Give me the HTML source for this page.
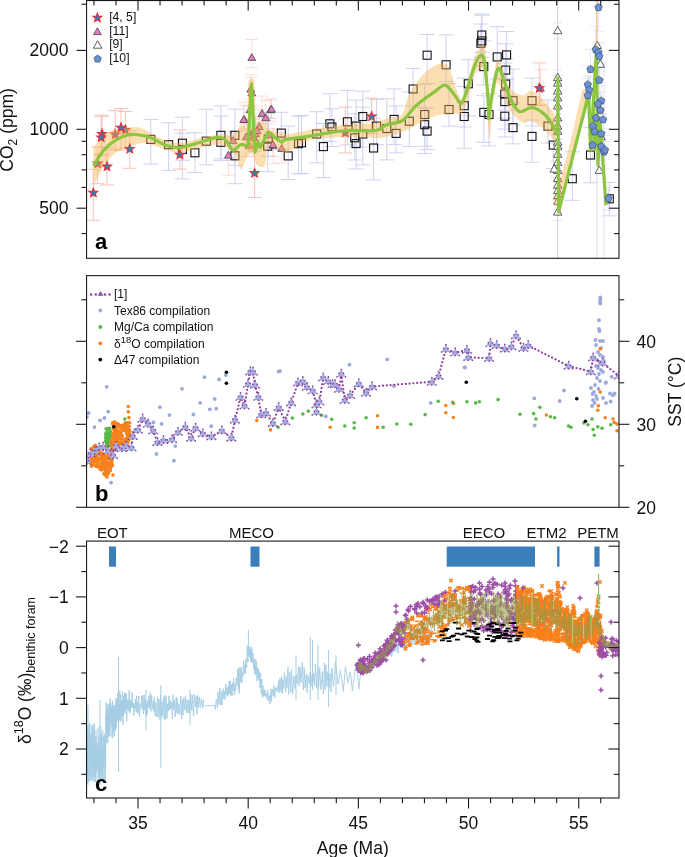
<!DOCTYPE html>
<html><head><meta charset="utf-8"><style>
html,body{margin:0;padding:0;background:#fff;}
svg{display:block;will-change:transform;}
text{font-family:"Liberation Sans",sans-serif;}
</style></head><body>
<svg width="685" height="857" viewBox="0 0 685 857">
<rect width="685" height="857" fill="#fff"/>
<clipPath id="clipA"><rect x="86.55" y="0.55" width="532.45" height="257.75"/></clipPath>
<clipPath id="clipB"><rect x="86.55" y="275.65" width="532.45" height="231.65000000000003"/></clipPath>
<clipPath id="clipC"><rect x="86.55" y="541.1" width="532.45" height="256.9"/></clipPath>
<g clip-path="url(#clipA)">
<path d="M150.8,119.6V164.1M143.3,119.6H158.3M143.3,164.1H158.3" stroke="#c9cdef" stroke-width="1.0" fill="none" opacity="0.9"/>
<path d="M168.6,122.8V170.4M161.1,122.8H176.1M161.1,170.4H176.1" stroke="#c9cdef" stroke-width="1.0" fill="none" opacity="0.9"/>
<path d="M182.4,117.2V160.2M174.9,117.2H189.9M174.9,160.2H189.9" stroke="#c9cdef" stroke-width="1.0" fill="none" opacity="0.9"/>
<path d="M182.4,133.3V178.9M174.9,133.3H189.9M174.9,178.9H189.9" stroke="#c9cdef" stroke-width="1.0" fill="none" opacity="0.9"/>
<path d="M194.9,132.7V172.5M187.4,132.7H202.4M187.4,172.5H202.4" stroke="#c9cdef" stroke-width="1.0" fill="none" opacity="0.9"/>
<path d="M206.3,109.3V164.7M198.8,109.3H213.8M198.8,164.7H213.8" stroke="#c9cdef" stroke-width="1.0" fill="none" opacity="0.9"/>
<path d="M220.9,105.9V158.9M213.4,105.9H228.4M213.4,158.9H228.4" stroke="#c9cdef" stroke-width="1.0" fill="none" opacity="0.9"/>
<path d="M220.9,116.1V160.7M213.4,116.1H228.4M213.4,160.7H228.4" stroke="#c9cdef" stroke-width="1.0" fill="none" opacity="0.9"/>
<path d="M234.9,109.1V165.2M227.4,109.1H242.4M227.4,165.2H242.4" stroke="#c9cdef" stroke-width="1.0" fill="none" opacity="0.9"/>
<path d="M234.9,131.4V183.7M227.4,131.4H242.4M227.4,183.7H242.4" stroke="#c9cdef" stroke-width="1.0" fill="none" opacity="0.9"/>
<path d="M268.2,112.4V156.1M260.7,112.4H275.7M260.7,156.1H275.7" stroke="#c9cdef" stroke-width="1.0" fill="none" opacity="0.9"/>
<path d="M267.7,118.1V171.7M260.2,118.1H275.2M260.2,171.7H275.2" stroke="#c9cdef" stroke-width="1.0" fill="none" opacity="0.9"/>
<path d="M281.3,112.3V149.6M273.8,112.3H288.8M273.8,149.6H288.8" stroke="#c9cdef" stroke-width="1.0" fill="none" opacity="0.9"/>
<path d="M288.2,126.1V179.5M280.7,126.1H295.7M280.7,179.5H295.7" stroke="#c9cdef" stroke-width="1.0" fill="none" opacity="0.9"/>
<path d="M298.5,116.2V173.8M291.0,116.2H306.0M291.0,173.8H306.0" stroke="#c9cdef" stroke-width="1.0" fill="none" opacity="0.9"/>
<path d="M301.5,115.4V173.5M294.0,115.4H309.0M294.0,173.5H309.0" stroke="#c9cdef" stroke-width="1.0" fill="none" opacity="0.9"/>
<path d="M316.7,111.7V162.8M309.2,111.7H324.2M309.2,162.8H324.2" stroke="#c9cdef" stroke-width="1.0" fill="none" opacity="0.9"/>
<path d="M323.4,123.5V177.6M315.9,123.5H330.9M315.9,177.6H330.9" stroke="#c9cdef" stroke-width="1.0" fill="none" opacity="0.9"/>
<path d="M329.9,93.7V141.4M322.4,93.7H337.4M322.4,141.4H337.4" stroke="#c9cdef" stroke-width="1.0" fill="none" opacity="0.9"/>
<path d="M331.9,108.8V146.5M324.4,108.8H339.4M324.4,146.5H339.4" stroke="#c9cdef" stroke-width="1.0" fill="none" opacity="0.9"/>
<path d="M347.4,90.4V144.8M339.9,90.4H354.9M339.9,144.8H354.9" stroke="#c9cdef" stroke-width="1.0" fill="none" opacity="0.9"/>
<path d="M356.1,100.1V146.9M348.6,100.1H363.6M348.6,146.9H363.6" stroke="#c9cdef" stroke-width="1.0" fill="none" opacity="0.9"/>
<path d="M354.7,113.7V160.0M347.2,113.7H362.2M347.2,160.0H362.2" stroke="#c9cdef" stroke-width="1.0" fill="none" opacity="0.9"/>
<path d="M356.1,122.0V169.0M348.6,122.0H363.6M348.6,169.0H363.6" stroke="#c9cdef" stroke-width="1.0" fill="none" opacity="0.9"/>
<path d="M362.8,91.2V147.0M355.3,91.2H370.3M355.3,147.0H370.3" stroke="#c9cdef" stroke-width="1.0" fill="none" opacity="0.9"/>
<path d="M362.8,107.1V164.9M355.3,107.1H370.3M355.3,164.9H370.3" stroke="#c9cdef" stroke-width="1.0" fill="none" opacity="0.9"/>
<path d="M373.6,118.3V179.9M366.1,118.3H381.1M366.1,179.9H381.1" stroke="#c9cdef" stroke-width="1.0" fill="none" opacity="0.9"/>
<path d="M376.6,99.4V144.7M369.1,99.4H384.1M369.1,144.7H384.1" stroke="#c9cdef" stroke-width="1.0" fill="none" opacity="0.9"/>
<path d="M386.8,98.7V159.9M379.3,98.7H394.3M379.3,159.9H394.3" stroke="#c9cdef" stroke-width="1.0" fill="none" opacity="0.9"/>
<path d="M394.1,88.9V144.5M386.6,88.9H401.6M386.6,144.5H401.6" stroke="#c9cdef" stroke-width="1.0" fill="none" opacity="0.9"/>
<path d="M396.1,106.0V152.8M388.6,106.0H403.6M388.6,152.8H403.6" stroke="#c9cdef" stroke-width="1.0" fill="none" opacity="0.9"/>
<path d="M409.3,91.9V146.4M401.8,91.9H416.8M401.8,146.4H416.8" stroke="#c9cdef" stroke-width="1.0" fill="none" opacity="0.9"/>
<path d="M413.1,68.4V106.0M405.6,68.4H420.6M405.6,106.0H420.6" stroke="#c9cdef" stroke-width="1.0" fill="none" opacity="0.9"/>
<path d="M424.7,84.8V146.3M417.2,84.8H432.2M417.2,146.3H432.2" stroke="#c9cdef" stroke-width="1.0" fill="none" opacity="0.9"/>
<path d="M424.7,107.3V153.5M417.2,107.3H432.2M417.2,153.5H432.2" stroke="#c9cdef" stroke-width="1.0" fill="none" opacity="0.9"/>
<path d="M427.1,108.5V149.5M419.6,108.5H434.6M419.6,149.5H434.6" stroke="#c9cdef" stroke-width="1.0" fill="none" opacity="0.9"/>
<path d="M427.1,34.5V83.5M419.6,34.5H434.6M419.6,83.5H434.6" stroke="#c9cdef" stroke-width="1.0" fill="none" opacity="0.9"/>
<path d="M446.1,34.8V81.5M438.6,34.8H453.6M438.6,81.5H453.6" stroke="#c9cdef" stroke-width="1.0" fill="none" opacity="0.9"/>
<path d="M449.0,83.7V126.2M441.5,83.7H456.5M441.5,126.2H456.5" stroke="#c9cdef" stroke-width="1.0" fill="none" opacity="0.9"/>
<path d="M464.2,78.2V127.0M456.7,78.2H471.7M456.7,127.0H471.7" stroke="#c9cdef" stroke-width="1.0" fill="none" opacity="0.9"/>
<path d="M464.2,86.4V148.2M456.7,86.4H471.7M456.7,148.2H471.7" stroke="#c9cdef" stroke-width="1.0" fill="none" opacity="0.9"/>
<path d="M468.3,59.7V115.8M460.8,59.7H475.8M460.8,115.8H475.8" stroke="#c9cdef" stroke-width="1.0" fill="none" opacity="0.9"/>
<path d="M481.8,14.0V52.2M474.3,14.0H489.3M474.3,52.2H489.3" stroke="#c9cdef" stroke-width="1.0" fill="none" opacity="0.9"/>
<path d="M481.8,15.3V57.4M474.3,15.3H489.3M474.3,57.4H489.3" stroke="#c9cdef" stroke-width="1.0" fill="none" opacity="0.9"/>
<path d="M480.9,24.0V65.7M473.4,24.0H488.4M473.4,65.7H488.4" stroke="#c9cdef" stroke-width="1.0" fill="none" opacity="0.9"/>
<path d="M483.8,40.8V85.1M476.3,40.8H491.3M476.3,85.1H491.3" stroke="#c9cdef" stroke-width="1.0" fill="none" opacity="0.9"/>
<path d="M483.8,95.7V142.3M476.3,95.7H491.3M476.3,142.3H491.3" stroke="#c9cdef" stroke-width="1.0" fill="none" opacity="0.9"/>
<path d="M489.0,93.5V145.8M481.5,93.5H496.5M481.5,145.8H496.5" stroke="#c9cdef" stroke-width="1.0" fill="none" opacity="0.9"/>
<path d="M497.2,26.6V78.9M489.7,26.6H504.7M489.7,78.9H504.7" stroke="#c9cdef" stroke-width="1.0" fill="none" opacity="0.9"/>
<path d="M506.6,31.5V79.2M499.1,31.5H514.1M499.1,79.2H514.1" stroke="#c9cdef" stroke-width="1.0" fill="none" opacity="0.9"/>
<path d="M505.7,43.8V95.6M498.2,43.8H513.2M498.2,95.6H513.2" stroke="#c9cdef" stroke-width="1.0" fill="none" opacity="0.9"/>
<path d="M505.7,59.2V110.0M498.2,59.2H513.2M498.2,110.0H513.2" stroke="#c9cdef" stroke-width="1.0" fill="none" opacity="0.9"/>
<path d="M504.8,63.0V118.1M497.3,63.0H512.3M497.3,118.1H512.3" stroke="#c9cdef" stroke-width="1.0" fill="none" opacity="0.9"/>
<path d="M504.8,78.7V129.1M497.3,78.7H512.3M497.3,129.1H512.3" stroke="#c9cdef" stroke-width="1.0" fill="none" opacity="0.9"/>
<path d="M504.8,96.4V137.0M497.3,96.4H512.3M497.3,137.0H512.3" stroke="#c9cdef" stroke-width="1.0" fill="none" opacity="0.9"/>
<path d="M513.0,69.1V125.0M505.5,69.1H520.5M505.5,125.0H520.5" stroke="#c9cdef" stroke-width="1.0" fill="none" opacity="0.9"/>
<path d="M513.0,102.8V143.8M505.5,102.8H520.5M505.5,143.8H520.5" stroke="#c9cdef" stroke-width="1.0" fill="none" opacity="0.9"/>
<path d="M532.0,78.1V126.0M524.5,78.1H539.5M524.5,126.0H539.5" stroke="#c9cdef" stroke-width="1.0" fill="none" opacity="0.9"/>
<path d="M532.0,120.1V162.3M524.5,120.1H539.5M524.5,162.3H539.5" stroke="#c9cdef" stroke-width="1.0" fill="none" opacity="0.9"/>
<path d="M548.0,100.0V143.1M540.5,100.0H555.5M540.5,143.1H555.5" stroke="#c9cdef" stroke-width="1.0" fill="none" opacity="0.9"/>
<path d="M553.3,119.1V168.6M545.8,119.1H560.8M545.8,168.6H560.8" stroke="#c9cdef" stroke-width="1.0" fill="none" opacity="0.9"/>
<path d="M572.3,151.8V200.3M564.8,151.8H579.8M564.8,200.3H579.8" stroke="#c9cdef" stroke-width="1.0" fill="none" opacity="0.9"/>
<path d="M590.5,127.7V182.8M583.0,127.7H598.0M583.0,182.8H598.0" stroke="#c9cdef" stroke-width="1.0" fill="none" opacity="0.9"/>
<path d="M609.3,182.4V215.8M601.8,182.4H616.8M601.8,215.8H616.8" stroke="#c9cdef" stroke-width="1.0" fill="none" opacity="0.9"/>
<path d="M93.3,169.3V220.3M86.3,169.3H100.3M86.3,220.3H100.3" stroke="#f5ada3" stroke-width="1.0" fill="none" opacity="0.75"/>
<path d="M102.0,116.4V154.3M95.0,116.4H109.0M95.0,154.3H109.0" stroke="#f5ada3" stroke-width="1.0" fill="none" opacity="0.75"/>
<path d="M101.2,115.1V155.9M94.2,115.1H108.2M94.2,155.9H108.2" stroke="#f5ada3" stroke-width="1.0" fill="none" opacity="0.75"/>
<path d="M107.0,147.5V185.0M100.0,147.5H114.0M100.0,185.0H114.0" stroke="#f5ada3" stroke-width="1.0" fill="none" opacity="0.75"/>
<path d="M121.0,108.5V150.0M114.0,108.5H128.0M114.0,150.0H128.0" stroke="#f5ada3" stroke-width="1.0" fill="none" opacity="0.75"/>
<path d="M129.8,130.8V168.3M122.8,130.8H136.8M122.8,168.3H136.8" stroke="#f5ada3" stroke-width="1.0" fill="none" opacity="0.75"/>
<path d="M179.9,129.9V169.1M172.9,129.9H186.9M172.9,169.1H186.9" stroke="#f5ada3" stroke-width="1.0" fill="none" opacity="0.75"/>
<path d="M254.6,151.1V197.4M247.6,151.1H261.6M247.6,197.4H261.6" stroke="#f5ada3" stroke-width="1.0" fill="none" opacity="0.75"/>
<path d="M371.6,98.2V133.6M364.6,98.2H378.6M364.6,133.6H378.6" stroke="#f5ada3" stroke-width="1.0" fill="none" opacity="0.75"/>
<path d="M539.3,62.9V105.5M532.3,62.9H546.3M532.3,105.5H546.3" stroke="#f5ada3" stroke-width="1.0" fill="none" opacity="0.75"/>
<path d="M97.7,147.0V183.7M90.7,147.0H104.7M90.7,183.7H104.7" stroke="#f5ada3" stroke-width="1.0" fill="none" opacity="0.75"/>
<path d="M115.2,110.7V149.9M108.2,110.7H122.2M108.2,149.9H122.2" stroke="#f5ada3" stroke-width="1.0" fill="none" opacity="0.75"/>
<path d="M125.4,111.5V148.7M118.4,111.5H132.4M118.4,148.7H132.4" stroke="#f5ada3" stroke-width="1.0" fill="none" opacity="0.75"/>
<path d="M345.3,107.1V152.9M338.3,107.1H352.3M338.3,152.9H352.3" stroke="#f5ada3" stroke-width="1.0" fill="none" opacity="0.75"/>
<path d="M251.8,39.5V67.8M245.8,39.5H257.8M245.8,67.8H257.8" stroke="#f5ada3" stroke-width="0.9" fill="none" opacity="0.45"/>
<path d="M250.8,77.5V105.3M244.8,77.5H256.8M244.8,105.3H256.8" stroke="#f5ada3" stroke-width="0.9" fill="none" opacity="0.45"/>
<path d="M251.8,74.7V106.7M245.8,74.7H257.8M245.8,106.7H257.8" stroke="#f5ada3" stroke-width="0.9" fill="none" opacity="0.45"/>
<path d="M249.9,99.4V119.6M243.9,99.4H255.9M243.9,119.6H255.9" stroke="#f5ada3" stroke-width="0.9" fill="none" opacity="0.45"/>
<path d="M244.3,105.6V130.3M238.3,105.6H250.3M238.3,130.3H250.3" stroke="#f5ada3" stroke-width="0.9" fill="none" opacity="0.45"/>
<path d="M262.1,96.1V131.9M256.1,96.1H268.1M256.1,131.9H268.1" stroke="#f5ada3" stroke-width="0.9" fill="none" opacity="0.45"/>
<path d="M270.5,99.9V121.4M264.5,99.9H276.5M264.5,121.4H276.5" stroke="#f5ada3" stroke-width="0.9" fill="none" opacity="0.45"/>
<path d="M265.8,100.4V133.8M259.8,100.4H271.8M259.8,133.8H271.8" stroke="#f5ada3" stroke-width="0.9" fill="none" opacity="0.45"/>
<path d="M259.3,109.2V139.0M253.3,109.2H265.3M253.3,139.0H265.3" stroke="#f5ada3" stroke-width="0.9" fill="none" opacity="0.45"/>
<path d="M253.0,122.4V143.5M247.0,122.4H259.0M247.0,143.5H259.0" stroke="#f5ada3" stroke-width="0.9" fill="none" opacity="0.45"/>
<path d="M255.5,116.5V145.3M249.5,116.5H261.5M249.5,145.3H261.5" stroke="#f5ada3" stroke-width="0.9" fill="none" opacity="0.45"/>
<path d="M252.0,124.3V149.5M246.0,124.3H258.0M246.0,149.5H258.0" stroke="#f5ada3" stroke-width="0.9" fill="none" opacity="0.45"/>
<path d="M257.0,118.0V143.9M251.0,118.0H263.0M251.0,143.9H263.0" stroke="#f5ada3" stroke-width="0.9" fill="none" opacity="0.45"/>
<path d="M254.0,119.0V147.9M248.0,119.0H260.0M248.0,147.9H260.0" stroke="#f5ada3" stroke-width="0.9" fill="none" opacity="0.45"/>
<path d="M233.1,132.9V160.3M227.1,132.9H239.1M227.1,160.3H239.1" stroke="#f5ada3" stroke-width="0.9" fill="none" opacity="0.45"/>
<path d="M228.4,136.9V175.3M222.4,136.9H234.4M222.4,175.3H234.4" stroke="#f5ada3" stroke-width="0.9" fill="none" opacity="0.45"/>
<path d="M246.2,124.0V156.6M240.2,124.0H252.2M240.2,156.6H252.2" stroke="#f5ada3" stroke-width="0.9" fill="none" opacity="0.45"/>
<path d="M249.0,126.5V156.3M243.0,126.5H255.0M243.0,156.3H255.0" stroke="#f5ada3" stroke-width="0.9" fill="none" opacity="0.45"/>
<path d="M273.3,128.7V163.6M267.3,128.7H279.3M267.3,163.6H279.3" stroke="#f5ada3" stroke-width="0.9" fill="none" opacity="0.45"/>
<path d="M281.7,132.8V163.0M275.7,132.8H287.7M275.7,163.0H287.7" stroke="#f5ada3" stroke-width="0.9" fill="none" opacity="0.45"/>
<path d="M268.6,123.8V147.4M262.6,123.8H274.6M262.6,147.4H274.6" stroke="#f5ada3" stroke-width="0.9" fill="none" opacity="0.45"/>
<path d="M271.5,98.8V118.3M265.5,98.8H277.5M265.5,118.3H277.5" stroke="#f5ada3" stroke-width="0.9" fill="none" opacity="0.45"/>
<path d="M272.9,130.0V156.5M266.9,130.0H278.9M266.9,156.5H278.9" stroke="#f5ada3" stroke-width="0.9" fill="none" opacity="0.45"/>
<path d="M243.7,102.2V128.4M237.7,102.2H249.7M237.7,128.4H249.7" stroke="#f5ada3" stroke-width="0.9" fill="none" opacity="0.45"/>
<path d="M540.5,69.7V104.8M534.5,69.7H546.5M534.5,104.8H546.5" stroke="#f5ada3" stroke-width="0.9" fill="none" opacity="0.45"/>
<path d="M598.5,-16.4V30.9M592.5,-16.4H604.5M592.5,30.9H604.5" stroke="#c9cdef" stroke-width="0.9" fill="none" opacity="0.5"/>
<path d="M595.8,26.2V68.4M589.8,26.2H601.8M589.8,68.4H601.8" stroke="#c9cdef" stroke-width="0.9" fill="none" opacity="0.5"/>
<path d="M598.5,42.2V73.6M592.5,42.2H604.5M592.5,73.6H604.5" stroke="#c9cdef" stroke-width="0.9" fill="none" opacity="0.5"/>
<path d="M599.3,43.8V70.9M593.3,43.8H605.3M593.3,70.9H605.3" stroke="#c9cdef" stroke-width="0.9" fill="none" opacity="0.5"/>
<path d="M590.5,49.4V87.2M584.5,49.4H596.5M584.5,87.2H596.5" stroke="#c9cdef" stroke-width="0.9" fill="none" opacity="0.5"/>
<path d="M599.3,63.9V104.2M593.3,63.9H605.3M593.3,104.2H605.3" stroke="#c9cdef" stroke-width="0.9" fill="none" opacity="0.5"/>
<path d="M587.8,65.4V99.7M581.8,65.4H593.8M581.8,99.7H593.8" stroke="#c9cdef" stroke-width="0.9" fill="none" opacity="0.5"/>
<path d="M589.1,76.2V112.9M583.1,76.2H595.1M583.1,112.9H595.1" stroke="#c9cdef" stroke-width="0.9" fill="none" opacity="0.5"/>
<path d="M587.8,78.2V117.1M581.8,78.2H593.8M581.8,117.1H593.8" stroke="#c9cdef" stroke-width="0.9" fill="none" opacity="0.5"/>
<path d="M601.2,85.5V113.8M595.2,85.5H607.2M595.2,113.8H607.2" stroke="#c9cdef" stroke-width="0.9" fill="none" opacity="0.5"/>
<path d="M600.4,92.2V132.5M594.4,92.2H606.4M594.4,132.5H606.4" stroke="#c9cdef" stroke-width="0.9" fill="none" opacity="0.5"/>
<path d="M603.1,107.0V141.5M597.1,107.0H609.1M597.1,141.5H609.1" stroke="#c9cdef" stroke-width="0.9" fill="none" opacity="0.5"/>
<path d="M593.1,102.5V148.4M587.1,102.5H599.1M587.1,148.4H599.1" stroke="#c9cdef" stroke-width="0.9" fill="none" opacity="0.5"/>
<path d="M594.5,109.2V141.7M588.5,109.2H600.5M588.5,141.7H600.5" stroke="#c9cdef" stroke-width="0.9" fill="none" opacity="0.5"/>
<path d="M601.2,114.4V156.7M595.2,114.4H607.2M595.2,156.7H607.2" stroke="#c9cdef" stroke-width="0.9" fill="none" opacity="0.5"/>
<path d="M592.6,134.4V159.2M586.6,134.4H598.6M586.6,159.2H598.6" stroke="#c9cdef" stroke-width="0.9" fill="none" opacity="0.5"/>
<path d="M601.2,132.4V164.3M595.2,132.4H607.2M595.2,164.3H607.2" stroke="#c9cdef" stroke-width="0.9" fill="none" opacity="0.5"/>
<path d="M603.9,135.5V168.9M597.9,135.5H609.9M597.9,168.9H609.9" stroke="#c9cdef" stroke-width="0.9" fill="none" opacity="0.5"/>
<path d="M605.0,128.4V160.0M599.0,128.4H611.0M599.0,160.0H611.0" stroke="#c9cdef" stroke-width="0.9" fill="none" opacity="0.5"/>
<path d="M608.5,187.5V210.2M602.5,187.5H614.5M602.5,210.2H614.5" stroke="#c9cdef" stroke-width="0.9" fill="none" opacity="0.5"/>
<path d="M596.0,106.1V129.0M590.0,106.1H602.0M590.0,129.0H602.0" stroke="#c9cdef" stroke-width="0.9" fill="none" opacity="0.5"/>
<path d="M598.0,79.4V126.8M592.0,79.4H604.0M592.0,126.8H604.0" stroke="#c9cdef" stroke-width="0.9" fill="none" opacity="0.5"/>
<line x1="557.70" y1="0.00" x2="557.70" y2="258.00" stroke="#cfcfcf" stroke-width="1.0" />
<path d="M553.7,22.9H561.7M553.7,38.9H561.7" stroke="#d9d9d9" stroke-width="0.8"/>
<path d="M553.7,69.9H561.7M553.7,85.9H561.7" stroke="#d9d9d9" stroke-width="0.8"/>
<path d="M553.7,75.3H561.7M553.7,91.3H561.7" stroke="#d9d9d9" stroke-width="0.8"/>
<path d="M553.7,83.3H561.7M553.7,99.3H561.7" stroke="#d9d9d9" stroke-width="0.8"/>
<path d="M553.7,90.1H561.7M553.7,106.1H561.7" stroke="#d9d9d9" stroke-width="0.8"/>
<path d="M553.7,98.1H561.7M553.7,114.1H561.7" stroke="#d9d9d9" stroke-width="0.8"/>
<path d="M553.7,110.2H561.7M553.7,126.2H561.7" stroke="#d9d9d9" stroke-width="0.8"/>
<path d="M553.7,118.3H561.7M553.7,134.3H561.7" stroke="#d9d9d9" stroke-width="0.8"/>
<path d="M553.7,123.6H561.7M553.7,139.6H561.7" stroke="#d9d9d9" stroke-width="0.8"/>
<path d="M553.7,134.4H561.7M553.7,150.4H561.7" stroke="#d9d9d9" stroke-width="0.8"/>
<path d="M553.7,138.4H561.7M553.7,154.4H561.7" stroke="#d9d9d9" stroke-width="0.8"/>
<path d="M553.7,146.5H561.7M553.7,162.5H561.7" stroke="#d9d9d9" stroke-width="0.8"/>
<path d="M553.7,154.5H561.7M553.7,170.5H561.7" stroke="#d9d9d9" stroke-width="0.8"/>
<path d="M553.7,162.6H561.7M553.7,178.6H561.7" stroke="#d9d9d9" stroke-width="0.8"/>
<path d="M553.7,170.7H561.7M553.7,186.7H561.7" stroke="#d9d9d9" stroke-width="0.8"/>
<path d="M553.7,177.4H561.7M553.7,193.4H561.7" stroke="#d9d9d9" stroke-width="0.8"/>
<path d="M553.7,182.8H561.7M553.7,198.8H561.7" stroke="#d9d9d9" stroke-width="0.8"/>
<path d="M553.7,188.1H561.7M553.7,204.1H561.7" stroke="#d9d9d9" stroke-width="0.8"/>
<path d="M553.7,193.5H561.7M553.7,209.5H561.7" stroke="#d9d9d9" stroke-width="0.8"/>
<path d="M553.7,204.3H561.7M553.7,220.3H561.7" stroke="#d9d9d9" stroke-width="0.8"/>
<path d="M550.2,161.3H558.2M550.2,177.3H558.2" stroke="#d9d9d9" stroke-width="0.8"/>
<line x1="597.00" y1="0.00" x2="597.00" y2="258.00" stroke="#dedbe8" stroke-width="1.0" />
<line x1="604.00" y1="60.00" x2="604.00" y2="258.00" stroke="#e2e0ee" stroke-width="1.0" />
<rect x="146.8" y="135.4" width="8.0" height="8.0" fill="none" stroke="#111" stroke-width="1.1"/>
<rect x="164.6" y="140.7" width="8.0" height="8.0" fill="none" stroke="#111" stroke-width="1.1"/>
<rect x="178.4" y="139.2" width="8.0" height="8.0" fill="none" stroke="#111" stroke-width="1.1"/>
<rect x="178.4" y="145.5" width="8.0" height="8.0" fill="none" stroke="#111" stroke-width="1.1"/>
<rect x="190.9" y="148.8" width="8.0" height="8.0" fill="none" stroke="#111" stroke-width="1.1"/>
<rect x="202.3" y="137.2" width="8.0" height="8.0" fill="none" stroke="#111" stroke-width="1.1"/>
<rect x="216.9" y="131.3" width="8.0" height="8.0" fill="none" stroke="#111" stroke-width="1.1"/>
<rect x="216.9" y="138.3" width="8.0" height="8.0" fill="none" stroke="#111" stroke-width="1.1"/>
<rect x="230.9" y="131.3" width="8.0" height="8.0" fill="none" stroke="#111" stroke-width="1.1"/>
<rect x="230.9" y="151.8" width="8.0" height="8.0" fill="none" stroke="#111" stroke-width="1.1"/>
<rect x="264.2" y="135.1" width="8.0" height="8.0" fill="none" stroke="#111" stroke-width="1.1"/>
<rect x="263.7" y="142.2" width="8.0" height="8.0" fill="none" stroke="#111" stroke-width="1.1"/>
<rect x="277.3" y="129.1" width="8.0" height="8.0" fill="none" stroke="#111" stroke-width="1.1"/>
<rect x="284.2" y="151.9" width="8.0" height="8.0" fill="none" stroke="#111" stroke-width="1.1"/>
<rect x="294.5" y="139.7" width="8.0" height="8.0" fill="none" stroke="#111" stroke-width="1.1"/>
<rect x="297.5" y="138.8" width="8.0" height="8.0" fill="none" stroke="#111" stroke-width="1.1"/>
<rect x="312.7" y="130.0" width="8.0" height="8.0" fill="none" stroke="#111" stroke-width="1.1"/>
<rect x="319.4" y="142.6" width="8.0" height="8.0" fill="none" stroke="#111" stroke-width="1.1"/>
<rect x="325.9" y="119.8" width="8.0" height="8.0" fill="none" stroke="#111" stroke-width="1.1"/>
<rect x="327.9" y="123.0" width="8.0" height="8.0" fill="none" stroke="#111" stroke-width="1.1"/>
<rect x="343.4" y="117.8" width="8.0" height="8.0" fill="none" stroke="#111" stroke-width="1.1"/>
<rect x="352.1" y="122.1" width="8.0" height="8.0" fill="none" stroke="#111" stroke-width="1.1"/>
<rect x="350.7" y="133.8" width="8.0" height="8.0" fill="none" stroke="#111" stroke-width="1.1"/>
<rect x="352.1" y="139.6" width="8.0" height="8.0" fill="none" stroke="#111" stroke-width="1.1"/>
<rect x="358.8" y="112.5" width="8.0" height="8.0" fill="none" stroke="#111" stroke-width="1.1"/>
<rect x="358.8" y="130.0" width="8.0" height="8.0" fill="none" stroke="#111" stroke-width="1.1"/>
<rect x="369.6" y="144.0" width="8.0" height="8.0" fill="none" stroke="#111" stroke-width="1.1"/>
<rect x="372.6" y="122.1" width="8.0" height="8.0" fill="none" stroke="#111" stroke-width="1.1"/>
<rect x="382.8" y="124.5" width="8.0" height="8.0" fill="none" stroke="#111" stroke-width="1.1"/>
<rect x="390.1" y="115.4" width="8.0" height="8.0" fill="none" stroke="#111" stroke-width="1.1"/>
<rect x="392.1" y="129.4" width="8.0" height="8.0" fill="none" stroke="#111" stroke-width="1.1"/>
<rect x="405.3" y="117.2" width="8.0" height="8.0" fill="none" stroke="#111" stroke-width="1.1"/>
<rect x="409.1" y="85.0" width="8.0" height="8.0" fill="none" stroke="#111" stroke-width="1.1"/>
<rect x="420.7" y="110.5" width="8.0" height="8.0" fill="none" stroke="#111" stroke-width="1.1"/>
<rect x="420.7" y="120.7" width="8.0" height="8.0" fill="none" stroke="#111" stroke-width="1.1"/>
<rect x="423.1" y="127.1" width="8.0" height="8.0" fill="none" stroke="#111" stroke-width="1.1"/>
<rect x="423.1" y="51.2" width="8.0" height="8.0" fill="none" stroke="#111" stroke-width="1.1"/>
<rect x="442.1" y="60.8" width="8.0" height="8.0" fill="none" stroke="#111" stroke-width="1.1"/>
<rect x="445.0" y="105.5" width="8.0" height="8.0" fill="none" stroke="#111" stroke-width="1.1"/>
<rect x="460.2" y="101.7" width="8.0" height="8.0" fill="none" stroke="#111" stroke-width="1.1"/>
<rect x="460.2" y="112.5" width="8.0" height="8.0" fill="none" stroke="#111" stroke-width="1.1"/>
<rect x="464.3" y="79.8" width="8.0" height="8.0" fill="none" stroke="#111" stroke-width="1.1"/>
<rect x="477.8" y="31.0" width="8.0" height="8.0" fill="none" stroke="#111" stroke-width="1.1"/>
<rect x="477.8" y="36.9" width="8.0" height="8.0" fill="none" stroke="#111" stroke-width="1.1"/>
<rect x="476.9" y="39.2" width="8.0" height="8.0" fill="none" stroke="#111" stroke-width="1.1"/>
<rect x="479.8" y="62.6" width="8.0" height="8.0" fill="none" stroke="#111" stroke-width="1.1"/>
<rect x="479.8" y="108.4" width="8.0" height="8.0" fill="none" stroke="#111" stroke-width="1.1"/>
<rect x="485.0" y="110.5" width="8.0" height="8.0" fill="none" stroke="#111" stroke-width="1.1"/>
<rect x="493.2" y="52.9" width="8.0" height="8.0" fill="none" stroke="#111" stroke-width="1.1"/>
<rect x="502.6" y="50.9" width="8.0" height="8.0" fill="none" stroke="#111" stroke-width="1.1"/>
<rect x="501.7" y="66.1" width="8.0" height="8.0" fill="none" stroke="#111" stroke-width="1.1"/>
<rect x="501.7" y="80.1" width="8.0" height="8.0" fill="none" stroke="#111" stroke-width="1.1"/>
<rect x="500.8" y="90.0" width="8.0" height="8.0" fill="none" stroke="#111" stroke-width="1.1"/>
<rect x="500.8" y="97.6" width="8.0" height="8.0" fill="none" stroke="#111" stroke-width="1.1"/>
<rect x="500.8" y="112.2" width="8.0" height="8.0" fill="none" stroke="#111" stroke-width="1.1"/>
<rect x="509.0" y="96.7" width="8.0" height="8.0" fill="none" stroke="#111" stroke-width="1.1"/>
<rect x="509.0" y="123.6" width="8.0" height="8.0" fill="none" stroke="#111" stroke-width="1.1"/>
<rect x="528.0" y="96.7" width="8.0" height="8.0" fill="none" stroke="#111" stroke-width="1.1"/>
<rect x="528.0" y="132.4" width="8.0" height="8.0" fill="none" stroke="#111" stroke-width="1.1"/>
<rect x="544.0" y="122.1" width="8.0" height="8.0" fill="none" stroke="#111" stroke-width="1.1"/>
<rect x="549.3" y="141.1" width="8.0" height="8.0" fill="none" stroke="#111" stroke-width="1.1"/>
<rect x="568.3" y="174.7" width="8.0" height="8.0" fill="none" stroke="#111" stroke-width="1.1"/>
<rect x="586.5" y="151.0" width="8.0" height="8.0" fill="none" stroke="#111" stroke-width="1.1"/>
<rect x="605.3" y="194.8" width="8.0" height="8.0" fill="none" stroke="#111" stroke-width="1.1"/>
<polygon points="97.7,158.9 98.9,161.9 102.2,162.1 99.7,164.2 100.5,167.4 97.7,165.7 94.9,167.4 95.7,164.2 93.2,162.1 96.5,161.9" fill="#2f7dc0" stroke="#e53238" stroke-width="1.15" stroke-linejoin="miter"/>
<polygon points="115.2,129.8 116.4,132.8 119.7,133.0 117.2,135.1 118.0,138.3 115.2,136.6 112.4,138.3 113.2,135.1 110.7,133.0 114.0,132.8" fill="#2f7dc0" stroke="#e53238" stroke-width="1.15" stroke-linejoin="miter"/>
<polygon points="125.4,125.3 126.6,128.3 129.9,128.5 127.4,130.6 128.2,133.8 125.4,132.1 122.6,133.8 123.4,130.6 120.9,128.5 124.2,128.3" fill="#2f7dc0" stroke="#e53238" stroke-width="1.15" stroke-linejoin="miter"/>
<polygon points="345.3,128.1 346.5,131.1 349.8,131.3 347.3,133.4 348.1,136.6 345.3,134.9 342.5,136.6 343.3,133.4 340.8,131.3 344.1,131.1" fill="#2f7dc0" stroke="#e53238" stroke-width="1.15" stroke-linejoin="miter"/>
<polygon points="251.8,53.6 247.9,60.4 255.7,60.4" fill="#e37bc0" stroke="#444" stroke-width="0.8" />
<polygon points="250.8,85.3 246.9,92.1 254.7,92.1" fill="#e37bc0" stroke="#444" stroke-width="0.8" />
<polygon points="251.8,89.1 247.9,95.9 255.7,95.9" fill="#e37bc0" stroke="#444" stroke-width="0.8" />
<polygon points="249.9,105.9 246.0,112.7 253.8,112.7" fill="#e37bc0" stroke="#444" stroke-width="0.8" />
<polygon points="244.3,115.8 240.4,122.6 248.2,122.6" fill="#e37bc0" stroke="#444" stroke-width="0.8" />
<polygon points="262.1,109.6 258.2,116.4 266.0,116.4" fill="#e37bc0" stroke="#444" stroke-width="0.8" />
<polygon points="270.5,105.9 266.6,112.7 274.4,112.7" fill="#e37bc0" stroke="#444" stroke-width="0.8" />
<polygon points="265.8,113.9 261.9,120.7 269.7,120.7" fill="#e37bc0" stroke="#444" stroke-width="0.8" />
<polygon points="259.3,122.7 255.4,129.5 263.2,129.5" fill="#e37bc0" stroke="#444" stroke-width="0.8" />
<polygon points="253.0,127.8 249.1,134.6 256.9,134.6" fill="#e37bc0" stroke="#444" stroke-width="0.8" />
<polygon points="255.5,129.8 251.6,136.6 259.4,136.6" fill="#e37bc0" stroke="#444" stroke-width="0.8" />
<polygon points="252.0,132.3 248.1,139.1 255.9,139.1" fill="#e37bc0" stroke="#444" stroke-width="0.8" />
<polygon points="257.0,126.8 253.1,133.6 260.9,133.6" fill="#e37bc0" stroke="#444" stroke-width="0.8" />
<polygon points="254.0,133.8 250.1,140.6 257.9,140.6" fill="#e37bc0" stroke="#444" stroke-width="0.8" />
<polygon points="233.1,136.8 229.2,143.6 237.0,143.6" fill="#e37bc0" stroke="#444" stroke-width="0.8" />
<polygon points="228.4,151.3 224.5,158.1 232.3,158.1" fill="#e37bc0" stroke="#444" stroke-width="0.8" />
<polygon points="246.2,133.0 242.3,139.8 250.1,139.8" fill="#e37bc0" stroke="#444" stroke-width="0.8" />
<polygon points="249.0,141.4 245.1,148.2 252.9,148.2" fill="#e37bc0" stroke="#444" stroke-width="0.8" />
<polygon points="273.3,141.4 269.4,148.2 277.2,148.2" fill="#e37bc0" stroke="#444" stroke-width="0.8" />
<polygon points="281.7,144.6 277.8,151.4 285.6,151.4" fill="#e37bc0" stroke="#444" stroke-width="0.8" />
<polygon points="268.6,131.1 264.7,137.9 272.5,137.9" fill="#e37bc0" stroke="#444" stroke-width="0.8" />
<polygon points="271.5,105.3 267.6,112.1 275.4,112.1" fill="#e37bc0" stroke="#444" stroke-width="0.8" />
<polygon points="272.9,140.9 269.0,147.7 276.8,147.7" fill="#e37bc0" stroke="#444" stroke-width="0.8" />
<polygon points="243.7,115.7 239.8,122.5 247.6,122.5" fill="#e37bc0" stroke="#444" stroke-width="0.8" />
<polygon points="540.5,84.3 536.6,91.1 544.4,91.1" fill="#e37bc0" stroke="#444" stroke-width="0.8" />
<polygon points="557.7,26.3 553.5,33.7 561.9,33.7" fill="#ffffff" stroke="#333" stroke-width="0.8" />
<polygon points="557.7,73.3 553.5,80.7 561.9,80.7" fill="#ffffff" stroke="#333" stroke-width="0.8" />
<polygon points="557.7,78.7 553.5,86.1 561.9,86.1" fill="#ffffff" stroke="#333" stroke-width="0.8" />
<polygon points="557.7,86.7 553.5,94.1 561.9,94.1" fill="#ffffff" stroke="#333" stroke-width="0.8" />
<polygon points="557.7,93.5 553.5,100.9 561.9,100.9" fill="#ffffff" stroke="#333" stroke-width="0.8" />
<polygon points="557.7,101.5 553.5,108.9 561.9,108.9" fill="#ffffff" stroke="#333" stroke-width="0.8" />
<polygon points="557.7,113.6 553.5,121.0 561.9,121.0" fill="#ffffff" stroke="#333" stroke-width="0.8" />
<polygon points="557.7,121.7 553.5,129.1 561.9,129.1" fill="#ffffff" stroke="#333" stroke-width="0.8" />
<polygon points="557.7,127.0 553.5,134.4 561.9,134.4" fill="#ffffff" stroke="#333" stroke-width="0.8" />
<polygon points="557.7,137.8 553.5,145.2 561.9,145.2" fill="#ffffff" stroke="#333" stroke-width="0.8" />
<polygon points="557.7,141.8 553.5,149.2 561.9,149.2" fill="#ffffff" stroke="#333" stroke-width="0.8" />
<polygon points="557.7,149.9 553.5,157.3 561.9,157.3" fill="#ffffff" stroke="#333" stroke-width="0.8" />
<polygon points="557.7,157.9 553.5,165.3 561.9,165.3" fill="#ffffff" stroke="#333" stroke-width="0.8" />
<polygon points="557.7,166.0 553.5,173.4 561.9,173.4" fill="#ffffff" stroke="#333" stroke-width="0.8" />
<polygon points="557.7,174.1 553.5,181.5 561.9,181.5" fill="#ffffff" stroke="#333" stroke-width="0.8" />
<polygon points="557.7,180.8 553.5,188.2 561.9,188.2" fill="#ffffff" stroke="#333" stroke-width="0.8" />
<polygon points="557.7,186.2 553.5,193.6 561.9,193.6" fill="#ffffff" stroke="#333" stroke-width="0.8" />
<polygon points="557.7,191.5 553.5,198.9 561.9,198.9" fill="#ffffff" stroke="#333" stroke-width="0.8" />
<polygon points="557.7,196.9 553.5,204.3 561.9,204.3" fill="#ffffff" stroke="#333" stroke-width="0.8" />
<polygon points="557.7,207.7 553.5,215.1 561.9,215.1" fill="#ffffff" stroke="#333" stroke-width="0.8" />
<polygon points="554.2,164.7 550.0,172.1 558.4,172.1" fill="#ffffff" stroke="#333" stroke-width="0.8" />
<polygon points="597.2,41.1 593.0,48.5 601.4,48.5" fill="#ffffff" stroke="#333" stroke-width="0.8" />
<polygon points="600.4,59.9 596.2,67.3 604.6,67.3" fill="#ffffff" stroke="#333" stroke-width="0.8" />
<polygon points="599.3,166.0 595.1,173.4 603.5,173.4" fill="#ffffff" stroke="#333" stroke-width="0.8" />
<polygon points="601.0,132.4 596.8,139.8 605.2,139.8" fill="#ffffff" stroke="#333" stroke-width="0.8" />
<path d="M93.3,147.0 C94.2,146.0 96.8,143.2 98.9,141.0 C101.0,138.8 103.0,136.0 105.8,134.0 C108.6,132.0 112.5,130.1 115.8,129.0 C119.1,127.9 122.3,127.8 125.7,127.5 C129.1,127.2 132.9,126.7 136.0,127.0 C139.1,127.3 140.1,127.5 144.4,129.5 C148.7,131.5 156.1,136.5 161.9,138.8 C167.7,141.1 172.6,143.4 179.4,143.2 C186.2,143.0 196.0,138.8 202.8,137.4 C209.6,136.0 215.8,134.9 220.3,134.5 C224.8,134.1 227.4,135.2 230.0,135.0 C232.6,134.8 234.2,134.7 236.0,133.0 C237.8,131.3 239.1,125.8 240.6,125.0 C242.1,124.2 243.8,126.8 245.0,128.0 C246.2,129.2 247.1,130.7 248.0,132.0 C248.9,133.3 249.7,135.0 250.5,136.0 C251.3,137.0 251.8,140.3 253.0,138.0 C254.2,135.7 255.4,124.8 257.4,122.2 C259.4,119.6 263.0,121.0 264.9,122.2 C266.8,123.5 265.8,127.9 268.6,129.7 C271.4,131.5 278.6,132.3 281.7,133.0 C284.8,133.7 284.4,134.2 287.5,134.0 C290.6,133.8 295.6,132.8 300.0,132.0 C304.4,131.2 306.2,130.2 313.8,129.0 C321.4,127.8 335.7,125.5 345.9,124.5 C356.1,123.5 369.4,123.7 375.1,123.0 C380.8,122.3 377.4,121.4 380.0,120.5 C382.6,119.6 387.4,118.5 391.0,117.5 C394.6,116.5 398.9,118.6 401.9,114.7 C404.9,110.8 405.5,100.8 409.2,94.0 C412.9,87.2 418.9,79.0 423.8,74.0 C428.7,69.0 434.3,65.5 438.4,64.3 C442.5,63.0 445.7,62.5 448.6,66.5 C451.5,70.5 453.7,82.7 455.9,88.0 C458.1,93.3 459.8,99.9 461.8,98.6 C463.8,97.3 465.7,86.7 467.8,80.0 C469.9,73.3 472.2,64.2 474.3,58.5 C476.4,52.8 479.0,47.8 480.7,45.7 C482.4,43.6 483.6,42.0 484.7,45.7 C485.8,49.5 486.3,59.1 487.1,68.2 C487.9,77.3 488.8,96.7 489.5,100.3 C490.2,103.9 490.4,94.0 491.1,90.0 C491.8,86.0 492.4,81.2 493.5,76.2 C494.6,71.2 496.0,61.2 497.6,60.1 C499.2,59.0 501.2,65.2 503.2,69.8 C505.2,74.3 506.4,83.1 509.6,87.4 C512.8,91.7 518.9,95.0 522.4,95.5 C525.9,96.0 527.5,90.4 530.5,90.7 C533.5,91.0 536.6,93.9 540.1,97.1 C543.6,100.3 548.8,106.5 551.4,110.0 C554.0,113.5 555.2,116.7 556.0,118.0 L556.0,146.0 C555.2,144.5 554.0,140.3 551.4,137.0 C548.8,133.7 543.6,128.7 540.1,126.0 C536.6,123.3 533.5,121.5 530.5,121.0 C527.5,120.5 525.9,124.6 522.4,122.8 C518.9,121.0 512.8,114.5 509.6,110.0 C506.4,105.5 505.2,100.1 503.2,95.5 C501.2,90.9 499.2,81.8 497.6,82.6 C496.0,83.3 494.6,93.3 493.5,100.0 C492.4,106.7 491.8,116.3 491.1,122.8 C490.4,129.3 490.2,141.8 489.5,138.8 C488.8,135.8 487.9,115.4 487.1,105.0 C486.3,94.6 485.8,82.3 484.7,76.2 C483.6,70.1 482.4,68.2 480.7,68.2 C479.0,68.2 476.4,70.9 474.3,76.2 C472.2,81.5 469.9,94.1 467.8,100.3 C465.7,106.5 463.8,111.3 461.8,113.5 C459.8,115.7 458.1,113.0 455.9,113.2 C453.7,113.4 451.5,114.2 448.6,114.5 C445.7,114.8 442.5,114.0 438.4,115.0 C434.3,116.0 428.7,118.2 423.8,120.5 C418.9,122.8 412.9,127.0 409.2,129.0 C405.5,130.9 404.9,131.1 401.9,132.2 C398.9,133.3 394.6,134.5 391.0,135.5 C387.4,136.5 382.6,137.6 380.0,138.0 C377.4,138.4 380.8,138.2 375.1,138.0 C369.4,137.8 356.1,136.8 345.9,137.0 C335.7,137.2 321.4,138.0 313.8,139.3 C306.2,140.6 304.4,142.8 300.0,145.0 C295.6,147.2 290.6,151.4 287.5,152.4 C284.4,153.4 284.8,152.3 281.7,151.0 C278.6,149.7 271.4,142.3 268.6,144.7 C265.8,147.1 266.8,161.8 264.9,165.2 C263.0,168.6 259.4,166.7 257.4,165.2 C255.4,163.7 254.2,158.0 253.0,156.0 C251.8,154.0 251.3,153.2 250.5,153.0 C249.7,152.8 248.9,153.5 248.0,155.0 C247.1,156.5 246.2,159.7 245.0,162.0 C243.8,164.3 242.1,170.0 240.6,169.0 C239.1,168.0 237.8,159.2 236.0,156.0 C234.2,152.8 232.6,151.9 230.0,150.0 C227.4,148.1 224.8,145.2 220.3,144.7 C215.8,144.2 209.6,145.7 202.8,147.0 C196.0,148.3 186.2,152.6 179.4,152.8 C172.6,153.0 167.7,149.8 161.9,148.2 C156.1,146.6 148.7,143.6 144.4,143.0 C140.1,142.4 139.1,144.0 136.0,144.8 C132.9,145.6 129.1,146.5 125.7,147.8 C122.3,149.1 119.1,150.2 115.8,152.7 C112.5,155.2 108.6,159.3 105.8,163.0 C103.0,166.7 101.0,171.2 98.9,175.0 C96.8,178.8 94.2,184.2 93.3,186.0 Z" fill="rgb(246,176,72)" fill-opacity="0.42"/>
<polyline points="249.5,150.0 251.4,82.0 253.5,152.0" fill="none" stroke="rgb(246,176,72)" stroke-width="6" stroke-opacity="0.42" stroke-linejoin="round"/>
<polyline points="556.5,206.0 572.0,150.0 585.8,90.0" fill="none" stroke="rgb(246,176,72)" stroke-width="7" stroke-opacity="0.42" stroke-linejoin="round"/>
<polyline points="596.8,0.0 596.8,50.0" fill="none" stroke="rgb(246,176,72)" stroke-width="1.6" stroke-opacity="0.5"/>
<path d="M93.4,166.0 C95.1,163.4 99.9,154.8 103.5,150.5 C107.1,146.2 111.3,142.8 115.2,140.3 C119.1,137.8 123.5,136.3 126.9,135.3 C130.3,134.3 131.7,134.2 135.6,134.5 C139.5,134.8 145.3,135.7 150.2,137.4 C155.1,139.1 159.9,143.0 164.8,144.7 C169.7,146.4 174.0,147.8 179.4,147.6 C184.8,147.3 190.7,144.9 197.0,143.2 C203.3,141.5 212.6,137.8 217.4,137.4 C222.2,137.0 223.4,138.3 226.0,140.5 C228.6,142.7 230.7,149.6 233.1,150.3 C235.5,151.0 238.1,145.3 240.6,144.7 C243.1,144.1 246.8,146.2 248.0,146.5" fill="none" stroke="#8cc540" stroke-width="3.2" stroke-linejoin="round"/>
<polyline points="248.0,146.5 251.4,83.9 255.1,152.1 258.3,141.9 260.2,147.5 268.6,131.6" fill="none" stroke="#8cc540" stroke-width="3.2" stroke-linejoin="round"/>
<path d="M268.6,131.6 C269.7,132.6 272.8,135.7 275.0,137.5 C277.2,139.3 280.1,141.8 281.7,142.2 C283.3,142.6 281.6,140.7 284.6,139.9 C287.7,139.1 294.6,138.3 300.0,137.5 C305.4,136.7 309.1,136.1 316.7,134.9 C324.3,133.7 336.2,131.2 345.9,130.5 C355.6,129.8 368.3,131.5 375.1,130.5 C381.9,129.5 382.2,126.4 386.8,124.7 C391.4,123.0 397.9,123.5 402.8,120.3 C407.7,117.1 410.9,110.3 416.0,105.7 C421.1,101.1 428.6,96.0 433.5,92.6 C438.4,89.2 441.6,84.8 445.2,85.3 C448.8,85.8 452.3,92.5 455.0,95.5 C457.7,98.5 459.3,104.8 461.4,103.5 C463.5,102.2 465.6,93.6 467.8,87.4 C470.0,81.2 472.2,71.9 474.3,66.6 C476.4,61.2 479.0,55.8 480.7,55.3 C482.4,54.8 483.5,56.4 484.7,63.4 C485.9,70.4 487.2,87.7 487.9,97.1 C488.6,106.5 488.6,115.8 488.7,119.6" fill="none" stroke="#8cc540" stroke-width="3.2" stroke-linejoin="round"/>
<path d="M488.7,119.6 C489.1,116.4 489.6,108.7 491.1,100.3 C492.6,91.9 495.6,72.8 497.6,69.0 C499.6,65.2 501.2,73.1 503.2,77.8 C505.2,82.5 506.9,91.5 509.6,97.1 C512.3,102.7 515.5,109.8 519.2,111.5 C523.0,113.2 527.8,107.0 532.1,107.5 C536.4,108.0 541.4,111.6 544.9,114.7 C548.4,117.8 550.9,122.5 553.0,126.0 C555.1,129.5 557.0,134.0 557.8,135.6" fill="none" stroke="#8cc540" stroke-width="3.2" stroke-linejoin="round"/>
<polyline points="557.8,135.6 557.9,77.8 558.6,212.0 588.7,94.0 590.5,150.0 596.4,50.0 598.0,165.0 600.0,120.0 606.0,205.1" fill="none" stroke="#8cc540" stroke-width="3.2" stroke-linejoin="round"/>
<polyline points="593.5,100.0 594.5,150.0 596.0,120.0" fill="none" stroke="#8cc540" stroke-width="2.6" stroke-linejoin="round"/>
<polygon points="598.5,3.6 602.2,6.3 600.8,10.7 596.2,10.7 594.8,6.3" fill="#6b91d2" stroke="#3d4f73" stroke-width="0.7"/>
<polygon points="595.8,45.8 599.5,48.5 598.1,52.9 593.5,52.9 592.1,48.5" fill="#6b91d2" stroke="#3d4f73" stroke-width="0.7"/>
<polygon points="598.5,48.5 602.2,51.2 600.8,55.6 596.2,55.6 594.8,51.2" fill="#6b91d2" stroke="#3d4f73" stroke-width="0.7"/>
<polygon points="599.3,52.5 603.0,55.2 601.6,59.6 597.0,59.6 595.6,55.2" fill="#6b91d2" stroke="#3d4f73" stroke-width="0.7"/>
<polygon points="590.5,65.4 594.2,68.1 592.8,72.5 588.2,72.5 586.8,68.1" fill="#6b91d2" stroke="#3d4f73" stroke-width="0.7"/>
<polygon points="599.3,76.2 603.0,78.9 601.6,83.3 597.0,83.3 595.6,78.9" fill="#6b91d2" stroke="#3d4f73" stroke-width="0.7"/>
<polygon points="587.8,80.7 591.5,83.4 590.1,87.8 585.5,87.8 584.1,83.4" fill="#6b91d2" stroke="#3d4f73" stroke-width="0.7"/>
<polygon points="589.1,86.1 592.8,88.8 591.4,93.2 586.8,93.2 585.4,88.8" fill="#6b91d2" stroke="#3d4f73" stroke-width="0.7"/>
<polygon points="587.8,91.5 591.5,94.2 590.1,98.6 585.5,98.6 584.1,94.2" fill="#6b91d2" stroke="#3d4f73" stroke-width="0.7"/>
<polygon points="601.2,96.9 604.9,99.6 603.5,104.0 598.9,104.0 597.5,99.6" fill="#6b91d2" stroke="#3d4f73" stroke-width="0.7"/>
<polygon points="600.4,106.3 604.1,109.0 602.7,113.4 598.1,113.4 596.7,109.0" fill="#6b91d2" stroke="#3d4f73" stroke-width="0.7"/>
<polygon points="603.1,115.7 606.8,118.4 605.4,122.8 600.8,122.8 599.4,118.4" fill="#6b91d2" stroke="#3d4f73" stroke-width="0.7"/>
<polygon points="593.1,122.4 596.8,125.1 595.4,129.5 590.8,129.5 589.4,125.1" fill="#6b91d2" stroke="#3d4f73" stroke-width="0.7"/>
<polygon points="594.5,127.7 598.2,130.4 596.8,134.8 592.2,134.8 590.8,130.4" fill="#6b91d2" stroke="#3d4f73" stroke-width="0.7"/>
<polygon points="601.2,129.9 604.9,132.6 603.5,137.0 598.9,137.0 597.5,132.6" fill="#6b91d2" stroke="#3d4f73" stroke-width="0.7"/>
<polygon points="592.6,141.2 596.3,143.9 594.9,148.3 590.3,148.3 588.9,143.9" fill="#6b91d2" stroke="#3d4f73" stroke-width="0.7"/>
<polygon points="601.2,142.5 604.9,145.2 603.5,149.6 598.9,149.6 597.5,145.2" fill="#6b91d2" stroke="#3d4f73" stroke-width="0.7"/>
<polygon points="603.9,147.9 607.6,150.6 606.2,155.0 601.6,155.0 600.2,150.6" fill="#6b91d2" stroke="#3d4f73" stroke-width="0.7"/>
<polygon points="605.0,146.1 608.7,148.8 607.3,153.2 602.7,153.2 601.3,148.8" fill="#6b91d2" stroke="#3d4f73" stroke-width="0.7"/>
<polygon points="608.5,194.4 612.2,197.1 610.8,201.5 606.2,201.5 604.8,197.1" fill="#6b91d2" stroke="#3d4f73" stroke-width="0.7"/>
<polygon points="596.0,114.1 599.7,116.8 598.3,121.2 593.7,121.2 592.3,116.8" fill="#6b91d2" stroke="#3d4f73" stroke-width="0.7"/>
<polygon points="598.0,100.1 601.7,102.8 600.3,107.2 595.7,107.2 594.3,102.8" fill="#6b91d2" stroke="#3d4f73" stroke-width="0.7"/>
<polygon points="93.3,188.1 94.5,191.1 97.8,191.3 95.3,193.4 96.1,196.6 93.3,194.9 90.5,196.6 91.3,193.4 88.8,191.3 92.1,191.1" fill="#2f7dc0" stroke="#e53238" stroke-width="1.15" stroke-linejoin="miter"/>
<polygon points="102.0,129.2 103.2,132.2 106.5,132.4 104.0,134.5 104.8,137.7 102.0,136.0 99.2,137.7 100.0,134.5 97.5,132.4 100.8,132.2" fill="#2f7dc0" stroke="#e53238" stroke-width="1.15" stroke-linejoin="miter"/>
<polygon points="101.2,132.7 102.4,135.7 105.7,135.9 103.2,138.0 104.0,141.2 101.2,139.5 98.4,141.2 99.2,138.0 96.7,135.9 100.0,135.7" fill="#2f7dc0" stroke="#e53238" stroke-width="1.15" stroke-linejoin="miter"/>
<polygon points="107.0,161.9 108.2,164.9 111.5,165.1 109.0,167.2 109.8,170.4 107.0,168.7 104.2,170.4 105.0,167.2 102.5,165.1 105.8,164.9" fill="#2f7dc0" stroke="#e53238" stroke-width="1.15" stroke-linejoin="miter"/>
<polygon points="121.0,123.0 122.2,126.0 125.5,126.2 123.0,128.3 123.8,131.5 121.0,129.8 118.2,131.5 119.0,128.3 116.5,126.2 119.8,126.0" fill="#2f7dc0" stroke="#e53238" stroke-width="1.15" stroke-linejoin="miter"/>
<polygon points="129.8,144.3 131.0,147.3 134.3,147.5 131.8,149.6 132.6,152.8 129.8,151.1 127.0,152.8 127.8,149.6 125.3,147.5 128.6,147.3" fill="#2f7dc0" stroke="#e53238" stroke-width="1.15" stroke-linejoin="miter"/>
<polygon points="179.9,150.0 181.1,153.0 184.4,153.2 181.9,155.3 182.7,158.5 179.9,156.8 177.1,158.5 177.9,155.3 175.4,153.2 178.7,153.0" fill="#2f7dc0" stroke="#e53238" stroke-width="1.15" stroke-linejoin="miter"/>
<polygon points="254.6,168.4 255.8,171.4 259.1,171.6 256.6,173.7 257.4,176.9 254.6,175.2 251.8,176.9 252.6,173.7 250.1,171.6 253.4,171.4" fill="#2f7dc0" stroke="#e53238" stroke-width="1.15" stroke-linejoin="miter"/>
<polygon points="371.6,111.8 372.8,114.8 376.1,115.0 373.6,117.1 374.4,120.3 371.6,118.6 368.8,120.3 369.6,117.1 367.1,115.0 370.4,114.8" fill="#2f7dc0" stroke="#e53238" stroke-width="1.15" stroke-linejoin="miter"/>
<polygon points="539.3,83.5 540.5,86.5 543.8,86.7 541.3,88.8 542.1,92.0 539.3,90.3 536.5,92.0 537.3,88.8 534.8,86.7 538.1,86.5" fill="#2f7dc0" stroke="#e53238" stroke-width="1.15" stroke-linejoin="miter"/>
</g>
<rect x="86.55" y="0.55" width="532.45" height="257.75" fill="none" stroke="#1a1a1a" stroke-width="1.1"/>
<line x1="93.93" y1="0.55" x2="93.93" y2="5.55" stroke="#1a1a1a" stroke-width="1.1" />
<line x1="115.97" y1="0.55" x2="115.97" y2="5.55" stroke="#1a1a1a" stroke-width="1.1" />
<line x1="138.00" y1="0.55" x2="138.00" y2="10.55" stroke="#1a1a1a" stroke-width="1.1" />
<line x1="160.03" y1="0.55" x2="160.03" y2="5.55" stroke="#1a1a1a" stroke-width="1.1" />
<line x1="182.07" y1="0.55" x2="182.07" y2="5.55" stroke="#1a1a1a" stroke-width="1.1" />
<line x1="204.11" y1="0.55" x2="204.11" y2="5.55" stroke="#1a1a1a" stroke-width="1.1" />
<line x1="226.14" y1="0.55" x2="226.14" y2="5.55" stroke="#1a1a1a" stroke-width="1.1" />
<line x1="248.18" y1="0.55" x2="248.18" y2="10.55" stroke="#1a1a1a" stroke-width="1.1" />
<line x1="270.21" y1="0.55" x2="270.21" y2="5.55" stroke="#1a1a1a" stroke-width="1.1" />
<line x1="292.25" y1="0.55" x2="292.25" y2="5.55" stroke="#1a1a1a" stroke-width="1.1" />
<line x1="314.28" y1="0.55" x2="314.28" y2="5.55" stroke="#1a1a1a" stroke-width="1.1" />
<line x1="336.31" y1="0.55" x2="336.31" y2="5.55" stroke="#1a1a1a" stroke-width="1.1" />
<line x1="358.35" y1="0.55" x2="358.35" y2="10.55" stroke="#1a1a1a" stroke-width="1.1" />
<line x1="380.38" y1="0.55" x2="380.38" y2="5.55" stroke="#1a1a1a" stroke-width="1.1" />
<line x1="402.42" y1="0.55" x2="402.42" y2="5.55" stroke="#1a1a1a" stroke-width="1.1" />
<line x1="424.45" y1="0.55" x2="424.45" y2="5.55" stroke="#1a1a1a" stroke-width="1.1" />
<line x1="446.49" y1="0.55" x2="446.49" y2="5.55" stroke="#1a1a1a" stroke-width="1.1" />
<line x1="468.52" y1="0.55" x2="468.52" y2="10.55" stroke="#1a1a1a" stroke-width="1.1" />
<line x1="490.56" y1="0.55" x2="490.56" y2="5.55" stroke="#1a1a1a" stroke-width="1.1" />
<line x1="512.60" y1="0.55" x2="512.60" y2="5.55" stroke="#1a1a1a" stroke-width="1.1" />
<line x1="534.63" y1="0.55" x2="534.63" y2="5.55" stroke="#1a1a1a" stroke-width="1.1" />
<line x1="556.66" y1="0.55" x2="556.66" y2="5.55" stroke="#1a1a1a" stroke-width="1.1" />
<line x1="578.70" y1="0.55" x2="578.70" y2="10.55" stroke="#1a1a1a" stroke-width="1.1" />
<line x1="600.74" y1="0.55" x2="600.74" y2="5.55" stroke="#1a1a1a" stroke-width="1.1" />
<line x1="81.55" y1="233.60" x2="86.55" y2="233.60" stroke="#1a1a1a" stroke-width="1.1" />
<line x1="614.00" y1="233.60" x2="619.00" y2="233.60" stroke="#1a1a1a" stroke-width="1.1" />
<line x1="76.55" y1="208.20" x2="86.55" y2="208.20" stroke="#1a1a1a" stroke-width="1.1" />
<line x1="609.00" y1="208.20" x2="619.00" y2="208.20" stroke="#1a1a1a" stroke-width="1.1" />
<line x1="81.55" y1="187.45" x2="86.55" y2="187.45" stroke="#1a1a1a" stroke-width="1.1" />
<line x1="614.00" y1="187.45" x2="619.00" y2="187.45" stroke="#1a1a1a" stroke-width="1.1" />
<line x1="81.55" y1="169.90" x2="86.55" y2="169.90" stroke="#1a1a1a" stroke-width="1.1" />
<line x1="614.00" y1="169.90" x2="619.00" y2="169.90" stroke="#1a1a1a" stroke-width="1.1" />
<line x1="81.55" y1="154.70" x2="86.55" y2="154.70" stroke="#1a1a1a" stroke-width="1.1" />
<line x1="614.00" y1="154.70" x2="619.00" y2="154.70" stroke="#1a1a1a" stroke-width="1.1" />
<line x1="81.55" y1="141.29" x2="86.55" y2="141.29" stroke="#1a1a1a" stroke-width="1.1" />
<line x1="614.00" y1="141.29" x2="619.00" y2="141.29" stroke="#1a1a1a" stroke-width="1.1" />
<line x1="76.55" y1="129.30" x2="86.55" y2="129.30" stroke="#1a1a1a" stroke-width="1.1" />
<line x1="609.00" y1="129.30" x2="619.00" y2="129.30" stroke="#1a1a1a" stroke-width="1.1" />
<line x1="76.55" y1="50.40" x2="86.55" y2="50.40" stroke="#1a1a1a" stroke-width="1.1" />
<line x1="609.00" y1="50.40" x2="619.00" y2="50.40" stroke="#1a1a1a" stroke-width="1.1" />
<line x1="81.55" y1="4.25" x2="86.55" y2="4.25" stroke="#1a1a1a" stroke-width="1.1" />
<line x1="614.00" y1="4.25" x2="619.00" y2="4.25" stroke="#1a1a1a" stroke-width="1.1" />
<text x="68.50" y="213.60" font-size="17.5" text-anchor="end" font-weight="normal" fill="#111" >500</text>
<text x="68.50" y="134.70" font-size="17.5" text-anchor="end" font-weight="normal" fill="#111" >1000</text>
<text x="68.50" y="55.80" font-size="17.5" text-anchor="end" font-weight="normal" fill="#111" >2000</text>
<text x="0.00" y="0.00" font-size="17.5" text-anchor="middle" font-weight="normal" fill="#111" transform="translate(13.3,129.9) rotate(-90)">CO<tspan font-size="12" dy="4">2</tspan><tspan dy="-4"> (ppm)</tspan></text>
<text x="95.00" y="249.00" font-size="22" text-anchor="start" font-weight="bold" fill="#000" >a</text>
<polygon points="97.4,13.1 98.6,16.1 101.9,16.3 99.4,18.4 100.2,21.6 97.4,19.9 94.6,21.6 95.4,18.4 92.9,16.3 96.2,16.1" fill="#2f7dc0" stroke="#e53238" stroke-width="1.15" stroke-linejoin="miter"/>
<polygon points="97.4,27.8 93.5,34.6 101.3,34.6" fill="#e37bc0" stroke="#444" stroke-width="0.8" />
<polygon points="97.6,40.8 93.3,48.2 101.9,48.2" fill="#fff" stroke="#333" stroke-width="0.8" />
<polygon points="97.6,55.0 101.3,57.7 99.9,62.1 95.3,62.1 93.9,57.7" fill="#6b91d2" stroke="#3d4f73" stroke-width="0.7"/>
<text x="109.20" y="21.40" font-size="12.2" text-anchor="start" font-weight="normal" fill="#111" >[4, 5]</text>
<text x="109.20" y="34.80" font-size="12.2" text-anchor="start" font-weight="normal" fill="#111" >[11]</text>
<text x="109.20" y="48.20" font-size="12.2" text-anchor="start" font-weight="normal" fill="#111" >[9]</text>
<text x="109.20" y="61.60" font-size="12.2" text-anchor="start" font-weight="normal" fill="#111" >[10]</text>
<g clip-path="url(#clipB)">
<circle cx="88.6" cy="413.0" r="1.9" fill="#9ba8db"/>
<circle cx="86.9" cy="416.9" r="1.9" fill="#9ba8db"/>
<circle cx="94.5" cy="427.1" r="1.9" fill="#9ba8db"/>
<circle cx="100.0" cy="420.4" r="1.9" fill="#9ba8db"/>
<circle cx="104.4" cy="418.0" r="1.9" fill="#9ba8db"/>
<circle cx="108.2" cy="411.6" r="1.9" fill="#9ba8db"/>
<circle cx="106.7" cy="386.8" r="1.9" fill="#9ba8db"/>
<circle cx="135.3" cy="430.0" r="1.9" fill="#9ba8db"/>
<circle cx="147.6" cy="421.2" r="1.9" fill="#9ba8db"/>
<circle cx="153.4" cy="422.4" r="1.9" fill="#9ba8db"/>
<circle cx="159.9" cy="407.2" r="1.9" fill="#9ba8db"/>
<circle cx="161.6" cy="423.9" r="1.9" fill="#9ba8db"/>
<circle cx="169.5" cy="415.1" r="1.9" fill="#9ba8db"/>
<circle cx="156.4" cy="454.0" r="1.9" fill="#9ba8db"/>
<circle cx="175.3" cy="446.1" r="1.9" fill="#9ba8db"/>
<circle cx="173.9" cy="460.7" r="1.9" fill="#9ba8db"/>
<circle cx="182.0" cy="388.8" r="1.9" fill="#9ba8db"/>
<circle cx="193.4" cy="414.5" r="1.9" fill="#9ba8db"/>
<circle cx="200.1" cy="402.8" r="1.9" fill="#9ba8db"/>
<circle cx="204.5" cy="377.2" r="1.9" fill="#9ba8db"/>
<circle cx="209.8" cy="409.3" r="1.9" fill="#9ba8db"/>
<circle cx="211.2" cy="426.2" r="1.9" fill="#9ba8db"/>
<circle cx="214.7" cy="399.0" r="1.9" fill="#9ba8db"/>
<circle cx="216.2" cy="408.7" r="1.9" fill="#9ba8db"/>
<circle cx="219.1" cy="379.5" r="1.9" fill="#9ba8db"/>
<circle cx="225.8" cy="375.1" r="1.9" fill="#9ba8db"/>
<circle cx="111.1" cy="482.6" r="1.9" fill="#9ba8db"/>
<circle cx="278.7" cy="371.5" r="1.9" fill="#9ba8db"/>
<circle cx="134.8" cy="430.7" r="1.9" fill="#9ba8db"/>
<circle cx="280.0" cy="371.1" r="1.9" fill="#9ba8db"/>
<circle cx="349.5" cy="364.7" r="1.9" fill="#9ba8db"/>
<circle cx="387.2" cy="359.4" r="1.9" fill="#9ba8db"/>
<circle cx="325.8" cy="416.4" r="1.9" fill="#9ba8db"/>
<circle cx="393.9" cy="386.0" r="1.9" fill="#9ba8db"/>
<circle cx="430.7" cy="402.9" r="1.9" fill="#9ba8db"/>
<circle cx="464.5" cy="367.3" r="1.9" fill="#9ba8db"/>
<circle cx="465.1" cy="367.6" r="1.9" fill="#9ba8db"/>
<circle cx="564.0" cy="390.5" r="1.9" fill="#9ba8db"/>
<circle cx="534.3" cy="398.4" r="1.9" fill="#9ba8db"/>
<circle cx="559.7" cy="401.0" r="1.9" fill="#9ba8db"/>
<circle cx="534.7" cy="425.5" r="1.9" fill="#9ba8db"/>
<circle cx="606.0" cy="382.3" r="1.9" fill="#9ba8db"/>
<circle cx="613.0" cy="395.2" r="1.9" fill="#9ba8db"/>
<circle cx="610.7" cy="401.5" r="1.9" fill="#9ba8db"/>
<circle cx="605.5" cy="382.9" r="1.9" fill="#9ba8db"/>
<circle cx="610.0" cy="393.5" r="1.9" fill="#9ba8db"/>
<circle cx="614.6" cy="393.5" r="1.9" fill="#9ba8db"/>
<circle cx="611.6" cy="376.8" r="1.9" fill="#9ba8db"/>
<circle cx="130.0" cy="447.0" r="1.9" fill="#9ba8db"/>
<circle cx="116.0" cy="450.0" r="1.9" fill="#9ba8db"/>
<circle cx="600.2" cy="297.5" r="1.9" fill="#9ba8db"/>
<circle cx="600.5" cy="299.5" r="1.9" fill="#9ba8db"/>
<circle cx="600.0" cy="301.5" r="1.9" fill="#9ba8db"/>
<circle cx="600.3" cy="303.4" r="1.9" fill="#9ba8db"/>
<circle cx="599.0" cy="320.2" r="1.9" fill="#9ba8db"/>
<circle cx="599.0" cy="329.0" r="1.9" fill="#9ba8db"/>
<circle cx="599.5" cy="331.0" r="1.9" fill="#9ba8db"/>
<circle cx="595.5" cy="340.0" r="1.9" fill="#9ba8db"/>
<circle cx="600.0" cy="341.0" r="1.9" fill="#9ba8db"/>
<circle cx="603.0" cy="341.0" r="1.9" fill="#9ba8db"/>
<circle cx="596.0" cy="345.0" r="1.9" fill="#9ba8db"/>
<circle cx="601.0" cy="348.0" r="1.9" fill="#9ba8db"/>
<circle cx="598.0" cy="352.0" r="1.9" fill="#9ba8db"/>
<circle cx="600.0" cy="355.0" r="1.9" fill="#9ba8db"/>
<circle cx="603.0" cy="357.0" r="1.9" fill="#9ba8db"/>
<circle cx="597.0" cy="360.0" r="1.9" fill="#9ba8db"/>
<circle cx="599.5" cy="362.0" r="1.9" fill="#9ba8db"/>
<circle cx="602.0" cy="364.0" r="1.9" fill="#9ba8db"/>
<circle cx="604.0" cy="361.0" r="1.9" fill="#9ba8db"/>
<circle cx="596.0" cy="366.0" r="1.9" fill="#9ba8db"/>
<circle cx="598.0" cy="368.0" r="1.9" fill="#9ba8db"/>
<circle cx="601.0" cy="370.0" r="1.9" fill="#9ba8db"/>
<circle cx="603.0" cy="372.0" r="1.9" fill="#9ba8db"/>
<circle cx="599.0" cy="374.0" r="1.9" fill="#9ba8db"/>
<circle cx="597.0" cy="378.0" r="1.9" fill="#9ba8db"/>
<circle cx="600.0" cy="381.0" r="1.9" fill="#9ba8db"/>
<circle cx="595.0" cy="385.0" r="1.9" fill="#9ba8db"/>
<circle cx="598.5" cy="389.0" r="1.9" fill="#9ba8db"/>
<circle cx="594.0" cy="392.0" r="1.9" fill="#9ba8db"/>
<circle cx="596.0" cy="396.0" r="1.9" fill="#9ba8db"/>
<circle cx="592.5" cy="394.0" r="1.9" fill="#9ba8db"/>
<circle cx="593.0" cy="400.0" r="1.9" fill="#9ba8db"/>
<circle cx="594.5" cy="403.0" r="1.9" fill="#9ba8db"/>
<circle cx="592.0" cy="406.0" r="1.9" fill="#9ba8db"/>
<circle cx="597.0" cy="399.0" r="1.9" fill="#9ba8db"/>
<circle cx="591.0" cy="388.0" r="1.9" fill="#9ba8db"/>
<circle cx="603.0" cy="398.0" r="1.9" fill="#9ba8db"/>
<circle cx="606.0" cy="403.0" r="1.9" fill="#9ba8db"/>
<circle cx="108.2" cy="440.1" r="1.8" fill="#56b947"/>
<circle cx="111.0" cy="438.0" r="1.8" fill="#56b947"/>
<circle cx="108.5" cy="440.7" r="1.8" fill="#56b947"/>
<circle cx="106.6" cy="439.0" r="1.8" fill="#56b947"/>
<circle cx="109.3" cy="445.3" r="1.8" fill="#56b947"/>
<circle cx="106.1" cy="434.3" r="1.8" fill="#56b947"/>
<circle cx="109.7" cy="428.4" r="1.8" fill="#56b947"/>
<circle cx="109.4" cy="441.4" r="1.8" fill="#56b947"/>
<circle cx="108.7" cy="428.8" r="1.8" fill="#56b947"/>
<circle cx="106.6" cy="432.9" r="1.8" fill="#56b947"/>
<circle cx="105.7" cy="437.9" r="1.8" fill="#56b947"/>
<circle cx="108.1" cy="446.5" r="1.8" fill="#56b947"/>
<circle cx="108.6" cy="441.9" r="1.8" fill="#56b947"/>
<circle cx="108.5" cy="442.4" r="1.8" fill="#56b947"/>
<circle cx="108.2" cy="433.8" r="1.8" fill="#56b947"/>
<circle cx="110.5" cy="443.4" r="1.8" fill="#56b947"/>
<circle cx="107.4" cy="432.7" r="1.8" fill="#56b947"/>
<circle cx="107.2" cy="429.1" r="1.8" fill="#56b947"/>
<circle cx="110.1" cy="436.5" r="1.8" fill="#56b947"/>
<circle cx="110.6" cy="436.2" r="1.8" fill="#56b947"/>
<circle cx="111.0" cy="438.1" r="1.8" fill="#56b947"/>
<circle cx="105.9" cy="441.7" r="1.8" fill="#56b947"/>
<circle cx="110.2" cy="433.6" r="1.8" fill="#56b947"/>
<circle cx="106.0" cy="435.0" r="1.8" fill="#56b947"/>
<circle cx="106.2" cy="433.0" r="1.8" fill="#56b947"/>
<circle cx="106.1" cy="428.8" r="1.8" fill="#56b947"/>
<circle cx="110.3" cy="431.5" r="1.8" fill="#56b947"/>
<circle cx="108.9" cy="437.6" r="1.8" fill="#56b947"/>
<circle cx="106.6" cy="444.0" r="1.8" fill="#56b947"/>
<circle cx="106.3" cy="442.0" r="1.8" fill="#56b947"/>
<circle cx="106.2" cy="437.0" r="1.8" fill="#56b947"/>
<circle cx="106.8" cy="433.6" r="1.8" fill="#56b947"/>
<circle cx="107.3" cy="447.4" r="1.8" fill="#56b947"/>
<circle cx="106.8" cy="436.4" r="1.8" fill="#56b947"/>
<circle cx="110.6" cy="441.9" r="1.8" fill="#56b947"/>
<circle cx="106.8" cy="433.3" r="1.8" fill="#56b947"/>
<circle cx="110.1" cy="434.9" r="1.8" fill="#56b947"/>
<circle cx="107.3" cy="429.2" r="1.8" fill="#56b947"/>
<circle cx="106.0" cy="440.6" r="1.8" fill="#56b947"/>
<circle cx="107.0" cy="441.0" r="1.8" fill="#56b947"/>
<circle cx="98.0" cy="459.3" r="1.8" fill="#f5821f"/>
<circle cx="111.4" cy="460.2" r="1.8" fill="#f5821f"/>
<circle cx="93.7" cy="449.9" r="1.8" fill="#f5821f"/>
<circle cx="110.2" cy="470.8" r="1.8" fill="#f5821f"/>
<circle cx="95.2" cy="451.0" r="1.8" fill="#f5821f"/>
<circle cx="106.4" cy="474.6" r="1.8" fill="#f5821f"/>
<circle cx="109.6" cy="464.0" r="1.8" fill="#f5821f"/>
<circle cx="103.1" cy="454.2" r="1.8" fill="#f5821f"/>
<circle cx="91.1" cy="452.2" r="1.8" fill="#f5821f"/>
<circle cx="103.5" cy="453.8" r="1.8" fill="#f5821f"/>
<circle cx="93.5" cy="456.6" r="1.8" fill="#f5821f"/>
<circle cx="111.9" cy="465.7" r="1.8" fill="#f5821f"/>
<circle cx="105.3" cy="463.4" r="1.8" fill="#f5821f"/>
<circle cx="105.5" cy="475.3" r="1.8" fill="#f5821f"/>
<circle cx="100.5" cy="468.0" r="1.8" fill="#f5821f"/>
<circle cx="91.2" cy="462.2" r="1.8" fill="#f5821f"/>
<circle cx="106.3" cy="473.4" r="1.8" fill="#f5821f"/>
<circle cx="106.3" cy="467.2" r="1.8" fill="#f5821f"/>
<circle cx="107.6" cy="473.8" r="1.8" fill="#f5821f"/>
<circle cx="97.5" cy="466.6" r="1.8" fill="#f5821f"/>
<circle cx="109.2" cy="463.0" r="1.8" fill="#f5821f"/>
<circle cx="103.7" cy="457.0" r="1.8" fill="#f5821f"/>
<circle cx="102.8" cy="464.2" r="1.8" fill="#f5821f"/>
<circle cx="91.3" cy="465.1" r="1.8" fill="#f5821f"/>
<circle cx="106.1" cy="457.2" r="1.8" fill="#f5821f"/>
<circle cx="106.3" cy="463.3" r="1.8" fill="#f5821f"/>
<circle cx="100.5" cy="452.3" r="1.8" fill="#f5821f"/>
<circle cx="105.4" cy="460.7" r="1.8" fill="#f5821f"/>
<circle cx="95.3" cy="445.4" r="1.8" fill="#f5821f"/>
<circle cx="96.4" cy="466.4" r="1.8" fill="#f5821f"/>
<circle cx="94.1" cy="450.3" r="1.8" fill="#f5821f"/>
<circle cx="110.2" cy="465.8" r="1.8" fill="#f5821f"/>
<circle cx="97.0" cy="466.0" r="1.8" fill="#f5821f"/>
<circle cx="94.0" cy="458.6" r="1.8" fill="#f5821f"/>
<circle cx="107.9" cy="473.8" r="1.8" fill="#f5821f"/>
<circle cx="109.6" cy="457.1" r="1.8" fill="#f5821f"/>
<circle cx="102.8" cy="455.0" r="1.8" fill="#f5821f"/>
<circle cx="92.6" cy="460.6" r="1.8" fill="#f5821f"/>
<circle cx="108.6" cy="471.7" r="1.8" fill="#f5821f"/>
<circle cx="105.7" cy="474.9" r="1.8" fill="#f5821f"/>
<circle cx="95.8" cy="450.3" r="1.8" fill="#f5821f"/>
<circle cx="99.8" cy="453.7" r="1.8" fill="#f5821f"/>
<circle cx="94.4" cy="458.0" r="1.8" fill="#f5821f"/>
<circle cx="103.8" cy="460.6" r="1.8" fill="#f5821f"/>
<circle cx="111.9" cy="459.3" r="1.8" fill="#f5821f"/>
<circle cx="105.7" cy="463.0" r="1.8" fill="#f5821f"/>
<circle cx="103.8" cy="459.1" r="1.8" fill="#f5821f"/>
<circle cx="103.9" cy="465.6" r="1.8" fill="#f5821f"/>
<circle cx="95.7" cy="455.9" r="1.8" fill="#f5821f"/>
<circle cx="105.4" cy="461.4" r="1.8" fill="#f5821f"/>
<circle cx="103.5" cy="468.8" r="1.8" fill="#f5821f"/>
<circle cx="110.8" cy="467.8" r="1.8" fill="#f5821f"/>
<circle cx="92.5" cy="459.3" r="1.8" fill="#f5821f"/>
<circle cx="103.8" cy="473.7" r="1.8" fill="#f5821f"/>
<circle cx="98.1" cy="462.9" r="1.8" fill="#f5821f"/>
<circle cx="109.5" cy="470.1" r="1.8" fill="#f5821f"/>
<circle cx="111.0" cy="459.6" r="1.8" fill="#f5821f"/>
<circle cx="106.0" cy="470.8" r="1.8" fill="#f5821f"/>
<circle cx="104.1" cy="467.6" r="1.8" fill="#f5821f"/>
<circle cx="101.7" cy="469.9" r="1.8" fill="#f5821f"/>
<circle cx="109.0" cy="456.0" r="1.8" fill="#f5821f"/>
<circle cx="91.4" cy="458.9" r="1.8" fill="#f5821f"/>
<circle cx="102.0" cy="469.2" r="1.8" fill="#f5821f"/>
<circle cx="92.7" cy="449.7" r="1.8" fill="#f5821f"/>
<circle cx="101.3" cy="467.8" r="1.8" fill="#f5821f"/>
<circle cx="108.7" cy="466.7" r="1.8" fill="#f5821f"/>
<circle cx="111.1" cy="460.5" r="1.8" fill="#f5821f"/>
<circle cx="94.5" cy="461.6" r="1.8" fill="#f5821f"/>
<circle cx="104.1" cy="461.5" r="1.8" fill="#f5821f"/>
<circle cx="108.7" cy="462.6" r="1.8" fill="#f5821f"/>
<circle cx="96.6" cy="457.0" r="1.8" fill="#f5821f"/>
<circle cx="111.6" cy="461.5" r="1.8" fill="#f5821f"/>
<circle cx="101.7" cy="460.8" r="1.8" fill="#f5821f"/>
<circle cx="111.6" cy="461.3" r="1.8" fill="#f5821f"/>
<circle cx="102.3" cy="460.5" r="1.8" fill="#f5821f"/>
<circle cx="101.8" cy="458.0" r="1.8" fill="#f5821f"/>
<circle cx="95.6" cy="459.9" r="1.8" fill="#f5821f"/>
<circle cx="92.4" cy="458.7" r="1.8" fill="#f5821f"/>
<circle cx="108.1" cy="473.4" r="1.8" fill="#f5821f"/>
<circle cx="100.4" cy="455.0" r="1.8" fill="#f5821f"/>
<circle cx="93.9" cy="464.5" r="1.8" fill="#f5821f"/>
<circle cx="93.9" cy="452.2" r="1.8" fill="#f5821f"/>
<circle cx="105.2" cy="455.1" r="1.8" fill="#f5821f"/>
<circle cx="97.6" cy="464.5" r="1.8" fill="#f5821f"/>
<circle cx="92.3" cy="461.1" r="1.8" fill="#f5821f"/>
<circle cx="95.2" cy="451.2" r="1.8" fill="#f5821f"/>
<circle cx="101.6" cy="458.8" r="1.8" fill="#f5821f"/>
<circle cx="98.1" cy="458.0" r="1.8" fill="#f5821f"/>
<circle cx="94.2" cy="464.9" r="1.8" fill="#f5821f"/>
<circle cx="104.1" cy="461.7" r="1.8" fill="#f5821f"/>
<circle cx="108.9" cy="464.3" r="1.8" fill="#f5821f"/>
<circle cx="106.4" cy="470.5" r="1.8" fill="#f5821f"/>
<circle cx="95.4" cy="448.1" r="1.8" fill="#f5821f"/>
<circle cx="108.5" cy="458.3" r="1.8" fill="#f5821f"/>
<circle cx="98.7" cy="466.6" r="1.8" fill="#f5821f"/>
<circle cx="105.1" cy="473.7" r="1.8" fill="#f5821f"/>
<circle cx="101.0" cy="468.9" r="1.8" fill="#f5821f"/>
<circle cx="101.0" cy="466.6" r="1.8" fill="#f5821f"/>
<circle cx="93.8" cy="447.2" r="1.8" fill="#f5821f"/>
<circle cx="102.1" cy="461.2" r="1.8" fill="#f5821f"/>
<circle cx="93.7" cy="451.4" r="1.8" fill="#f5821f"/>
<circle cx="100.0" cy="469.1" r="1.8" fill="#f5821f"/>
<circle cx="97.0" cy="459.7" r="1.8" fill="#f5821f"/>
<circle cx="101.2" cy="458.5" r="1.8" fill="#f5821f"/>
<circle cx="105.5" cy="471.6" r="1.8" fill="#f5821f"/>
<circle cx="93.6" cy="459.3" r="1.8" fill="#f5821f"/>
<circle cx="106.4" cy="457.8" r="1.8" fill="#f5821f"/>
<circle cx="93.9" cy="450.2" r="1.8" fill="#f5821f"/>
<circle cx="109.9" cy="470.3" r="1.8" fill="#f5821f"/>
<circle cx="105.6" cy="472.1" r="1.8" fill="#f5821f"/>
<circle cx="103.9" cy="457.7" r="1.8" fill="#f5821f"/>
<circle cx="103.2" cy="460.9" r="1.8" fill="#f5821f"/>
<circle cx="106.5" cy="469.5" r="1.8" fill="#f5821f"/>
<circle cx="108.1" cy="457.8" r="1.8" fill="#f5821f"/>
<circle cx="105.3" cy="469.2" r="1.8" fill="#f5821f"/>
<circle cx="106.9" cy="457.8" r="1.8" fill="#f5821f"/>
<circle cx="97.3" cy="459.8" r="1.8" fill="#f5821f"/>
<circle cx="104.1" cy="464.7" r="1.8" fill="#f5821f"/>
<circle cx="104.7" cy="455.6" r="1.8" fill="#f5821f"/>
<circle cx="104.5" cy="462.9" r="1.8" fill="#f5821f"/>
<circle cx="101.7" cy="457.3" r="1.8" fill="#f5821f"/>
<circle cx="112.3" cy="465.2" r="1.8" fill="#f5821f"/>
<circle cx="105.5" cy="469.0" r="1.8" fill="#f5821f"/>
<circle cx="103.5" cy="468.3" r="1.8" fill="#f5821f"/>
<circle cx="95.4" cy="457.6" r="1.8" fill="#f5821f"/>
<circle cx="102.0" cy="461.0" r="1.8" fill="#f5821f"/>
<circle cx="111.6" cy="462.9" r="1.8" fill="#f5821f"/>
<circle cx="112.2" cy="465.1" r="1.8" fill="#f5821f"/>
<circle cx="103.1" cy="468.9" r="1.8" fill="#f5821f"/>
<circle cx="93.1" cy="459.9" r="1.8" fill="#f5821f"/>
<circle cx="93.4" cy="460.6" r="1.8" fill="#f5821f"/>
<circle cx="111.1" cy="458.3" r="1.8" fill="#f5821f"/>
<circle cx="101.5" cy="463.8" r="1.8" fill="#f5821f"/>
<circle cx="97.8" cy="454.0" r="1.8" fill="#f5821f"/>
<circle cx="104.4" cy="462.7" r="1.8" fill="#f5821f"/>
<circle cx="95.1" cy="446.3" r="1.8" fill="#f5821f"/>
<circle cx="99.3" cy="460.0" r="1.8" fill="#f5821f"/>
<circle cx="106.0" cy="459.8" r="1.8" fill="#f5821f"/>
<circle cx="103.7" cy="459.4" r="1.8" fill="#f5821f"/>
<circle cx="94.1" cy="446.6" r="1.8" fill="#f5821f"/>
<circle cx="99.6" cy="466.0" r="1.8" fill="#f5821f"/>
<circle cx="99.9" cy="453.3" r="1.8" fill="#f5821f"/>
<circle cx="102.8" cy="458.2" r="1.8" fill="#f5821f"/>
<circle cx="107.2" cy="461.7" r="1.8" fill="#f5821f"/>
<circle cx="107.4" cy="464.7" r="1.8" fill="#f5821f"/>
<circle cx="97.7" cy="453.6" r="1.8" fill="#f5821f"/>
<circle cx="105.1" cy="462.8" r="1.8" fill="#f5821f"/>
<circle cx="103.0" cy="464.9" r="1.8" fill="#f5821f"/>
<circle cx="95.7" cy="458.4" r="1.8" fill="#f5821f"/>
<circle cx="91.5" cy="466.3" r="1.8" fill="#f5821f"/>
<circle cx="102.1" cy="464.9" r="1.8" fill="#f5821f"/>
<circle cx="98.0" cy="460.1" r="1.8" fill="#f5821f"/>
<circle cx="94.3" cy="455.8" r="1.8" fill="#f5821f"/>
<circle cx="106.5" cy="471.4" r="1.8" fill="#f5821f"/>
<circle cx="91.2" cy="448.8" r="1.8" fill="#f5821f"/>
<circle cx="107.9" cy="464.6" r="1.8" fill="#f5821f"/>
<circle cx="99.2" cy="453.1" r="1.8" fill="#f5821f"/>
<circle cx="108.0" cy="456.6" r="1.8" fill="#f5821f"/>
<circle cx="96.9" cy="462.3" r="1.8" fill="#f5821f"/>
<circle cx="106.5" cy="474.0" r="1.8" fill="#f5821f"/>
<circle cx="119.0" cy="432.2" r="1.8" fill="#f5821f"/>
<circle cx="111.7" cy="449.5" r="1.8" fill="#f5821f"/>
<circle cx="122.0" cy="436.2" r="1.8" fill="#f5821f"/>
<circle cx="124.6" cy="429.8" r="1.8" fill="#f5821f"/>
<circle cx="114.3" cy="442.2" r="1.8" fill="#f5821f"/>
<circle cx="125.5" cy="443.3" r="1.8" fill="#f5821f"/>
<circle cx="115.8" cy="424.5" r="1.8" fill="#f5821f"/>
<circle cx="117.4" cy="444.4" r="1.8" fill="#f5821f"/>
<circle cx="117.6" cy="423.6" r="1.8" fill="#f5821f"/>
<circle cx="125.1" cy="439.1" r="1.8" fill="#f5821f"/>
<circle cx="129.6" cy="434.6" r="1.8" fill="#f5821f"/>
<circle cx="127.2" cy="430.0" r="1.8" fill="#f5821f"/>
<circle cx="116.6" cy="433.3" r="1.8" fill="#f5821f"/>
<circle cx="115.0" cy="432.0" r="1.8" fill="#f5821f"/>
<circle cx="117.6" cy="432.0" r="1.8" fill="#f5821f"/>
<circle cx="118.3" cy="432.9" r="1.8" fill="#f5821f"/>
<circle cx="113.9" cy="438.9" r="1.8" fill="#f5821f"/>
<circle cx="127.1" cy="438.1" r="1.8" fill="#f5821f"/>
<circle cx="127.9" cy="438.8" r="1.8" fill="#f5821f"/>
<circle cx="113.5" cy="445.6" r="1.8" fill="#f5821f"/>
<circle cx="128.9" cy="429.2" r="1.8" fill="#f5821f"/>
<circle cx="121.5" cy="439.0" r="1.8" fill="#f5821f"/>
<circle cx="111.5" cy="441.3" r="1.8" fill="#f5821f"/>
<circle cx="112.8" cy="445.1" r="1.8" fill="#f5821f"/>
<circle cx="123.8" cy="428.0" r="1.8" fill="#f5821f"/>
<circle cx="114.4" cy="445.8" r="1.8" fill="#f5821f"/>
<circle cx="118.2" cy="431.2" r="1.8" fill="#f5821f"/>
<circle cx="120.4" cy="438.0" r="1.8" fill="#f5821f"/>
<circle cx="125.4" cy="443.8" r="1.8" fill="#f5821f"/>
<circle cx="129.6" cy="433.6" r="1.8" fill="#f5821f"/>
<circle cx="127.7" cy="442.4" r="1.8" fill="#f5821f"/>
<circle cx="127.2" cy="434.0" r="1.8" fill="#f5821f"/>
<circle cx="118.8" cy="424.6" r="1.8" fill="#f5821f"/>
<circle cx="117.8" cy="425.3" r="1.8" fill="#f5821f"/>
<circle cx="114.1" cy="434.1" r="1.8" fill="#f5821f"/>
<circle cx="112.1" cy="441.8" r="1.8" fill="#f5821f"/>
<circle cx="126.6" cy="425.7" r="1.8" fill="#f5821f"/>
<circle cx="113.6" cy="427.0" r="1.8" fill="#f5821f"/>
<circle cx="114.8" cy="444.1" r="1.8" fill="#f5821f"/>
<circle cx="122.6" cy="427.3" r="1.8" fill="#f5821f"/>
<circle cx="113.7" cy="429.2" r="1.8" fill="#f5821f"/>
<circle cx="113.4" cy="445.5" r="1.8" fill="#f5821f"/>
<circle cx="116.4" cy="438.3" r="1.8" fill="#f5821f"/>
<circle cx="127.5" cy="436.0" r="1.8" fill="#f5821f"/>
<circle cx="129.6" cy="431.3" r="1.8" fill="#f5821f"/>
<circle cx="120.2" cy="427.2" r="1.8" fill="#f5821f"/>
<circle cx="110.7" cy="452.0" r="1.8" fill="#f5821f"/>
<circle cx="127.2" cy="432.8" r="1.8" fill="#f5821f"/>
<circle cx="121.2" cy="437.2" r="1.8" fill="#f5821f"/>
<circle cx="124.0" cy="427.7" r="1.8" fill="#f5821f"/>
<circle cx="125.2" cy="440.3" r="1.8" fill="#f5821f"/>
<circle cx="113.0" cy="425.0" r="1.8" fill="#f5821f"/>
<circle cx="116.6" cy="428.5" r="1.8" fill="#f5821f"/>
<circle cx="128.6" cy="437.3" r="1.8" fill="#f5821f"/>
<circle cx="115.4" cy="437.9" r="1.8" fill="#f5821f"/>
<circle cx="112.9" cy="445.9" r="1.8" fill="#f5821f"/>
<circle cx="125.3" cy="422.9" r="1.8" fill="#f5821f"/>
<circle cx="120.1" cy="435.6" r="1.8" fill="#f5821f"/>
<circle cx="128.4" cy="430.0" r="1.8" fill="#f5821f"/>
<circle cx="126.9" cy="433.9" r="1.8" fill="#f5821f"/>
<circle cx="129.7" cy="422.7" r="1.8" fill="#f5821f"/>
<circle cx="127.7" cy="426.7" r="1.8" fill="#f5821f"/>
<circle cx="121.5" cy="437.6" r="1.8" fill="#f5821f"/>
<circle cx="113.1" cy="448.1" r="1.8" fill="#f5821f"/>
<circle cx="116.4" cy="430.2" r="1.8" fill="#f5821f"/>
<circle cx="119.8" cy="444.1" r="1.8" fill="#f5821f"/>
<circle cx="117.5" cy="443.1" r="1.8" fill="#f5821f"/>
<circle cx="127.8" cy="442.0" r="1.8" fill="#f5821f"/>
<circle cx="125.1" cy="427.7" r="1.8" fill="#f5821f"/>
<circle cx="122.0" cy="435.3" r="1.8" fill="#f5821f"/>
<circle cx="127.1" cy="426.7" r="1.8" fill="#f5821f"/>
<circle cx="123.1" cy="429.5" r="1.8" fill="#f5821f"/>
<circle cx="117.8" cy="438.1" r="1.8" fill="#f5821f"/>
<circle cx="116.1" cy="431.1" r="1.8" fill="#f5821f"/>
<circle cx="118.2" cy="442.4" r="1.8" fill="#f5821f"/>
<circle cx="115.2" cy="426.4" r="1.8" fill="#f5821f"/>
<circle cx="125.6" cy="430.9" r="1.8" fill="#f5821f"/>
<circle cx="125.5" cy="430.9" r="1.8" fill="#f5821f"/>
<circle cx="127.7" cy="422.8" r="1.8" fill="#f5821f"/>
<circle cx="112.7" cy="422.8" r="1.8" fill="#f5821f"/>
<circle cx="124.4" cy="443.8" r="1.8" fill="#f5821f"/>
<circle cx="113.5" cy="433.4" r="1.8" fill="#f5821f"/>
<circle cx="127.9" cy="439.9" r="1.8" fill="#f5821f"/>
<circle cx="113.0" cy="423.8" r="1.8" fill="#f5821f"/>
<circle cx="129.8" cy="434.2" r="1.8" fill="#f5821f"/>
<circle cx="120.8" cy="441.7" r="1.8" fill="#f5821f"/>
<circle cx="118.1" cy="430.9" r="1.8" fill="#f5821f"/>
<circle cx="118.4" cy="443.5" r="1.8" fill="#f5821f"/>
<circle cx="124.1" cy="440.4" r="1.8" fill="#f5821f"/>
<circle cx="117.1" cy="441.9" r="1.8" fill="#f5821f"/>
<circle cx="127.7" cy="440.5" r="1.8" fill="#f5821f"/>
<circle cx="113.1" cy="445.8" r="1.8" fill="#f5821f"/>
<circle cx="129.4" cy="438.4" r="1.8" fill="#f5821f"/>
<circle cx="117.3" cy="436.7" r="1.8" fill="#f5821f"/>
<circle cx="112.7" cy="444.0" r="1.8" fill="#f5821f"/>
<circle cx="123.3" cy="426.4" r="1.8" fill="#f5821f"/>
<circle cx="122.2" cy="443.4" r="1.8" fill="#f5821f"/>
<circle cx="117.5" cy="435.4" r="1.8" fill="#f5821f"/>
<circle cx="112.3" cy="452.9" r="1.8" fill="#f5821f"/>
<circle cx="112.6" cy="450.5" r="1.8" fill="#f5821f"/>
<circle cx="121.5" cy="438.8" r="1.8" fill="#f5821f"/>
<circle cx="121.9" cy="428.6" r="1.8" fill="#f5821f"/>
<circle cx="127.5" cy="440.2" r="1.8" fill="#f5821f"/>
<circle cx="112.3" cy="447.8" r="1.8" fill="#f5821f"/>
<circle cx="114.9" cy="439.2" r="1.8" fill="#f5821f"/>
<circle cx="127.8" cy="425.9" r="1.8" fill="#f5821f"/>
<circle cx="124.0" cy="430.1" r="1.8" fill="#f5821f"/>
<circle cx="118.0" cy="439.8" r="1.8" fill="#f5821f"/>
<circle cx="114.0" cy="435.6" r="1.8" fill="#f5821f"/>
<circle cx="122.1" cy="425.5" r="1.8" fill="#f5821f"/>
<circle cx="121.0" cy="428.6" r="1.8" fill="#f5821f"/>
<circle cx="122.0" cy="431.0" r="1.8" fill="#f5821f"/>
<circle cx="124.3" cy="424.6" r="1.8" fill="#f5821f"/>
<circle cx="119.9" cy="433.7" r="1.8" fill="#f5821f"/>
<circle cx="123.3" cy="443.2" r="1.8" fill="#f5821f"/>
<circle cx="118.6" cy="434.4" r="1.8" fill="#f5821f"/>
<circle cx="121.1" cy="437.6" r="1.8" fill="#f5821f"/>
<circle cx="125.6" cy="440.0" r="1.8" fill="#f5821f"/>
<circle cx="126.1" cy="430.0" r="1.8" fill="#f5821f"/>
<circle cx="120.6" cy="433.2" r="1.8" fill="#f5821f"/>
<circle cx="110.7" cy="443.4" r="1.8" fill="#f5821f"/>
<circle cx="121.1" cy="427.8" r="1.8" fill="#f5821f"/>
<circle cx="116.3" cy="433.1" r="1.8" fill="#f5821f"/>
<circle cx="114.8" cy="421.9" r="1.8" fill="#f5821f"/>
<circle cx="114.5" cy="445.1" r="1.8" fill="#f5821f"/>
<circle cx="111.8" cy="446.7" r="1.8" fill="#f5821f"/>
<circle cx="112.3" cy="438.0" r="1.8" fill="#f5821f"/>
<circle cx="114.9" cy="429.8" r="1.8" fill="#f5821f"/>
<circle cx="118.3" cy="431.8" r="1.8" fill="#f5821f"/>
<circle cx="110.3" cy="450.3" r="1.8" fill="#f5821f"/>
<circle cx="116.3" cy="436.6" r="1.8" fill="#f5821f"/>
<circle cx="120.0" cy="426.7" r="1.8" fill="#f5821f"/>
<circle cx="129.2" cy="426.3" r="1.8" fill="#f5821f"/>
<circle cx="128.0" cy="431.7" r="1.8" fill="#f5821f"/>
<circle cx="119.9" cy="425.5" r="1.8" fill="#f5821f"/>
<circle cx="114.0" cy="441.2" r="1.8" fill="#f5821f"/>
<circle cx="113.8" cy="449.7" r="1.8" fill="#f5821f"/>
<circle cx="125.5" cy="430.3" r="1.8" fill="#f5821f"/>
<circle cx="125.2" cy="424.2" r="1.8" fill="#f5821f"/>
<circle cx="114.5" cy="430.1" r="1.8" fill="#f5821f"/>
<circle cx="125.2" cy="426.3" r="1.8" fill="#f5821f"/>
<circle cx="113.6" cy="427.7" r="1.8" fill="#f5821f"/>
<circle cx="117.8" cy="442.2" r="1.8" fill="#f5821f"/>
<circle cx="129.0" cy="439.8" r="1.8" fill="#f5821f"/>
<circle cx="114.6" cy="429.9" r="1.8" fill="#f5821f"/>
<circle cx="115.7" cy="441.5" r="1.8" fill="#f5821f"/>
<circle cx="111.6" cy="453.2" r="1.8" fill="#f5821f"/>
<circle cx="119.2" cy="437.7" r="1.8" fill="#f5821f"/>
<circle cx="122.7" cy="429.3" r="1.8" fill="#f5821f"/>
<circle cx="115.1" cy="447.1" r="1.8" fill="#f5821f"/>
<circle cx="128.3" cy="406.5" r="1.8" fill="#f5821f"/>
<circle cx="128.3" cy="411.8" r="1.8" fill="#f5821f"/>
<circle cx="128.9" cy="417.6" r="1.8" fill="#f5821f"/>
<circle cx="256.8" cy="420.5" r="1.8" fill="#f5821f"/>
<circle cx="270.5" cy="429.9" r="1.8" fill="#f5821f"/>
<circle cx="330.2" cy="427.2" r="1.8" fill="#f5821f"/>
<circle cx="377.5" cy="415.8" r="1.8" fill="#f5821f"/>
<circle cx="377.5" cy="427.4" r="1.8" fill="#f5821f"/>
<circle cx="445.8" cy="405.5" r="1.8" fill="#f5821f"/>
<circle cx="453.4" cy="403.5" r="1.8" fill="#f5821f"/>
<circle cx="445.8" cy="412.8" r="1.8" fill="#f5821f"/>
<circle cx="453.4" cy="417.5" r="1.8" fill="#f5821f"/>
<circle cx="546.4" cy="415.0" r="1.8" fill="#f5821f"/>
<circle cx="600.2" cy="348.9" r="1.8" fill="#f5821f"/>
<circle cx="600.2" cy="392.1" r="1.8" fill="#f5821f"/>
<circle cx="598.3" cy="405.7" r="1.8" fill="#f5821f"/>
<circle cx="597.8" cy="410.3" r="1.8" fill="#f5821f"/>
<circle cx="605.3" cy="417.8" r="1.8" fill="#f5821f"/>
<circle cx="613.0" cy="419.0" r="1.8" fill="#f5821f"/>
<circle cx="614.2" cy="422.5" r="1.8" fill="#f5821f"/>
<circle cx="617.0" cy="424.1" r="1.8" fill="#f5821f"/>
<circle cx="617.0" cy="430.7" r="1.8" fill="#f5821f"/>
<circle cx="113.0" cy="475.0" r="1.8" fill="#f5821f"/>
<circle cx="107.0" cy="477.0" r="1.8" fill="#f5821f"/>
<circle cx="124.8" cy="419.0" r="1.8" fill="#56b947"/>
<circle cx="278.1" cy="427.2" r="1.8" fill="#56b947"/>
<circle cx="292.3" cy="418.1" r="1.8" fill="#56b947"/>
<circle cx="302.8" cy="414.0" r="1.8" fill="#56b947"/>
<circle cx="308.3" cy="411.1" r="1.8" fill="#56b947"/>
<circle cx="321.5" cy="415.2" r="1.8" fill="#56b947"/>
<circle cx="331.7" cy="419.3" r="1.8" fill="#56b947"/>
<circle cx="344.8" cy="426.0" r="1.8" fill="#56b947"/>
<circle cx="354.2" cy="422.8" r="1.8" fill="#56b947"/>
<circle cx="354.2" cy="428.0" r="1.8" fill="#56b947"/>
<circle cx="366.1" cy="417.8" r="1.8" fill="#56b947"/>
<circle cx="383.1" cy="427.2" r="1.8" fill="#56b947"/>
<circle cx="396.8" cy="424.0" r="1.8" fill="#56b947"/>
<circle cx="410.8" cy="424.2" r="1.8" fill="#56b947"/>
<circle cx="425.1" cy="414.6" r="1.8" fill="#56b947"/>
<circle cx="438.2" cy="401.2" r="1.8" fill="#56b947"/>
<circle cx="452.8" cy="402.3" r="1.8" fill="#56b947"/>
<circle cx="466.9" cy="401.8" r="1.8" fill="#56b947"/>
<circle cx="475.6" cy="402.9" r="1.8" fill="#56b947"/>
<circle cx="479.4" cy="401.8" r="1.8" fill="#56b947"/>
<circle cx="498.1" cy="399.6" r="1.8" fill="#56b947"/>
<circle cx="520.0" cy="414.3" r="1.8" fill="#56b947"/>
<circle cx="533.6" cy="413.6" r="1.8" fill="#56b947"/>
<circle cx="535.9" cy="419.0" r="1.8" fill="#56b947"/>
<circle cx="539.9" cy="407.3" r="1.8" fill="#56b947"/>
<circle cx="550.4" cy="416.7" r="1.8" fill="#56b947"/>
<circle cx="554.6" cy="417.8" r="1.8" fill="#56b947"/>
<circle cx="568.6" cy="426.0" r="1.8" fill="#56b947"/>
<circle cx="571.0" cy="427.2" r="1.8" fill="#56b947"/>
<circle cx="583.8" cy="423.0" r="1.8" fill="#56b947"/>
<circle cx="588.0" cy="424.8" r="1.8" fill="#56b947"/>
<circle cx="592.0" cy="419.0" r="1.8" fill="#56b947"/>
<circle cx="593.1" cy="429.5" r="1.8" fill="#56b947"/>
<circle cx="594.3" cy="435.3" r="1.8" fill="#56b947"/>
<circle cx="597.8" cy="426.7" r="1.8" fill="#56b947"/>
<circle cx="602.0" cy="428.3" r="1.8" fill="#56b947"/>
<circle cx="610.7" cy="424.8" r="1.8" fill="#56b947"/>
<circle cx="113.8" cy="426.8" r="1.8" fill="#000"/>
<circle cx="226.4" cy="372.2" r="1.8" fill="#000"/>
<circle cx="226.4" cy="383.3" r="1.8" fill="#000"/>
<circle cx="466.3" cy="382.2" r="1.8" fill="#000"/>
<circle cx="576.8" cy="398.7" r="1.8" fill="#000"/>
<circle cx="585.4" cy="421.3" r="1.8" fill="#000"/>
<polyline points="86.9,461.2 90.4,453.8 94.8,451.2 99.1,447.7 103.1,446.8 108.0,451.0 113.1,455.5 116.0,446.0 121.9,448.5 126.0,446.0 131.5,447.7 132.7,436.4 138.0,430.0 142.6,418.9 148.0,424.0 153.2,430.7 157.5,442.4 163.4,440.4 172.1,439.5 178.0,432.2 185.3,427.0 191.1,438.0 195.5,428.0 202.8,433.6 211.5,436.6 221.8,430.7 231.4,437.9 235.0,420.0 240.5,397.2 244.5,405.8 248.0,384.0 250.4,371.6 253.0,372.0 255.0,385.0 258.3,397.2 261.2,414.7 266.0,413.0 272.9,423.4 278.7,407.4 285.3,421.6 291.1,402.6 298.1,382.8 302.8,381.3 306.9,387.2 312.7,390.7 316.5,404.7 316.5,412.0 319.4,401.8 323.2,377.8 328.2,381.3 332.6,384.2 335.0,384.5 339.0,389.2 341.3,374.0 344.8,400.3 350.1,395.3 358.8,383.6 366.1,393.0 372.0,386.6 426.0,382.2 431.8,382.2 438.5,376.1 445.8,349.2 455.2,352.7 466.9,350.1 468.3,357.4 489.2,358.3 490.4,343.5 496.7,345.4 504.8,348.9 511.4,346.6 516.1,335.6 523.5,348.2 528.2,345.4 568.6,366.0 590.8,371.6 593.1,357.8 602.5,362.9 618.8,375.8" fill="none" stroke="#8e3f9e" stroke-width="2.2" stroke-dasharray="0.01 3.8" stroke-linecap="round" stroke-linejoin="round"/>
<polygon points="86.9,456.8 82.6,464.0 91.2,464.0" fill="#a4afe0" stroke="#8e3f9e" stroke-width="1.7" stroke-dasharray="0.01 4.2" stroke-linecap="round"/>
<polygon points="90.4,449.4 86.1,456.6 94.7,456.6" fill="#a4afe0" stroke="#8e3f9e" stroke-width="1.7" stroke-dasharray="0.01 4.2" stroke-linecap="round"/>
<polygon points="94.8,446.8 90.5,454.0 99.1,454.0" fill="#a4afe0" stroke="#8e3f9e" stroke-width="1.7" stroke-dasharray="0.01 4.2" stroke-linecap="round"/>
<polygon points="99.1,443.3 94.8,450.5 103.4,450.5" fill="#a4afe0" stroke="#8e3f9e" stroke-width="1.7" stroke-dasharray="0.01 4.2" stroke-linecap="round"/>
<polygon points="103.1,442.4 98.8,449.6 107.4,449.6" fill="#a4afe0" stroke="#8e3f9e" stroke-width="1.7" stroke-dasharray="0.01 4.2" stroke-linecap="round"/>
<polygon points="108.0,446.6 103.7,453.8 112.3,453.8" fill="#a4afe0" stroke="#8e3f9e" stroke-width="1.7" stroke-dasharray="0.01 4.2" stroke-linecap="round"/>
<polygon points="113.1,451.1 108.8,458.3 117.4,458.3" fill="#a4afe0" stroke="#8e3f9e" stroke-width="1.7" stroke-dasharray="0.01 4.2" stroke-linecap="round"/>
<polygon points="116.0,441.6 111.7,448.8 120.3,448.8" fill="#a4afe0" stroke="#8e3f9e" stroke-width="1.7" stroke-dasharray="0.01 4.2" stroke-linecap="round"/>
<polygon points="121.9,444.1 117.6,451.3 126.2,451.3" fill="#a4afe0" stroke="#8e3f9e" stroke-width="1.7" stroke-dasharray="0.01 4.2" stroke-linecap="round"/>
<polygon points="126.0,441.6 121.7,448.8 130.3,448.8" fill="#a4afe0" stroke="#8e3f9e" stroke-width="1.7" stroke-dasharray="0.01 4.2" stroke-linecap="round"/>
<polygon points="131.5,443.3 127.2,450.5 135.8,450.5" fill="#a4afe0" stroke="#8e3f9e" stroke-width="1.7" stroke-dasharray="0.01 4.2" stroke-linecap="round"/>
<polygon points="132.7,432.0 128.4,439.2 137.0,439.2" fill="#a4afe0" stroke="#8e3f9e" stroke-width="1.7" stroke-dasharray="0.01 4.2" stroke-linecap="round"/>
<polygon points="138.0,425.6 133.7,432.8 142.3,432.8" fill="#a4afe0" stroke="#8e3f9e" stroke-width="1.7" stroke-dasharray="0.01 4.2" stroke-linecap="round"/>
<polygon points="142.6,414.5 138.3,421.7 146.9,421.7" fill="#a4afe0" stroke="#8e3f9e" stroke-width="1.7" stroke-dasharray="0.01 4.2" stroke-linecap="round"/>
<polygon points="148.0,419.6 143.7,426.8 152.3,426.8" fill="#a4afe0" stroke="#8e3f9e" stroke-width="1.7" stroke-dasharray="0.01 4.2" stroke-linecap="round"/>
<polygon points="153.2,426.3 148.9,433.5 157.5,433.5" fill="#a4afe0" stroke="#8e3f9e" stroke-width="1.7" stroke-dasharray="0.01 4.2" stroke-linecap="round"/>
<polygon points="157.5,438.0 153.2,445.2 161.8,445.2" fill="#a4afe0" stroke="#8e3f9e" stroke-width="1.7" stroke-dasharray="0.01 4.2" stroke-linecap="round"/>
<polygon points="163.4,436.0 159.1,443.2 167.7,443.2" fill="#a4afe0" stroke="#8e3f9e" stroke-width="1.7" stroke-dasharray="0.01 4.2" stroke-linecap="round"/>
<polygon points="172.1,435.1 167.8,442.3 176.4,442.3" fill="#a4afe0" stroke="#8e3f9e" stroke-width="1.7" stroke-dasharray="0.01 4.2" stroke-linecap="round"/>
<polygon points="178.0,427.8 173.7,435.0 182.3,435.0" fill="#a4afe0" stroke="#8e3f9e" stroke-width="1.7" stroke-dasharray="0.01 4.2" stroke-linecap="round"/>
<polygon points="185.3,422.6 181.0,429.8 189.6,429.8" fill="#a4afe0" stroke="#8e3f9e" stroke-width="1.7" stroke-dasharray="0.01 4.2" stroke-linecap="round"/>
<polygon points="191.1,433.6 186.8,440.8 195.4,440.8" fill="#a4afe0" stroke="#8e3f9e" stroke-width="1.7" stroke-dasharray="0.01 4.2" stroke-linecap="round"/>
<polygon points="195.5,423.6 191.2,430.8 199.8,430.8" fill="#a4afe0" stroke="#8e3f9e" stroke-width="1.7" stroke-dasharray="0.01 4.2" stroke-linecap="round"/>
<polygon points="202.8,429.2 198.5,436.4 207.1,436.4" fill="#a4afe0" stroke="#8e3f9e" stroke-width="1.7" stroke-dasharray="0.01 4.2" stroke-linecap="round"/>
<polygon points="211.5,432.2 207.2,439.4 215.8,439.4" fill="#a4afe0" stroke="#8e3f9e" stroke-width="1.7" stroke-dasharray="0.01 4.2" stroke-linecap="round"/>
<polygon points="221.8,426.3 217.5,433.5 226.1,433.5" fill="#a4afe0" stroke="#8e3f9e" stroke-width="1.7" stroke-dasharray="0.01 4.2" stroke-linecap="round"/>
<polygon points="231.4,433.5 227.1,440.7 235.7,440.7" fill="#a4afe0" stroke="#8e3f9e" stroke-width="1.7" stroke-dasharray="0.01 4.2" stroke-linecap="round"/>
<polygon points="235.0,415.6 230.7,422.8 239.3,422.8" fill="#a4afe0" stroke="#8e3f9e" stroke-width="1.7" stroke-dasharray="0.01 4.2" stroke-linecap="round"/>
<polygon points="240.5,392.8 236.2,400.0 244.8,400.0" fill="#a4afe0" stroke="#8e3f9e" stroke-width="1.7" stroke-dasharray="0.01 4.2" stroke-linecap="round"/>
<polygon points="244.5,401.4 240.2,408.6 248.8,408.6" fill="#a4afe0" stroke="#8e3f9e" stroke-width="1.7" stroke-dasharray="0.01 4.2" stroke-linecap="round"/>
<polygon points="248.0,379.6 243.7,386.8 252.3,386.8" fill="#a4afe0" stroke="#8e3f9e" stroke-width="1.7" stroke-dasharray="0.01 4.2" stroke-linecap="round"/>
<polygon points="250.4,367.2 246.1,374.4 254.7,374.4" fill="#a4afe0" stroke="#8e3f9e" stroke-width="1.7" stroke-dasharray="0.01 4.2" stroke-linecap="round"/>
<polygon points="253.0,367.6 248.7,374.8 257.3,374.8" fill="#a4afe0" stroke="#8e3f9e" stroke-width="1.7" stroke-dasharray="0.01 4.2" stroke-linecap="round"/>
<polygon points="255.0,380.6 250.7,387.8 259.3,387.8" fill="#a4afe0" stroke="#8e3f9e" stroke-width="1.7" stroke-dasharray="0.01 4.2" stroke-linecap="round"/>
<polygon points="258.3,392.8 254.0,400.0 262.6,400.0" fill="#a4afe0" stroke="#8e3f9e" stroke-width="1.7" stroke-dasharray="0.01 4.2" stroke-linecap="round"/>
<polygon points="261.2,410.3 256.9,417.5 265.5,417.5" fill="#a4afe0" stroke="#8e3f9e" stroke-width="1.7" stroke-dasharray="0.01 4.2" stroke-linecap="round"/>
<polygon points="266.0,408.6 261.7,415.8 270.3,415.8" fill="#a4afe0" stroke="#8e3f9e" stroke-width="1.7" stroke-dasharray="0.01 4.2" stroke-linecap="round"/>
<polygon points="272.9,419.0 268.6,426.2 277.2,426.2" fill="#a4afe0" stroke="#8e3f9e" stroke-width="1.7" stroke-dasharray="0.01 4.2" stroke-linecap="round"/>
<polygon points="278.7,403.0 274.4,410.2 283.0,410.2" fill="#a4afe0" stroke="#8e3f9e" stroke-width="1.7" stroke-dasharray="0.01 4.2" stroke-linecap="round"/>
<polygon points="285.3,417.2 281.0,424.4 289.6,424.4" fill="#a4afe0" stroke="#8e3f9e" stroke-width="1.7" stroke-dasharray="0.01 4.2" stroke-linecap="round"/>
<polygon points="291.1,398.2 286.8,405.4 295.4,405.4" fill="#a4afe0" stroke="#8e3f9e" stroke-width="1.7" stroke-dasharray="0.01 4.2" stroke-linecap="round"/>
<polygon points="298.1,378.4 293.8,385.6 302.4,385.6" fill="#a4afe0" stroke="#8e3f9e" stroke-width="1.7" stroke-dasharray="0.01 4.2" stroke-linecap="round"/>
<polygon points="302.8,376.9 298.5,384.1 307.1,384.1" fill="#a4afe0" stroke="#8e3f9e" stroke-width="1.7" stroke-dasharray="0.01 4.2" stroke-linecap="round"/>
<polygon points="306.9,382.8 302.6,390.0 311.2,390.0" fill="#a4afe0" stroke="#8e3f9e" stroke-width="1.7" stroke-dasharray="0.01 4.2" stroke-linecap="round"/>
<polygon points="312.7,386.3 308.4,393.5 317.0,393.5" fill="#a4afe0" stroke="#8e3f9e" stroke-width="1.7" stroke-dasharray="0.01 4.2" stroke-linecap="round"/>
<polygon points="316.5,400.3 312.2,407.5 320.8,407.5" fill="#a4afe0" stroke="#8e3f9e" stroke-width="1.7" stroke-dasharray="0.01 4.2" stroke-linecap="round"/>
<polygon points="316.5,407.6 312.2,414.8 320.8,414.8" fill="#a4afe0" stroke="#8e3f9e" stroke-width="1.7" stroke-dasharray="0.01 4.2" stroke-linecap="round"/>
<polygon points="319.4,397.4 315.1,404.6 323.7,404.6" fill="#a4afe0" stroke="#8e3f9e" stroke-width="1.7" stroke-dasharray="0.01 4.2" stroke-linecap="round"/>
<polygon points="323.2,373.4 318.9,380.6 327.5,380.6" fill="#a4afe0" stroke="#8e3f9e" stroke-width="1.7" stroke-dasharray="0.01 4.2" stroke-linecap="round"/>
<polygon points="328.2,376.9 323.9,384.1 332.5,384.1" fill="#a4afe0" stroke="#8e3f9e" stroke-width="1.7" stroke-dasharray="0.01 4.2" stroke-linecap="round"/>
<polygon points="332.6,379.8 328.3,387.0 336.9,387.0" fill="#a4afe0" stroke="#8e3f9e" stroke-width="1.7" stroke-dasharray="0.01 4.2" stroke-linecap="round"/>
<polygon points="335.0,380.1 330.7,387.3 339.3,387.3" fill="#a4afe0" stroke="#8e3f9e" stroke-width="1.7" stroke-dasharray="0.01 4.2" stroke-linecap="round"/>
<polygon points="339.0,384.8 334.7,392.0 343.3,392.0" fill="#a4afe0" stroke="#8e3f9e" stroke-width="1.7" stroke-dasharray="0.01 4.2" stroke-linecap="round"/>
<polygon points="341.3,369.6 337.0,376.8 345.6,376.8" fill="#a4afe0" stroke="#8e3f9e" stroke-width="1.7" stroke-dasharray="0.01 4.2" stroke-linecap="round"/>
<polygon points="344.8,395.9 340.5,403.1 349.1,403.1" fill="#a4afe0" stroke="#8e3f9e" stroke-width="1.7" stroke-dasharray="0.01 4.2" stroke-linecap="round"/>
<polygon points="350.1,390.9 345.8,398.1 354.4,398.1" fill="#a4afe0" stroke="#8e3f9e" stroke-width="1.7" stroke-dasharray="0.01 4.2" stroke-linecap="round"/>
<polygon points="358.8,379.2 354.5,386.4 363.1,386.4" fill="#a4afe0" stroke="#8e3f9e" stroke-width="1.7" stroke-dasharray="0.01 4.2" stroke-linecap="round"/>
<polygon points="366.1,388.6 361.8,395.8 370.4,395.8" fill="#a4afe0" stroke="#8e3f9e" stroke-width="1.7" stroke-dasharray="0.01 4.2" stroke-linecap="round"/>
<polygon points="372.0,382.2 367.7,389.4 376.3,389.4" fill="#a4afe0" stroke="#8e3f9e" stroke-width="1.7" stroke-dasharray="0.01 4.2" stroke-linecap="round"/>
<polygon points="431.8,377.8 427.5,385.0 436.1,385.0" fill="#a4afe0" stroke="#8e3f9e" stroke-width="1.7" stroke-dasharray="0.01 4.2" stroke-linecap="round"/>
<polygon points="438.5,371.7 434.2,378.9 442.8,378.9" fill="#a4afe0" stroke="#8e3f9e" stroke-width="1.7" stroke-dasharray="0.01 4.2" stroke-linecap="round"/>
<polygon points="445.8,344.8 441.5,352.0 450.1,352.0" fill="#a4afe0" stroke="#8e3f9e" stroke-width="1.7" stroke-dasharray="0.01 4.2" stroke-linecap="round"/>
<polygon points="455.2,348.3 450.9,355.5 459.5,355.5" fill="#a4afe0" stroke="#8e3f9e" stroke-width="1.7" stroke-dasharray="0.01 4.2" stroke-linecap="round"/>
<polygon points="466.9,345.7 462.6,352.9 471.2,352.9" fill="#a4afe0" stroke="#8e3f9e" stroke-width="1.7" stroke-dasharray="0.01 4.2" stroke-linecap="round"/>
<polygon points="468.3,353.0 464.0,360.2 472.6,360.2" fill="#a4afe0" stroke="#8e3f9e" stroke-width="1.7" stroke-dasharray="0.01 4.2" stroke-linecap="round"/>
<polygon points="489.2,353.9 484.9,361.1 493.5,361.1" fill="#a4afe0" stroke="#8e3f9e" stroke-width="1.7" stroke-dasharray="0.01 4.2" stroke-linecap="round"/>
<polygon points="490.4,339.1 486.1,346.3 494.7,346.3" fill="#a4afe0" stroke="#8e3f9e" stroke-width="1.7" stroke-dasharray="0.01 4.2" stroke-linecap="round"/>
<polygon points="496.7,341.0 492.4,348.2 501.0,348.2" fill="#a4afe0" stroke="#8e3f9e" stroke-width="1.7" stroke-dasharray="0.01 4.2" stroke-linecap="round"/>
<polygon points="504.8,344.5 500.5,351.7 509.1,351.7" fill="#a4afe0" stroke="#8e3f9e" stroke-width="1.7" stroke-dasharray="0.01 4.2" stroke-linecap="round"/>
<polygon points="511.4,342.2 507.1,349.4 515.7,349.4" fill="#a4afe0" stroke="#8e3f9e" stroke-width="1.7" stroke-dasharray="0.01 4.2" stroke-linecap="round"/>
<polygon points="516.1,331.2 511.8,338.4 520.4,338.4" fill="#a4afe0" stroke="#8e3f9e" stroke-width="1.7" stroke-dasharray="0.01 4.2" stroke-linecap="round"/>
<polygon points="523.5,343.8 519.2,351.0 527.8,351.0" fill="#a4afe0" stroke="#8e3f9e" stroke-width="1.7" stroke-dasharray="0.01 4.2" stroke-linecap="round"/>
<polygon points="528.2,341.0 523.9,348.2 532.5,348.2" fill="#a4afe0" stroke="#8e3f9e" stroke-width="1.7" stroke-dasharray="0.01 4.2" stroke-linecap="round"/>
<polygon points="568.6,361.6 564.3,368.8 572.9,368.8" fill="#a4afe0" stroke="#8e3f9e" stroke-width="1.7" stroke-dasharray="0.01 4.2" stroke-linecap="round"/>
<polygon points="590.8,367.2 586.5,374.4 595.1,374.4" fill="#a4afe0" stroke="#8e3f9e" stroke-width="1.7" stroke-dasharray="0.01 4.2" stroke-linecap="round"/>
<polygon points="593.1,353.4 588.8,360.6 597.4,360.6" fill="#a4afe0" stroke="#8e3f9e" stroke-width="1.7" stroke-dasharray="0.01 4.2" stroke-linecap="round"/>
<polygon points="602.5,358.5 598.2,365.7 606.8,365.7" fill="#a4afe0" stroke="#8e3f9e" stroke-width="1.7" stroke-dasharray="0.01 4.2" stroke-linecap="round"/>
<polygon points="618.8,371.4 614.5,378.6 623.1,378.6" fill="#a4afe0" stroke="#8e3f9e" stroke-width="1.7" stroke-dasharray="0.01 4.2" stroke-linecap="round"/>
</g>
<rect x="86.55" y="275.65" width="532.45" height="231.65" fill="none" stroke="#1a1a1a" stroke-width="1.1"/>
<line x1="76.05" y1="507.30" x2="86.55" y2="507.30" stroke="#1a1a1a" stroke-width="1.1" />
<line x1="619.00" y1="507.30" x2="629.50" y2="507.30" stroke="#1a1a1a" stroke-width="1.1" />
<line x1="81.35" y1="465.80" x2="86.55" y2="465.80" stroke="#1a1a1a" stroke-width="1.1" />
<line x1="619.00" y1="465.80" x2="624.20" y2="465.80" stroke="#1a1a1a" stroke-width="1.1" />
<line x1="76.05" y1="424.30" x2="86.55" y2="424.30" stroke="#1a1a1a" stroke-width="1.1" />
<line x1="619.00" y1="424.30" x2="629.50" y2="424.30" stroke="#1a1a1a" stroke-width="1.1" />
<line x1="81.35" y1="382.80" x2="86.55" y2="382.80" stroke="#1a1a1a" stroke-width="1.1" />
<line x1="619.00" y1="382.80" x2="624.20" y2="382.80" stroke="#1a1a1a" stroke-width="1.1" />
<line x1="76.05" y1="341.30" x2="86.55" y2="341.30" stroke="#1a1a1a" stroke-width="1.1" />
<line x1="619.00" y1="341.30" x2="629.50" y2="341.30" stroke="#1a1a1a" stroke-width="1.1" />
<line x1="81.35" y1="299.80" x2="86.55" y2="299.80" stroke="#1a1a1a" stroke-width="1.1" />
<line x1="619.00" y1="299.80" x2="624.20" y2="299.80" stroke="#1a1a1a" stroke-width="1.1" />
<text x="636.50" y="513.60" font-size="17.5" text-anchor="start" font-weight="normal" fill="#111" >20</text>
<text x="636.50" y="430.60" font-size="17.5" text-anchor="start" font-weight="normal" fill="#111" >30</text>
<text x="636.50" y="347.60" font-size="17.5" text-anchor="start" font-weight="normal" fill="#111" >40</text>
<text x="0.00" y="0.00" font-size="17.5" text-anchor="middle" font-weight="normal" fill="#111" transform="translate(681.1,391.7) rotate(-90)">SST (°C)</text>
<text x="95.00" y="500.50" font-size="22" text-anchor="start" font-weight="bold" fill="#000" >b</text>
<polyline points="91.2,294.6 109.7,294.6" fill="none" stroke="#8e3f9e" stroke-width="2.5" stroke-dasharray="0.01 4.59" stroke-linecap="round"/>
<polygon points="100.6,291.0 97.6,295.8 103.6,295.8" fill="#9a52ad"/>
<circle cx="100.3" cy="310.5" r="1.9" fill="#9ba8db"/>
<circle cx="100.3" cy="327.0" r="1.9" fill="#56b947"/>
<circle cx="100.3" cy="343.3" r="1.9" fill="#f5821f"/>
<circle cx="100.3" cy="359.6" r="1.9" fill="#000"/>
<text x="114.00" y="298.40" font-size="12.0" text-anchor="start" font-weight="normal" fill="#111" >[1]</text>
<text x="114.00" y="314.90" font-size="12.0" text-anchor="start" font-weight="normal" fill="#111" >Tex86 compilation</text>
<text x="114.00" y="331.40" font-size="12.0" text-anchor="start" font-weight="normal" fill="#111" >Mg/Ca compilation</text>
<text x="114.00" y="347.80" font-size="12.0" text-anchor="start" font-weight="normal" fill="#111" >δ<tspan font-size="9.5" dy="-5">18</tspan><tspan dy="5">O compilation</tspan></text>
<text x="114.00" y="364.10" font-size="12.0" text-anchor="start" font-weight="normal" fill="#111" >Δ47 compilation</text>
<g clip-path="url(#clipC)">
<rect x="109.0" y="546.5" width="7.0" height="20.2" fill="#3a7fba"/>
<rect x="250.5" y="546.5" width="9.0" height="20.2" fill="#3a7fba"/>
<rect x="446.7" y="546.5" width="88.3" height="20.2" fill="#3a7fba"/>
<rect x="557.1" y="546.5" width="2.4" height="20.2" fill="#3a7fba"/>
<rect x="594.4" y="546.5" width="5.2" height="20.2" fill="#3a7fba"/>
<polyline points="86.6,740.7 86.9,772.1 87.2,739.6 87.6,776.8 87.9,732.0 88.2,755.2 88.4,730.0 88.6,776.5 88.9,739.6 89.0,781.9 89.4,722.7 89.7,756.4 90.0,733.0 90.2,780.7 90.5,742.2 90.8,759.0 91.2,734.6 91.6,764.8 91.8,741.8 92.0,778.5 92.3,726.4 92.5,781.2 92.9,727.4 93.3,771.2 93.6,744.0 93.9,777.6 94.1,723.6 94.5,766.9 94.8,735.9 95.1,781.9 95.3,747.2 95.5,775.0 96.0,736.3 96.3,771.2 96.6,743.9 97.0,771.7 97.3,745.7 97.5,767.0 97.9,742.6 98.2,766.5 98.4,749.8 98.8,777.7 99.1,736.5 99.4,780.6 99.8,743.9 100.2,782.1 100.6,733.6 100.9,769.2 101.1,733.7 101.3,762.4 101.7,736.0 102.0,779.4 102.2,747.4 102.4,770.2 102.7,751.6 102.9,780.8 103.3,736.6 103.6,766.5 104.0,741.5 104.4,761.5 104.6,734.6 105.0,780.4 105.3,743.7 105.6,769.9 105.9,714.6 106.1,742.7 106.2,702.8 106.6,725.8 106.9,703.3 107.2,737.3 107.4,708.1 107.7,743.4 107.9,714.3 108.1,724.2 108.3,713.0 108.6,736.8 108.8,704.2 109.0,732.9 109.2,711.7 109.4,730.0 109.7,703.4 109.9,736.3 110.2,698.5 110.5,721.3 110.7,712.6 111.0,724.2 111.4,708.4 111.7,726.4 111.8,705.4 112.1,737.6 112.3,702.8 112.6,737.9 112.7,700.7 113.0,733.2 113.4,705.9 113.7,728.4 114.0,710.2 114.4,736.3 114.7,705.0 115.1,719.2 115.3,709.0 115.7,730.4 116.0,698.3 116.1,727.5 116.4,699.8 116.7,722.2 117.0,707.6 117.3,718.7 117.7,693.6 118.0,721.2 118.3,700.5 118.6,723.3 119.1,704.7 119.4,719.7 119.8,690.9 120.3,720.8 120.7,694.3 121.1,721.4 121.6,700.8 122.1,715.9 122.5,691.7 123.0,724.6 123.2,699.4 123.6,715.2 123.8,695.7 124.1,713.6 124.6,692.8 125.0,710.3 125.6,693.3 125.9,713.1 126.4,693.5 126.7,721.3 127.1,699.4 127.7,709.6 128.2,699.9 128.7,711.1 129.1,690.4 129.5,713.2 130.1,699.4 130.4,712.4 130.8,700.7 131.5,708.0 132.1,692.1 132.7,707.8 133.3,703.1 133.9,715.6 134.3,703.6 134.9,708.7 135.3,699.0 136.1,711.7 136.5,695.9 137.3,713.2 137.6,702.2 138.2,713.4 138.7,695.8 139.5,717.2 140.3,703.7 140.9,708.4 141.8,695.9 142.5,709.4 142.9,695.0 143.6,714.0 144.3,695.0 144.9,710.2 145.4,700.2 146.2,716.8 146.6,702.6 147.3,714.5 147.8,700.3 148.2,707.5 148.9,695.7 149.7,708.7 150.2,692.8 150.9,711.6 151.7,695.3 152.4,708.3 153.3,701.3 153.7,711.6 154.5,697.0 155.0,715.8 155.7,702.4 156.6,717.2 157.5,697.0 158.0,717.2 159.0,699.0 159.9,719.7 160.5,694.6 161.5,717.7 161.9,701.1 162.7,715.6 163.5,697.8 164.1,719.1 164.8,695.1 165.4,719.8 166.1,696.2 167.0,718.4 167.6,703.8 168.3,710.6 169.0,695.7 169.7,710.0 170.2,700.0 171.0,708.8 171.8,702.2 172.3,718.7 173.1,694.6 173.8,709.8 174.4,699.8 175.3,716.9 176.2,697.2 176.8,713.0 177.5,698.9 178.1,714.2 178.9,703.9 179.8,714.6 180.8,696.1 181.7,719.1 182.4,699.8 182.9,715.4 183.8,697.7 184.9,710.1 185.5,695.9 186.5,713.0 187.0,699.7 188.1,712.8 188.9,699.3 189.8,713.4 190.8,694.1 191.8,710.6 192.5,694.9 193.6,715.9 194.3,694.1 195.5,706.9 196.2,696.1 196.9,714.1 197.7,695.5 198.4,707.7 199.2,697.1 200.3,707.3 201.4,698.5 202.5,708.3 203.2,700.1 203.6,705.7 215.0,705.7 215.3,709.5 216.2,699.4 217.5,707.5 218.0,692.2 219.0,704.5 219.8,687.7 220.6,705.0 221.5,691.3 222.1,705.0 223.0,688.6 223.7,698.5 224.5,691.4 225.2,699.6 225.7,683.9 226.4,694.7 227.0,687.5 227.7,696.5 228.2,686.1 228.6,694.4 229.1,680.9 229.8,694.0 230.2,681.0 230.7,695.6 231.4,684.0 232.1,696.3 232.5,682.8 233.1,690.4 233.6,678.1 234.3,694.7 235.0,683.8 235.5,691.1 236.3,677.8 237.1,685.6 237.7,669.5 238.4,690.2 238.8,667.4 239.2,693.5 240.0,668.2 240.6,682.1 241.1,667.3 241.8,683.1 242.5,671.8 243.0,676.4 243.5,660.3 244.3,673.7 244.8,665.0 245.4,673.9 245.9,658.7 246.7,667.8 247.3,646.3 247.9,662.0 248.3,645.3 248.8,656.1 249.3,646.9 249.9,657.3 250.3,650.0 250.7,661.5 251.1,646.8 251.5,662.2 252.0,648.9 252.5,663.0 252.9,653.0 253.6,668.9 254.1,658.8 254.7,673.8 255.1,658.9 255.7,675.1 256.4,660.8 256.8,680.9 257.2,667.4 257.9,677.0 258.3,668.5 258.7,680.3 259.4,671.5 260.0,688.1 260.6,673.2 261.3,693.9 261.8,679.1 262.3,697.4 263.0,685.6 263.6,696.3 264.0,689.7 264.5,695.7 264.9,689.8 265.6,696.8 266.4,693.5 267.1,699.4 267.7,690.2 268.4,700.9 269.3,695.5 270.0,704.0 271.0,688.9 271.6,701.4 272.3,689.2 273.3,696.0 274.0,685.4 274.7,697.8 275.7,687.8 276.7,691.3 277.4,686.6 278.1,691.4 278.6,680.2 279.2,693.1 280.0,677.9 281.1,691.7 281.6,676.5 282.2,693.4 282.9,679.7 283.5,688.6 284.5,672.6 285.5,691.6 286.2,676.6 286.9,688.3 288.0,667.3 288.6,694.4 289.8,672.1 290.8,692.3 291.5,669.6 292.7,693.7 294.0,676.1 295.1,688.5 296.3,674.6 297.3,683.4 298.6,666.4 299.2,686.0 299.9,667.3 301.0,682.5 302.3,662.5 303.3,689.8 304.2,667.7 305.1,687.9 306.3,673.8 307.1,692.6 307.9,675.5 309.3,683.9 310.2,671.9 311.0,686.5 312.0,674.6 313.0,682.0 313.7,673.2 314.5,686.0 315.3,663.8 316.5,687.7 317.7,665.8 318.5,689.6 319.7,667.8 320.9,689.5 322.3,671.6 323.4,693.7 324.4,662.7 325.1,689.7 325.9,664.9 326.9,686.8 327.7,671.5 328.9,687.7 330.1,673.3 330.9,692.0 331.8,667.8 333.5,687.0 335.4,661.5 338.1,684.3 340.4,670.0 343.3,691.4 345.4,666.8 348.0,682.5 350.3,671.9 352.4,690.7 356.1,662.1 359.0,688.9 361.4,664.1 364.2,672.7 365.6,662.8 366.7,673.4 367.5,658.3 369.0,669.1 369.9,659.9 371.3,666.8 372.6,659.2 373.7,668.3 374.9,658.1 376.3,667.1 377.3,650.7 378.3,660.6 379.2,649.8 380.2,658.5 381.0,653.7 382.0,662.1 383.0,650.8 384.3,658.4 385.5,650.8 386.5,655.7 387.2,648.6 387.9,656.3 389.0,645.8 390.2,655.5 390.9,643.1 391.8,656.5 393.2,643.2 394.0,652.1 395.0,643.5 395.7,651.3 396.8,638.5 398.0,653.4 399.3,640.0 400.4,645.6 401.6,636.7 402.4,647.9 403.2,635.5 404.2,649.3 405.5,634.9 406.4,645.1 407.8,633.3 408.5,644.3 409.8,633.7 410.6,644.1 412.0,637.6 412.8,644.9 414.1,631.1 415.1,645.0 416.5,634.6 417.2,640.8 418.5,635.3 419.5,644.7 420.3,631.4 421.3,644.4 422.3,631.8 423.6,642.2 424.3,629.0 425.3,643.2 426.6,630.5 427.6,637.5 428.4,631.9 429.1,640.4 429.8,628.8 430.8,639.9 431.9,625.9" fill="none" stroke="#a5cde3" stroke-width="0.9" stroke-linejoin="bevel"/>
<line x1="118.50" y1="657.00" x2="118.50" y2="772.00" stroke="#a5cde3" stroke-width="1.0" />
<line x1="160.80" y1="685.00" x2="160.80" y2="767.60" stroke="#a5cde3" stroke-width="1.0" />
<line x1="248.40" y1="630.00" x2="248.40" y2="650.00" stroke="#a5cde3" stroke-width="1.0" />
<line x1="310.30" y1="637.00" x2="310.30" y2="700.00" stroke="#a5cde3" stroke-width="1.0" />
<line x1="328.60" y1="650.00" x2="328.60" y2="707.00" stroke="#a5cde3" stroke-width="1.0" />
<line x1="312.50" y1="640.00" x2="312.50" y2="690.00" stroke="#a5cde3" stroke-width="1.0" />
<line x1="100.00" y1="700.00" x2="100.00" y2="785.00" stroke="#a5cde3" stroke-width="1.0" />
<line x1="88.00" y1="705.00" x2="88.00" y2="785.00" stroke="#a5cde3" stroke-width="1.0" />
<line x1="146.00" y1="690.00" x2="146.00" y2="730.00" stroke="#a5cde3" stroke-width="1.0" />
<line x1="190.00" y1="690.00" x2="190.00" y2="725.00" stroke="#a5cde3" stroke-width="1.0" />
<line x1="296.00" y1="655.00" x2="296.00" y2="700.00" stroke="#a5cde3" stroke-width="1.0" />
<line x1="318.00" y1="645.00" x2="318.00" y2="700.00" stroke="#a5cde3" stroke-width="1.0" />
<line x1="336.00" y1="655.00" x2="336.00" y2="695.00" stroke="#a5cde3" stroke-width="1.0" />
<path d="M86.6,726 L92,724 L96,730 L100,725 L104,732 L105.6,740 L105.6,782 L101,780 L96,783 L91,780 L86.6,784 Z" fill="#a5cde3" opacity="0.55"/>
<path d="M359.0,667.8H364.0M361.5,665.3V670.3" stroke="#9a4ea5" stroke-width="1.5"/>
<path d="M367.4,670.5H372.4M369.9,668.0V673.0" stroke="#9a4ea5" stroke-width="1.5"/>
<path d="M398.7,637.6H403.7M401.2,635.1V640.1" stroke="#9a4ea5" stroke-width="1.5"/>
<path d="M394.5,629.4H399.5M397.0,626.9V631.9" stroke="#9a4ea5" stroke-width="1.5"/>
<path d="M377.8,653.8H382.8M380.3,651.3V656.3" stroke="#9a4ea5" stroke-width="1.5"/>
<path d="M371.1,658.6H376.1M373.6,656.1V661.1" stroke="#9a4ea5" stroke-width="1.5"/>
<path d="M377.4,658.5H382.4M379.9,656.0V661.0" stroke="#9a4ea5" stroke-width="1.5"/>
<path d="M355.7,668.2H360.7M358.2,665.7V670.7" stroke="#9a4ea5" stroke-width="1.5"/>
<path d="M360.6,672.9H365.6M363.1,670.4V675.4" stroke="#9a4ea5" stroke-width="1.5"/>
<path d="M381.0,653.2H386.0M383.5,650.7V655.7" stroke="#9a4ea5" stroke-width="1.5"/>
<path d="M369.6,664.7H374.6M372.1,662.2V667.2" stroke="#9a4ea5" stroke-width="1.5"/>
<path d="M388.6,649.6H393.6M391.1,647.1V652.1" stroke="#9a4ea5" stroke-width="1.5"/>
<path d="M382.4,646.5H387.4M384.9,644.0V649.0" stroke="#9a4ea5" stroke-width="1.5"/>
<path d="M384.7,640.2H389.7M387.2,637.7V642.7" stroke="#9a4ea5" stroke-width="1.5"/>
<path d="M390.2,637.0H395.2M392.7,634.5V639.5" stroke="#9a4ea5" stroke-width="1.5"/>
<path d="M389.0,635.7H394.0M391.5,633.2V638.2" stroke="#9a4ea5" stroke-width="1.5"/>
<path d="M383.2,643.9H388.2M385.7,641.4V646.4" stroke="#9a4ea5" stroke-width="1.5"/>
<path d="M356.3,664.1H361.3M358.8,661.6V666.6" stroke="#9a4ea5" stroke-width="1.5"/>
<path d="M395.2,632.1H400.2M397.7,629.6V634.6" stroke="#9a4ea5" stroke-width="1.5"/>
<path d="M379.6,658.1H384.6M382.1,655.6V660.6" stroke="#9a4ea5" stroke-width="1.5"/>
<path d="M401.5,625.0H406.5M404.0,622.5V627.5" stroke="#9a4ea5" stroke-width="1.5"/>
<path d="M387.8,648.2H392.8M390.3,645.7V650.7" stroke="#9a4ea5" stroke-width="1.5"/>
<path d="M392.6,634.3H397.6M395.1,631.8V636.8" stroke="#9a4ea5" stroke-width="1.5"/>
<path d="M377.3,660.7H382.3M379.8,658.2V663.2" stroke="#9a4ea5" stroke-width="1.5"/>
<path d="M366.5,663.5H371.5M369.0,661.0V666.0" stroke="#9a4ea5" stroke-width="1.5"/>
<path d="M384.9,652.7H389.9M387.4,650.2V655.2" stroke="#9a4ea5" stroke-width="1.5"/>
<path d="M366.2,666.5H371.2M368.7,664.0V669.0" stroke="#9a4ea5" stroke-width="1.5"/>
<path d="M364.9,659.6H369.9M367.4,657.1V662.1" stroke="#9a4ea5" stroke-width="1.5"/>
<path d="M377.4,658.4H382.4M379.9,655.9V660.9" stroke="#9a4ea5" stroke-width="1.5"/>
<path d="M385.2,653.9H390.2M387.7,651.4V656.4" stroke="#9a4ea5" stroke-width="1.5"/>
<path d="M362.4,665.9H367.4M364.9,663.4V668.4" stroke="#9a4ea5" stroke-width="1.5"/>
<path d="M377.5,652.1H382.5M380.0,649.6V654.6" stroke="#9a4ea5" stroke-width="1.5"/>
<path d="M398.5,624.1H403.5M401.0,621.6V626.6" stroke="#9a4ea5" stroke-width="1.5"/>
<path d="M367.0,656.5H372.0M369.5,654.0V659.0" stroke="#9a4ea5" stroke-width="1.5"/>
<path d="M385.4,649.0H390.4M387.9,646.5V651.5" stroke="#9a4ea5" stroke-width="1.5"/>
<path d="M365.2,670.9H370.2M367.7,668.4V673.4" stroke="#9a4ea5" stroke-width="1.5"/>
<path d="M385.0,642.3H390.0M387.5,639.8V644.8" stroke="#9a4ea5" stroke-width="1.5"/>
<path d="M399.7,641.6H404.7M402.2,639.1V644.1" stroke="#9a4ea5" stroke-width="1.5"/>
<path d="M369.6,667.2H374.6M372.1,664.7V669.7" stroke="#9a4ea5" stroke-width="1.5"/>
<path d="M360.8,663.8H365.8M363.3,661.3V666.3" stroke="#9a4ea5" stroke-width="1.5"/>
<path d="M374.6,665.2H379.6M377.1,662.7V667.7" stroke="#9a4ea5" stroke-width="1.5"/>
<path d="M368.8,660.4H373.8M371.3,657.9V662.9" stroke="#9a4ea5" stroke-width="1.5"/>
<path d="M364.4,669.6H369.4M366.9,667.1V672.1" stroke="#9a4ea5" stroke-width="1.5"/>
<path d="M363.3,670.3H368.3M365.8,667.8V672.8" stroke="#9a4ea5" stroke-width="1.5"/>
<path d="M370.9,661.5H375.9M373.4,659.0V664.0" stroke="#9a4ea5" stroke-width="1.5"/>
<path d="M396.6,628.5H401.6M399.1,626.0V631.0" stroke="#9a4ea5" stroke-width="1.5"/>
<path d="M379.9,655.3H384.9M382.4,652.8V657.8" stroke="#9a4ea5" stroke-width="1.5"/>
<path d="M382.2,648.8H387.2M384.7,646.3V651.3" stroke="#9a4ea5" stroke-width="1.5"/>
<path d="M385.5,643.4H390.5M388.0,640.9V645.9" stroke="#9a4ea5" stroke-width="1.5"/>
<path d="M361.9,658.4H366.9M364.4,655.9V660.9" stroke="#9a4ea5" stroke-width="1.5"/>
<path d="M383.6,649.9H388.6M386.1,647.4V652.4" stroke="#9a4ea5" stroke-width="1.5"/>
<path d="M392.9,630.0H397.9M395.4,627.5V632.5" stroke="#9a4ea5" stroke-width="1.5"/>
<path d="M386.8,644.1H391.8M389.3,641.6V646.6" stroke="#9a4ea5" stroke-width="1.5"/>
<path d="M379.7,658.7H384.7M382.2,656.2V661.2" stroke="#9a4ea5" stroke-width="1.5"/>
<path d="M379.4,652.7H384.4M381.9,650.2V655.2" stroke="#9a4ea5" stroke-width="1.5"/>
<path d="M385.5,640.8H390.5M388.0,638.3V643.3" stroke="#9a4ea5" stroke-width="1.5"/>
<path d="M396.4,634.5H401.4M398.9,632.0V637.0" stroke="#9a4ea5" stroke-width="1.5"/>
<path d="M356.5,667.1H361.5M359.0,664.6V669.6" stroke="#9a4ea5" stroke-width="1.5"/>
<path d="M399.9,644.8H404.9M402.4,642.3V647.3" stroke="#9a4ea5" stroke-width="1.5"/>
<path d="M375.0,654.1H380.0M377.5,651.6V656.6" stroke="#9a4ea5" stroke-width="1.5"/>
<path d="M399.4,627.0H404.4M401.9,624.5V629.5" stroke="#9a4ea5" stroke-width="1.5"/>
<path d="M355.4,664.2H360.4M357.9,661.7V666.7" stroke="#9a4ea5" stroke-width="1.5"/>
<path d="M377.1,659.1H382.1M379.6,656.6V661.6" stroke="#9a4ea5" stroke-width="1.5"/>
<path d="M357.7,664.6H362.7M360.2,662.1V667.1" stroke="#9a4ea5" stroke-width="1.5"/>
<path d="M389.4,638.8H394.4M391.9,636.3V641.3" stroke="#9a4ea5" stroke-width="1.5"/>
<path d="M362.9,668.4H367.9M365.4,665.9V670.9" stroke="#9a4ea5" stroke-width="1.5"/>
<path d="M375.5,660.5H380.5M378.0,658.0V663.0" stroke="#9a4ea5" stroke-width="1.5"/>
<path d="M377.7,660.7H382.7M380.2,658.2V663.2" stroke="#9a4ea5" stroke-width="1.5"/>
<path d="M379.1,661.7H384.1M381.6,659.2V664.2" stroke="#9a4ea5" stroke-width="1.5"/>
<path d="M393.5,640.9H398.5M396.0,638.4V643.4" stroke="#9a4ea5" stroke-width="1.5"/>
<path d="M378.0,657.1H383.0M380.5,654.6V659.6" stroke="#9a4ea5" stroke-width="1.5"/>
<path d="M372.6,652.9H377.6M375.1,650.4V655.4" stroke="#9a4ea5" stroke-width="1.5"/>
<path d="M397.0,641.1H402.0M399.5,638.6V643.6" stroke="#9a4ea5" stroke-width="1.5"/>
<path d="M391.3,646.0H396.3M393.8,643.5V648.5" stroke="#9a4ea5" stroke-width="1.5"/>
<path d="M380.9,659.8H385.9M383.4,657.3V662.3" stroke="#9a4ea5" stroke-width="1.5"/>
<path d="M377.2,663.9H382.2M379.7,661.4V666.4" stroke="#9a4ea5" stroke-width="1.5"/>
<path d="M358.4,665.0H363.4M360.9,662.5V667.5" stroke="#9a4ea5" stroke-width="1.5"/>
<path d="M381.9,655.8H386.9M384.4,653.3V658.3" stroke="#9a4ea5" stroke-width="1.5"/>
<path d="M379.5,658.2H384.5M382.0,655.7V660.7" stroke="#9a4ea5" stroke-width="1.5"/>
<path d="M372.4,662.3H377.4M374.9,659.8V664.8" stroke="#9a4ea5" stroke-width="1.5"/>
<path d="M392.7,639.3H397.7M395.2,636.8V641.8" stroke="#9a4ea5" stroke-width="1.5"/>
<path d="M355.5,669.9H360.5M358.0,667.4V672.4" stroke="#9a4ea5" stroke-width="1.5"/>
<path d="M354.5,665.2H359.5M357.0,662.7V667.7" stroke="#9a4ea5" stroke-width="1.5"/>
<path d="M360.0,670.1H365.0M362.5,667.6V672.6" stroke="#9a4ea5" stroke-width="1.5"/>
<path d="M362.6,668.7H367.6M365.1,666.2V671.2" stroke="#9a4ea5" stroke-width="1.5"/>
<path d="M358.0,662.7H363.0M360.5,660.2V665.2" stroke="#9a4ea5" stroke-width="1.5"/>
<path d="M387.9,650.5H392.9M390.4,648.0V653.0" stroke="#9a4ea5" stroke-width="1.5"/>
<path d="M357.9,668.5H362.9M360.4,666.0V671.0" stroke="#9a4ea5" stroke-width="1.5"/>
<path d="M373.6,660.7H378.6M376.1,658.2V663.2" stroke="#9a4ea5" stroke-width="1.5"/>
<path d="M358.2,659.9H363.2M360.7,657.4V662.4" stroke="#9a4ea5" stroke-width="1.5"/>
<path d="M358.3,672.4H363.3M360.8,669.9V674.9" stroke="#9a4ea5" stroke-width="1.5"/>
<path d="M378.0,657.1H383.0M380.5,654.6V659.6" stroke="#9a4ea5" stroke-width="1.5"/>
<path d="M360.9,668.7H365.9M363.4,666.2V671.2" stroke="#9a4ea5" stroke-width="1.5"/>
<path d="M397.8,626.0H402.8M400.3,623.5V628.5" stroke="#9a4ea5" stroke-width="1.5"/>
<path d="M392.0,645.2H397.0M394.5,642.7V647.7" stroke="#9a4ea5" stroke-width="1.5"/>
<path d="M402.1,633.0H407.1M404.6,630.5V635.5" stroke="#9a4ea5" stroke-width="1.5"/>
<path d="M385.5,644.0H390.5M388.0,641.5V646.5" stroke="#9a4ea5" stroke-width="1.5"/>
<path d="M392.0,634.5H397.0M394.5,632.0V637.0" stroke="#9a4ea5" stroke-width="1.5"/>
<path d="M384.4,649.7H389.4M386.9,647.2V652.2" stroke="#9a4ea5" stroke-width="1.5"/>
<path d="M402.0,639.2H407.0M404.5,636.7V641.7" stroke="#9a4ea5" stroke-width="1.5"/>
<path d="M359.1,661.9H364.1M361.6,659.4V664.4" stroke="#9a4ea5" stroke-width="1.5"/>
<path d="M371.6,658.5H376.6M374.1,656.0V661.0" stroke="#9a4ea5" stroke-width="1.5"/>
<path d="M388.9,638.1H393.9M391.4,635.6V640.6" stroke="#9a4ea5" stroke-width="1.5"/>
<path d="M381.3,650.6H386.3M383.8,648.1V653.1" stroke="#9a4ea5" stroke-width="1.5"/>
<path d="M369.2,664.1H374.2M371.7,661.6V666.6" stroke="#9a4ea5" stroke-width="1.5"/>
<path d="M375.3,665.1H380.3M377.8,662.6V667.6" stroke="#9a4ea5" stroke-width="1.5"/>
<path d="M360.7,671.8H365.7M363.2,669.3V674.3" stroke="#9a4ea5" stroke-width="1.5"/>
<path d="M385.1,646.2H390.1M387.6,643.7V648.7" stroke="#9a4ea5" stroke-width="1.5"/>
<path d="M358.2,668.9H363.2M360.7,666.4V671.4" stroke="#9a4ea5" stroke-width="1.5"/>
<path d="M393.1,633.7H398.1M395.6,631.2V636.2" stroke="#9a4ea5" stroke-width="1.5"/>
<path d="M388.7,643.0H393.7M391.2,640.5V645.5" stroke="#9a4ea5" stroke-width="1.5"/>
<path d="M358.8,671.8H363.8M361.3,669.3V674.3" stroke="#9a4ea5" stroke-width="1.5"/>
<path d="M369.5,661.4H374.5M372.0,658.9V663.9" stroke="#9a4ea5" stroke-width="1.5"/>
<path d="M391.1,646.6H396.1M393.6,644.1V649.1" stroke="#9a4ea5" stroke-width="1.5"/>
<path d="M395.5,631.5H400.5M398.0,629.0V634.0" stroke="#9a4ea5" stroke-width="1.5"/>
<path d="M395.2,626.9H400.2M397.7,624.4V629.4" stroke="#9a4ea5" stroke-width="1.5"/>
<path d="M381.0,650.7H386.0M383.5,648.2V653.2" stroke="#9a4ea5" stroke-width="1.5"/>
<path d="M396.1,639.4H401.1M398.6,636.9V641.9" stroke="#9a4ea5" stroke-width="1.5"/>
<path d="M386.1,650.6H391.1M388.6,648.1V653.1" stroke="#9a4ea5" stroke-width="1.5"/>
<path d="M371.2,659.6H376.2M373.7,657.1V662.1" stroke="#9a4ea5" stroke-width="1.5"/>
<path d="M359.4,664.3H364.4M361.9,661.8V666.8" stroke="#9a4ea5" stroke-width="1.5"/>
<path d="M364.1,668.4H369.1M366.6,665.9V670.9" stroke="#9a4ea5" stroke-width="1.5"/>
<path d="M360.7,672.1H365.7M363.2,669.6V674.6" stroke="#9a4ea5" stroke-width="1.5"/>
<path d="M383.3,648.2H388.3M385.8,645.7V650.7" stroke="#9a4ea5" stroke-width="1.5"/>
<path d="M360.2,665.4H365.2M362.7,662.9V667.9" stroke="#9a4ea5" stroke-width="1.5"/>
<path d="M381.6,645.4H386.6M384.1,642.9V647.9" stroke="#9a4ea5" stroke-width="1.5"/>
<path d="M401.4,627.8H406.4M403.9,625.3V630.3" stroke="#9a4ea5" stroke-width="1.5"/>
<path d="M375.4,654.1H380.4M377.9,651.6V656.6" stroke="#9a4ea5" stroke-width="1.5"/>
<path d="M372.4,656.1H377.4M374.9,653.6V658.6" stroke="#9a4ea5" stroke-width="1.5"/>
<path d="M395.5,624.8H400.5M398.0,622.3V627.3" stroke="#9a4ea5" stroke-width="1.5"/>
<path d="M372.0,661.4H377.0M374.5,658.9V663.9" stroke="#9a4ea5" stroke-width="1.5"/>
<path d="M377.5,653.2H382.5M380.0,650.7V655.7" stroke="#9a4ea5" stroke-width="1.5"/>
<path d="M377.7,648.7H382.7M380.2,646.2V651.2" stroke="#9a4ea5" stroke-width="1.5"/>
<path d="M369.2,660.9H374.2M371.7,658.4V663.4" stroke="#9a4ea5" stroke-width="1.5"/>
<path d="M391.3,637.8H396.3M393.8,635.3V640.3" stroke="#9a4ea5" stroke-width="1.5"/>
<path d="M374.4,660.6H379.4M376.9,658.1V663.1" stroke="#9a4ea5" stroke-width="1.5"/>
<path d="M367.8,663.6H372.8M370.3,661.1V666.1" stroke="#9a4ea5" stroke-width="1.5"/>
<path d="M363.8,666.8H368.8M366.3,664.3V669.3" stroke="#9a4ea5" stroke-width="1.5"/>
<path d="M380.4,655.0H385.4M382.9,652.5V657.5" stroke="#9a4ea5" stroke-width="1.5"/>
<path d="M396.5,640.9H401.5M399.0,638.4V643.4" stroke="#9a4ea5" stroke-width="1.5"/>
<path d="M401.9,623.9H406.9M404.4,621.4V626.4" stroke="#9a4ea5" stroke-width="1.5"/>
<path d="M400.3,630.7H405.3M402.8,628.2V633.2" stroke="#9a4ea5" stroke-width="1.5"/>
<path d="M372.1,659.1H377.1M374.6,656.6V661.6" stroke="#9a4ea5" stroke-width="1.5"/>
<path d="M398.7,644.3H403.7M401.2,641.8V646.8" stroke="#9a4ea5" stroke-width="1.5"/>
<path d="M393.1,632.6H398.1M395.6,630.1V635.1" stroke="#9a4ea5" stroke-width="1.5"/>
<path d="M360.2,661.9H365.2M362.7,659.4V664.4" stroke="#9a4ea5" stroke-width="1.5"/>
<path d="M386.8,648.1H391.8M389.3,645.6V650.6" stroke="#9a4ea5" stroke-width="1.5"/>
<path d="M357.7,659.9H362.7M360.2,657.4V662.4" stroke="#9a4ea5" stroke-width="1.5"/>
<path d="M402.3,626.6H407.3M404.8,624.1V629.1" stroke="#9a4ea5" stroke-width="1.5"/>
<path d="M356.5,666.9H361.5M359.0,664.4V669.4" stroke="#9a4ea5" stroke-width="1.5"/>
<path d="M359.2,671.1H364.2M361.7,668.6V673.6" stroke="#9a4ea5" stroke-width="1.5"/>
<path d="M379.9,654.9H384.9M382.4,652.4V657.4" stroke="#9a4ea5" stroke-width="1.5"/>
<path d="M399.0,623.2H404.0M401.5,620.7V625.7" stroke="#9a4ea5" stroke-width="1.5"/>
<path d="M364.8,669.0H369.8M367.3,666.5V671.5" stroke="#9a4ea5" stroke-width="1.5"/>
<path d="M383.6,647.6H388.6M386.1,645.1V650.1" stroke="#9a4ea5" stroke-width="1.5"/>
<path d="M371.6,662.0H376.6M374.1,659.5V664.5" stroke="#9a4ea5" stroke-width="1.5"/>
<path d="M399.8,644.0H404.8M402.3,641.5V646.5" stroke="#9a4ea5" stroke-width="1.5"/>
<path d="M398.5,645.0H403.5M401.0,642.5V647.5" stroke="#9a4ea5" stroke-width="1.5"/>
<path d="M360.8,659.1H365.8M363.3,656.6V661.6" stroke="#9a4ea5" stroke-width="1.5"/>
<path d="M394.3,629.7H399.3M396.8,627.2V632.2" stroke="#9a4ea5" stroke-width="1.5"/>
<path d="M379.6,653.0H384.6M382.1,650.5V655.5" stroke="#9a4ea5" stroke-width="1.5"/>
<path d="M401.2,630.1H406.2M403.7,627.6V632.6" stroke="#9a4ea5" stroke-width="1.5"/>
<path d="M361.0,661.6H366.0M363.5,659.1V664.1" stroke="#9a4ea5" stroke-width="1.5"/>
<path d="M440.4,628.1L443.8,631.5M440.4,631.5L443.8,628.1" stroke="#f8801c" stroke-width="1.3"/>
<path d="M442.7,609.3H446.3" stroke="#f8801c" stroke-width="1.6"/>
<path d="M426.5,636.3L429.9,639.7M426.5,639.7L429.9,636.3" stroke="#f8801c" stroke-width="1.3"/>
<path d="M404.4,636.7H408.0" stroke="#f8801c" stroke-width="1.6"/>
<path d="M420.1,637.7L423.5,641.1M420.1,641.1L423.5,637.7" stroke="#f8801c" stroke-width="1.3"/>
<path d="M418.0,622.6L421.4,626.0M418.0,626.0L421.4,622.6" stroke="#f8801c" stroke-width="1.3"/>
<path d="M423.7,642.7H427.3" stroke="#f8801c" stroke-width="1.6"/>
<path d="M434.8,605.1L438.2,608.5M434.8,608.5L438.2,605.1" stroke="#f8801c" stroke-width="1.3"/>
<path d="M427.1,618.2L430.5,621.6M427.1,621.6L430.5,618.2" stroke="#f8801c" stroke-width="1.3"/>
<path d="M438.8,601.7H442.4" stroke="#f8801c" stroke-width="1.6"/>
<path d="M443.5,603.6L446.9,607.0M443.5,607.0L446.9,603.6" stroke="#f8801c" stroke-width="1.3"/>
<path d="M416.8,631.0H420.4" stroke="#f8801c" stroke-width="1.6"/>
<path d="M409.1,625.0H412.7" stroke="#f8801c" stroke-width="1.6"/>
<path d="M414.6,636.1H418.2" stroke="#f8801c" stroke-width="1.6"/>
<path d="M403.2,621.8H406.8" stroke="#f8801c" stroke-width="1.6"/>
<path d="M441.0,622.7L444.4,626.1M441.0,626.1L444.4,622.7" stroke="#f8801c" stroke-width="1.3"/>
<path d="M407.4,632.8L410.8,636.2M407.4,636.2L410.8,632.8" stroke="#f8801c" stroke-width="1.3"/>
<path d="M416.5,614.2H420.1" stroke="#f8801c" stroke-width="1.6"/>
<path d="M422.5,617.3L425.9,620.7M422.5,620.7L425.9,617.3" stroke="#f8801c" stroke-width="1.3"/>
<path d="M406.0,618.5L409.4,621.9M406.0,621.9L409.4,618.5" stroke="#f8801c" stroke-width="1.3"/>
<path d="M443.5,594.0H447.1" stroke="#f8801c" stroke-width="1.6"/>
<path d="M422.0,628.4L425.4,631.8M422.0,631.8L425.4,628.4" stroke="#f8801c" stroke-width="1.3"/>
<path d="M443.5,626.2L446.9,629.6M443.5,629.6L446.9,626.2" stroke="#f8801c" stroke-width="1.3"/>
<path d="M421.0,640.5L424.4,643.9M421.0,643.9L424.4,640.5" stroke="#f8801c" stroke-width="1.3"/>
<path d="M439.0,622.2H442.6" stroke="#f8801c" stroke-width="1.6"/>
<path d="M425.2,626.9L428.6,630.3M425.2,630.3L428.6,626.9" stroke="#f8801c" stroke-width="1.3"/>
<path d="M413.5,624.6L416.9,628.0M413.5,628.0L416.9,624.6" stroke="#f8801c" stroke-width="1.3"/>
<path d="M406.8,638.7L410.2,642.1M406.8,642.1L410.2,638.7" stroke="#f8801c" stroke-width="1.3"/>
<path d="M433.6,616.1H437.2" stroke="#f8801c" stroke-width="1.6"/>
<path d="M413.3,629.9L416.7,633.3M413.3,633.3L416.7,629.9" stroke="#f8801c" stroke-width="1.3"/>
<path d="M435.6,604.1H439.2" stroke="#f8801c" stroke-width="1.6"/>
<path d="M421.9,629.8L425.3,633.2M421.9,633.2L425.3,629.8" stroke="#f8801c" stroke-width="1.3"/>
<path d="M425.6,641.3L429.0,644.7M425.6,644.7L429.0,641.3" stroke="#f8801c" stroke-width="1.3"/>
<path d="M443.1,633.3L446.5,636.7M443.1,636.7L446.5,633.3" stroke="#f8801c" stroke-width="1.3"/>
<path d="M406.5,634.0H410.1" stroke="#f8801c" stroke-width="1.6"/>
<path d="M403.2,642.8H406.8" stroke="#f8801c" stroke-width="1.6"/>
<path d="M408.0,634.9L411.4,638.3M408.0,638.3L411.4,634.9" stroke="#f8801c" stroke-width="1.3"/>
<path d="M407.4,632.7L410.8,636.1M407.4,636.1L410.8,632.7" stroke="#f8801c" stroke-width="1.3"/>
<path d="M430.3,621.8L433.7,625.2M430.3,625.2L433.7,621.8" stroke="#f8801c" stroke-width="1.3"/>
<path d="M440.9,594.8H444.5" stroke="#f8801c" stroke-width="1.6"/>
<path d="M414.8,643.6H418.4" stroke="#f8801c" stroke-width="1.6"/>
<path d="M422.0,616.8H425.6" stroke="#f8801c" stroke-width="1.6"/>
<path d="M438.4,636.9H442.0" stroke="#f8801c" stroke-width="1.6"/>
<path d="M441.1,632.8H444.7" stroke="#f8801c" stroke-width="1.6"/>
<path d="M417.2,631.3L420.6,634.7M417.2,634.7L420.6,631.3" stroke="#f8801c" stroke-width="1.3"/>
<path d="M436.6,620.8H440.2" stroke="#f8801c" stroke-width="1.6"/>
<path d="M439.9,625.8L443.3,629.2M439.9,629.2L443.3,625.8" stroke="#f8801c" stroke-width="1.3"/>
<path d="M417.0,613.9L420.4,617.3M417.0,617.3L420.4,613.9" stroke="#f8801c" stroke-width="1.3"/>
<path d="M409.7,626.5H413.3" stroke="#f8801c" stroke-width="1.6"/>
<path d="M408.1,646.2H411.7" stroke="#f8801c" stroke-width="1.6"/>
<path d="M434.9,607.3L438.3,610.7M434.9,610.7L438.3,607.3" stroke="#f8801c" stroke-width="1.3"/>
<path d="M422.0,631.2H425.6" stroke="#f8801c" stroke-width="1.6"/>
<path d="M404.0,623.0H407.6" stroke="#f8801c" stroke-width="1.6"/>
<path d="M404.2,644.9L407.6,648.3M404.2,648.3L407.6,644.9" stroke="#f8801c" stroke-width="1.3"/>
<path d="M443.2,613.3H446.8" stroke="#f8801c" stroke-width="1.6"/>
<path d="M437.1,630.1L440.5,633.5M437.1,633.5L440.5,630.1" stroke="#f8801c" stroke-width="1.3"/>
<path d="M422.2,635.5L425.6,638.9M422.2,638.9L425.6,635.5" stroke="#f8801c" stroke-width="1.3"/>
<path d="M415.7,642.4H419.3" stroke="#f8801c" stroke-width="1.6"/>
<path d="M437.2,610.1L440.6,613.5M437.2,613.5L440.6,610.1" stroke="#f8801c" stroke-width="1.3"/>
<path d="M407.6,642.1L411.0,645.5M407.6,645.5L411.0,642.1" stroke="#f8801c" stroke-width="1.3"/>
<path d="M410.8,615.6L414.2,619.0M410.8,619.0L414.2,615.6" stroke="#f8801c" stroke-width="1.3"/>
<path d="M444.1,593.5L447.5,596.9M444.1,596.9L447.5,593.5" stroke="#f8801c" stroke-width="1.3"/>
<path d="M414.3,635.6L417.7,639.0M414.3,639.0L417.7,635.6" stroke="#f8801c" stroke-width="1.3"/>
<path d="M410.3,638.4H413.9" stroke="#f8801c" stroke-width="1.6"/>
<path d="M410.1,617.2L413.5,620.6M410.1,620.6L413.5,617.2" stroke="#f8801c" stroke-width="1.3"/>
<path d="M441.6,595.0L445.0,598.4M441.6,598.4L445.0,595.0" stroke="#f8801c" stroke-width="1.3"/>
<path d="M429.8,631.2L433.2,634.6M429.8,634.6L433.2,631.2" stroke="#f8801c" stroke-width="1.3"/>
<path d="M405.1,634.5L408.5,637.9M405.1,637.9L408.5,634.5" stroke="#f8801c" stroke-width="1.3"/>
<path d="M406.2,620.9H409.8" stroke="#f8801c" stroke-width="1.6"/>
<path d="M407.4,632.9H411.0" stroke="#f8801c" stroke-width="1.6"/>
<path d="M411.4,628.4H415.0" stroke="#f8801c" stroke-width="1.6"/>
<path d="M426.3,613.2H429.9" stroke="#f8801c" stroke-width="1.6"/>
<path d="M444.0,628.1H447.6" stroke="#f8801c" stroke-width="1.6"/>
<path d="M404.2,622.1H407.8" stroke="#f8801c" stroke-width="1.6"/>
<path d="M403.8,647.1L407.2,650.5M403.8,650.5L407.2,647.1" stroke="#f8801c" stroke-width="1.3"/>
<path d="M425.8,637.2L429.2,640.6M425.8,640.6L429.2,637.2" stroke="#f8801c" stroke-width="1.3"/>
<path d="M434.7,604.1L438.1,607.5M434.7,607.5L438.1,604.1" stroke="#f8801c" stroke-width="1.3"/>
<path d="M433.1,617.8L436.5,621.2M433.1,621.2L436.5,617.8" stroke="#f8801c" stroke-width="1.3"/>
<path d="M438.4,611.5H442.0" stroke="#f8801c" stroke-width="1.6"/>
<path d="M416.2,639.1L419.6,642.5M416.2,642.5L419.6,639.1" stroke="#f8801c" stroke-width="1.3"/>
<path d="M430.9,639.8H434.5" stroke="#f8801c" stroke-width="1.6"/>
<path d="M420.2,644.7H423.8" stroke="#f8801c" stroke-width="1.6"/>
<path d="M437.0,605.2L440.4,608.6M437.0,608.6L440.4,605.2" stroke="#f8801c" stroke-width="1.3"/>
<path d="M428.4,607.8L431.8,611.2M428.4,611.2L431.8,607.8" stroke="#f8801c" stroke-width="1.3"/>
<path d="M426.1,639.6L429.5,643.0M426.1,643.0L429.5,639.6" stroke="#f8801c" stroke-width="1.3"/>
<path d="M436.9,637.5H440.5" stroke="#f8801c" stroke-width="1.6"/>
<path d="M406.5,623.0H410.1" stroke="#f8801c" stroke-width="1.6"/>
<path d="M442.9,598.9L446.3,602.3M442.9,602.3L446.3,598.9" stroke="#f8801c" stroke-width="1.3"/>
<path d="M432.5,603.4L435.9,606.8M432.5,606.8L435.9,603.4" stroke="#f8801c" stroke-width="1.3"/>
<path d="M409.9,633.4L413.3,636.8M409.9,636.8L413.3,633.4" stroke="#f8801c" stroke-width="1.3"/>
<path d="M437.7,603.4H441.3" stroke="#f8801c" stroke-width="1.6"/>
<path d="M435.5,614.2H439.1" stroke="#f8801c" stroke-width="1.6"/>
<path d="M430.9,607.2H434.5" stroke="#f8801c" stroke-width="1.6"/>
<path d="M421.3,627.9H424.9" stroke="#f8801c" stroke-width="1.6"/>
<path d="M404.2,626.6L407.6,630.0M404.2,630.0L407.6,626.6" stroke="#f8801c" stroke-width="1.3"/>
<path d="M433.4,609.3H437.0" stroke="#f8801c" stroke-width="1.6"/>
<path d="M432.7,639.1L436.1,642.5M432.7,642.5L436.1,639.1" stroke="#f8801c" stroke-width="1.3"/>
<path d="M420.3,636.3L423.7,639.7M420.3,639.7L423.7,636.3" stroke="#f8801c" stroke-width="1.3"/>
<path d="M410.4,637.9H414.0" stroke="#f8801c" stroke-width="1.6"/>
<path d="M421.6,621.3L425.0,624.7M421.6,624.7L425.0,621.3" stroke="#f8801c" stroke-width="1.3"/>
<path d="M419.9,638.2L423.3,641.6M419.9,641.6L423.3,638.2" stroke="#f8801c" stroke-width="1.3"/>
<path d="M442.4,607.3L445.8,610.7M442.4,610.7L445.8,607.3" stroke="#f8801c" stroke-width="1.3"/>
<path d="M435.1,636.3H438.7" stroke="#f8801c" stroke-width="1.6"/>
<path d="M420.6,624.4L424.0,627.8M420.6,627.8L424.0,624.4" stroke="#f8801c" stroke-width="1.3"/>
<path d="M425.4,635.3L428.8,638.7M425.4,638.7L428.8,635.3" stroke="#f8801c" stroke-width="1.3"/>
<path d="M416.2,613.7L419.6,617.1M416.2,617.1L419.6,613.7" stroke="#f8801c" stroke-width="1.3"/>
<path d="M422.9,644.1H426.5" stroke="#f8801c" stroke-width="1.6"/>
<path d="M440.9,601.5L444.3,604.9M440.9,604.9L444.3,601.5" stroke="#f8801c" stroke-width="1.3"/>
<path d="M432.0,604.5H435.6" stroke="#f8801c" stroke-width="1.6"/>
<path d="M428.9,603.4L432.3,606.8M428.9,606.8L432.3,603.4" stroke="#f8801c" stroke-width="1.3"/>
<path d="M435.3,605.6H438.9" stroke="#f8801c" stroke-width="1.6"/>
<path d="M420.5,623.9H424.1" stroke="#f8801c" stroke-width="1.6"/>
<path d="M419.5,641.4H423.1" stroke="#f8801c" stroke-width="1.6"/>
<path d="M426.0,608.3L429.4,611.7M426.0,611.7L429.4,608.3" stroke="#f8801c" stroke-width="1.3"/>
<path d="M442.4,604.9H446.0" stroke="#f8801c" stroke-width="1.6"/>
<path d="M411.4,639.3H415.0" stroke="#f8801c" stroke-width="1.6"/>
<path d="M439.8,619.0L443.2,622.4M439.8,622.4L443.2,619.0" stroke="#f8801c" stroke-width="1.3"/>
<path d="M435.8,622.2H439.4" stroke="#f8801c" stroke-width="1.6"/>
<path d="M424.6,617.5L428.0,620.9M424.6,620.9L428.0,617.5" stroke="#f8801c" stroke-width="1.3"/>
<path d="M426.2,632.1H429.8" stroke="#f8801c" stroke-width="1.6"/>
<path d="M438.6,617.2L442.0,620.6M438.6,620.6L442.0,617.2" stroke="#f8801c" stroke-width="1.3"/>
<path d="M438.5,624.7L441.9,628.1M438.5,628.1L441.9,624.7" stroke="#f8801c" stroke-width="1.3"/>
<path d="M422.1,639.4H425.7" stroke="#f8801c" stroke-width="1.6"/>
<path d="M408.2,644.6H411.8" stroke="#f8801c" stroke-width="1.6"/>
<path d="M411.3,638.2H414.9" stroke="#f8801c" stroke-width="1.6"/>
<path d="M426.8,641.2H430.4" stroke="#f8801c" stroke-width="1.6"/>
<path d="M403.7,639.9H407.3" stroke="#f8801c" stroke-width="1.6"/>
<path d="M440.8,627.0H444.4" stroke="#f8801c" stroke-width="1.6"/>
<path d="M436.2,616.1L439.6,619.5M436.2,619.5L439.6,616.1" stroke="#f8801c" stroke-width="1.3"/>
<path d="M410.1,618.4H413.7" stroke="#f8801c" stroke-width="1.6"/>
<path d="M436.3,635.5H439.9" stroke="#f8801c" stroke-width="1.6"/>
<path d="M421.9,627.6L425.3,631.0M421.9,631.0L425.3,627.6" stroke="#f8801c" stroke-width="1.3"/>
<path d="M409.9,627.8L413.3,631.2M409.9,631.2L413.3,627.8" stroke="#f8801c" stroke-width="1.3"/>
<path d="M416.4,628.8L419.8,632.2M416.4,632.2L419.8,628.8" stroke="#f8801c" stroke-width="1.3"/>
<path d="M410.6,617.6L414.0,621.0M410.6,621.0L414.0,617.6" stroke="#f8801c" stroke-width="1.3"/>
<path d="M437.5,615.9H441.1" stroke="#f8801c" stroke-width="1.6"/>
<path d="M432.6,633.2H436.2" stroke="#f8801c" stroke-width="1.6"/>
<path d="M423.8,607.8L427.2,611.2M423.8,611.2L427.2,607.8" stroke="#f8801c" stroke-width="1.3"/>
<path d="M414.6,625.2H418.2" stroke="#f8801c" stroke-width="1.6"/>
<path d="M423.7,616.7L427.1,620.1M423.7,620.1L427.1,616.7" stroke="#f8801c" stroke-width="1.3"/>
<path d="M433.5,640.4H437.1" stroke="#f8801c" stroke-width="1.6"/>
<path d="M409.0,639.0H412.6" stroke="#f8801c" stroke-width="1.6"/>
<path d="M425.3,630.1H428.9" stroke="#f8801c" stroke-width="1.6"/>
<path d="M422.9,632.2L426.3,635.6M422.9,635.6L426.3,632.2" stroke="#f8801c" stroke-width="1.3"/>
<path d="M437.6,619.3L441.0,622.7M437.6,622.7L441.0,619.3" stroke="#f8801c" stroke-width="1.3"/>
<path d="M428.9,634.0L432.3,637.4M428.9,637.4L432.3,634.0" stroke="#f8801c" stroke-width="1.3"/>
<path d="M416.0,637.0H419.6" stroke="#f8801c" stroke-width="1.6"/>
<path d="M442.7,605.0L446.1,608.4M442.7,608.4L446.1,605.0" stroke="#f8801c" stroke-width="1.3"/>
<path d="M418.7,616.5H422.3" stroke="#f8801c" stroke-width="1.6"/>
<path d="M415.0,629.7H418.6" stroke="#f8801c" stroke-width="1.6"/>
<path d="M426.1,641.3L429.5,644.7M426.1,644.7L429.5,641.3" stroke="#f8801c" stroke-width="1.3"/>
<path d="M410.8,618.5H414.4" stroke="#f8801c" stroke-width="1.6"/>
<path d="M414.9,621.2H418.5" stroke="#f8801c" stroke-width="1.6"/>
<path d="M443.7,625.4H447.3" stroke="#f8801c" stroke-width="1.6"/>
<path d="M441.5,615.2L444.9,618.6M441.5,618.6L444.9,615.2" stroke="#f8801c" stroke-width="1.3"/>
<path d="M434.7,606.7L438.1,610.1M434.7,610.1L438.1,606.7" stroke="#f8801c" stroke-width="1.3"/>
<path d="M418.5,637.0H422.1" stroke="#f8801c" stroke-width="1.6"/>
<path d="M420.1,613.3L423.5,616.7M420.1,616.7L423.5,613.3" stroke="#f8801c" stroke-width="1.3"/>
<path d="M427.8,623.6H431.4" stroke="#f8801c" stroke-width="1.6"/>
<path d="M433.6,623.4H437.2" stroke="#f8801c" stroke-width="1.6"/>
<path d="M441.0,615.1L444.4,618.5M441.0,618.5L444.4,615.1" stroke="#f8801c" stroke-width="1.3"/>
<path d="M424.0,615.1L427.4,618.5M424.0,618.5L427.4,615.1" stroke="#f8801c" stroke-width="1.3"/>
<path d="M432.8,616.9L436.2,620.3M432.8,620.3L436.2,616.9" stroke="#f8801c" stroke-width="1.3"/>
<path d="M419.4,620.5L422.8,623.9M419.4,623.9L422.8,620.5" stroke="#f8801c" stroke-width="1.3"/>
<path d="M403.4,615.5H408.4M405.9,613.0V618.0" stroke="#9a4ea5" stroke-width="1.5"/>
<path d="M435.5,605.3H440.5M438.0,602.8V607.8" stroke="#9a4ea5" stroke-width="1.5"/>
<path d="M427.0,601.2H432.0M429.5,598.7V603.7" stroke="#9a4ea5" stroke-width="1.5"/>
<path d="M428.7,600.9H433.7M431.2,598.4V603.4" stroke="#9a4ea5" stroke-width="1.5"/>
<path d="M412.0,608.7H417.0M414.5,606.2V611.2" stroke="#9a4ea5" stroke-width="1.5"/>
<path d="M408.0,606.6H413.0M410.5,604.1V609.1" stroke="#9a4ea5" stroke-width="1.5"/>
<path d="M442.9,592.3H447.9M445.4,589.8V594.8" stroke="#9a4ea5" stroke-width="1.5"/>
<path d="M442.3,600.5H447.3M444.8,598.0V603.0" stroke="#9a4ea5" stroke-width="1.5"/>
<path d="M432.9,597.0H437.9M435.4,594.5V599.5" stroke="#9a4ea5" stroke-width="1.5"/>
<path d="M430.4,599.2H435.4M432.9,596.7V601.7" stroke="#9a4ea5" stroke-width="1.5"/>
<path d="M423.3,606.0H428.3M425.8,603.5V608.5" stroke="#9a4ea5" stroke-width="1.5"/>
<path d="M439.5,594.0H444.5M442.0,591.5V596.5" stroke="#9a4ea5" stroke-width="1.5"/>
<path d="M402.8,615.3H407.8M405.3,612.8V617.8" stroke="#9a4ea5" stroke-width="1.5"/>
<path d="M424.0,608.2H429.0M426.5,605.7V610.7" stroke="#9a4ea5" stroke-width="1.5"/>
<path d="M406.0,611.0H411.0M408.5,608.5V613.5" stroke="#9a4ea5" stroke-width="1.5"/>
<path d="M431.7,603.7H436.7M434.2,601.2V606.2" stroke="#9a4ea5" stroke-width="1.5"/>
<path d="M415.5,603.5H420.5M418.0,601.0V606.0" stroke="#9a4ea5" stroke-width="1.5"/>
<path d="M404.3,619.6H409.3M406.8,617.1V622.1" stroke="#9a4ea5" stroke-width="1.5"/>
<path d="M413.7,604.7H418.7M416.2,602.2V607.2" stroke="#9a4ea5" stroke-width="1.5"/>
<path d="M414.5,606.5H419.5M417.0,604.0V609.0" stroke="#9a4ea5" stroke-width="1.5"/>
<path d="M424.8,600.0H429.8M427.3,597.5V602.5" stroke="#9a4ea5" stroke-width="1.5"/>
<path d="M424.6,607.8H429.6M427.1,605.3V610.3" stroke="#9a4ea5" stroke-width="1.5"/>
<path d="M424.5,607.3H429.5M427.0,604.8V609.8" stroke="#9a4ea5" stroke-width="1.5"/>
<path d="M412.4,609.5H417.4M414.9,607.0V612.0" stroke="#9a4ea5" stroke-width="1.5"/>
<path d="M433.2,599.1H438.2M435.7,596.6V601.6" stroke="#9a4ea5" stroke-width="1.5"/>
<path d="M436.4,596.5H441.4M438.9,594.0V599.0" stroke="#9a4ea5" stroke-width="1.5"/>
<path d="M422.1,612.4H427.1M424.6,609.9V614.9" stroke="#9a4ea5" stroke-width="1.5"/>
<path d="M429.7,600.5H434.7M432.2,598.0V603.0" stroke="#9a4ea5" stroke-width="1.5"/>
<path d="M417.5,606.7H422.5M420.0,604.2V609.2" stroke="#9a4ea5" stroke-width="1.5"/>
<path d="M433.3,600.1H438.3M435.8,597.6V602.6" stroke="#9a4ea5" stroke-width="1.5"/>
<path d="M436.8,602.9H441.8M439.3,600.4V605.4" stroke="#9a4ea5" stroke-width="1.5"/>
<path d="M436.6,600.9H441.6M439.1,598.4V603.4" stroke="#9a4ea5" stroke-width="1.5"/>
<path d="M414.1,613.1H419.1M416.6,610.6V615.6" stroke="#9a4ea5" stroke-width="1.5"/>
<path d="M420.4,602.2H425.4M422.9,599.7V604.7" stroke="#9a4ea5" stroke-width="1.5"/>
<path d="M421.0,603.7H426.0M423.5,601.2V606.2" stroke="#9a4ea5" stroke-width="1.5"/>
<path d="M405.5,609.5H410.5M408.0,607.0V612.0" stroke="#9a4ea5" stroke-width="1.5"/>
<path d="M469.1,610.4L472.5,613.8M469.1,613.8L472.5,610.4" stroke="#f8801c" stroke-width="1.3"/>
<path d="M459.3,600.8H462.9" stroke="#f8801c" stroke-width="1.6"/>
<path d="M451.0,620.1H454.6" stroke="#f8801c" stroke-width="1.6"/>
<path d="M455.9,606.1L459.3,609.5M455.9,609.5L459.3,606.1" stroke="#f8801c" stroke-width="1.3"/>
<path d="M464.2,619.2H467.8" stroke="#f8801c" stroke-width="1.6"/>
<path d="M447.1,620.6L450.5,624.0M447.1,624.0L450.5,620.6" stroke="#f8801c" stroke-width="1.3"/>
<path d="M447.1,602.4H450.7" stroke="#f8801c" stroke-width="1.6"/>
<path d="M447.2,611.7H450.8" stroke="#f8801c" stroke-width="1.6"/>
<path d="M464.6,617.1L468.0,620.5M464.6,620.5L468.0,617.1" stroke="#f8801c" stroke-width="1.3"/>
<path d="M453.1,593.7L456.5,597.1M453.1,597.1L456.5,593.7" stroke="#f8801c" stroke-width="1.3"/>
<path d="M467.3,624.1L470.7,627.5M467.3,627.5L470.7,624.1" stroke="#f8801c" stroke-width="1.3"/>
<path d="M458.8,609.9H462.4" stroke="#f8801c" stroke-width="1.6"/>
<path d="M456.0,588.2L459.4,591.6M456.0,591.6L459.4,588.2" stroke="#f8801c" stroke-width="1.3"/>
<path d="M448.1,603.2L451.5,606.6M448.1,606.6L451.5,603.2" stroke="#f8801c" stroke-width="1.3"/>
<path d="M462.3,590.9L465.7,594.3M462.3,594.3L465.7,590.9" stroke="#f8801c" stroke-width="1.3"/>
<path d="M462.9,603.7H466.5" stroke="#f8801c" stroke-width="1.6"/>
<path d="M459.3,598.9L462.7,602.3M459.3,602.3L462.7,598.9" stroke="#f8801c" stroke-width="1.3"/>
<path d="M466.5,610.9L469.9,614.3M466.5,614.3L469.9,610.9" stroke="#f8801c" stroke-width="1.3"/>
<path d="M446.3,611.1H449.9" stroke="#f8801c" stroke-width="1.6"/>
<path d="M463.5,622.8H467.1" stroke="#f8801c" stroke-width="1.6"/>
<path d="M447.6,591.5L451.0,594.9M447.6,594.9L451.0,591.5" stroke="#f8801c" stroke-width="1.3"/>
<path d="M447.1,605.2H450.7" stroke="#f8801c" stroke-width="1.6"/>
<path d="M451.1,616.9L454.5,620.3M451.1,620.3L454.5,616.9" stroke="#f8801c" stroke-width="1.3"/>
<path d="M465.5,585.8L468.9,589.2M465.5,589.2L468.9,585.8" stroke="#f8801c" stroke-width="1.3"/>
<path d="M445.5,607.5L448.9,610.9M445.5,610.9L448.9,607.5" stroke="#f8801c" stroke-width="1.3"/>
<path d="M462.2,601.9H465.8" stroke="#f8801c" stroke-width="1.6"/>
<path d="M454.2,619.2H457.8" stroke="#f8801c" stroke-width="1.6"/>
<path d="M453.9,617.0H457.5" stroke="#f8801c" stroke-width="1.6"/>
<path d="M459.7,600.7L463.1,604.1M459.7,604.1L463.1,600.7" stroke="#f8801c" stroke-width="1.3"/>
<path d="M457.9,604.5L461.3,607.9M457.9,607.9L461.3,604.5" stroke="#f8801c" stroke-width="1.3"/>
<path d="M469.8,591.2H473.4" stroke="#f8801c" stroke-width="1.6"/>
<path d="M458.7,588.9H462.3" stroke="#f8801c" stroke-width="1.6"/>
<path d="M449.2,603.9L452.6,607.3M449.2,607.3L452.6,603.9" stroke="#f8801c" stroke-width="1.3"/>
<path d="M464.4,620.5L467.8,623.9M464.4,623.9L467.8,620.5" stroke="#f8801c" stroke-width="1.3"/>
<path d="M467.1,621.7L470.5,625.1M467.1,625.1L470.5,621.7" stroke="#f8801c" stroke-width="1.3"/>
<path d="M446.4,602.8L449.8,606.2M446.4,606.2L449.8,602.8" stroke="#f8801c" stroke-width="1.3"/>
<path d="M447.5,604.6L450.9,608.0M447.5,608.0L450.9,604.6" stroke="#f8801c" stroke-width="1.3"/>
<path d="M459.8,593.4H463.4" stroke="#f8801c" stroke-width="1.6"/>
<path d="M460.4,587.9H464.0" stroke="#f8801c" stroke-width="1.6"/>
<path d="M468.3,624.0L471.7,627.4M468.3,627.4L471.7,624.0" stroke="#f8801c" stroke-width="1.3"/>
<path d="M462.2,596.1L465.6,599.5M462.2,599.5L465.6,596.1" stroke="#f8801c" stroke-width="1.3"/>
<path d="M456.2,587.1H459.8" stroke="#f8801c" stroke-width="1.6"/>
<path d="M447.7,618.5L451.1,621.9M447.7,621.9L451.1,618.5" stroke="#f8801c" stroke-width="1.3"/>
<path d="M460.5,605.9L463.9,609.3M460.5,609.3L463.9,605.9" stroke="#f8801c" stroke-width="1.3"/>
<path d="M447.3,604.0L450.7,607.4M447.3,607.4L450.7,604.0" stroke="#f8801c" stroke-width="1.3"/>
<path d="M448.3,588.1L451.7,591.5M448.3,591.5L451.7,588.1" stroke="#f8801c" stroke-width="1.3"/>
<path d="M465.4,590.1H469.0" stroke="#f8801c" stroke-width="1.6"/>
<path d="M447.2,618.6H450.8" stroke="#f8801c" stroke-width="1.6"/>
<path d="M467.1,600.5H470.7" stroke="#f8801c" stroke-width="1.6"/>
<path d="M455.0,610.9H458.6" stroke="#f8801c" stroke-width="1.6"/>
<path d="M448.1,587.5H451.7" stroke="#f8801c" stroke-width="1.6"/>
<path d="M450.2,592.7L453.6,596.1M450.2,596.1L453.6,592.7" stroke="#f8801c" stroke-width="1.3"/>
<path d="M448.8,594.9L452.2,598.3M448.8,598.3L452.2,594.9" stroke="#f8801c" stroke-width="1.3"/>
<path d="M446.6,618.6H450.2" stroke="#f8801c" stroke-width="1.6"/>
<path d="M463.2,602.8H466.8" stroke="#f8801c" stroke-width="1.6"/>
<path d="M458.4,606.0L461.8,609.4M458.4,609.4L461.8,606.0" stroke="#f8801c" stroke-width="1.3"/>
<path d="M453.4,594.1H457.0" stroke="#f8801c" stroke-width="1.6"/>
<path d="M469.3,608.7L472.7,612.1M469.3,612.1L472.7,608.7" stroke="#f8801c" stroke-width="1.3"/>
<path d="M465.8,587.7H469.4" stroke="#f8801c" stroke-width="1.6"/>
<path d="M445.3,624.6H448.9" stroke="#f8801c" stroke-width="1.6"/>
<path d="M469.8,604.3H473.4" stroke="#f8801c" stroke-width="1.6"/>
<path d="M454.6,615.8H458.2" stroke="#f8801c" stroke-width="1.6"/>
<path d="M456.1,618.0H459.7" stroke="#f8801c" stroke-width="1.6"/>
<path d="M451.4,595.9H455.0" stroke="#f8801c" stroke-width="1.6"/>
<path d="M453.0,600.3H456.6" stroke="#f8801c" stroke-width="1.6"/>
<path d="M451.8,602.2L455.2,605.6M451.8,605.6L455.2,602.2" stroke="#f8801c" stroke-width="1.3"/>
<path d="M455.7,617.7H459.3" stroke="#f8801c" stroke-width="1.6"/>
<path d="M468.5,621.5L471.9,624.9M468.5,624.9L471.9,621.5" stroke="#f8801c" stroke-width="1.3"/>
<path d="M464.4,613.2H468.0" stroke="#f8801c" stroke-width="1.6"/>
<path d="M456.9,622.7H460.5" stroke="#f8801c" stroke-width="1.6"/>
<path d="M468.7,586.8L472.1,590.2M468.7,590.2L472.1,586.8" stroke="#f8801c" stroke-width="1.3"/>
<path d="M447.8,613.0L451.2,616.4M447.8,616.4L451.2,613.0" stroke="#f8801c" stroke-width="1.3"/>
<path d="M452.6,597.4L456.0,600.8M452.6,600.8L456.0,597.4" stroke="#f8801c" stroke-width="1.3"/>
<path d="M452.2,605.4H455.8" stroke="#f8801c" stroke-width="1.6"/>
<path d="M444.7,594.8H448.3" stroke="#f8801c" stroke-width="1.6"/>
<path d="M461.4,609.2H465.0" stroke="#f8801c" stroke-width="1.6"/>
<path d="M455.5,622.4H459.1" stroke="#f8801c" stroke-width="1.6"/>
<path d="M457.3,608.4H460.9" stroke="#f8801c" stroke-width="1.6"/>
<path d="M451.6,595.2L455.0,598.6M451.6,598.6L455.0,595.2" stroke="#f8801c" stroke-width="1.3"/>
<path d="M457.4,587.1H461.0" stroke="#f8801c" stroke-width="1.6"/>
<path d="M468.1,620.4H471.7" stroke="#f8801c" stroke-width="1.6"/>
<path d="M462.5,598.3L465.9,601.7M462.5,601.7L465.9,598.3" stroke="#f8801c" stroke-width="1.3"/>
<path d="M465.6,606.8H469.2" stroke="#f8801c" stroke-width="1.6"/>
<path d="M460.2,623.3L463.6,626.7M460.2,626.7L463.6,623.3" stroke="#f8801c" stroke-width="1.3"/>
<path d="M459.0,615.1H462.6" stroke="#f8801c" stroke-width="1.6"/>
<path d="M467.9,585.9H471.5" stroke="#f8801c" stroke-width="1.6"/>
<path d="M445.3,596.9L448.7,600.3M445.3,600.3L448.7,596.9" stroke="#f8801c" stroke-width="1.3"/>
<path d="M465.0,621.4H468.6" stroke="#f8801c" stroke-width="1.6"/>
<path d="M458.8,610.5L462.2,613.9M458.8,613.9L462.2,610.5" stroke="#f8801c" stroke-width="1.3"/>
<path d="M454.0,602.0L457.4,605.4M454.0,605.4L457.4,602.0" stroke="#f8801c" stroke-width="1.3"/>
<path d="M452.3,595.0L455.7,598.4M452.3,598.4L455.7,595.0" stroke="#f8801c" stroke-width="1.3"/>
<path d="M449.1,600.6H452.7" stroke="#f8801c" stroke-width="1.6"/>
<path d="M466.3,597.6H469.9" stroke="#f8801c" stroke-width="1.6"/>
<path d="M462.8,587.1L466.2,590.5M462.8,590.5L466.2,587.1" stroke="#f8801c" stroke-width="1.3"/>
<path d="M467.0,590.1H470.6" stroke="#f8801c" stroke-width="1.6"/>
<path d="M459.4,618.0H463.0" stroke="#f8801c" stroke-width="1.6"/>
<path d="M465.4,590.0H469.0" stroke="#f8801c" stroke-width="1.6"/>
<path d="M467.5,612.0H471.1" stroke="#f8801c" stroke-width="1.6"/>
<path d="M446.3,604.5H449.9" stroke="#f8801c" stroke-width="1.6"/>
<path d="M452.2,597.7L455.6,601.1M452.2,601.1L455.6,597.7" stroke="#f8801c" stroke-width="1.3"/>
<path d="M453.9,602.8H457.5" stroke="#f8801c" stroke-width="1.6"/>
<path d="M450.9,605.7H454.5" stroke="#f8801c" stroke-width="1.6"/>
<path d="M453.3,595.5H456.9" stroke="#f8801c" stroke-width="1.6"/>
<path d="M462.7,617.4H466.3" stroke="#f8801c" stroke-width="1.6"/>
<path d="M513.7,598.4H518.7M516.2,595.9V600.9" stroke="#9a4ea5" stroke-width="1.5"/>
<path d="M467.5,619.2H472.5M470.0,616.7V621.7" stroke="#9a4ea5" stroke-width="1.5"/>
<path d="M498.5,603.0H503.5M501.0,600.5V605.5" stroke="#9a4ea5" stroke-width="1.5"/>
<path d="M510.0,625.4H515.0M512.5,622.9V627.9" stroke="#9a4ea5" stroke-width="1.5"/>
<path d="M494.3,615.1H499.3M496.8,612.6V617.6" stroke="#9a4ea5" stroke-width="1.5"/>
<path d="M487.2,591.9H492.2M489.7,589.4V594.4" stroke="#9a4ea5" stroke-width="1.5"/>
<path d="M481.3,620.5H486.3M483.8,618.0V623.0" stroke="#9a4ea5" stroke-width="1.5"/>
<path d="M490.7,610.2H495.7M493.2,607.7V612.7" stroke="#9a4ea5" stroke-width="1.5"/>
<path d="M498.3,632.6H503.3M500.8,630.1V635.1" stroke="#9a4ea5" stroke-width="1.5"/>
<path d="M473.1,587.4H478.1M475.6,584.9V589.9" stroke="#9a4ea5" stroke-width="1.5"/>
<path d="M503.7,593.7H508.7M506.2,591.2V596.2" stroke="#9a4ea5" stroke-width="1.5"/>
<path d="M494.2,609.4H499.2M496.7,606.9V611.9" stroke="#9a4ea5" stroke-width="1.5"/>
<path d="M499.0,616.5H504.0M501.5,614.0V619.0" stroke="#9a4ea5" stroke-width="1.5"/>
<path d="M486.3,614.5H491.3M488.8,612.0V617.0" stroke="#9a4ea5" stroke-width="1.5"/>
<path d="M511.4,627.4H516.4M513.9,624.9V629.9" stroke="#9a4ea5" stroke-width="1.5"/>
<path d="M488.9,621.5H493.9M491.4,619.0V624.0" stroke="#9a4ea5" stroke-width="1.5"/>
<path d="M481.1,630.8H486.1M483.6,628.3V633.3" stroke="#9a4ea5" stroke-width="1.5"/>
<path d="M467.6,610.8H472.6M470.1,608.3V613.3" stroke="#9a4ea5" stroke-width="1.5"/>
<path d="M503.5,631.3H508.5M506.0,628.8V633.8" stroke="#9a4ea5" stroke-width="1.5"/>
<path d="M492.9,609.7H497.9M495.4,607.2V612.2" stroke="#9a4ea5" stroke-width="1.5"/>
<path d="M496.0,622.9H501.0M498.5,620.4V625.4" stroke="#9a4ea5" stroke-width="1.5"/>
<path d="M485.0,616.1H490.0M487.5,613.6V618.6" stroke="#9a4ea5" stroke-width="1.5"/>
<path d="M479.5,586.5H484.5M482.0,584.0V589.0" stroke="#9a4ea5" stroke-width="1.5"/>
<path d="M471.1,591.7H476.1M473.6,589.2V594.2" stroke="#9a4ea5" stroke-width="1.5"/>
<path d="M486.6,589.1H491.6M489.1,586.6V591.6" stroke="#9a4ea5" stroke-width="1.5"/>
<path d="M504.2,619.0H509.2M506.7,616.5V621.5" stroke="#9a4ea5" stroke-width="1.5"/>
<path d="M485.5,591.7H490.5M488.0,589.2V594.2" stroke="#9a4ea5" stroke-width="1.5"/>
<path d="M487.0,629.0H492.0M489.5,626.5V631.5" stroke="#9a4ea5" stroke-width="1.5"/>
<path d="M506.8,619.3H511.8M509.3,616.8V621.8" stroke="#9a4ea5" stroke-width="1.5"/>
<path d="M485.6,626.8H490.6M488.1,624.3V629.3" stroke="#9a4ea5" stroke-width="1.5"/>
<path d="M491.4,600.4H496.4M493.9,597.9V602.9" stroke="#9a4ea5" stroke-width="1.5"/>
<path d="M509.8,618.2H514.8M512.3,615.7V620.7" stroke="#9a4ea5" stroke-width="1.5"/>
<path d="M470.2,586.3H475.2M472.7,583.8V588.8" stroke="#9a4ea5" stroke-width="1.5"/>
<path d="M489.8,623.9H494.8M492.3,621.4V626.4" stroke="#9a4ea5" stroke-width="1.5"/>
<path d="M488.1,610.6H493.1M490.6,608.1V613.1" stroke="#9a4ea5" stroke-width="1.5"/>
<path d="M473.9,613.3H478.9M476.4,610.8V615.8" stroke="#9a4ea5" stroke-width="1.5"/>
<path d="M486.7,601.5H491.7M489.2,599.0V604.0" stroke="#9a4ea5" stroke-width="1.5"/>
<path d="M477.4,613.0H482.4M479.9,610.5V615.5" stroke="#9a4ea5" stroke-width="1.5"/>
<path d="M506.5,610.8H511.5M509.0,608.3V613.3" stroke="#9a4ea5" stroke-width="1.5"/>
<path d="M496.0,612.1H501.0M498.5,609.6V614.6" stroke="#9a4ea5" stroke-width="1.5"/>
<path d="M500.9,619.6H505.9M503.4,617.1V622.1" stroke="#9a4ea5" stroke-width="1.5"/>
<path d="M468.0,630.4H473.0M470.5,627.9V632.9" stroke="#9a4ea5" stroke-width="1.5"/>
<path d="M490.6,584.7H495.6M493.1,582.2V587.2" stroke="#9a4ea5" stroke-width="1.5"/>
<path d="M501.5,623.1H506.5M504.0,620.6V625.6" stroke="#9a4ea5" stroke-width="1.5"/>
<path d="M484.7,614.1H489.7M487.2,611.6V616.6" stroke="#9a4ea5" stroke-width="1.5"/>
<path d="M469.4,619.4H474.4M471.9,616.9V621.9" stroke="#9a4ea5" stroke-width="1.5"/>
<path d="M499.2,625.5H504.2M501.7,623.0V628.0" stroke="#9a4ea5" stroke-width="1.5"/>
<path d="M489.8,631.7H494.8M492.3,629.2V634.2" stroke="#9a4ea5" stroke-width="1.5"/>
<path d="M487.0,582.3H492.0M489.5,579.8V584.8" stroke="#9a4ea5" stroke-width="1.5"/>
<path d="M471.7,599.0H476.7M474.2,596.5V601.5" stroke="#9a4ea5" stroke-width="1.5"/>
<path d="M478.1,594.4H483.1M480.6,591.9V596.9" stroke="#9a4ea5" stroke-width="1.5"/>
<path d="M471.8,615.3H476.8M474.3,612.8V617.8" stroke="#9a4ea5" stroke-width="1.5"/>
<path d="M509.2,632.2H514.2M511.7,629.7V634.7" stroke="#9a4ea5" stroke-width="1.5"/>
<path d="M484.1,608.7H489.1M486.6,606.2V611.2" stroke="#9a4ea5" stroke-width="1.5"/>
<path d="M492.2,614.5H497.2M494.7,612.0V617.0" stroke="#9a4ea5" stroke-width="1.5"/>
<path d="M501.7,605.3H506.7M504.2,602.8V607.8" stroke="#9a4ea5" stroke-width="1.5"/>
<path d="M468.4,598.5H473.4M470.9,596.0V601.0" stroke="#9a4ea5" stroke-width="1.5"/>
<path d="M468.1,616.5H473.1M470.6,614.0V619.0" stroke="#9a4ea5" stroke-width="1.5"/>
<path d="M513.0,612.9H518.0M515.5,610.4V615.4" stroke="#9a4ea5" stroke-width="1.5"/>
<path d="M500.0,612.7H505.0M502.5,610.2V615.2" stroke="#9a4ea5" stroke-width="1.5"/>
<path d="M513.2,591.0H518.2M515.7,588.5V593.5" stroke="#9a4ea5" stroke-width="1.5"/>
<path d="M494.3,600.0H499.3M496.8,597.5V602.5" stroke="#9a4ea5" stroke-width="1.5"/>
<path d="M489.0,593.7H494.0M491.5,591.2V596.2" stroke="#9a4ea5" stroke-width="1.5"/>
<path d="M504.2,600.0H509.2M506.7,597.5V602.5" stroke="#9a4ea5" stroke-width="1.5"/>
<path d="M480.1,627.0H485.1M482.6,624.5V629.5" stroke="#9a4ea5" stroke-width="1.5"/>
<path d="M468.3,592.1H473.3M470.8,589.6V594.6" stroke="#9a4ea5" stroke-width="1.5"/>
<path d="M511.1,618.0H516.1M513.6,615.5V620.5" stroke="#9a4ea5" stroke-width="1.5"/>
<path d="M477.0,589.3H482.0M479.5,586.8V591.8" stroke="#9a4ea5" stroke-width="1.5"/>
<path d="M499.1,627.0H504.1M501.6,624.5V629.5" stroke="#9a4ea5" stroke-width="1.5"/>
<path d="M514.4,632.9H519.4M516.9,630.4V635.4" stroke="#9a4ea5" stroke-width="1.5"/>
<path d="M502.8,586.5H507.8M505.3,584.0V589.0" stroke="#9a4ea5" stroke-width="1.5"/>
<path d="M504.5,605.6H509.5M507.0,603.1V608.1" stroke="#9a4ea5" stroke-width="1.5"/>
<path d="M492.5,583.3H497.5M495.0,580.8V585.8" stroke="#9a4ea5" stroke-width="1.5"/>
<path d="M468.1,608.4H473.1M470.6,605.9V610.9" stroke="#9a4ea5" stroke-width="1.5"/>
<path d="M497.8,596.6H502.8M500.3,594.1V599.1" stroke="#9a4ea5" stroke-width="1.5"/>
<path d="M512.9,585.7H517.9M515.4,583.2V588.2" stroke="#9a4ea5" stroke-width="1.5"/>
<path d="M508.6,632.3H513.6M511.1,629.8V634.8" stroke="#9a4ea5" stroke-width="1.5"/>
<path d="M471.7,624.3H476.7M474.2,621.8V626.8" stroke="#9a4ea5" stroke-width="1.5"/>
<path d="M496.4,605.5H501.4M498.9,603.0V608.0" stroke="#9a4ea5" stroke-width="1.5"/>
<path d="M488.0,611.6H493.0M490.5,609.1V614.1" stroke="#9a4ea5" stroke-width="1.5"/>
<path d="M511.1,622.9H516.1M513.6,620.4V625.4" stroke="#9a4ea5" stroke-width="1.5"/>
<path d="M489.7,606.8H494.7M492.2,604.3V609.3" stroke="#9a4ea5" stroke-width="1.5"/>
<path d="M475.8,610.5H480.8M478.3,608.0V613.0" stroke="#9a4ea5" stroke-width="1.5"/>
<path d="M507.9,616.2H512.9M510.4,613.7V618.7" stroke="#9a4ea5" stroke-width="1.5"/>
<path d="M495.6,606.4H500.6M498.1,603.9V608.9" stroke="#9a4ea5" stroke-width="1.5"/>
<path d="M513.8,628.0H518.8M516.3,625.5V630.5" stroke="#9a4ea5" stroke-width="1.5"/>
<path d="M491.8,617.7H496.8M494.3,615.2V620.2" stroke="#9a4ea5" stroke-width="1.5"/>
<path d="M505.4,595.9H510.4M507.9,593.4V598.4" stroke="#9a4ea5" stroke-width="1.5"/>
<path d="M497.1,597.4H502.1M499.6,594.9V599.9" stroke="#9a4ea5" stroke-width="1.5"/>
<path d="M503.4,598.5H508.4M505.9,596.0V601.0" stroke="#9a4ea5" stroke-width="1.5"/>
<path d="M512.7,619.4H517.7M515.2,616.9V621.9" stroke="#9a4ea5" stroke-width="1.5"/>
<path d="M492.3,612.7H497.3M494.8,610.2V615.2" stroke="#9a4ea5" stroke-width="1.5"/>
<path d="M494.9,596.4H499.9M497.4,593.9V598.9" stroke="#9a4ea5" stroke-width="1.5"/>
<path d="M468.6,605.2H473.6M471.1,602.7V607.7" stroke="#9a4ea5" stroke-width="1.5"/>
<path d="M481.3,607.0H486.3M483.8,604.5V609.5" stroke="#9a4ea5" stroke-width="1.5"/>
<path d="M477.4,593.1H482.4M479.9,590.6V595.6" stroke="#9a4ea5" stroke-width="1.5"/>
<path d="M513.5,602.4H518.5M516.0,599.9V604.9" stroke="#9a4ea5" stroke-width="1.5"/>
<path d="M502.7,589.6H507.7M505.2,587.1V592.1" stroke="#9a4ea5" stroke-width="1.5"/>
<path d="M471.6,617.4H476.6M474.1,614.9V619.9" stroke="#9a4ea5" stroke-width="1.5"/>
<path d="M488.0,625.2H493.0M490.5,622.7V627.7" stroke="#9a4ea5" stroke-width="1.5"/>
<path d="M468.5,607.4H473.5M471.0,604.9V609.9" stroke="#9a4ea5" stroke-width="1.5"/>
<path d="M495.6,594.0H500.6M498.1,591.5V596.5" stroke="#9a4ea5" stroke-width="1.5"/>
<path d="M501.1,592.6H506.1M503.6,590.1V595.1" stroke="#9a4ea5" stroke-width="1.5"/>
<path d="M472.6,590.6H477.6M475.1,588.1V593.1" stroke="#9a4ea5" stroke-width="1.5"/>
<path d="M469.7,602.9H474.7M472.2,600.4V605.4" stroke="#9a4ea5" stroke-width="1.5"/>
<path d="M504.3,591.4H509.3M506.8,588.9V593.9" stroke="#9a4ea5" stroke-width="1.5"/>
<path d="M480.8,599.9H485.8M483.3,597.4V602.4" stroke="#9a4ea5" stroke-width="1.5"/>
<path d="M477.9,627.4H482.9M480.4,624.9V629.9" stroke="#9a4ea5" stroke-width="1.5"/>
<path d="M506.7,588.5H511.7M509.2,586.0V591.0" stroke="#9a4ea5" stroke-width="1.5"/>
<path d="M498.5,630.9H503.5M501.0,628.4V633.4" stroke="#9a4ea5" stroke-width="1.5"/>
<path d="M468.1,602.7H473.1M470.6,600.2V605.2" stroke="#9a4ea5" stroke-width="1.5"/>
<path d="M468.8,598.5H473.8M471.3,596.0V601.0" stroke="#9a4ea5" stroke-width="1.5"/>
<path d="M473.3,605.8H478.3M475.8,603.3V608.3" stroke="#9a4ea5" stroke-width="1.5"/>
<path d="M477.1,620.3H482.1M479.6,617.8V622.8" stroke="#9a4ea5" stroke-width="1.5"/>
<path d="M485.4,586.6H490.4M487.9,584.1V589.1" stroke="#9a4ea5" stroke-width="1.5"/>
<path d="M493.5,606.8H498.5M496.0,604.3V609.3" stroke="#9a4ea5" stroke-width="1.5"/>
<path d="M502.3,622.2H507.3M504.8,619.7V624.7" stroke="#9a4ea5" stroke-width="1.5"/>
<path d="M479.1,602.4H484.1M481.6,599.9V604.9" stroke="#9a4ea5" stroke-width="1.5"/>
<path d="M501.4,634.3H506.4M503.9,631.8V636.8" stroke="#9a4ea5" stroke-width="1.5"/>
<path d="M493.5,615.0H498.5M496.0,612.5V617.5" stroke="#9a4ea5" stroke-width="1.5"/>
<path d="M483.2,605.2H488.2M485.7,602.7V607.7" stroke="#9a4ea5" stroke-width="1.5"/>
<path d="M482.4,608.4H487.4M484.9,605.9V610.9" stroke="#9a4ea5" stroke-width="1.5"/>
<path d="M480.9,599.2H485.9M483.4,596.7V601.7" stroke="#9a4ea5" stroke-width="1.5"/>
<path d="M468.8,587.2H473.8M471.3,584.7V589.7" stroke="#9a4ea5" stroke-width="1.5"/>
<path d="M508.2,600.7H513.2M510.7,598.2V603.2" stroke="#9a4ea5" stroke-width="1.5"/>
<path d="M512.8,595.3H517.8M515.3,592.8V597.8" stroke="#9a4ea5" stroke-width="1.5"/>
<path d="M484.6,629.7H489.6M487.1,627.2V632.2" stroke="#9a4ea5" stroke-width="1.5"/>
<path d="M488.4,618.6H493.4M490.9,616.1V621.1" stroke="#9a4ea5" stroke-width="1.5"/>
<path d="M504.0,602.9H509.0M506.5,600.4V605.4" stroke="#9a4ea5" stroke-width="1.5"/>
<path d="M477.0,583.0H482.0M479.5,580.5V585.5" stroke="#9a4ea5" stroke-width="1.5"/>
<path d="M508.1,613.0H513.1M510.6,610.5V615.5" stroke="#9a4ea5" stroke-width="1.5"/>
<path d="M504.2,635.0H509.2M506.7,632.5V637.5" stroke="#9a4ea5" stroke-width="1.5"/>
<path d="M508.5,614.0H513.5M511.0,611.5V616.5" stroke="#9a4ea5" stroke-width="1.5"/>
<path d="M472.7,611.7H477.7M475.2,609.2V614.2" stroke="#9a4ea5" stroke-width="1.5"/>
<path d="M490.3,587.5H495.3M492.8,585.0V590.0" stroke="#9a4ea5" stroke-width="1.5"/>
<path d="M468.4,600.0H473.4M470.9,597.5V602.5" stroke="#9a4ea5" stroke-width="1.5"/>
<path d="M485.0,628.9H490.0M487.5,626.4V631.4" stroke="#9a4ea5" stroke-width="1.5"/>
<path d="M514.2,631.7H519.2M516.7,629.2V634.2" stroke="#9a4ea5" stroke-width="1.5"/>
<path d="M482.6,627.3H487.6M485.1,624.8V629.8" stroke="#9a4ea5" stroke-width="1.5"/>
<path d="M485.4,601.6H490.4M487.9,599.1V604.1" stroke="#9a4ea5" stroke-width="1.5"/>
<path d="M494.7,584.2H499.7M497.2,581.7V586.7" stroke="#9a4ea5" stroke-width="1.5"/>
<path d="M499.2,585.3H504.2M501.7,582.8V587.8" stroke="#9a4ea5" stroke-width="1.5"/>
<path d="M495.2,622.3H500.2M497.7,619.8V624.8" stroke="#9a4ea5" stroke-width="1.5"/>
<path d="M470.3,615.0H475.3M472.8,612.5V617.5" stroke="#9a4ea5" stroke-width="1.5"/>
<path d="M491.4,600.8H496.4M493.9,598.3V603.3" stroke="#9a4ea5" stroke-width="1.5"/>
<path d="M504.3,599.0H509.3M506.8,596.5V601.5" stroke="#9a4ea5" stroke-width="1.5"/>
<path d="M476.5,603.7H481.5M479.0,601.2V606.2" stroke="#9a4ea5" stroke-width="1.5"/>
<path d="M484.7,625.9H489.7M487.2,623.4V628.4" stroke="#9a4ea5" stroke-width="1.5"/>
<path d="M477.2,602.9H482.2M479.7,600.4V605.4" stroke="#9a4ea5" stroke-width="1.5"/>
<path d="M504.2,607.0H509.2M506.7,604.5V609.5" stroke="#9a4ea5" stroke-width="1.5"/>
<path d="M483.4,590.0H488.4M485.9,587.5V592.5" stroke="#9a4ea5" stroke-width="1.5"/>
<path d="M484.0,610.4H489.0M486.5,607.9V612.9" stroke="#9a4ea5" stroke-width="1.5"/>
<path d="M504.1,635.9H509.1M506.6,633.4V638.4" stroke="#9a4ea5" stroke-width="1.5"/>
<path d="M492.6,608.9H497.6M495.1,606.4V611.4" stroke="#9a4ea5" stroke-width="1.5"/>
<path d="M503.2,607.1H508.2M505.7,604.6V609.6" stroke="#9a4ea5" stroke-width="1.5"/>
<path d="M479.5,618.7H484.5M482.0,616.2V621.2" stroke="#9a4ea5" stroke-width="1.5"/>
<path d="M506.6,594.0H511.6M509.1,591.5V596.5" stroke="#9a4ea5" stroke-width="1.5"/>
<path d="M507.9,585.3H512.9M510.4,582.8V587.8" stroke="#9a4ea5" stroke-width="1.5"/>
<path d="M476.4,601.9H481.4M478.9,599.4V604.4" stroke="#9a4ea5" stroke-width="1.5"/>
<path d="M510.0,608.0H515.0M512.5,605.5V610.5" stroke="#9a4ea5" stroke-width="1.5"/>
<path d="M483.7,595.1H488.7M486.2,592.6V597.6" stroke="#9a4ea5" stroke-width="1.5"/>
<path d="M489.5,612.2H494.5M492.0,609.7V614.7" stroke="#9a4ea5" stroke-width="1.5"/>
<path d="M495.6,630.2H500.6M498.1,627.7V632.7" stroke="#9a4ea5" stroke-width="1.5"/>
<path d="M473.3,618.8H478.3M475.8,616.3V621.3" stroke="#9a4ea5" stroke-width="1.5"/>
<path d="M512.7,614.8H517.7M515.2,612.3V617.3" stroke="#9a4ea5" stroke-width="1.5"/>
<path d="M500.9,625.5H505.9M503.4,623.0V628.0" stroke="#9a4ea5" stroke-width="1.5"/>
<path d="M509.2,599.2H514.2M511.7,596.7V601.7" stroke="#9a4ea5" stroke-width="1.5"/>
<path d="M488.8,627.4H493.8M491.3,624.9V629.9" stroke="#9a4ea5" stroke-width="1.5"/>
<path d="M475.0,605.4H480.0M477.5,602.9V607.9" stroke="#9a4ea5" stroke-width="1.5"/>
<path d="M598.4,625.7L601.8,629.1M598.4,629.1L601.8,625.7" stroke="#f8801c" stroke-width="1.3"/>
<path d="M551.7,620.5H555.3" stroke="#f8801c" stroke-width="1.6"/>
<path d="M524.7,608.7L528.1,612.1M524.7,612.1L528.1,608.7" stroke="#f8801c" stroke-width="1.3"/>
<path d="M597.9,644.6L601.3,648.0M597.9,648.0L601.3,644.6" stroke="#f8801c" stroke-width="1.3"/>
<path d="M542.7,638.1L546.1,641.5M542.7,641.5L546.1,638.1" stroke="#f8801c" stroke-width="1.3"/>
<path d="M575.3,620.4L578.7,623.8M575.3,623.8L578.7,620.4" stroke="#f8801c" stroke-width="1.3"/>
<path d="M570.8,635.9H574.4" stroke="#f8801c" stroke-width="1.6"/>
<path d="M534.4,612.0H538.0" stroke="#f8801c" stroke-width="1.6"/>
<path d="M539.0,618.6H542.6" stroke="#f8801c" stroke-width="1.6"/>
<path d="M589.0,637.8H592.6" stroke="#f8801c" stroke-width="1.6"/>
<path d="M544.2,629.1H547.8" stroke="#f8801c" stroke-width="1.6"/>
<path d="M521.8,621.9L525.2,625.3M521.8,625.3L525.2,621.9" stroke="#f8801c" stroke-width="1.3"/>
<path d="M548.3,621.6H551.9" stroke="#f8801c" stroke-width="1.6"/>
<path d="M593.0,640.2H596.6" stroke="#f8801c" stroke-width="1.6"/>
<path d="M589.4,630.9H593.0" stroke="#f8801c" stroke-width="1.6"/>
<path d="M593.9,632.9L597.3,636.3M593.9,636.3L597.3,632.9" stroke="#f8801c" stroke-width="1.3"/>
<path d="M549.7,623.9L553.1,627.3M549.7,627.3L553.1,623.9" stroke="#f8801c" stroke-width="1.3"/>
<path d="M524.8,629.4H528.4" stroke="#f8801c" stroke-width="1.6"/>
<path d="M516.8,626.6H520.4" stroke="#f8801c" stroke-width="1.6"/>
<path d="M548.1,619.4L551.5,622.8M548.1,622.8L551.5,619.4" stroke="#f8801c" stroke-width="1.3"/>
<path d="M527.2,621.6H530.8" stroke="#f8801c" stroke-width="1.6"/>
<path d="M568.4,627.0L571.8,630.4M568.4,630.4L571.8,627.0" stroke="#f8801c" stroke-width="1.3"/>
<path d="M526.4,632.3L529.8,635.7M526.4,635.7L529.8,632.3" stroke="#f8801c" stroke-width="1.3"/>
<path d="M551.1,618.6L554.5,622.0M551.1,622.0L554.5,618.6" stroke="#f8801c" stroke-width="1.3"/>
<path d="M543.0,608.3L546.4,611.7M543.0,611.7L546.4,608.3" stroke="#f8801c" stroke-width="1.3"/>
<path d="M595.2,613.1L598.6,616.5M595.2,616.5L598.6,613.1" stroke="#f8801c" stroke-width="1.3"/>
<path d="M538.4,629.2H542.0" stroke="#f8801c" stroke-width="1.6"/>
<path d="M570.0,635.0H573.6" stroke="#f8801c" stroke-width="1.6"/>
<path d="M517.8,620.6H521.4" stroke="#f8801c" stroke-width="1.6"/>
<path d="M591.1,640.4L594.5,643.8M591.1,643.8L594.5,640.4" stroke="#f8801c" stroke-width="1.3"/>
<path d="M576.7,649.3L580.1,652.7M576.7,652.7L580.1,649.3" stroke="#f8801c" stroke-width="1.3"/>
<path d="M540.2,636.9L543.6,640.3M540.2,640.3L543.6,636.9" stroke="#f8801c" stroke-width="1.3"/>
<path d="M528.5,619.6L531.9,623.0M528.5,623.0L531.9,619.6" stroke="#f8801c" stroke-width="1.3"/>
<path d="M568.8,622.1L572.2,625.5M568.8,625.5L572.2,622.1" stroke="#f8801c" stroke-width="1.3"/>
<path d="M565.8,621.8H569.4" stroke="#f8801c" stroke-width="1.6"/>
<path d="M563.1,617.8L566.5,621.2M563.1,621.2L566.5,617.8" stroke="#f8801c" stroke-width="1.3"/>
<path d="M522.0,591.0H525.6" stroke="#f8801c" stroke-width="1.6"/>
<path d="M543.8,598.0L547.2,601.4M543.8,601.4L547.2,598.0" stroke="#f8801c" stroke-width="1.3"/>
<path d="M588.9,631.3L592.3,634.7M588.9,634.7L592.3,631.3" stroke="#f8801c" stroke-width="1.3"/>
<path d="M583.2,637.4L586.6,640.8M583.2,640.8L586.6,637.4" stroke="#f8801c" stroke-width="1.3"/>
<path d="M531.0,622.6H534.6" stroke="#f8801c" stroke-width="1.6"/>
<path d="M538.2,612.6L541.6,616.0M538.2,616.0L541.6,612.6" stroke="#f8801c" stroke-width="1.3"/>
<path d="M548.1,632.0H551.7" stroke="#f8801c" stroke-width="1.6"/>
<path d="M569.6,645.5H573.2" stroke="#f8801c" stroke-width="1.6"/>
<path d="M572.9,611.8L576.3,615.2M572.9,615.2L576.3,611.8" stroke="#f8801c" stroke-width="1.3"/>
<path d="M598.7,632.2L602.1,635.6M598.7,635.6L602.1,632.2" stroke="#f8801c" stroke-width="1.3"/>
<path d="M572.9,633.8H576.5" stroke="#f8801c" stroke-width="1.6"/>
<path d="M563.1,618.9L566.5,622.3M563.1,622.3L566.5,618.9" stroke="#f8801c" stroke-width="1.3"/>
<path d="M526.6,608.4H530.2" stroke="#f8801c" stroke-width="1.6"/>
<path d="M526.5,590.3H530.1" stroke="#f8801c" stroke-width="1.6"/>
<path d="M570.1,638.7L573.5,642.1M570.1,642.1L573.5,638.7" stroke="#f8801c" stroke-width="1.3"/>
<path d="M522.8,611.6L526.2,615.0M522.8,615.0L526.2,611.6" stroke="#f8801c" stroke-width="1.3"/>
<path d="M593.1,623.1H596.7" stroke="#f8801c" stroke-width="1.6"/>
<path d="M570.6,620.4H574.2" stroke="#f8801c" stroke-width="1.6"/>
<path d="M520.9,600.7H524.5" stroke="#f8801c" stroke-width="1.6"/>
<path d="M518.7,615.1H522.3" stroke="#f8801c" stroke-width="1.6"/>
<path d="M598.0,643.1H601.6" stroke="#f8801c" stroke-width="1.6"/>
<path d="M542.5,615.5L545.9,618.9M542.5,618.9L545.9,615.5" stroke="#f8801c" stroke-width="1.3"/>
<path d="M520.8,589.4L524.2,592.8M520.8,592.8L524.2,589.4" stroke="#f8801c" stroke-width="1.3"/>
<path d="M534.1,607.5L537.5,610.9M534.1,610.9L537.5,607.5" stroke="#f8801c" stroke-width="1.3"/>
<path d="M556.7,631.0L560.1,634.4M556.7,634.4L560.1,631.0" stroke="#f8801c" stroke-width="1.3"/>
<path d="M555.6,629.1L559.0,632.5M555.6,632.5L559.0,629.1" stroke="#f8801c" stroke-width="1.3"/>
<path d="M577.4,648.8H581.0" stroke="#f8801c" stroke-width="1.6"/>
<path d="M539.1,632.2H542.7" stroke="#f8801c" stroke-width="1.6"/>
<path d="M535.3,600.1H538.9" stroke="#f8801c" stroke-width="1.6"/>
<path d="M572.2,616.7H575.8" stroke="#f8801c" stroke-width="1.6"/>
<path d="M555.2,641.5H558.8" stroke="#f8801c" stroke-width="1.6"/>
<path d="M577.1,622.8H580.7" stroke="#f8801c" stroke-width="1.6"/>
<path d="M553.3,603.8L556.7,607.2M553.3,607.2L556.7,603.8" stroke="#f8801c" stroke-width="1.3"/>
<path d="M571.9,645.3H575.5" stroke="#f8801c" stroke-width="1.6"/>
<path d="M594.2,638.4L597.6,641.8M594.2,641.8L597.6,638.4" stroke="#f8801c" stroke-width="1.3"/>
<path d="M530.1,631.3L533.5,634.7M530.1,634.7L533.5,631.3" stroke="#f8801c" stroke-width="1.3"/>
<path d="M597.5,636.2H601.1" stroke="#f8801c" stroke-width="1.6"/>
<path d="M565.7,611.0L569.1,614.4M565.7,614.4L569.1,611.0" stroke="#f8801c" stroke-width="1.3"/>
<path d="M572.4,611.4L575.8,614.8M572.4,614.8L575.8,611.4" stroke="#f8801c" stroke-width="1.3"/>
<path d="M583.9,615.9L587.3,619.3M583.9,619.3L587.3,615.9" stroke="#f8801c" stroke-width="1.3"/>
<path d="M534.4,611.9L537.8,615.3M534.4,615.3L537.8,611.9" stroke="#f8801c" stroke-width="1.3"/>
<path d="M560.3,615.2L563.7,618.6M560.3,618.6L563.7,615.2" stroke="#f8801c" stroke-width="1.3"/>
<path d="M594.2,642.3H597.8" stroke="#f8801c" stroke-width="1.6"/>
<path d="M553.1,621.5H556.7" stroke="#f8801c" stroke-width="1.6"/>
<path d="M533.1,608.0L536.5,611.4M533.1,611.4L536.5,608.0" stroke="#f8801c" stroke-width="1.3"/>
<path d="M554.4,605.3H558.0" stroke="#f8801c" stroke-width="1.6"/>
<path d="M546.4,622.8H550.0" stroke="#f8801c" stroke-width="1.6"/>
<path d="M566.0,619.8L569.4,623.2M566.0,623.2L569.4,619.8" stroke="#f8801c" stroke-width="1.3"/>
<path d="M526.1,618.0L529.5,621.4M526.1,621.4L529.5,618.0" stroke="#f8801c" stroke-width="1.3"/>
<path d="M539.7,633.3L543.1,636.7M539.7,636.7L543.1,633.3" stroke="#f8801c" stroke-width="1.3"/>
<path d="M524.6,616.8L528.0,620.2M524.6,620.2L528.0,616.8" stroke="#f8801c" stroke-width="1.3"/>
<path d="M548.3,619.5H551.9" stroke="#f8801c" stroke-width="1.6"/>
<path d="M592.3,625.6H595.9" stroke="#f8801c" stroke-width="1.6"/>
<path d="M587.9,619.7L591.3,623.1M587.9,623.1L591.3,619.7" stroke="#f8801c" stroke-width="1.3"/>
<path d="M528.5,614.3H532.1" stroke="#f8801c" stroke-width="1.6"/>
<path d="M555.3,597.6H558.9" stroke="#f8801c" stroke-width="1.6"/>
<path d="M583.1,640.1H586.7" stroke="#f8801c" stroke-width="1.6"/>
<path d="M531.7,617.6H535.3" stroke="#f8801c" stroke-width="1.6"/>
<path d="M533.3,598.8H536.9" stroke="#f8801c" stroke-width="1.6"/>
<path d="M539.5,633.8H543.1" stroke="#f8801c" stroke-width="1.6"/>
<path d="M515.4,633.0H519.0" stroke="#f8801c" stroke-width="1.6"/>
<path d="M531.0,621.7L534.4,625.1M531.0,625.1L534.4,621.7" stroke="#f8801c" stroke-width="1.3"/>
<path d="M592.1,621.3H595.7" stroke="#f8801c" stroke-width="1.6"/>
<path d="M579.5,633.3H583.1" stroke="#f8801c" stroke-width="1.6"/>
<path d="M530.5,636.2H534.1" stroke="#f8801c" stroke-width="1.6"/>
<path d="M524.9,587.7L528.3,591.1M524.9,591.1L528.3,587.7" stroke="#f8801c" stroke-width="1.3"/>
<path d="M525.5,604.9L528.9,608.3M525.5,608.3L528.9,604.9" stroke="#f8801c" stroke-width="1.3"/>
<path d="M540.5,633.7H544.1" stroke="#f8801c" stroke-width="1.6"/>
<path d="M539.6,599.5L543.0,602.9M539.6,602.9L543.0,599.5" stroke="#f8801c" stroke-width="1.3"/>
<path d="M542.1,604.9L545.5,608.3M542.1,608.3L545.5,604.9" stroke="#f8801c" stroke-width="1.3"/>
<path d="M600.6,641.3H604.2" stroke="#f8801c" stroke-width="1.6"/>
<path d="M520.1,592.9L523.5,596.3M520.1,596.3L523.5,592.9" stroke="#f8801c" stroke-width="1.3"/>
<path d="M561.1,636.8H564.7" stroke="#f8801c" stroke-width="1.6"/>
<path d="M546.7,628.5L550.1,631.9M546.7,631.9L550.1,628.5" stroke="#f8801c" stroke-width="1.3"/>
<path d="M560.2,615.3L563.6,618.7M560.2,618.7L563.6,615.3" stroke="#f8801c" stroke-width="1.3"/>
<path d="M570.4,623.1L573.8,626.5M570.4,626.5L573.8,623.1" stroke="#f8801c" stroke-width="1.3"/>
<path d="M544.3,597.6L547.7,601.0M544.3,601.0L547.7,597.6" stroke="#f8801c" stroke-width="1.3"/>
<path d="M594.4,631.4L597.8,634.8M594.4,634.8L597.8,631.4" stroke="#f8801c" stroke-width="1.3"/>
<path d="M555.9,611.9L559.3,615.3M555.9,615.3L559.3,611.9" stroke="#f8801c" stroke-width="1.3"/>
<path d="M562.1,620.5L565.5,623.9M562.1,623.9L565.5,620.5" stroke="#f8801c" stroke-width="1.3"/>
<path d="M534.7,609.2H538.3" stroke="#f8801c" stroke-width="1.6"/>
<path d="M519.4,611.3H523.0" stroke="#f8801c" stroke-width="1.6"/>
<path d="M588.1,618.7H591.7" stroke="#f8801c" stroke-width="1.6"/>
<path d="M544.3,602.7H547.9" stroke="#f8801c" stroke-width="1.6"/>
<path d="M576.6,649.4L580.0,652.8M576.6,652.8L580.0,649.4" stroke="#f8801c" stroke-width="1.3"/>
<path d="M575.7,650.7H579.3" stroke="#f8801c" stroke-width="1.6"/>
<path d="M574.9,624.3L578.3,627.7M574.9,627.7L578.3,624.3" stroke="#f8801c" stroke-width="1.3"/>
<path d="M549.3,598.0L552.7,601.4M549.3,601.4L552.7,598.0" stroke="#f8801c" stroke-width="1.3"/>
<path d="M546.8,621.9H550.4" stroke="#f8801c" stroke-width="1.6"/>
<path d="M559.8,624.2H563.4" stroke="#f8801c" stroke-width="1.6"/>
<path d="M578.7,624.8L582.1,628.2M578.7,628.2L582.1,624.8" stroke="#f8801c" stroke-width="1.3"/>
<path d="M527.1,603.7L530.5,607.1M527.1,607.1L530.5,603.7" stroke="#f8801c" stroke-width="1.3"/>
<path d="M575.4,622.9L578.8,626.3M575.4,626.3L578.8,622.9" stroke="#f8801c" stroke-width="1.3"/>
<path d="M579.2,640.5L582.6,643.9M579.2,643.9L582.6,640.5" stroke="#f8801c" stroke-width="1.3"/>
<path d="M563.0,626.8L566.4,630.2M563.0,630.2L566.4,626.8" stroke="#f8801c" stroke-width="1.3"/>
<path d="M557.9,597.4H561.5" stroke="#f8801c" stroke-width="1.6"/>
<path d="M536.2,634.4H539.8" stroke="#f8801c" stroke-width="1.6"/>
<path d="M550.6,601.5L554.0,604.9M550.6,604.9L554.0,601.5" stroke="#f8801c" stroke-width="1.3"/>
<path d="M595.1,609.1L598.5,612.5M595.1,612.5L598.5,609.1" stroke="#f8801c" stroke-width="1.3"/>
<path d="M538.0,608.3H541.6" stroke="#f8801c" stroke-width="1.6"/>
<path d="M553.0,638.4H556.6" stroke="#f8801c" stroke-width="1.6"/>
<path d="M515.9,602.9L519.3,606.3M515.9,606.3L519.3,602.9" stroke="#f8801c" stroke-width="1.3"/>
<path d="M531.5,601.0L534.9,604.4M531.5,604.4L534.9,601.0" stroke="#f8801c" stroke-width="1.3"/>
<path d="M591.5,631.2L594.9,634.6M591.5,634.6L594.9,631.2" stroke="#f8801c" stroke-width="1.3"/>
<path d="M540.6,622.9L544.0,626.3M540.6,626.3L544.0,622.9" stroke="#f8801c" stroke-width="1.3"/>
<path d="M517.3,594.7H520.9" stroke="#f8801c" stroke-width="1.6"/>
<path d="M574.4,641.1L577.8,644.5M574.4,644.5L577.8,641.1" stroke="#f8801c" stroke-width="1.3"/>
<path d="M568.4,615.0H572.0" stroke="#f8801c" stroke-width="1.6"/>
<path d="M587.1,630.4H590.7" stroke="#f8801c" stroke-width="1.6"/>
<path d="M574.9,643.8L578.3,647.2M574.9,647.2L578.3,643.8" stroke="#f8801c" stroke-width="1.3"/>
<path d="M524.9,619.1H528.5" stroke="#f8801c" stroke-width="1.6"/>
<path d="M596.1,601.8H599.7" stroke="#f8801c" stroke-width="1.6"/>
<path d="M593.3,617.9H596.9" stroke="#f8801c" stroke-width="1.6"/>
<path d="M570.7,642.2H574.3" stroke="#f8801c" stroke-width="1.6"/>
<path d="M573.9,642.7L577.3,646.1M573.9,646.1L577.3,642.7" stroke="#f8801c" stroke-width="1.3"/>
<path d="M516.4,621.2L519.8,624.6M516.4,624.6L519.8,621.2" stroke="#f8801c" stroke-width="1.3"/>
<path d="M525.4,593.0H529.0" stroke="#f8801c" stroke-width="1.6"/>
<path d="M591.2,630.6H594.8" stroke="#f8801c" stroke-width="1.6"/>
<path d="M540.1,602.8H543.7" stroke="#f8801c" stroke-width="1.6"/>
<path d="M538.8,596.1H542.4" stroke="#f8801c" stroke-width="1.6"/>
<path d="M515.6,618.6L519.0,622.0M515.6,622.0L519.0,618.6" stroke="#f8801c" stroke-width="1.3"/>
<path d="M539.8,612.3H543.4" stroke="#f8801c" stroke-width="1.6"/>
<path d="M570.5,610.3L573.9,613.7M570.5,613.7L573.9,610.3" stroke="#f8801c" stroke-width="1.3"/>
<path d="M561.8,637.3L565.2,640.7M561.8,640.7L565.2,637.3" stroke="#f8801c" stroke-width="1.3"/>
<path d="M585.0,636.1H588.6" stroke="#f8801c" stroke-width="1.6"/>
<path d="M536.5,599.1H540.1" stroke="#f8801c" stroke-width="1.6"/>
<path d="M534.4,614.4L537.8,617.8M534.4,617.8L537.8,614.4" stroke="#f8801c" stroke-width="1.3"/>
<path d="M567.7,643.3L571.1,646.7M567.7,646.7L571.1,643.3" stroke="#f8801c" stroke-width="1.3"/>
<path d="M521.5,624.4L524.9,627.8M521.5,627.8L524.9,624.4" stroke="#f8801c" stroke-width="1.3"/>
<path d="M563.4,619.5H567.0" stroke="#f8801c" stroke-width="1.6"/>
<path d="M569.7,640.5L573.1,643.9M569.7,643.9L573.1,640.5" stroke="#f8801c" stroke-width="1.3"/>
<path d="M532.6,621.5L536.0,624.9M532.6,624.9L536.0,621.5" stroke="#f8801c" stroke-width="1.3"/>
<path d="M520.8,637.0H524.4" stroke="#f8801c" stroke-width="1.6"/>
<path d="M523.4,606.3L526.8,609.7M523.4,609.7L526.8,606.3" stroke="#f8801c" stroke-width="1.3"/>
<path d="M520.5,617.1H524.1" stroke="#f8801c" stroke-width="1.6"/>
<path d="M597.9,646.9L601.3,650.3M597.9,650.3L601.3,646.9" stroke="#f8801c" stroke-width="1.3"/>
<path d="M518.1,618.8L521.5,622.2M518.1,622.2L521.5,618.8" stroke="#f8801c" stroke-width="1.3"/>
<path d="M526.0,597.7L529.4,601.1M526.0,601.1L529.4,597.7" stroke="#f8801c" stroke-width="1.3"/>
<path d="M595.4,619.7H599.0" stroke="#f8801c" stroke-width="1.6"/>
<path d="M564.2,633.4H567.8" stroke="#f8801c" stroke-width="1.6"/>
<path d="M534.6,631.6H538.2" stroke="#f8801c" stroke-width="1.6"/>
<path d="M523.2,601.3L526.6,604.7M523.2,604.7L526.6,601.3" stroke="#f8801c" stroke-width="1.3"/>
<path d="M567.0,638.0H570.6" stroke="#f8801c" stroke-width="1.6"/>
<path d="M556.4,642.2H560.0" stroke="#f8801c" stroke-width="1.6"/>
<path d="M577.4,632.1H581.0" stroke="#f8801c" stroke-width="1.6"/>
<path d="M565.7,636.7H569.3" stroke="#f8801c" stroke-width="1.6"/>
<path d="M543.5,609.8L546.9,613.2M543.5,613.2L546.9,609.8" stroke="#f8801c" stroke-width="1.3"/>
<path d="M538.5,618.5H542.1" stroke="#f8801c" stroke-width="1.6"/>
<path d="M600.7,637.8L604.1,641.2M600.7,641.2L604.1,637.8" stroke="#f8801c" stroke-width="1.3"/>
<path d="M564.3,618.8L567.7,622.2M564.3,622.2L567.7,618.8" stroke="#f8801c" stroke-width="1.3"/>
<path d="M533.4,630.6L536.8,634.0M533.4,634.0L536.8,630.6" stroke="#f8801c" stroke-width="1.3"/>
<path d="M519.5,615.3L522.9,618.7M519.5,618.7L522.9,615.3" stroke="#f8801c" stroke-width="1.3"/>
<path d="M592.4,636.1L595.8,639.5M592.4,639.5L595.8,636.1" stroke="#f8801c" stroke-width="1.3"/>
<path d="M542.4,606.2L545.8,609.6M542.4,609.6L545.8,606.2" stroke="#f8801c" stroke-width="1.3"/>
<path d="M584.1,636.8H587.7" stroke="#f8801c" stroke-width="1.6"/>
<path d="M555.4,617.1H559.0" stroke="#f8801c" stroke-width="1.6"/>
<path d="M538.5,635.3L541.9,638.7M538.5,638.7L541.9,635.3" stroke="#f8801c" stroke-width="1.3"/>
<path d="M595.7,613.1H599.3" stroke="#f8801c" stroke-width="1.6"/>
<path d="M556.7,586.5H560.3" stroke="#f8801c" stroke-width="1.6"/>
<path d="M564.0,613.0H567.6" stroke="#f8801c" stroke-width="1.6"/>
<path d="M589.2,631.8L592.6,635.2M589.2,635.2L592.6,631.8" stroke="#f8801c" stroke-width="1.3"/>
<path d="M590.8,619.4H594.4" stroke="#f8801c" stroke-width="1.6"/>
<path d="M581.7,636.5H585.3" stroke="#f8801c" stroke-width="1.6"/>
<path d="M570.9,621.5L574.3,624.9M570.9,624.9L574.3,621.5" stroke="#f8801c" stroke-width="1.3"/>
<path d="M549.6,617.4H553.2" stroke="#f8801c" stroke-width="1.6"/>
<path d="M570.2,629.0H573.8" stroke="#f8801c" stroke-width="1.6"/>
<path d="M517.2,631.3L520.6,634.7M517.2,634.7L520.6,631.3" stroke="#f8801c" stroke-width="1.3"/>
<path d="M541.7,628.2L545.1,631.6M541.7,631.6L545.1,628.2" stroke="#f8801c" stroke-width="1.3"/>
<path d="M545.8,596.0H549.4" stroke="#f8801c" stroke-width="1.6"/>
<path d="M555.8,598.7L559.2,602.1M555.8,602.1L559.2,598.7" stroke="#f8801c" stroke-width="1.3"/>
<path d="M564.6,642.3H568.2" stroke="#f8801c" stroke-width="1.6"/>
<path d="M543.0,605.3L546.4,608.7M543.0,608.7L546.4,605.3" stroke="#f8801c" stroke-width="1.3"/>
<path d="M530.9,600.2H534.5" stroke="#f8801c" stroke-width="1.6"/>
<path d="M548.1,601.1L551.5,604.5M548.1,604.5L551.5,601.1" stroke="#f8801c" stroke-width="1.3"/>
<path d="M578.4,644.7H582.0" stroke="#f8801c" stroke-width="1.6"/>
<path d="M537.5,611.4L540.9,614.8M537.5,614.8L540.9,611.4" stroke="#f8801c" stroke-width="1.3"/>
<path d="M540.0,601.0L543.4,604.4M540.0,604.4L543.4,601.0" stroke="#f8801c" stroke-width="1.3"/>
<path d="M573.3,634.0H576.9" stroke="#f8801c" stroke-width="1.6"/>
<path d="M589.0,635.5L592.4,638.9M589.0,638.9L592.4,635.5" stroke="#f8801c" stroke-width="1.3"/>
<path d="M570.1,633.8H573.7" stroke="#f8801c" stroke-width="1.6"/>
<path d="M581.6,636.3L585.0,639.7M581.6,639.7L585.0,636.3" stroke="#f8801c" stroke-width="1.3"/>
<path d="M583.3,625.3H586.9" stroke="#f8801c" stroke-width="1.6"/>
<path d="M553.7,633.3L557.1,636.7M553.7,636.7L557.1,633.3" stroke="#f8801c" stroke-width="1.3"/>
<path d="M596.7,598.6H600.3" stroke="#f8801c" stroke-width="1.6"/>
<path d="M579.8,616.2L583.2,619.6M579.8,619.6L583.2,616.2" stroke="#f8801c" stroke-width="1.3"/>
<path d="M538.5,610.9L541.9,614.3M538.5,614.3L541.9,610.9" stroke="#f8801c" stroke-width="1.3"/>
<path d="M529.8,614.7H533.4" stroke="#f8801c" stroke-width="1.6"/>
<path d="M544.8,596.7L548.2,600.1M544.8,600.1L548.2,596.7" stroke="#f8801c" stroke-width="1.3"/>
<path d="M516.5,636.7H520.1" stroke="#f8801c" stroke-width="1.6"/>
<path d="M535.5,632.1L538.9,635.5M535.5,635.5L538.9,632.1" stroke="#f8801c" stroke-width="1.3"/>
<path d="M596.9,594.8L600.3,598.2M596.9,598.2L600.3,594.8" stroke="#f8801c" stroke-width="1.3"/>
<path d="M521.3,624.3L524.7,627.7M521.3,627.7L524.7,624.3" stroke="#f8801c" stroke-width="1.3"/>
<path d="M549.3,609.7H552.9" stroke="#f8801c" stroke-width="1.6"/>
<path d="M585.5,626.7L588.9,630.1M585.5,630.1L588.9,626.7" stroke="#f8801c" stroke-width="1.3"/>
<path d="M520.7,619.6L524.1,623.0M520.7,623.0L524.1,619.6" stroke="#f8801c" stroke-width="1.3"/>
<path d="M558.2,600.9L561.6,604.3M558.2,604.3L561.6,600.9" stroke="#f8801c" stroke-width="1.3"/>
<path d="M593.9,644.6L597.3,648.0M593.9,648.0L597.3,644.6" stroke="#f8801c" stroke-width="1.3"/>
<path d="M551.5,637.4H555.1" stroke="#f8801c" stroke-width="1.6"/>
<path d="M543.3,627.1L546.7,630.5M543.3,630.5L546.7,627.1" stroke="#f8801c" stroke-width="1.3"/>
<path d="M526.6,631.1L530.0,634.5M526.6,634.5L530.0,631.1" stroke="#f8801c" stroke-width="1.3"/>
<path d="M598.0,647.7H601.6" stroke="#f8801c" stroke-width="1.6"/>
<path d="M594.0,629.1H597.6" stroke="#f8801c" stroke-width="1.6"/>
<path d="M528.9,587.4L532.3,590.8M528.9,590.8L532.3,587.4" stroke="#f8801c" stroke-width="1.3"/>
<path d="M527.1,604.5L530.5,607.9M527.1,607.9L530.5,604.5" stroke="#f8801c" stroke-width="1.3"/>
<path d="M545.1,629.2H548.7" stroke="#f8801c" stroke-width="1.6"/>
<path d="M556.5,614.3H560.1" stroke="#f8801c" stroke-width="1.6"/>
<path d="M558.2,618.0H561.8" stroke="#f8801c" stroke-width="1.6"/>
<path d="M518.4,598.5L521.8,601.9M518.4,601.9L521.8,598.5" stroke="#f8801c" stroke-width="1.3"/>
<path d="M559.1,603.4H562.7" stroke="#f8801c" stroke-width="1.6"/>
<path d="M581.1,627.3H584.7" stroke="#f8801c" stroke-width="1.6"/>
<path d="M557.0,605.0L560.4,608.4M557.0,608.4L560.4,605.0" stroke="#f8801c" stroke-width="1.3"/>
<path d="M550.2,611.0H553.8" stroke="#f8801c" stroke-width="1.6"/>
<path d="M586.5,614.4H590.1" stroke="#f8801c" stroke-width="1.6"/>
<path d="M560.9,620.9L564.3,624.3M560.9,624.3L564.3,620.9" stroke="#f8801c" stroke-width="1.3"/>
<path d="M598.4,626.0L601.8,629.4M598.4,629.4L601.8,626.0" stroke="#f8801c" stroke-width="1.3"/>
<path d="M563.5,638.9H567.1" stroke="#f8801c" stroke-width="1.6"/>
<path d="M599.6,636.7H603.2" stroke="#f8801c" stroke-width="1.6"/>
<path d="M586.1,639.0H589.7" stroke="#f8801c" stroke-width="1.6"/>
<path d="M561.1,620.3H564.7" stroke="#f8801c" stroke-width="1.6"/>
<path d="M570.9,610.9H574.5" stroke="#f8801c" stroke-width="1.6"/>
<path d="M578.1,623.6L581.5,627.0M578.1,627.0L581.5,623.6" stroke="#f8801c" stroke-width="1.3"/>
<path d="M575.0,622.1H578.6" stroke="#f8801c" stroke-width="1.6"/>
<path d="M578.2,633.0H581.8" stroke="#f8801c" stroke-width="1.6"/>
<path d="M543.1,631.3L546.5,634.7M543.1,634.7L546.5,631.3" stroke="#f8801c" stroke-width="1.3"/>
<path d="M574.4,620.9L577.8,624.3M574.4,624.3L577.8,620.9" stroke="#f8801c" stroke-width="1.3"/>
<path d="M594.6,610.7L598.0,614.1M594.6,614.1L598.0,610.7" stroke="#f8801c" stroke-width="1.3"/>
<path d="M579.9,629.5L583.3,632.9M579.9,632.9L583.3,629.5" stroke="#f8801c" stroke-width="1.3"/>
<path d="M589.8,619.8L593.2,623.2M589.8,623.2L593.2,619.8" stroke="#f8801c" stroke-width="1.3"/>
<path d="M572.4,642.8H576.0" stroke="#f8801c" stroke-width="1.6"/>
<path d="M558.3,601.9L561.7,605.3M558.3,605.3L561.7,601.9" stroke="#f8801c" stroke-width="1.3"/>
<path d="M563.2,625.4L566.6,628.8M563.2,628.8L566.6,625.4" stroke="#f8801c" stroke-width="1.3"/>
<path d="M599.7,652.7H603.3" stroke="#f8801c" stroke-width="1.6"/>
<path d="M534.3,635.8H537.9" stroke="#f8801c" stroke-width="1.6"/>
<path d="M560.9,638.6H564.5" stroke="#f8801c" stroke-width="1.6"/>
<path d="M595.2,615.8L598.6,619.2M595.2,619.2L598.6,615.8" stroke="#f8801c" stroke-width="1.3"/>
<path d="M519.8,630.3L523.2,633.7M519.8,633.7L523.2,630.3" stroke="#f8801c" stroke-width="1.3"/>
<path d="M558.8,601.5H562.4" stroke="#f8801c" stroke-width="1.6"/>
<path d="M590.0,639.8L593.4,643.2M590.0,643.2L593.4,639.8" stroke="#f8801c" stroke-width="1.3"/>
<path d="M531.8,624.2H535.4" stroke="#f8801c" stroke-width="1.6"/>
<path d="M525.7,616.4L529.1,619.8M525.7,619.8L529.1,616.4" stroke="#f8801c" stroke-width="1.3"/>
<path d="M576.4,641.2L579.8,644.6M576.4,644.6L579.8,641.2" stroke="#f8801c" stroke-width="1.3"/>
<path d="M531.9,594.3H535.5" stroke="#f8801c" stroke-width="1.6"/>
<path d="M515.5,618.0H519.1" stroke="#f8801c" stroke-width="1.6"/>
<path d="M596.1,633.3H599.7" stroke="#f8801c" stroke-width="1.6"/>
<path d="M598.6,637.9L602.0,641.3M598.6,641.3L602.0,637.9" stroke="#f8801c" stroke-width="1.3"/>
<path d="M522.1,602.5L525.5,605.9M522.1,605.9L525.5,602.5" stroke="#f8801c" stroke-width="1.3"/>
<path d="M563.2,623.3H566.8" stroke="#f8801c" stroke-width="1.6"/>
<path d="M591.2,630.6L594.6,634.0M591.2,634.0L594.6,630.6" stroke="#f8801c" stroke-width="1.3"/>
<path d="M560.6,634.2H564.2" stroke="#f8801c" stroke-width="1.6"/>
<path d="M536.8,593.0H540.4" stroke="#f8801c" stroke-width="1.6"/>
<path d="M541.2,601.4L544.6,604.8M541.2,604.8L544.6,601.4" stroke="#f8801c" stroke-width="1.3"/>
<path d="M556.0,591.3H559.6" stroke="#f8801c" stroke-width="1.6"/>
<path d="M573.6,633.3L577.0,636.7M573.6,636.7L577.0,633.3" stroke="#f8801c" stroke-width="1.3"/>
<path d="M546.8,612.5L550.2,615.9M546.8,615.9L550.2,612.5" stroke="#f8801c" stroke-width="1.3"/>
<path d="M577.0,625.5L580.4,628.9M577.0,628.9L580.4,625.5" stroke="#f8801c" stroke-width="1.3"/>
<path d="M559.2,617.9L562.6,621.3M559.2,621.3L562.6,617.9" stroke="#f8801c" stroke-width="1.3"/>
<path d="M584.2,617.5L587.6,620.9M584.2,620.9L587.6,617.5" stroke="#f8801c" stroke-width="1.3"/>
<path d="M584.1,637.6H587.7" stroke="#f8801c" stroke-width="1.6"/>
<path d="M588.5,615.4L591.9,618.8M588.5,618.8L591.9,615.4" stroke="#f8801c" stroke-width="1.3"/>
<path d="M593.5,636.5L596.9,639.9M593.5,639.9L596.9,636.5" stroke="#f8801c" stroke-width="1.3"/>
<path d="M598.6,645.5H602.2" stroke="#f8801c" stroke-width="1.6"/>
<path d="M548.4,628.8L551.8,632.2M548.4,632.2L551.8,628.8" stroke="#f8801c" stroke-width="1.3"/>
<path d="M549.5,639.6H553.1" stroke="#f8801c" stroke-width="1.6"/>
<path d="M525.0,599.2L528.4,602.6M525.0,602.6L528.4,599.2" stroke="#f8801c" stroke-width="1.3"/>
<path d="M589.4,630.3H593.0" stroke="#f8801c" stroke-width="1.6"/>
<path d="M585.1,612.7L588.5,616.1M585.1,616.1L588.5,612.7" stroke="#f8801c" stroke-width="1.3"/>
<path d="M531.8,598.4L535.2,601.8M531.8,601.8L535.2,598.4" stroke="#f8801c" stroke-width="1.3"/>
<path d="M563.9,642.1H567.5" stroke="#f8801c" stroke-width="1.6"/>
<path d="M546.1,608.9L549.5,612.3M546.1,612.3L549.5,608.9" stroke="#f8801c" stroke-width="1.3"/>
<path d="M539.0,623.9L542.4,627.3M539.0,627.3L542.4,623.9" stroke="#f8801c" stroke-width="1.3"/>
<path d="M549.9,603.9L553.3,607.3M549.9,607.3L553.3,603.9" stroke="#f8801c" stroke-width="1.3"/>
<path d="M598.7,614.9H602.3" stroke="#f8801c" stroke-width="1.6"/>
<path d="M574.7,640.1H578.3" stroke="#f8801c" stroke-width="1.6"/>
<path d="M578.0,623.2L581.4,626.6M578.0,626.6L581.4,623.2" stroke="#f8801c" stroke-width="1.3"/>
<path d="M598.6,638.3H602.2" stroke="#f8801c" stroke-width="1.6"/>
<path d="M591.7,622.4L595.1,625.8M591.7,625.8L595.1,622.4" stroke="#f8801c" stroke-width="1.3"/>
<path d="M590.9,634.5L594.3,637.9M590.9,637.9L594.3,634.5" stroke="#f8801c" stroke-width="1.3"/>
<path d="M524.0,625.1L527.4,628.5M524.0,628.5L527.4,625.1" stroke="#f8801c" stroke-width="1.3"/>
<path d="M582.9,639.0L586.3,642.4M582.9,642.4L586.3,639.0" stroke="#f8801c" stroke-width="1.3"/>
<path d="M543.3,630.9L546.7,634.3M543.3,634.3L546.7,630.9" stroke="#f8801c" stroke-width="1.3"/>
<path d="M536.4,630.2L539.8,633.6M536.4,633.6L539.8,630.2" stroke="#f8801c" stroke-width="1.3"/>
<path d="M569.9,633.5H573.5" stroke="#f8801c" stroke-width="1.6"/>
<path d="M534.1,606.7L537.5,610.1M534.1,610.1L537.5,606.7" stroke="#f8801c" stroke-width="1.3"/>
<path d="M596.8,603.2H600.4" stroke="#f8801c" stroke-width="1.6"/>
<path d="M582.5,640.1L585.9,643.5M582.5,643.5L585.9,640.1" stroke="#f8801c" stroke-width="1.3"/>
<path d="M525.5,615.9H529.1" stroke="#f8801c" stroke-width="1.6"/>
<path d="M570.3,636.0L573.7,639.4M570.3,639.4L573.7,636.0" stroke="#f8801c" stroke-width="1.3"/>
<path d="M590.7,631.3H594.3" stroke="#f8801c" stroke-width="1.6"/>
<path d="M518.6,617.6L522.0,621.0M518.6,621.0L522.0,617.6" stroke="#f8801c" stroke-width="1.3"/>
<path d="M530.9,633.0L534.3,636.4M530.9,636.4L534.3,633.0" stroke="#f8801c" stroke-width="1.3"/>
<path d="M592.7,641.0L596.1,644.4M592.7,644.4L596.1,641.0" stroke="#f8801c" stroke-width="1.3"/>
<path d="M569.4,613.4L572.8,616.8M569.4,616.8L572.8,613.4" stroke="#f8801c" stroke-width="1.3"/>
<path d="M573.6,617.5H577.2" stroke="#f8801c" stroke-width="1.6"/>
<path d="M593.2,623.8H596.8" stroke="#f8801c" stroke-width="1.6"/>
<path d="M571.5,604.0L574.9,607.4M571.5,607.4L574.9,604.0" stroke="#f8801c" stroke-width="1.3"/>
<path d="M538.9,602.0L542.3,605.4M538.9,605.4L542.3,602.0" stroke="#f8801c" stroke-width="1.3"/>
<path d="M526.2,619.4H529.8" stroke="#f8801c" stroke-width="1.6"/>
<path d="M549.3,594.8H552.9" stroke="#f8801c" stroke-width="1.6"/>
<path d="M544.3,609.3H547.9" stroke="#f8801c" stroke-width="1.6"/>
<path d="M576.0,623.0H579.6" stroke="#f8801c" stroke-width="1.6"/>
<path d="M594.0,633.9L597.4,637.3M594.0,637.3L597.4,633.9" stroke="#f8801c" stroke-width="1.3"/>
<path d="M536.7,608.8L540.1,612.2M536.7,612.2L540.1,608.8" stroke="#f8801c" stroke-width="1.3"/>
<path d="M563.3,637.4L566.7,640.8M563.3,640.8L566.7,637.4" stroke="#f8801c" stroke-width="1.3"/>
<path d="M564.9,630.0H568.5" stroke="#f8801c" stroke-width="1.6"/>
<path d="M572.9,645.7L576.3,649.1M572.9,649.1L576.3,645.7" stroke="#f8801c" stroke-width="1.3"/>
<path d="M516.2,611.9L519.6,615.3M516.2,615.3L519.6,611.9" stroke="#f8801c" stroke-width="1.3"/>
<path d="M521.8,626.8L525.2,630.2M521.8,630.2L525.2,626.8" stroke="#f8801c" stroke-width="1.3"/>
<path d="M515.4,617.0H519.0" stroke="#f8801c" stroke-width="1.6"/>
<path d="M540.2,623.8L543.6,627.2M540.2,627.2L543.6,623.8" stroke="#f8801c" stroke-width="1.3"/>
<path d="M593.6,621.7L597.0,625.1M593.6,625.1L597.0,621.7" stroke="#f8801c" stroke-width="1.3"/>
<path d="M559.4,618.8H563.0" stroke="#f8801c" stroke-width="1.6"/>
<path d="M569.0,640.5L572.4,643.9M569.0,643.9L572.4,640.5" stroke="#f8801c" stroke-width="1.3"/>
<path d="M582.7,621.9L586.1,625.3M582.7,625.3L586.1,621.9" stroke="#f8801c" stroke-width="1.3"/>
<path d="M518.1,608.0H521.7" stroke="#f8801c" stroke-width="1.6"/>
<path d="M585.3,626.0H588.9" stroke="#f8801c" stroke-width="1.6"/>
<path d="M566.6,623.3L570.0,626.7M566.6,626.7L570.0,623.3" stroke="#f8801c" stroke-width="1.3"/>
<path d="M570.9,619.6L574.3,623.0M570.9,623.0L574.3,619.6" stroke="#f8801c" stroke-width="1.3"/>
<path d="M584.3,614.9H587.9" stroke="#f8801c" stroke-width="1.6"/>
<path d="M572.8,646.5H576.4" stroke="#f8801c" stroke-width="1.6"/>
<path d="M537.4,621.6H541.0" stroke="#f8801c" stroke-width="1.6"/>
<path d="M572.9,638.0L576.3,641.4M572.9,641.4L576.3,638.0" stroke="#f8801c" stroke-width="1.3"/>
<path d="M560.7,616.7L564.1,620.1M560.7,620.1L564.1,616.7" stroke="#f8801c" stroke-width="1.3"/>
<path d="M518.6,608.3H522.2" stroke="#f8801c" stroke-width="1.6"/>
<path d="M586.7,629.6L590.1,633.0M586.7,633.0L590.1,629.6" stroke="#f8801c" stroke-width="1.3"/>
<path d="M520.3,628.4H523.9" stroke="#f8801c" stroke-width="1.6"/>
<path d="M571.6,640.2L575.0,643.6M571.6,643.6L575.0,640.2" stroke="#f8801c" stroke-width="1.3"/>
<path d="M588.5,630.0L591.9,633.4M588.5,633.4L591.9,630.0" stroke="#f8801c" stroke-width="1.3"/>
<path d="M576.7,620.1H580.3" stroke="#f8801c" stroke-width="1.6"/>
<path d="M517.5,625.7L520.9,629.1M517.5,629.1L520.9,625.7" stroke="#f8801c" stroke-width="1.3"/>
<path d="M598.4,650.3L601.8,653.7M598.4,653.7L601.8,650.3" stroke="#f8801c" stroke-width="1.3"/>
<path d="M580.9,624.5L584.3,627.9M580.9,627.9L584.3,624.5" stroke="#f8801c" stroke-width="1.3"/>
<path d="M575.3,636.3H578.9" stroke="#f8801c" stroke-width="1.6"/>
<path d="M557.0,636.4L560.4,639.8M557.0,639.8L560.4,636.4" stroke="#f8801c" stroke-width="1.3"/>
<path d="M535.8,629.4H539.4" stroke="#f8801c" stroke-width="1.6"/>
<path d="M560.5,608.3L563.9,611.7M560.5,611.7L563.9,608.3" stroke="#f8801c" stroke-width="1.3"/>
<path d="M533.8,636.7H537.4" stroke="#f8801c" stroke-width="1.6"/>
<path d="M533.1,609.3L536.5,612.7M533.1,612.7L536.5,609.3" stroke="#f8801c" stroke-width="1.3"/>
<path d="M526.5,629.4L529.9,632.8M526.5,632.8L529.9,629.4" stroke="#f8801c" stroke-width="1.3"/>
<path d="M580.8,626.3L584.2,629.7M580.8,629.7L584.2,626.3" stroke="#f8801c" stroke-width="1.3"/>
<path d="M587.8,624.0L591.2,627.4M587.8,627.4L591.2,624.0" stroke="#f8801c" stroke-width="1.3"/>
<path d="M544.2,634.1L547.6,637.5M544.2,637.5L547.6,634.1" stroke="#f8801c" stroke-width="1.3"/>
<path d="M532.4,601.3L535.8,604.7M532.4,604.7L535.8,601.3" stroke="#f8801c" stroke-width="1.3"/>
<path d="M576.5,623.0L579.9,626.4M576.5,626.4L579.9,623.0" stroke="#f8801c" stroke-width="1.3"/>
<path d="M537.3,607.6L540.7,611.0M537.3,611.0L540.7,607.6" stroke="#f8801c" stroke-width="1.3"/>
<path d="M598.8,628.6H602.4" stroke="#f8801c" stroke-width="1.6"/>
<path d="M551.7,633.2H555.3" stroke="#f8801c" stroke-width="1.6"/>
<path d="M516.1,596.2L519.5,599.6M516.1,599.6L519.5,596.2" stroke="#f8801c" stroke-width="1.3"/>
<path d="M592.9,631.7H596.5" stroke="#f8801c" stroke-width="1.6"/>
<path d="M537.8,630.1L541.2,633.5M537.8,633.5L541.2,630.1" stroke="#f8801c" stroke-width="1.3"/>
<path d="M558.5,628.6H562.1" stroke="#f8801c" stroke-width="1.6"/>
<path d="M547.5,602.6H551.1" stroke="#f8801c" stroke-width="1.6"/>
<path d="M597.1,613.4L600.5,616.8M597.1,616.8L600.5,613.4" stroke="#f8801c" stroke-width="1.3"/>
<path d="M532.4,616.2L535.8,619.6M532.4,619.6L535.8,616.2" stroke="#f8801c" stroke-width="1.3"/>
<path d="M549.8,599.0L553.2,602.4M549.8,602.4L553.2,599.0" stroke="#f8801c" stroke-width="1.3"/>
<path d="M567.5,624.6L570.9,628.0M567.5,628.0L570.9,624.6" stroke="#f8801c" stroke-width="1.3"/>
<path d="M516.3,607.8H519.9" stroke="#f8801c" stroke-width="1.6"/>
<path d="M538.3,625.8H541.9" stroke="#f8801c" stroke-width="1.6"/>
<path d="M526.8,606.5L530.2,609.9M526.8,609.9L530.2,606.5" stroke="#f8801c" stroke-width="1.3"/>
<path d="M565.6,641.7L569.0,645.1M565.6,645.1L569.0,641.7" stroke="#f8801c" stroke-width="1.3"/>
<path d="M518.6,614.6H522.2" stroke="#f8801c" stroke-width="1.6"/>
<path d="M522.6,586.4L526.0,589.8M522.6,589.8L526.0,586.4" stroke="#f8801c" stroke-width="1.3"/>
<path d="M590.3,634.3L593.7,637.7M590.3,637.7L593.7,634.3" stroke="#f8801c" stroke-width="1.3"/>
<path d="M593.9,627.0L597.3,630.4M593.9,630.4L597.3,627.0" stroke="#f8801c" stroke-width="1.3"/>
<path d="M545.3,594.9L548.7,598.3M545.3,598.3L548.7,594.9" stroke="#f8801c" stroke-width="1.3"/>
<path d="M543.5,616.2L546.9,619.6M543.5,619.6L546.9,616.2" stroke="#f8801c" stroke-width="1.3"/>
<path d="M597.2,626.4H600.8" stroke="#f8801c" stroke-width="1.6"/>
<path d="M516.7,631.1L520.1,634.5M516.7,634.5L520.1,631.1" stroke="#f8801c" stroke-width="1.3"/>
<path d="M576.5,623.3H580.1" stroke="#f8801c" stroke-width="1.6"/>
<path d="M528.8,627.2L532.2,630.6M528.8,630.6L532.2,627.2" stroke="#f8801c" stroke-width="1.3"/>
<path d="M598.1,643.7L601.5,647.1M598.1,647.1L601.5,643.7" stroke="#f8801c" stroke-width="1.3"/>
<path d="M538.1,626.2L541.5,629.6M538.1,629.6L541.5,626.2" stroke="#f8801c" stroke-width="1.3"/>
<path d="M536.0,594.0H539.6" stroke="#f8801c" stroke-width="1.6"/>
<path d="M573.8,627.3H577.4" stroke="#f8801c" stroke-width="1.6"/>
<path d="M533.7,604.3L537.1,607.7M533.7,607.7L537.1,604.3" stroke="#f8801c" stroke-width="1.3"/>
<path d="M530.2,589.4L533.6,592.8M530.2,592.8L533.6,589.4" stroke="#f8801c" stroke-width="1.3"/>
<path d="M591.2,621.3L594.6,624.7M591.2,624.7L594.6,621.3" stroke="#f8801c" stroke-width="1.3"/>
<path d="M584.7,611.8H588.3" stroke="#f8801c" stroke-width="1.6"/>
<path d="M583.4,614.2H587.0" stroke="#f8801c" stroke-width="1.6"/>
<path d="M571.5,620.9H575.1" stroke="#f8801c" stroke-width="1.6"/>
<path d="M569.0,645.2H572.6" stroke="#f8801c" stroke-width="1.6"/>
<path d="M539.4,600.3L542.8,603.7M539.4,603.7L542.8,600.3" stroke="#f8801c" stroke-width="1.3"/>
<path d="M526.1,592.0H529.7" stroke="#f8801c" stroke-width="1.6"/>
<path d="M533.0,620.9L536.4,624.3M533.0,624.3L536.4,620.9" stroke="#f8801c" stroke-width="1.3"/>
<path d="M528.0,591.0L531.4,594.4M528.0,594.4L531.4,591.0" stroke="#f8801c" stroke-width="1.3"/>
<path d="M556.9,610.6L560.3,614.0M556.9,614.0L560.3,610.6" stroke="#f8801c" stroke-width="1.3"/>
<path d="M596.5,640.6L599.9,644.0M596.5,644.0L599.9,640.6" stroke="#f8801c" stroke-width="1.3"/>
<path d="M569.2,627.2H572.8" stroke="#f8801c" stroke-width="1.6"/>
<path d="M533.0,605.1L536.4,608.5M533.0,608.5L536.4,605.1" stroke="#f8801c" stroke-width="1.3"/>
<path d="M564.8,620.7L568.2,624.1M564.8,624.1L568.2,620.7" stroke="#f8801c" stroke-width="1.3"/>
<path d="M588.1,637.6L591.5,641.0M588.1,641.0L591.5,637.6" stroke="#f8801c" stroke-width="1.3"/>
<path d="M523.1,615.1L526.5,618.5M523.1,618.5L526.5,615.1" stroke="#f8801c" stroke-width="1.3"/>
<path d="M528.1,618.4H531.7" stroke="#f8801c" stroke-width="1.6"/>
<path d="M543.9,629.8L547.3,633.2M543.9,633.2L547.3,629.8" stroke="#f8801c" stroke-width="1.3"/>
<path d="M589.0,632.8H592.6" stroke="#f8801c" stroke-width="1.6"/>
<path d="M576.8,635.6L580.2,639.0M576.8,639.0L580.2,635.6" stroke="#f8801c" stroke-width="1.3"/>
<path d="M533.9,620.6H537.5" stroke="#f8801c" stroke-width="1.6"/>
<path d="M585.9,617.3L589.3,620.7M585.9,620.7L589.3,617.3" stroke="#f8801c" stroke-width="1.3"/>
<path d="M531.2,615.8H534.8" stroke="#f8801c" stroke-width="1.6"/>
<path d="M538.6,601.1H542.2" stroke="#f8801c" stroke-width="1.6"/>
<path d="M543.2,614.7H546.8" stroke="#f8801c" stroke-width="1.6"/>
<path d="M586.1,636.7H589.7" stroke="#f8801c" stroke-width="1.6"/>
<path d="M589.8,619.2L593.2,622.6M589.8,622.6L593.2,619.2" stroke="#f8801c" stroke-width="1.3"/>
<path d="M583.5,620.8L586.9,624.2M583.5,624.2L586.9,620.8" stroke="#f8801c" stroke-width="1.3"/>
<path d="M600.3,640.0L603.7,643.4M600.3,643.4L603.7,640.0" stroke="#f8801c" stroke-width="1.3"/>
<path d="M519.6,609.0L523.0,612.4M519.6,612.4L523.0,609.0" stroke="#f8801c" stroke-width="1.3"/>
<path d="M599.5,654.2L602.9,657.6M599.5,657.6L602.9,654.2" stroke="#f8801c" stroke-width="1.3"/>
<path d="M555.8,595.2H559.4" stroke="#f8801c" stroke-width="1.6"/>
<path d="M515.6,585.1L519.0,588.5M515.6,588.5L519.0,585.1" stroke="#f8801c" stroke-width="1.3"/>
<path d="M536.5,602.8H540.1" stroke="#f8801c" stroke-width="1.6"/>
<path d="M533.6,624.1H537.2" stroke="#f8801c" stroke-width="1.6"/>
<path d="M577.5,618.2H581.1" stroke="#f8801c" stroke-width="1.6"/>
<path d="M555.9,585.5H559.5" stroke="#f8801c" stroke-width="1.6"/>
<path d="M572.4,623.8H576.0" stroke="#f8801c" stroke-width="1.6"/>
<path d="M553.6,617.6L557.0,621.0M553.6,621.0L557.0,617.6" stroke="#f8801c" stroke-width="1.3"/>
<path d="M583.1,635.2L586.5,638.6M583.1,638.6L586.5,635.2" stroke="#f8801c" stroke-width="1.3"/>
<path d="M593.4,641.4H597.0" stroke="#f8801c" stroke-width="1.6"/>
<path d="M575.4,634.8H579.0" stroke="#f8801c" stroke-width="1.6"/>
<path d="M583.0,632.7L586.4,636.1M583.0,636.1L586.4,632.7" stroke="#f8801c" stroke-width="1.3"/>
<path d="M517.2,612.6L520.6,616.0M517.2,616.0L520.6,612.6" stroke="#f8801c" stroke-width="1.3"/>
<path d="M543.8,612.3L547.2,615.7M543.8,615.7L547.2,612.3" stroke="#f8801c" stroke-width="1.3"/>
<path d="M559.5,633.9H563.1" stroke="#f8801c" stroke-width="1.6"/>
<path d="M549.3,634.0L552.7,637.4M549.3,637.4L552.7,634.0" stroke="#f8801c" stroke-width="1.3"/>
<path d="M570.1,636.0L573.5,639.4M570.1,639.4L573.5,636.0" stroke="#f8801c" stroke-width="1.3"/>
<path d="M576.9,648.1H580.5" stroke="#f8801c" stroke-width="1.6"/>
<path d="M552.0,606.5H555.6" stroke="#f8801c" stroke-width="1.6"/>
<path d="M567.1,626.7L570.5,630.1M567.1,630.1L570.5,626.7" stroke="#f8801c" stroke-width="1.3"/>
<path d="M518.1,590.6L521.5,594.0M518.1,594.0L521.5,590.6" stroke="#f8801c" stroke-width="1.3"/>
<path d="M600.6,644.1H604.2" stroke="#f8801c" stroke-width="1.6"/>
<path d="M550.7,632.8L554.1,636.2M550.7,636.2L554.1,632.8" stroke="#f8801c" stroke-width="1.3"/>
<path d="M531.5,625.8H535.1" stroke="#f8801c" stroke-width="1.6"/>
<path d="M540.7,603.3H544.3" stroke="#f8801c" stroke-width="1.6"/>
<path d="M563.0,628.2H566.6" stroke="#f8801c" stroke-width="1.6"/>
<path d="M586.6,614.0L590.0,617.4M586.6,617.4L590.0,614.0" stroke="#f8801c" stroke-width="1.3"/>
<path d="M544.3,618.0L547.7,621.4M544.3,621.4L547.7,618.0" stroke="#f8801c" stroke-width="1.3"/>
<path d="M542.0,607.5H545.6" stroke="#f8801c" stroke-width="1.6"/>
<path d="M516.0,590.1L519.4,593.5M516.0,593.5L519.4,590.1" stroke="#f8801c" stroke-width="1.3"/>
<path d="M588.4,617.8L591.8,621.2M588.4,621.2L591.8,617.8" stroke="#f8801c" stroke-width="1.3"/>
<path d="M565.4,630.5L568.8,633.9M565.4,633.9L568.8,630.5" stroke="#f8801c" stroke-width="1.3"/>
<path d="M556.0,584.7L559.4,588.1M556.0,588.1L559.4,584.7" stroke="#f8801c" stroke-width="1.3"/>
<path d="M600.0,645.5H603.6" stroke="#f8801c" stroke-width="1.6"/>
<path d="M527.0,619.1H530.6" stroke="#f8801c" stroke-width="1.6"/>
<path d="M562.0,638.8H565.6" stroke="#f8801c" stroke-width="1.6"/>
<path d="M528.2,598.5L531.6,601.9M528.2,601.9L531.6,598.5" stroke="#f8801c" stroke-width="1.3"/>
<path d="M527.4,611.3L530.8,614.7M527.4,614.7L530.8,611.3" stroke="#f8801c" stroke-width="1.3"/>
<path d="M524.7,594.5L528.1,597.9M524.7,597.9L528.1,594.5" stroke="#f8801c" stroke-width="1.3"/>
<path d="M539.0,612.8H542.6" stroke="#f8801c" stroke-width="1.6"/>
<path d="M520.6,629.8H524.2" stroke="#f8801c" stroke-width="1.6"/>
<path d="M577.7,630.1L581.1,633.5M577.7,633.5L581.1,630.1" stroke="#f8801c" stroke-width="1.3"/>
<path d="M530.3,605.8H533.9" stroke="#f8801c" stroke-width="1.6"/>
<path d="M601.0,639.5H604.6" stroke="#f8801c" stroke-width="1.6"/>
<path d="M593.4,638.9L596.8,642.3M593.4,642.3L596.8,638.9" stroke="#f8801c" stroke-width="1.3"/>
<path d="M573.3,643.0H576.9" stroke="#f8801c" stroke-width="1.6"/>
<path d="M584.6,641.6H588.2" stroke="#f8801c" stroke-width="1.6"/>
<path d="M552.5,609.1L555.9,612.5M552.5,612.5L555.9,609.1" stroke="#f8801c" stroke-width="1.3"/>
<path d="M547.5,628.5L550.9,631.9M547.5,631.9L550.9,628.5" stroke="#f8801c" stroke-width="1.3"/>
<path d="M594.8,639.3L598.2,642.7M594.8,642.7L598.2,639.3" stroke="#f8801c" stroke-width="1.3"/>
<path d="M584.9,628.8L588.3,632.2M584.9,632.2L588.3,628.8" stroke="#f8801c" stroke-width="1.3"/>
<path d="M556.6,615.2L560.0,618.6M556.6,618.6L560.0,615.2" stroke="#f8801c" stroke-width="1.3"/>
<path d="M557.4,591.4L560.8,594.8M557.4,594.8L560.8,591.4" stroke="#f8801c" stroke-width="1.3"/>
<path d="M580.6,634.8H584.2" stroke="#f8801c" stroke-width="1.6"/>
<path d="M552.9,620.7L556.3,624.1M552.9,624.1L556.3,620.7" stroke="#f8801c" stroke-width="1.3"/>
<path d="M594.0,639.9H597.6" stroke="#f8801c" stroke-width="1.6"/>
<path d="M539.2,625.1H542.8" stroke="#f8801c" stroke-width="1.6"/>
<path d="M556.2,581.6L559.6,585.0M556.2,585.0L559.6,581.6" stroke="#f8801c" stroke-width="1.3"/>
<path d="M544.0,597.8L547.4,601.2M544.0,601.2L547.4,597.8" stroke="#f8801c" stroke-width="1.3"/>
<path d="M541.7,628.7H545.3" stroke="#f8801c" stroke-width="1.6"/>
<path d="M598.5,635.5H602.1" stroke="#f8801c" stroke-width="1.6"/>
<path d="M565.9,613.9H569.5" stroke="#f8801c" stroke-width="1.6"/>
<path d="M550.1,635.9L553.5,639.3M550.1,639.3L553.5,635.9" stroke="#f8801c" stroke-width="1.3"/>
<path d="M517.1,591.7H520.7" stroke="#f8801c" stroke-width="1.6"/>
<path d="M565.0,624.1H568.6" stroke="#f8801c" stroke-width="1.6"/>
<path d="M578.7,637.0L582.1,640.4M578.7,640.4L582.1,637.0" stroke="#f8801c" stroke-width="1.3"/>
<path d="M571.7,635.7L575.1,639.1M571.7,639.1L575.1,635.7" stroke="#f8801c" stroke-width="1.3"/>
<path d="M518.4,609.7H522.0" stroke="#f8801c" stroke-width="1.6"/>
<path d="M536.3,603.9L539.7,607.3M536.3,607.3L539.7,603.9" stroke="#f8801c" stroke-width="1.3"/>
<path d="M565.5,639.0L568.9,642.4M565.5,642.4L568.9,639.0" stroke="#f8801c" stroke-width="1.3"/>
<path d="M553.9,605.7L557.3,609.1M553.9,609.1L557.3,605.7" stroke="#f8801c" stroke-width="1.3"/>
<path d="M520.7,625.1H524.3" stroke="#f8801c" stroke-width="1.6"/>
<path d="M564.3,608.8L567.7,612.2M564.3,612.2L567.7,608.8" stroke="#f8801c" stroke-width="1.3"/>
<path d="M539.8,597.4L543.2,600.8M539.8,600.8L543.2,597.4" stroke="#f8801c" stroke-width="1.3"/>
<path d="M567.7,642.9L571.1,646.3M567.7,646.3L571.1,642.9" stroke="#f8801c" stroke-width="1.3"/>
<path d="M527.9,609.2H531.5" stroke="#f8801c" stroke-width="1.6"/>
<path d="M527.7,607.4L531.1,610.8M527.7,610.8L531.1,607.4" stroke="#f8801c" stroke-width="1.3"/>
<path d="M599.9,643.2H603.5" stroke="#f8801c" stroke-width="1.6"/>
<path d="M528.7,599.7H532.3" stroke="#f8801c" stroke-width="1.6"/>
<path d="M531.6,598.3L535.0,601.7M531.6,601.7L535.0,598.3" stroke="#f8801c" stroke-width="1.3"/>
<path d="M527.8,614.7L531.2,618.1M527.8,618.1L531.2,614.7" stroke="#f8801c" stroke-width="1.3"/>
<path d="M539.5,610.2L542.9,613.6M539.5,613.6L542.9,610.2" stroke="#f8801c" stroke-width="1.3"/>
<path d="M539.0,628.7H542.6" stroke="#f8801c" stroke-width="1.6"/>
<path d="M585.3,615.7H588.9" stroke="#f8801c" stroke-width="1.6"/>
<path d="M598.5,615.7L601.9,619.1M598.5,619.1L601.9,615.7" stroke="#f8801c" stroke-width="1.3"/>
<path d="M591.2,623.9H594.8" stroke="#f8801c" stroke-width="1.6"/>
<path d="M575.9,621.2L579.3,624.6M575.9,624.6L579.3,621.2" stroke="#f8801c" stroke-width="1.3"/>
<path d="M591.3,634.0H594.9" stroke="#f8801c" stroke-width="1.6"/>
<path d="M586.7,624.1L590.1,627.5M586.7,627.5L590.1,624.1" stroke="#f8801c" stroke-width="1.3"/>
<path d="M583.8,639.5H587.4" stroke="#f8801c" stroke-width="1.6"/>
<path d="M583.0,632.3L586.4,635.7M583.0,635.7L586.4,632.3" stroke="#f8801c" stroke-width="1.3"/>
<path d="M539.0,601.2H542.6" stroke="#f8801c" stroke-width="1.6"/>
<path d="M579.5,642.5H583.1" stroke="#f8801c" stroke-width="1.6"/>
<path d="M581.8,622.1L585.2,625.5M581.8,625.5L585.2,622.1" stroke="#f8801c" stroke-width="1.3"/>
<path d="M554.3,609.1L557.7,612.5M554.3,612.5L557.7,609.1" stroke="#f8801c" stroke-width="1.3"/>
<path d="M567.5,627.2L570.9,630.6M567.5,630.6L570.9,627.2" stroke="#f8801c" stroke-width="1.3"/>
<path d="M593.4,639.0H597.0" stroke="#f8801c" stroke-width="1.6"/>
<path d="M519.5,617.1H523.1" stroke="#f8801c" stroke-width="1.6"/>
<path d="M524.9,634.2L528.3,637.6M524.9,637.6L528.3,634.2" stroke="#f8801c" stroke-width="1.3"/>
<path d="M558.3,606.1H561.9" stroke="#f8801c" stroke-width="1.6"/>
<path d="M548.8,633.4L552.2,636.8M548.8,636.8L552.2,633.4" stroke="#f8801c" stroke-width="1.3"/>
<path d="M522.1,613.0L525.5,616.4M522.1,616.4L525.5,613.0" stroke="#f8801c" stroke-width="1.3"/>
<path d="M544.9,607.7L548.3,611.1M544.9,611.1L548.3,607.7" stroke="#f8801c" stroke-width="1.3"/>
<path d="M543.3,630.4L546.7,633.8M543.3,633.8L546.7,630.4" stroke="#f8801c" stroke-width="1.3"/>
<path d="M598.6,652.3L602.0,655.7M598.6,655.7L602.0,652.3" stroke="#f8801c" stroke-width="1.3"/>
<path d="M573.0,639.6L576.4,643.0M573.0,643.0L576.4,639.6" stroke="#f8801c" stroke-width="1.3"/>
<path d="M533.2,603.7H536.8" stroke="#f8801c" stroke-width="1.6"/>
<path d="M523.8,617.1H527.4" stroke="#f8801c" stroke-width="1.6"/>
<path d="M516.9,621.3H520.5" stroke="#f8801c" stroke-width="1.6"/>
<path d="M552.4,617.1H556.0" stroke="#f8801c" stroke-width="1.6"/>
<path d="M547.0,611.7H550.6" stroke="#f8801c" stroke-width="1.6"/>
<path d="M584.0,625.3H587.6" stroke="#f8801c" stroke-width="1.6"/>
<path d="M515.8,604.1L519.2,607.5M515.8,607.5L519.2,604.1" stroke="#f8801c" stroke-width="1.3"/>
<path d="M529.8,611.0H533.4" stroke="#f8801c" stroke-width="1.6"/>
<path d="M592.8,622.1L596.2,625.5M592.8,625.5L596.2,622.1" stroke="#f8801c" stroke-width="1.3"/>
<path d="M516.9,611.3H520.5" stroke="#f8801c" stroke-width="1.6"/>
<path d="M597.6,642.1H601.2" stroke="#f8801c" stroke-width="1.6"/>
<path d="M574.7,632.8L578.1,636.2M574.7,636.2L578.1,632.8" stroke="#f8801c" stroke-width="1.3"/>
<path d="M561.0,637.4L564.4,640.8M561.0,640.8L564.4,637.4" stroke="#f8801c" stroke-width="1.3"/>
<path d="M530.2,636.3H533.8" stroke="#f8801c" stroke-width="1.6"/>
<path d="M578.5,634.8H582.1" stroke="#f8801c" stroke-width="1.6"/>
<path d="M515.7,609.9H519.3" stroke="#f8801c" stroke-width="1.6"/>
<path d="M563.9,622.8H567.5" stroke="#f8801c" stroke-width="1.6"/>
<path d="M539.5,631.2H543.1" stroke="#f8801c" stroke-width="1.6"/>
<path d="M582.0,634.6L585.4,638.0M582.0,638.0L585.4,634.6" stroke="#f8801c" stroke-width="1.3"/>
<path d="M537.2,607.5H540.8" stroke="#f8801c" stroke-width="1.6"/>
<path d="M589.5,633.2L592.9,636.6M589.5,636.6L592.9,633.2" stroke="#f8801c" stroke-width="1.3"/>
<path d="M548.4,602.0H552.0" stroke="#f8801c" stroke-width="1.6"/>
<path d="M591.3,626.1H594.9" stroke="#f8801c" stroke-width="1.6"/>
<path d="M538.7,594.5H542.3" stroke="#f8801c" stroke-width="1.6"/>
<path d="M520.9,634.1L524.3,637.5M520.9,637.5L524.3,634.1" stroke="#f8801c" stroke-width="1.3"/>
<path d="M576.2,639.6H579.8" stroke="#f8801c" stroke-width="1.6"/>
<path d="M550.8,595.7L554.2,599.1M550.8,599.1L554.2,595.7" stroke="#f8801c" stroke-width="1.3"/>
<path d="M564.4,629.4L567.8,632.8M564.4,632.8L567.8,629.4" stroke="#f8801c" stroke-width="1.3"/>
<path d="M579.0,633.8H582.6" stroke="#f8801c" stroke-width="1.6"/>
<path d="M593.0,630.3H596.6" stroke="#f8801c" stroke-width="1.6"/>
<path d="M518.8,600.2L522.2,603.6M518.8,603.6L522.2,600.2" stroke="#f8801c" stroke-width="1.3"/>
<path d="M572.7,611.1L576.1,614.5M572.7,614.5L576.1,611.1" stroke="#f8801c" stroke-width="1.3"/>
<path d="M517.0,630.2H520.6" stroke="#f8801c" stroke-width="1.6"/>
<path d="M580.2,625.7L583.6,629.1M580.2,629.1L583.6,625.7" stroke="#f8801c" stroke-width="1.3"/>
<path d="M536.8,622.1H540.4" stroke="#f8801c" stroke-width="1.6"/>
<path d="M563.9,619.5L567.3,622.9M563.9,622.9L567.3,619.5" stroke="#f8801c" stroke-width="1.3"/>
<path d="M583.8,639.6H587.4" stroke="#f8801c" stroke-width="1.6"/>
<path d="M523.0,605.5H526.6" stroke="#f8801c" stroke-width="1.6"/>
<path d="M543.5,616.2L546.9,619.6M543.5,619.6L546.9,616.2" stroke="#f8801c" stroke-width="1.3"/>
<path d="M519.3,604.5H522.9" stroke="#f8801c" stroke-width="1.6"/>
<path d="M522.7,623.7L526.1,627.1M522.7,627.1L526.1,623.7" stroke="#f8801c" stroke-width="1.3"/>
<path d="M571.7,607.1L575.1,610.5M571.7,610.5L575.1,607.1" stroke="#f8801c" stroke-width="1.3"/>
<path d="M546.0,620.1L549.4,623.5M546.0,623.5L549.4,620.1" stroke="#f8801c" stroke-width="1.3"/>
<path d="M571.8,633.8L575.2,637.2M571.8,637.2L575.2,633.8" stroke="#f8801c" stroke-width="1.3"/>
<path d="M519.0,632.4L522.4,635.8M519.0,635.8L522.4,632.4" stroke="#f8801c" stroke-width="1.3"/>
<path d="M543.3,629.7L546.7,633.1M543.3,633.1L546.7,629.7" stroke="#f8801c" stroke-width="1.3"/>
<path d="M598.3,639.9L601.7,643.3M598.3,643.3L601.7,639.9" stroke="#f8801c" stroke-width="1.3"/>
<path d="M515.5,605.8L518.9,609.2M515.5,609.2L518.9,605.8" stroke="#f8801c" stroke-width="1.3"/>
<path d="M554.2,631.7L557.6,635.1M554.2,635.1L557.6,631.7" stroke="#f8801c" stroke-width="1.3"/>
<path d="M564.0,608.0L567.4,611.4M564.0,611.4L567.4,608.0" stroke="#f8801c" stroke-width="1.3"/>
<path d="M589.2,632.3L592.6,635.7M589.2,635.7L592.6,632.3" stroke="#f8801c" stroke-width="1.3"/>
<path d="M544.6,609.8L548.0,613.2M544.6,613.2L548.0,609.8" stroke="#f8801c" stroke-width="1.3"/>
<path d="M566.4,639.7H570.0" stroke="#f8801c" stroke-width="1.6"/>
<path d="M595.5,606.4H599.1" stroke="#f8801c" stroke-width="1.6"/>
<path d="M565.3,615.8L568.7,619.2M565.3,619.2L568.7,615.8" stroke="#f8801c" stroke-width="1.3"/>
<path d="M517.6,596.9H521.2" stroke="#f8801c" stroke-width="1.6"/>
<path d="M542.0,608.2H545.6" stroke="#f8801c" stroke-width="1.6"/>
<path d="M573.5,623.6L576.9,627.0M573.5,627.0L576.9,623.6" stroke="#f8801c" stroke-width="1.3"/>
<path d="M567.7,635.6H571.3" stroke="#f8801c" stroke-width="1.6"/>
<path d="M583.9,623.2H587.5" stroke="#f8801c" stroke-width="1.6"/>
<path d="M527.9,618.0L531.3,621.4M527.9,621.4L531.3,618.0" stroke="#f8801c" stroke-width="1.3"/>
<path d="M592.5,621.3H596.1" stroke="#f8801c" stroke-width="1.6"/>
<path d="M582.5,616.1H586.1" stroke="#f8801c" stroke-width="1.6"/>
<path d="M581.9,634.6H585.5" stroke="#f8801c" stroke-width="1.6"/>
<path d="M518.1,628.2L521.5,631.6M518.1,631.6L521.5,628.2" stroke="#f8801c" stroke-width="1.3"/>
<path d="M532.1,623.1L535.5,626.5M532.1,626.5L535.5,623.1" stroke="#f8801c" stroke-width="1.3"/>
<path d="M524.7,593.7H528.3" stroke="#f8801c" stroke-width="1.6"/>
<path d="M528.5,598.5H532.1" stroke="#f8801c" stroke-width="1.6"/>
<path d="M570.7,610.2H574.3" stroke="#f8801c" stroke-width="1.6"/>
<path d="M557.6,613.6H561.2" stroke="#f8801c" stroke-width="1.6"/>
<path d="M533.2,604.6H536.8" stroke="#f8801c" stroke-width="1.6"/>
<path d="M558.7,624.9L562.1,628.3M558.7,628.3L562.1,624.9" stroke="#f8801c" stroke-width="1.3"/>
<path d="M531.4,628.9H535.0" stroke="#f8801c" stroke-width="1.6"/>
<path d="M556.7,635.0L560.1,638.4M556.7,638.4L560.1,635.0" stroke="#f8801c" stroke-width="1.3"/>
<path d="M538.1,608.8L541.5,612.2M538.1,612.2L541.5,608.8" stroke="#f8801c" stroke-width="1.3"/>
<path d="M555.4,627.5L558.8,630.9M555.4,630.9L558.8,627.5" stroke="#f8801c" stroke-width="1.3"/>
<path d="M544.0,614.8L547.4,618.2M544.0,618.2L547.4,614.8" stroke="#f8801c" stroke-width="1.3"/>
<path d="M533.1,620.6L536.5,624.0M533.1,624.0L536.5,620.6" stroke="#f8801c" stroke-width="1.3"/>
<path d="M521.8,634.8H525.4" stroke="#f8801c" stroke-width="1.6"/>
<path d="M592.7,616.7L596.1,620.1M592.7,620.1L596.1,616.7" stroke="#f8801c" stroke-width="1.3"/>
<path d="M563.5,633.2L566.9,636.6M563.5,636.6L566.9,633.2" stroke="#f8801c" stroke-width="1.3"/>
<path d="M584.7,627.9H588.3" stroke="#f8801c" stroke-width="1.6"/>
<path d="M558.1,594.7L561.5,598.1M558.1,598.1L561.5,594.7" stroke="#f8801c" stroke-width="1.3"/>
<path d="M581.0,626.5H584.6" stroke="#f8801c" stroke-width="1.6"/>
<path d="M563.1,625.8L566.5,629.2M563.1,629.2L566.5,625.8" stroke="#f8801c" stroke-width="1.3"/>
<path d="M532.1,631.4H535.7" stroke="#f8801c" stroke-width="1.6"/>
<path d="M547.4,591.5H551.0" stroke="#f8801c" stroke-width="1.6"/>
<path d="M523.2,596.4H526.8" stroke="#f8801c" stroke-width="1.6"/>
<path d="M542.9,611.1L546.3,614.5M542.9,614.5L546.3,611.1" stroke="#f8801c" stroke-width="1.3"/>
<path d="M540.3,638.6H543.9" stroke="#f8801c" stroke-width="1.6"/>
<path d="M601.1,641.1L604.5,644.5M601.1,644.5L604.5,641.1" stroke="#f8801c" stroke-width="1.3"/>
<path d="M553.0,614.3H556.6" stroke="#f8801c" stroke-width="1.6"/>
<path d="M568.3,641.2L571.7,644.6M568.3,644.6L571.7,641.2" stroke="#f8801c" stroke-width="1.3"/>
<path d="M520.2,617.5H523.8" stroke="#f8801c" stroke-width="1.6"/>
<path d="M528.0,614.1H531.6" stroke="#f8801c" stroke-width="1.6"/>
<path d="M529.0,609.2L532.4,612.6M529.0,612.6L532.4,609.2" stroke="#f8801c" stroke-width="1.3"/>
<path d="M544.4,601.1L547.8,604.5M544.4,604.5L547.8,601.1" stroke="#f8801c" stroke-width="1.3"/>
<path d="M561.4,616.0L564.8,619.4M561.4,619.4L564.8,616.0" stroke="#f8801c" stroke-width="1.3"/>
<path d="M599.8,648.6L603.2,652.0M599.8,652.0L603.2,648.6" stroke="#f8801c" stroke-width="1.3"/>
<path d="M588.0,637.1H591.6" stroke="#f8801c" stroke-width="1.6"/>
<path d="M593.4,630.3L596.8,633.7M593.4,633.7L596.8,630.3" stroke="#f8801c" stroke-width="1.3"/>
<path d="M557.7,612.2H561.3" stroke="#f8801c" stroke-width="1.6"/>
<path d="M544.6,627.3H548.2" stroke="#f8801c" stroke-width="1.6"/>
<path d="M531.4,600.3L534.8,603.7M531.4,603.7L534.8,600.3" stroke="#f8801c" stroke-width="1.3"/>
<path d="M521.3,618.0H524.9" stroke="#f8801c" stroke-width="1.6"/>
<path d="M524.1,611.5H527.7" stroke="#f8801c" stroke-width="1.6"/>
<path d="M537.7,635.0L541.1,638.4M537.7,638.4L541.1,635.0" stroke="#f8801c" stroke-width="1.3"/>
<path d="M590.1,635.8H593.7" stroke="#f8801c" stroke-width="1.6"/>
<path d="M551.6,635.0L555.0,638.4M551.6,638.4L555.0,635.0" stroke="#f8801c" stroke-width="1.3"/>
<path d="M554.4,632.9L557.8,636.3M554.4,636.3L557.8,632.9" stroke="#f8801c" stroke-width="1.3"/>
<path d="M553.3,621.4H556.9" stroke="#f8801c" stroke-width="1.6"/>
<path d="M588.8,627.5L592.2,630.9M588.8,630.9L592.2,627.5" stroke="#f8801c" stroke-width="1.3"/>
<path d="M541.5,603.8H545.1" stroke="#f8801c" stroke-width="1.6"/>
<path d="M520.2,614.2L523.6,617.6M520.2,617.6L523.6,614.2" stroke="#f8801c" stroke-width="1.3"/>
<path d="M576.8,627.3L580.2,630.7M576.8,630.7L580.2,627.3" stroke="#f8801c" stroke-width="1.3"/>
<path d="M540.3,614.7H543.9" stroke="#f8801c" stroke-width="1.6"/>
<path d="M589.9,622.3L593.3,625.7M589.9,625.7L593.3,622.3" stroke="#f8801c" stroke-width="1.3"/>
<path d="M586.4,628.4L589.8,631.8M586.4,631.8L589.8,628.4" stroke="#f8801c" stroke-width="1.3"/>
<path d="M555.7,581.1L559.1,584.5M555.7,584.5L559.1,581.1" stroke="#f8801c" stroke-width="1.3"/>
<path d="M531.1,600.0L534.5,603.4M531.1,603.4L534.5,600.0" stroke="#f8801c" stroke-width="1.3"/>
<path d="M550.0,602.2H553.6" stroke="#f8801c" stroke-width="1.6"/>
<path d="M561.8,632.3L565.2,635.7M561.8,635.7L565.2,632.3" stroke="#f8801c" stroke-width="1.3"/>
<path d="M528.2,609.8H531.8" stroke="#f8801c" stroke-width="1.6"/>
<path d="M568.9,614.8L572.3,618.2M568.9,618.2L572.3,614.8" stroke="#f8801c" stroke-width="1.3"/>
<path d="M555.8,616.6H559.4" stroke="#f8801c" stroke-width="1.6"/>
<path d="M579.9,625.8L583.3,629.2M579.9,629.2L583.3,625.8" stroke="#f8801c" stroke-width="1.3"/>
<path d="M583.5,626.0L586.9,629.4M583.5,629.4L586.9,626.0" stroke="#f8801c" stroke-width="1.3"/>
<path d="M559.4,622.3L562.8,625.7M559.4,625.7L562.8,622.3" stroke="#f8801c" stroke-width="1.3"/>
<path d="M546.1,635.4H549.7" stroke="#f8801c" stroke-width="1.6"/>
<path d="M585.4,630.4H589.0" stroke="#f8801c" stroke-width="1.6"/>
<path d="M587.0,634.4H590.6" stroke="#f8801c" stroke-width="1.6"/>
<path d="M563.5,627.3L566.9,630.7M563.5,630.7L566.9,627.3" stroke="#f8801c" stroke-width="1.3"/>
<path d="M537.8,592.5L541.2,595.9M537.8,595.9L541.2,592.5" stroke="#f8801c" stroke-width="1.3"/>
<path d="M561.4,615.8L564.8,619.2M561.4,619.2L564.8,615.8" stroke="#f8801c" stroke-width="1.3"/>
<path d="M547.7,590.4H551.3" stroke="#f8801c" stroke-width="1.6"/>
<path d="M596.9,616.5L600.3,619.9M596.9,619.9L600.3,616.5" stroke="#f8801c" stroke-width="1.3"/>
<path d="M524.6,604.9H528.2" stroke="#f8801c" stroke-width="1.6"/>
<path d="M589.4,638.9H593.0" stroke="#f8801c" stroke-width="1.6"/>
<path d="M516.6,606.2L520.0,609.6M516.6,609.6L520.0,606.2" stroke="#f8801c" stroke-width="1.3"/>
<path d="M539.2,634.3H542.8" stroke="#f8801c" stroke-width="1.6"/>
<path d="M581.0,617.6H584.6" stroke="#f8801c" stroke-width="1.6"/>
<path d="M588.0,625.8H591.6" stroke="#f8801c" stroke-width="1.6"/>
<path d="M517.9,616.3L521.3,619.7M517.9,619.7L521.3,616.3" stroke="#f8801c" stroke-width="1.3"/>
<path d="M565.2,631.3H568.8" stroke="#f8801c" stroke-width="1.6"/>
<path d="M553.3,629.0L556.7,632.4M553.3,632.4L556.7,629.0" stroke="#f8801c" stroke-width="1.3"/>
<path d="M518.6,593.3L522.0,596.7M518.6,596.7L522.0,593.3" stroke="#f8801c" stroke-width="1.3"/>
<path d="M549.9,611.3L553.3,614.7M549.9,614.7L553.3,611.3" stroke="#f8801c" stroke-width="1.3"/>
<path d="M593.7,634.3L597.1,637.7M593.7,637.7L597.1,634.3" stroke="#f8801c" stroke-width="1.3"/>
<path d="M591.3,633.4H594.9" stroke="#f8801c" stroke-width="1.6"/>
<path d="M535.7,622.1L539.1,625.5M535.7,625.5L539.1,622.1" stroke="#f8801c" stroke-width="1.3"/>
<path d="M577.6,647.3H581.2" stroke="#f8801c" stroke-width="1.6"/>
<path d="M563.7,614.1H567.3" stroke="#f8801c" stroke-width="1.6"/>
<path d="M595.5,622.2L598.9,625.6M595.5,625.6L598.9,622.2" stroke="#f8801c" stroke-width="1.3"/>
<path d="M554.0,600.4L557.4,603.8M554.0,603.8L557.4,600.4" stroke="#f8801c" stroke-width="1.3"/>
<path d="M544.5,620.0H548.1" stroke="#f8801c" stroke-width="1.6"/>
<path d="M565.6,625.6H569.2" stroke="#f8801c" stroke-width="1.6"/>
<path d="M518.6,632.0L522.0,635.4M518.6,635.4L522.0,632.0" stroke="#f8801c" stroke-width="1.3"/>
<path d="M584.8,630.7H588.4" stroke="#f8801c" stroke-width="1.6"/>
<path d="M563.8,615.1L567.2,618.5M563.8,618.5L567.2,615.1" stroke="#f8801c" stroke-width="1.3"/>
<path d="M585.7,620.4L589.1,623.8M585.7,623.8L589.1,620.4" stroke="#f8801c" stroke-width="1.3"/>
<path d="M546.3,616.8L549.7,620.2M546.3,620.2L549.7,616.8" stroke="#f8801c" stroke-width="1.3"/>
<path d="M534.1,611.9L537.5,615.3M534.1,615.3L537.5,611.9" stroke="#f8801c" stroke-width="1.3"/>
<path d="M541.5,601.5L544.9,604.9M541.5,604.9L544.9,601.5" stroke="#f8801c" stroke-width="1.3"/>
<path d="M580.6,615.4H584.2" stroke="#f8801c" stroke-width="1.6"/>
<path d="M535.9,620.8L539.3,624.2M535.9,624.2L539.3,620.8" stroke="#f8801c" stroke-width="1.3"/>
<path d="M569.4,639.0L572.8,642.4M569.4,642.4L572.8,639.0" stroke="#f8801c" stroke-width="1.3"/>
<path d="M537.2,594.0H540.8" stroke="#f8801c" stroke-width="1.6"/>
<path d="M571.7,613.5L575.1,616.9M571.7,616.9L575.1,613.5" stroke="#f8801c" stroke-width="1.3"/>
<path d="M518.2,632.1H521.8" stroke="#f8801c" stroke-width="1.6"/>
<path d="M548.0,619.2L551.4,622.6M548.0,622.6L551.4,619.2" stroke="#f8801c" stroke-width="1.3"/>
<path d="M593.0,625.7L596.4,629.1M593.0,629.1L596.4,625.7" stroke="#f8801c" stroke-width="1.3"/>
<path d="M537.7,624.9L541.1,628.3M537.7,628.3L541.1,624.9" stroke="#f8801c" stroke-width="1.3"/>
<path d="M567.3,629.9L570.7,633.3M567.3,633.3L570.7,629.9" stroke="#f8801c" stroke-width="1.3"/>
<path d="M565.5,629.5L568.9,632.9M565.5,632.9L568.9,629.5" stroke="#f8801c" stroke-width="1.3"/>
<path d="M537.7,596.8L541.1,600.2M537.7,600.2L541.1,596.8" stroke="#f8801c" stroke-width="1.3"/>
<path d="M565.4,614.8H569.0" stroke="#f8801c" stroke-width="1.6"/>
<path d="M534.5,601.4H538.1" stroke="#f8801c" stroke-width="1.6"/>
<path d="M566.4,641.4H570.0" stroke="#f8801c" stroke-width="1.6"/>
<path d="M547.0,620.0H550.6" stroke="#f8801c" stroke-width="1.6"/>
<path d="M574.6,624.6L578.0,628.0M574.6,628.0L578.0,624.6" stroke="#f8801c" stroke-width="1.3"/>
<path d="M567.6,622.7H571.2" stroke="#f8801c" stroke-width="1.6"/>
<path d="M524.0,591.6L527.4,595.0M524.0,595.0L527.4,591.6" stroke="#f8801c" stroke-width="1.3"/>
<path d="M565.7,642.2H569.3" stroke="#f8801c" stroke-width="1.6"/>
<path d="M586.8,626.6H590.4" stroke="#f8801c" stroke-width="1.6"/>
<path d="M558.8,601.6L562.2,605.0M558.8,605.0L562.2,601.6" stroke="#f8801c" stroke-width="1.3"/>
<path d="M574.4,650.5H578.0" stroke="#f8801c" stroke-width="1.6"/>
<path d="M537.9,618.5L541.3,621.9M537.9,621.9L541.3,618.5" stroke="#f8801c" stroke-width="1.3"/>
<path d="M544.3,599.9H547.9" stroke="#f8801c" stroke-width="1.6"/>
<path d="M528.1,604.7H531.7" stroke="#f8801c" stroke-width="1.6"/>
<path d="M546.1,597.5L549.5,600.9M546.1,600.9L549.5,597.5" stroke="#f8801c" stroke-width="1.3"/>
<path d="M554.9,594.7H558.5" stroke="#f8801c" stroke-width="1.6"/>
<path d="M528.8,589.6L532.2,593.0M528.8,593.0L532.2,589.6" stroke="#f8801c" stroke-width="1.3"/>
<path d="M539.9,632.8L543.3,636.2M539.9,636.2L543.3,632.8" stroke="#f8801c" stroke-width="1.3"/>
<path d="M592.6,628.6H596.2" stroke="#f8801c" stroke-width="1.6"/>
<path d="M585.0,622.8L588.4,626.2M585.0,626.2L588.4,622.8" stroke="#f8801c" stroke-width="1.3"/>
<path d="M590.1,640.1H593.7" stroke="#f8801c" stroke-width="1.6"/>
<path d="M598.0,627.5H601.6" stroke="#f8801c" stroke-width="1.6"/>
<path d="M519.8,590.7H523.4" stroke="#f8801c" stroke-width="1.6"/>
<path d="M578.5,618.3H582.1" stroke="#f8801c" stroke-width="1.6"/>
<path d="M528.5,595.3H532.1" stroke="#f8801c" stroke-width="1.6"/>
<path d="M566.7,638.4L570.1,641.8M566.7,641.8L570.1,638.4" stroke="#f8801c" stroke-width="1.3"/>
<path d="M576.0,628.8H579.6" stroke="#f8801c" stroke-width="1.6"/>
<path d="M555.6,606.3L559.0,609.7M555.6,609.7L559.0,606.3" stroke="#f8801c" stroke-width="1.3"/>
<path d="M600.7,644.8H604.3" stroke="#f8801c" stroke-width="1.6"/>
<path d="M542.1,619.7L545.5,623.1M542.1,623.1L545.5,619.7" stroke="#f8801c" stroke-width="1.3"/>
<path d="M554.8,602.1L558.2,605.5M554.8,605.5L558.2,602.1" stroke="#f8801c" stroke-width="1.3"/>
<path d="M576.5,620.1H580.1" stroke="#f8801c" stroke-width="1.6"/>
<path d="M517.7,612.5L521.1,615.9M517.7,615.9L521.1,612.5" stroke="#f8801c" stroke-width="1.3"/>
<path d="M591.5,635.5L594.9,638.9M591.5,638.9L594.9,635.5" stroke="#f8801c" stroke-width="1.3"/>
<path d="M527.1,612.0L530.5,615.4M527.1,615.4L530.5,612.0" stroke="#f8801c" stroke-width="1.3"/>
<path d="M556.1,639.8H559.7" stroke="#f8801c" stroke-width="1.6"/>
<path d="M556.0,581.3L559.4,584.7M556.0,584.7L559.4,581.3" stroke="#f8801c" stroke-width="1.3"/>
<path d="M525.5,598.8H529.1" stroke="#f8801c" stroke-width="1.6"/>
<path d="M558.8,621.2L562.2,624.6M558.8,624.6L562.2,621.2" stroke="#f8801c" stroke-width="1.3"/>
<path d="M526.7,626.9L530.1,630.3M526.7,630.3L530.1,626.9" stroke="#f8801c" stroke-width="1.3"/>
<path d="M515.7,607.7L519.1,611.1M515.7,611.1L519.1,607.7" stroke="#f8801c" stroke-width="1.3"/>
<path d="M537.8,622.4H541.4" stroke="#f8801c" stroke-width="1.6"/>
<path d="M582.2,637.6H585.8" stroke="#f8801c" stroke-width="1.6"/>
<path d="M581.4,635.8L584.8,639.2M581.4,639.2L584.8,635.8" stroke="#f8801c" stroke-width="1.3"/>
<path d="M544.3,626.1H547.9" stroke="#f8801c" stroke-width="1.6"/>
<path d="M574.7,634.9L578.1,638.3M574.7,638.3L578.1,634.9" stroke="#f8801c" stroke-width="1.3"/>
<path d="M582.5,619.1L585.9,622.5M582.5,622.5L585.9,619.1" stroke="#f8801c" stroke-width="1.3"/>
<path d="M545.6,631.2H549.2" stroke="#f8801c" stroke-width="1.6"/>
<path d="M591.6,638.9H595.2" stroke="#f8801c" stroke-width="1.6"/>
<path d="M561.4,625.5L564.8,628.9M561.4,628.9L564.8,625.5" stroke="#f8801c" stroke-width="1.3"/>
<path d="M526.5,633.7L529.9,637.1M526.5,637.1L529.9,633.7" stroke="#f8801c" stroke-width="1.3"/>
<path d="M545.3,637.4L548.7,640.8M545.3,640.8L548.7,637.4" stroke="#f8801c" stroke-width="1.3"/>
<path d="M555.2,640.5H558.8" stroke="#f8801c" stroke-width="1.6"/>
<path d="M519.6,596.6H523.2" stroke="#f8801c" stroke-width="1.6"/>
<path d="M565.6,605.4L569.0,608.8M565.6,608.8L569.0,605.4" stroke="#f8801c" stroke-width="1.3"/>
<path d="M522.8,616.5L526.2,619.9M522.8,619.9L526.2,616.5" stroke="#f8801c" stroke-width="1.3"/>
<path d="M592.1,641.6H595.7" stroke="#f8801c" stroke-width="1.6"/>
<path d="M555.9,618.6L559.3,622.0M555.9,622.0L559.3,618.6" stroke="#f8801c" stroke-width="1.3"/>
<path d="M527.3,631.1H530.9" stroke="#f8801c" stroke-width="1.6"/>
<path d="M585.4,624.9H589.0" stroke="#f8801c" stroke-width="1.6"/>
<path d="M524.1,614.4L527.5,617.8M524.1,617.8L527.5,614.4" stroke="#f8801c" stroke-width="1.3"/>
<path d="M548.0,637.3L551.4,640.7M548.0,640.7L551.4,637.3" stroke="#f8801c" stroke-width="1.3"/>
<path d="M540.4,601.6H544.0" stroke="#f8801c" stroke-width="1.6"/>
<path d="M552.9,633.7H556.5" stroke="#f8801c" stroke-width="1.6"/>
<path d="M525.1,628.9L528.5,632.3M525.1,632.3L528.5,628.9" stroke="#f8801c" stroke-width="1.3"/>
<path d="M538.1,621.5L541.5,624.9M538.1,624.9L541.5,621.5" stroke="#f8801c" stroke-width="1.3"/>
<path d="M558.3,638.6L561.7,642.0M558.3,642.0L561.7,638.6" stroke="#f8801c" stroke-width="1.3"/>
<path d="M516.8,627.4H520.4" stroke="#f8801c" stroke-width="1.6"/>
<path d="M530.0,595.2L533.4,598.6M530.0,598.6L533.4,595.2" stroke="#f8801c" stroke-width="1.3"/>
<path d="M563.9,622.6L567.3,626.0M563.9,626.0L567.3,622.6" stroke="#f8801c" stroke-width="1.3"/>
<path d="M518.6,590.0H522.2" stroke="#f8801c" stroke-width="1.6"/>
<path d="M588.9,615.3L592.3,618.7M588.9,618.7L592.3,615.3" stroke="#f8801c" stroke-width="1.3"/>
<path d="M558.1,618.9L561.5,622.3M558.1,622.3L561.5,618.9" stroke="#f8801c" stroke-width="1.3"/>
<path d="M568.6,620.5L572.0,623.9M568.6,623.9L572.0,620.5" stroke="#f8801c" stroke-width="1.3"/>
<path d="M520.5,598.6L523.9,602.0M520.5,602.0L523.9,598.6" stroke="#f8801c" stroke-width="1.3"/>
<path d="M556.0,640.6H559.6" stroke="#f8801c" stroke-width="1.6"/>
<path d="M542.4,624.2H546.0" stroke="#f8801c" stroke-width="1.6"/>
<path d="M590.8,641.1L594.2,644.5M590.8,644.5L594.2,641.1" stroke="#f8801c" stroke-width="1.3"/>
<path d="M518.4,633.4H522.0" stroke="#f8801c" stroke-width="1.6"/>
<path d="M534.8,606.8H538.4" stroke="#f8801c" stroke-width="1.6"/>
<path d="M582.3,623.3H585.9" stroke="#f8801c" stroke-width="1.6"/>
<path d="M570.8,613.9L574.2,617.3M570.8,617.3L574.2,613.9" stroke="#f8801c" stroke-width="1.3"/>
<path d="M552.9,620.8L556.3,624.2M552.9,624.2L556.3,620.8" stroke="#f8801c" stroke-width="1.3"/>
<path d="M544.3,596.8L547.7,600.2M544.3,600.2L547.7,596.8" stroke="#f8801c" stroke-width="1.3"/>
<path d="M539.5,618.1H543.1" stroke="#f8801c" stroke-width="1.6"/>
<path d="M526.1,601.8L529.5,605.2M526.1,605.2L529.5,601.8" stroke="#f8801c" stroke-width="1.3"/>
<path d="M587.9,633.3H591.5" stroke="#f8801c" stroke-width="1.6"/>
<path d="M555.0,597.7L558.4,601.1M555.0,601.1L558.4,597.7" stroke="#f8801c" stroke-width="1.3"/>
<path d="M541.2,604.4H544.8" stroke="#f8801c" stroke-width="1.6"/>
<path d="M558.7,602.4L562.1,605.8M558.7,605.8L562.1,602.4" stroke="#f8801c" stroke-width="1.3"/>
<path d="M548.9,604.8L552.3,608.2M548.9,608.2L552.3,604.8" stroke="#f8801c" stroke-width="1.3"/>
<path d="M598.3,628.7H601.9" stroke="#f8801c" stroke-width="1.6"/>
<path d="M569.9,641.2H573.5" stroke="#f8801c" stroke-width="1.6"/>
<path d="M555.9,604.9L559.3,608.3M555.9,608.3L559.3,604.9" stroke="#f8801c" stroke-width="1.3"/>
<path d="M526.7,616.2L530.1,619.6M526.7,619.6L530.1,616.2" stroke="#f8801c" stroke-width="1.3"/>
<path d="M542.6,614.9H546.2" stroke="#f8801c" stroke-width="1.6"/>
<path d="M592.1,625.7L595.5,629.1M592.1,629.1L595.5,625.7" stroke="#f8801c" stroke-width="1.3"/>
<path d="M535.2,624.8H538.8" stroke="#f8801c" stroke-width="1.6"/>
<path d="M518.5,630.3L521.9,633.7M518.5,633.7L521.9,630.3" stroke="#f8801c" stroke-width="1.3"/>
<path d="M530.9,603.4H534.5" stroke="#f8801c" stroke-width="1.6"/>
<path d="M569.3,623.9H572.9" stroke="#f8801c" stroke-width="1.6"/>
<path d="M584.1,624.8H587.7" stroke="#f8801c" stroke-width="1.6"/>
<path d="M530.0,635.2H533.6" stroke="#f8801c" stroke-width="1.6"/>
<path d="M520.9,601.5H524.5" stroke="#f8801c" stroke-width="1.6"/>
<path d="M541.9,635.5L545.3,638.9M541.9,638.9L545.3,635.5" stroke="#f8801c" stroke-width="1.3"/>
<path d="M524.7,628.7L528.1,632.1M524.7,632.1L528.1,628.7" stroke="#f8801c" stroke-width="1.3"/>
<path d="M594.4,638.7H598.0" stroke="#f8801c" stroke-width="1.6"/>
<path d="M589.8,624.4L593.2,627.8M589.8,627.8L593.2,624.4" stroke="#f8801c" stroke-width="1.3"/>
<path d="M572.1,611.2L575.5,614.6M572.1,614.6L575.5,611.2" stroke="#f8801c" stroke-width="1.3"/>
<path d="M520.8,601.4L524.2,604.8M520.8,604.8L524.2,601.4" stroke="#f8801c" stroke-width="1.3"/>
<path d="M595.9,610.2H599.5" stroke="#f8801c" stroke-width="1.6"/>
<path d="M541.6,621.4L545.0,624.8M541.6,624.8L545.0,621.4" stroke="#f8801c" stroke-width="1.3"/>
<path d="M559.9,607.3L563.3,610.7M559.9,610.7L563.3,607.3" stroke="#f8801c" stroke-width="1.3"/>
<path d="M577.9,644.3L581.3,647.7M577.9,647.7L581.3,644.3" stroke="#f8801c" stroke-width="1.3"/>
<path d="M573.8,640.7L577.2,644.1M573.8,644.1L577.2,640.7" stroke="#f8801c" stroke-width="1.3"/>
<path d="M581.3,635.7H584.9" stroke="#f8801c" stroke-width="1.6"/>
<path d="M561.1,636.6H564.7" stroke="#f8801c" stroke-width="1.6"/>
<path d="M584.2,636.3L587.6,639.7M584.2,639.7L587.6,636.3" stroke="#f8801c" stroke-width="1.3"/>
<path d="M522.4,628.2H526.0" stroke="#f8801c" stroke-width="1.6"/>
<path d="M586.9,617.8H590.5" stroke="#f8801c" stroke-width="1.6"/>
<path d="M541.2,622.6L544.6,626.0M541.2,626.0L544.6,622.6" stroke="#f8801c" stroke-width="1.3"/>
<path d="M556.0,609.0L559.4,612.4M556.0,612.4L559.4,609.0" stroke="#f8801c" stroke-width="1.3"/>
<path d="M591.6,622.0H595.2" stroke="#f8801c" stroke-width="1.6"/>
<path d="M589.2,638.2L592.6,641.6M589.2,641.6L592.6,638.2" stroke="#f8801c" stroke-width="1.3"/>
<path d="M533.1,594.9H536.7" stroke="#f8801c" stroke-width="1.6"/>
<path d="M519.8,591.0H523.4" stroke="#f8801c" stroke-width="1.6"/>
<path d="M521.3,631.2L524.7,634.6M521.3,634.6L524.7,631.2" stroke="#f8801c" stroke-width="1.3"/>
<path d="M519.5,599.1H523.1" stroke="#f8801c" stroke-width="1.6"/>
<path d="M564.5,608.4L567.9,611.8M564.5,611.8L567.9,608.4" stroke="#f8801c" stroke-width="1.3"/>
<path d="M559.8,616.2L563.2,619.6M559.8,619.6L563.2,616.2" stroke="#f8801c" stroke-width="1.3"/>
<path d="M522.9,631.6H526.5" stroke="#f8801c" stroke-width="1.6"/>
<path d="M575.8,645.4H579.4" stroke="#f8801c" stroke-width="1.6"/>
<path d="M572.3,642.9H575.9" stroke="#f8801c" stroke-width="1.6"/>
<path d="M537.5,627.8H541.1" stroke="#f8801c" stroke-width="1.6"/>
<path d="M539.4,613.2L542.8,616.6M539.4,616.6L542.8,613.2" stroke="#f8801c" stroke-width="1.3"/>
<path d="M590.5,636.1H594.1" stroke="#f8801c" stroke-width="1.6"/>
<path d="M540.0,637.4H543.6" stroke="#f8801c" stroke-width="1.6"/>
<path d="M569.4,640.2H573.0" stroke="#f8801c" stroke-width="1.6"/>
<path d="M567.3,625.1H570.9" stroke="#f8801c" stroke-width="1.6"/>
<path d="M523.3,597.4H526.9" stroke="#f8801c" stroke-width="1.6"/>
<path d="M572.1,647.4L575.5,650.8M572.1,650.8L575.5,647.4" stroke="#f8801c" stroke-width="1.3"/>
<path d="M588.2,634.3H591.8" stroke="#f8801c" stroke-width="1.6"/>
<path d="M594.8,639.2L598.2,642.6M594.8,642.6L598.2,639.2" stroke="#f8801c" stroke-width="1.3"/>
<path d="M594.5,621.0L597.9,624.4M594.5,624.4L597.9,621.0" stroke="#f8801c" stroke-width="1.3"/>
<path d="M547.8,609.4H551.4" stroke="#f8801c" stroke-width="1.6"/>
<path d="M541.2,629.7H544.8" stroke="#f8801c" stroke-width="1.6"/>
<path d="M527.9,628.0L531.3,631.4M527.9,631.4L531.3,628.0" stroke="#f8801c" stroke-width="1.3"/>
<path d="M541.7,609.0H545.3" stroke="#f8801c" stroke-width="1.6"/>
<path d="M516.3,626.6H519.9" stroke="#f8801c" stroke-width="1.6"/>
<path d="M521.0,597.0H524.6" stroke="#f8801c" stroke-width="1.6"/>
<path d="M549.5,596.0H553.1" stroke="#f8801c" stroke-width="1.6"/>
<path d="M598.0,622.2L601.4,625.6M598.0,625.6L601.4,622.2" stroke="#f8801c" stroke-width="1.3"/>
<path d="M518.7,621.9H522.3" stroke="#f8801c" stroke-width="1.6"/>
<path d="M516.2,609.4L519.6,612.8M516.2,612.8L519.6,609.4" stroke="#f8801c" stroke-width="1.3"/>
<path d="M542.6,607.7H546.2" stroke="#f8801c" stroke-width="1.6"/>
<path d="M558.4,630.4H562.0" stroke="#f8801c" stroke-width="1.6"/>
<path d="M541.7,639.2H545.3" stroke="#f8801c" stroke-width="1.6"/>
<path d="M584.0,632.9L587.4,636.3M584.0,636.3L587.4,632.9" stroke="#f8801c" stroke-width="1.3"/>
<path d="M556.1,622.0L559.5,625.4M556.1,625.4L559.5,622.0" stroke="#f8801c" stroke-width="1.3"/>
<path d="M547.4,633.3L550.8,636.7M547.4,636.7L550.8,633.3" stroke="#f8801c" stroke-width="1.3"/>
<path d="M555.7,602.8L559.1,606.2M555.7,606.2L559.1,602.8" stroke="#f8801c" stroke-width="1.3"/>
<path d="M588.6,621.6H592.2" stroke="#f8801c" stroke-width="1.6"/>
<path d="M546.2,601.2L549.6,604.6M546.2,604.6L549.6,601.2" stroke="#f8801c" stroke-width="1.3"/>
<path d="M525.6,606.0L529.0,609.4M525.6,609.4L529.0,606.0" stroke="#f8801c" stroke-width="1.3"/>
<path d="M540.6,633.4L544.0,636.8M540.6,636.8L544.0,633.4" stroke="#f8801c" stroke-width="1.3"/>
<path d="M530.1,620.2H533.7" stroke="#f8801c" stroke-width="1.6"/>
<path d="M582.6,638.6L586.0,642.0M582.6,642.0L586.0,638.6" stroke="#f8801c" stroke-width="1.3"/>
<path d="M572.5,645.9H576.1" stroke="#f8801c" stroke-width="1.6"/>
<path d="M568.9,632.3H572.5" stroke="#f8801c" stroke-width="1.6"/>
<path d="M568.5,616.5H572.1" stroke="#f8801c" stroke-width="1.6"/>
<path d="M600.3,629.3L603.7,632.7M600.3,632.7L603.7,629.3" stroke="#f8801c" stroke-width="1.3"/>
<path d="M578.1,636.1H581.7" stroke="#f8801c" stroke-width="1.6"/>
<path d="M597.6,646.3H601.2" stroke="#f8801c" stroke-width="1.6"/>
<path d="M588.4,637.5L591.8,640.9M588.4,640.9L591.8,637.5" stroke="#f8801c" stroke-width="1.3"/>
<path d="M544.7,639.9H548.3" stroke="#f8801c" stroke-width="1.6"/>
<path d="M516.0,594.8H519.6" stroke="#f8801c" stroke-width="1.6"/>
<path d="M546.6,619.7H550.2" stroke="#f8801c" stroke-width="1.6"/>
<path d="M557.6,636.8L561.0,640.2M557.6,640.2L561.0,636.8" stroke="#f8801c" stroke-width="1.3"/>
<path d="M559.3,611.4H562.9" stroke="#f8801c" stroke-width="1.6"/>
<path d="M539.4,606.2H543.0" stroke="#f8801c" stroke-width="1.6"/>
<path d="M534.4,600.5L537.8,603.9M534.4,603.9L537.8,600.5" stroke="#f8801c" stroke-width="1.3"/>
<path d="M533.8,595.6H537.4" stroke="#f8801c" stroke-width="1.6"/>
<path d="M517.7,608.2L521.1,611.6M517.7,611.6L521.1,608.2" stroke="#f8801c" stroke-width="1.3"/>
<path d="M528.6,604.9L532.0,608.3M528.6,608.3L532.0,604.9" stroke="#f8801c" stroke-width="1.3"/>
<path d="M518.1,595.6L521.5,599.0M518.1,599.0L521.5,595.6" stroke="#f8801c" stroke-width="1.3"/>
<path d="M584.3,620.8L587.7,624.2M584.3,624.2L587.7,620.8" stroke="#f8801c" stroke-width="1.3"/>
<path d="M595.6,637.7L599.0,641.1M595.6,641.1L599.0,637.7" stroke="#f8801c" stroke-width="1.3"/>
<path d="M558.3,610.6H561.9" stroke="#f8801c" stroke-width="1.6"/>
<path d="M578.9,623.4H582.5" stroke="#f8801c" stroke-width="1.6"/>
<path d="M515.7,587.5L519.1,590.9M515.7,590.9L519.1,587.5" stroke="#f8801c" stroke-width="1.3"/>
<path d="M580.9,622.4L584.3,625.8M580.9,625.8L584.3,622.4" stroke="#f8801c" stroke-width="1.3"/>
<path d="M584.1,635.4L587.5,638.8M584.1,638.8L587.5,635.4" stroke="#f8801c" stroke-width="1.3"/>
<path d="M572.6,645.7H576.2" stroke="#f8801c" stroke-width="1.6"/>
<path d="M597.2,628.3L600.6,631.7M597.2,631.7L600.6,628.3" stroke="#f8801c" stroke-width="1.3"/>
<path d="M564.4,608.8H568.0" stroke="#f8801c" stroke-width="1.6"/>
<path d="M597.2,623.3L600.6,626.7M597.2,626.7L600.6,623.3" stroke="#f8801c" stroke-width="1.3"/>
<path d="M598.2,625.9H601.8" stroke="#f8801c" stroke-width="1.6"/>
<path d="M527.6,615.3H531.2" stroke="#f8801c" stroke-width="1.6"/>
<path d="M518.8,592.0L522.2,595.4M518.8,595.4L522.2,592.0" stroke="#f8801c" stroke-width="1.3"/>
<path d="M565.6,609.1L569.0,612.5M565.6,612.5L569.0,609.1" stroke="#f8801c" stroke-width="1.3"/>
<path d="M546.8,615.3H550.4" stroke="#f8801c" stroke-width="1.6"/>
<path d="M527.2,624.3H530.8" stroke="#f8801c" stroke-width="1.6"/>
<path d="M581.7,621.7L585.1,625.1M581.7,625.1L585.1,621.7" stroke="#f8801c" stroke-width="1.3"/>
<path d="M549.5,589.5L552.9,592.9M549.5,592.9L552.9,589.5" stroke="#f8801c" stroke-width="1.3"/>
<path d="M591.3,627.6L594.7,631.0M591.3,631.0L594.7,627.6" stroke="#f8801c" stroke-width="1.3"/>
<path d="M546.0,604.7L549.4,608.1M546.0,608.1L549.4,604.7" stroke="#f8801c" stroke-width="1.3"/>
<path d="M575.0,633.0H578.6" stroke="#f8801c" stroke-width="1.6"/>
<path d="M515.9,585.5L519.3,588.9M515.9,588.9L519.3,585.5" stroke="#f8801c" stroke-width="1.3"/>
<path d="M541.4,631.1L544.8,634.5M541.4,634.5L544.8,631.1" stroke="#f8801c" stroke-width="1.3"/>
<path d="M594.4,622.8H598.0" stroke="#f8801c" stroke-width="1.6"/>
<path d="M540.8,630.0L544.2,633.4M540.8,633.4L544.2,630.0" stroke="#f8801c" stroke-width="1.3"/>
<path d="M563.6,619.8H567.2" stroke="#f8801c" stroke-width="1.6"/>
<path d="M526.3,608.6L529.7,612.0M526.3,612.0L529.7,608.6" stroke="#f8801c" stroke-width="1.3"/>
<path d="M582.7,624.0H586.3" stroke="#f8801c" stroke-width="1.6"/>
<path d="M523.2,598.9L526.6,602.3M523.2,602.3L526.6,598.9" stroke="#f8801c" stroke-width="1.3"/>
<path d="M590.1,621.9L593.5,625.3M590.1,625.3L593.5,621.9" stroke="#f8801c" stroke-width="1.3"/>
<path d="M546.3,631.8H549.9" stroke="#f8801c" stroke-width="1.6"/>
<path d="M545.9,624.8L549.3,628.2M545.9,628.2L549.3,624.8" stroke="#f8801c" stroke-width="1.3"/>
<path d="M529.3,603.8L532.7,607.2M529.3,607.2L532.7,603.8" stroke="#f8801c" stroke-width="1.3"/>
<path d="M560.7,622.5H564.3" stroke="#f8801c" stroke-width="1.6"/>
<path d="M600.3,650.1L603.7,653.5M600.3,653.5L603.7,650.1" stroke="#f8801c" stroke-width="1.3"/>
<path d="M534.4,623.3H538.0" stroke="#f8801c" stroke-width="1.6"/>
<path d="M525.0,611.6H528.6" stroke="#f8801c" stroke-width="1.6"/>
<path d="M533.5,618.9H537.1" stroke="#f8801c" stroke-width="1.6"/>
<path d="M519.3,636.1H522.9" stroke="#f8801c" stroke-width="1.6"/>
<path d="M547.7,630.2H551.3" stroke="#f8801c" stroke-width="1.6"/>
<path d="M583.0,622.6L586.4,626.0M583.0,626.0L586.4,622.6" stroke="#f8801c" stroke-width="1.3"/>
<path d="M562.3,633.6H565.9" stroke="#f8801c" stroke-width="1.6"/>
<path d="M571.3,629.9H574.9" stroke="#f8801c" stroke-width="1.6"/>
<path d="M563.6,634.9L567.0,638.3M563.6,638.3L567.0,634.9" stroke="#f8801c" stroke-width="1.3"/>
<path d="M598.7,651.6L602.1,655.0M598.7,655.0L602.1,651.6" stroke="#f8801c" stroke-width="1.3"/>
<path d="M542.2,614.9H545.8" stroke="#f8801c" stroke-width="1.6"/>
<path d="M573.4,647.0L576.8,650.4M573.4,650.4L576.8,647.0" stroke="#f8801c" stroke-width="1.3"/>
<path d="M551.4,614.2L554.8,617.6M551.4,617.6L554.8,614.2" stroke="#f8801c" stroke-width="1.3"/>
<path d="M542.2,633.5L545.6,636.9M542.2,636.9L545.6,633.5" stroke="#f8801c" stroke-width="1.3"/>
<path d="M567.4,644.4H571.0" stroke="#f8801c" stroke-width="1.6"/>
<path d="M594.2,626.1H597.8" stroke="#f8801c" stroke-width="1.6"/>
<path d="M528.8,633.2H532.4" stroke="#f8801c" stroke-width="1.6"/>
<path d="M560.6,619.9L564.0,623.3M560.6,623.3L564.0,619.9" stroke="#f8801c" stroke-width="1.3"/>
<path d="M521.2,618.5L524.6,621.9M521.2,621.9L524.6,618.5" stroke="#f8801c" stroke-width="1.3"/>
<path d="M564.5,614.3L567.9,617.7M564.5,617.7L567.9,614.3" stroke="#f8801c" stroke-width="1.3"/>
<path d="M585.8,623.9L589.2,627.3M585.8,627.3L589.2,623.9" stroke="#f8801c" stroke-width="1.3"/>
<path d="M542.3,625.9L545.7,629.3M542.3,629.3L545.7,625.9" stroke="#f8801c" stroke-width="1.3"/>
<path d="M596.1,599.5L599.5,602.9M596.1,602.9L599.5,599.5" stroke="#f8801c" stroke-width="1.3"/>
<path d="M536.3,625.7L539.7,629.1M536.3,629.1L539.7,625.7" stroke="#f8801c" stroke-width="1.3"/>
<path d="M520.8,632.4H524.4" stroke="#f8801c" stroke-width="1.6"/>
<path d="M547.5,605.3L550.9,608.7M547.5,608.7L550.9,605.3" stroke="#f8801c" stroke-width="1.3"/>
<path d="M597.8,616.7H601.4" stroke="#f8801c" stroke-width="1.6"/>
<path d="M598.9,637.2L602.3,640.6M598.9,640.6L602.3,637.2" stroke="#f8801c" stroke-width="1.3"/>
<path d="M516.0,590.9L519.4,594.3M516.0,594.3L519.4,590.9" stroke="#f8801c" stroke-width="1.3"/>
<path d="M589.5,619.6H593.1" stroke="#f8801c" stroke-width="1.6"/>
<path d="M522.0,585.6L525.4,589.0M522.0,589.0L525.4,585.6" stroke="#f8801c" stroke-width="1.3"/>
<path d="M520.6,603.0H524.2" stroke="#f8801c" stroke-width="1.6"/>
<path d="M517.5,630.4H521.1" stroke="#f8801c" stroke-width="1.6"/>
<path d="M573.8,644.6L577.2,648.0M573.8,648.0L577.2,644.6" stroke="#f8801c" stroke-width="1.3"/>
<path d="M534.9,621.0L538.3,624.4M534.9,624.4L538.3,621.0" stroke="#f8801c" stroke-width="1.3"/>
<path d="M587.4,631.2L590.8,634.6M587.4,634.6L590.8,631.2" stroke="#f8801c" stroke-width="1.3"/>
<path d="M577.2,624.2H580.8" stroke="#f8801c" stroke-width="1.6"/>
<path d="M537.5,624.1L540.9,627.5M537.5,627.5L540.9,624.1" stroke="#f8801c" stroke-width="1.3"/>
<path d="M534.1,597.6L537.5,601.0M534.1,601.0L537.5,597.6" stroke="#f8801c" stroke-width="1.3"/>
<path d="M556.3,634.5H559.9" stroke="#f8801c" stroke-width="1.6"/>
<path d="M590.9,626.6H594.5" stroke="#f8801c" stroke-width="1.6"/>
<path d="M585.8,612.5H589.4" stroke="#f8801c" stroke-width="1.6"/>
<path d="M598.4,617.7H602.0" stroke="#f8801c" stroke-width="1.6"/>
<path d="M538.6,604.8L542.0,608.2M538.6,608.2L542.0,604.8" stroke="#f8801c" stroke-width="1.3"/>
<path d="M570.9,633.6H574.5" stroke="#f8801c" stroke-width="1.6"/>
<path d="M529.5,619.3H533.1" stroke="#f8801c" stroke-width="1.6"/>
<path d="M540.2,635.8L543.6,639.2M540.2,639.2L543.6,635.8" stroke="#f8801c" stroke-width="1.3"/>
<path d="M519.5,633.9L522.9,637.3M519.5,637.3L522.9,633.9" stroke="#f8801c" stroke-width="1.3"/>
<path d="M515.6,604.8L519.0,608.2M515.6,608.2L519.0,604.8" stroke="#f8801c" stroke-width="1.3"/>
<path d="M539.0,616.0H542.6" stroke="#f8801c" stroke-width="1.6"/>
<path d="M550.1,592.3L553.5,595.7M550.1,595.7L553.5,592.3" stroke="#f8801c" stroke-width="1.3"/>
<path d="M556.2,586.9L559.6,590.3M556.2,590.3L559.6,586.9" stroke="#f8801c" stroke-width="1.3"/>
<path d="M565.0,631.2H568.6" stroke="#f8801c" stroke-width="1.6"/>
<path d="M560.7,638.8L564.1,642.2M560.7,642.2L564.1,638.8" stroke="#f8801c" stroke-width="1.3"/>
<path d="M517.7,618.3H521.3" stroke="#f8801c" stroke-width="1.6"/>
<path d="M585.0,608.5L588.4,611.9M585.0,611.9L588.4,608.5" stroke="#f8801c" stroke-width="1.3"/>
<path d="M550.9,636.9H554.5" stroke="#f8801c" stroke-width="1.6"/>
<path d="M560.8,611.4L564.2,614.8M560.8,614.8L564.2,611.4" stroke="#f8801c" stroke-width="1.3"/>
<path d="M567.1,624.9H570.7" stroke="#f8801c" stroke-width="1.6"/>
<path d="M520.2,592.8H523.8" stroke="#f8801c" stroke-width="1.6"/>
<path d="M561.4,620.8H565.0" stroke="#f8801c" stroke-width="1.6"/>
<path d="M563.2,611.8L566.6,615.2M563.2,615.2L566.6,611.8" stroke="#f8801c" stroke-width="1.3"/>
<path d="M569.1,644.3L572.5,647.7M569.1,647.7L572.5,644.3" stroke="#f8801c" stroke-width="1.3"/>
<path d="M534.5,635.2L537.9,638.6M534.5,638.6L537.9,635.2" stroke="#f8801c" stroke-width="1.3"/>
<path d="M585.4,623.1H589.0" stroke="#f8801c" stroke-width="1.6"/>
<path d="M575.4,630.7H579.0" stroke="#f8801c" stroke-width="1.6"/>
<path d="M542.7,604.6H546.3" stroke="#f8801c" stroke-width="1.6"/>
<path d="M570.5,634.8L573.9,638.2M570.5,638.2L573.9,634.8" stroke="#f8801c" stroke-width="1.3"/>
<path d="M526.6,610.6L530.0,614.0M526.6,614.0L530.0,610.6" stroke="#f8801c" stroke-width="1.3"/>
<path d="M554.4,595.3H558.0" stroke="#f8801c" stroke-width="1.6"/>
<path d="M537.1,637.0H540.7" stroke="#f8801c" stroke-width="1.6"/>
<path d="M568.1,627.8L571.5,631.2M568.1,631.2L571.5,627.8" stroke="#f8801c" stroke-width="1.3"/>
<path d="M543.4,613.2H547.0" stroke="#f8801c" stroke-width="1.6"/>
<path d="M587.6,629.6L591.0,633.0M587.6,633.0L591.0,629.6" stroke="#f8801c" stroke-width="1.3"/>
<path d="M595.5,603.9L598.9,607.3M595.5,607.3L598.9,603.9" stroke="#f8801c" stroke-width="1.3"/>
<path d="M579.2,625.8L582.6,629.2M579.2,629.2L582.6,625.8" stroke="#f8801c" stroke-width="1.3"/>
<path d="M580.6,617.8L584.0,621.2M580.6,621.2L584.0,617.8" stroke="#f8801c" stroke-width="1.3"/>
<path d="M568.2,632.6H571.8" stroke="#f8801c" stroke-width="1.6"/>
<path d="M601.2,641.1H604.8" stroke="#f8801c" stroke-width="1.6"/>
<path d="M570.3,643.4L573.7,646.8M570.3,646.8L573.7,643.4" stroke="#f8801c" stroke-width="1.3"/>
<path d="M521.4,632.1H525.0" stroke="#f8801c" stroke-width="1.6"/>
<path d="M522.6,631.0L526.0,634.4M522.6,634.4L526.0,631.0" stroke="#f8801c" stroke-width="1.3"/>
<path d="M559.8,622.1L563.2,625.5M559.8,625.5L563.2,622.1" stroke="#f8801c" stroke-width="1.3"/>
<path d="M549.8,595.6L553.2,599.0M549.8,599.0L553.2,595.6" stroke="#f8801c" stroke-width="1.3"/>
<path d="M571.2,648.2H574.8" stroke="#f8801c" stroke-width="1.6"/>
<path d="M569.5,627.8L572.9,631.2M569.5,631.2L572.9,627.8" stroke="#f8801c" stroke-width="1.3"/>
<path d="M592.8,618.3H596.4" stroke="#f8801c" stroke-width="1.6"/>
<path d="M571.1,619.5L574.5,622.9M571.1,622.9L574.5,619.5" stroke="#f8801c" stroke-width="1.3"/>
<path d="M580.3,614.7H583.9" stroke="#f8801c" stroke-width="1.6"/>
<path d="M519.0,590.6L522.4,594.0M519.0,594.0L522.4,590.6" stroke="#f8801c" stroke-width="1.3"/>
<path d="M534.9,626.0L538.3,629.4M534.9,629.4L538.3,626.0" stroke="#f8801c" stroke-width="1.3"/>
<path d="M591.1,624.4L594.5,627.8M591.1,627.8L594.5,624.4" stroke="#f8801c" stroke-width="1.3"/>
<path d="M564.0,624.6H567.6" stroke="#f8801c" stroke-width="1.6"/>
<path d="M536.9,602.8H540.5" stroke="#f8801c" stroke-width="1.6"/>
<path d="M575.4,627.8H579.0" stroke="#f8801c" stroke-width="1.6"/>
<path d="M574.7,625.9H578.3" stroke="#f8801c" stroke-width="1.6"/>
<path d="M551.7,636.5H555.3" stroke="#f8801c" stroke-width="1.6"/>
<path d="M592.6,619.3H596.2" stroke="#f8801c" stroke-width="1.6"/>
<path d="M569.0,627.7H572.6" stroke="#f8801c" stroke-width="1.6"/>
<path d="M577.3,636.6L580.7,640.0M577.3,640.0L580.7,636.6" stroke="#f8801c" stroke-width="1.3"/>
<path d="M576.1,630.4L579.5,633.8M576.1,633.8L579.5,630.4" stroke="#f8801c" stroke-width="1.3"/>
<path d="M575.8,642.8H579.4" stroke="#f8801c" stroke-width="1.6"/>
<path d="M532.4,629.7L535.8,633.1M532.4,633.1L535.8,629.7" stroke="#f8801c" stroke-width="1.3"/>
<path d="M519.5,629.5L522.9,632.9M519.5,632.9L522.9,629.5" stroke="#f8801c" stroke-width="1.3"/>
<path d="M563.7,625.6L567.1,629.0M563.7,629.0L567.1,625.6" stroke="#f8801c" stroke-width="1.3"/>
<path d="M540.4,600.4H544.0" stroke="#f8801c" stroke-width="1.6"/>
<path d="M520.2,598.1H523.8" stroke="#f8801c" stroke-width="1.6"/>
<path d="M549.9,612.7L553.3,616.1M549.9,616.1L553.3,612.7" stroke="#f8801c" stroke-width="1.3"/>
<path d="M595.0,630.9L598.4,634.3M595.0,634.3L598.4,630.9" stroke="#f8801c" stroke-width="1.3"/>
<path d="M565.7,621.5H569.3" stroke="#f8801c" stroke-width="1.6"/>
<path d="M550.5,609.8L553.9,613.2M550.5,613.2L553.9,609.8" stroke="#f8801c" stroke-width="1.3"/>
<path d="M582.8,635.7H586.4" stroke="#f8801c" stroke-width="1.6"/>
<path d="M594.2,628.1H597.8" stroke="#f8801c" stroke-width="1.6"/>
<path d="M566.8,617.6L570.2,621.0M566.8,621.0L570.2,617.6" stroke="#f8801c" stroke-width="1.3"/>
<path d="M578.2,618.5L581.6,621.9M578.2,621.9L581.6,618.5" stroke="#f8801c" stroke-width="1.3"/>
<path d="M554.3,593.8H557.9" stroke="#f8801c" stroke-width="1.6"/>
<path d="M548.3,637.3H551.9" stroke="#f8801c" stroke-width="1.6"/>
<path d="M521.6,604.6H525.2" stroke="#f8801c" stroke-width="1.6"/>
<path d="M556.7,629.3L560.1,632.7M556.7,632.7L560.1,629.3" stroke="#f8801c" stroke-width="1.3"/>
<path d="M529.8,628.8L533.2,632.2M529.8,632.2L533.2,628.8" stroke="#f8801c" stroke-width="1.3"/>
<path d="M530.5,589.3L533.9,592.7M530.5,592.7L533.9,589.3" stroke="#f8801c" stroke-width="1.3"/>
<path d="M546.6,627.8L550.0,631.2M546.6,631.2L550.0,627.8" stroke="#f8801c" stroke-width="1.3"/>
<path d="M536.6,607.5H540.2" stroke="#f8801c" stroke-width="1.6"/>
<path d="M592.8,638.0L596.2,641.4M592.8,641.4L596.2,638.0" stroke="#f8801c" stroke-width="1.3"/>
<path d="M568.1,618.2H571.7" stroke="#f8801c" stroke-width="1.6"/>
<path d="M560.3,607.2L563.7,610.6M560.3,610.6L563.7,607.2" stroke="#f8801c" stroke-width="1.3"/>
<path d="M555.4,601.2L558.8,604.6M555.4,604.6L558.8,601.2" stroke="#f8801c" stroke-width="1.3"/>
<path d="M599.9,647.2H603.5" stroke="#f8801c" stroke-width="1.6"/>
<path d="M544.1,629.9L547.5,633.3M544.1,633.3L547.5,629.9" stroke="#f8801c" stroke-width="1.3"/>
<path d="M582.3,638.8L585.7,642.2M582.3,642.2L585.7,638.8" stroke="#f8801c" stroke-width="1.3"/>
<path d="M518.4,625.3H522.0" stroke="#f8801c" stroke-width="1.6"/>
<path d="M596.4,607.0H600.0" stroke="#f8801c" stroke-width="1.6"/>
<path d="M530.1,615.6L533.5,619.0M530.1,619.0L533.5,615.6" stroke="#f8801c" stroke-width="1.3"/>
<path d="M564.3,636.5L567.7,639.9M564.3,639.9L567.7,636.5" stroke="#f8801c" stroke-width="1.3"/>
<path d="M520.7,606.4H524.3" stroke="#f8801c" stroke-width="1.6"/>
<path d="M586.9,620.5H590.5" stroke="#f8801c" stroke-width="1.6"/>
<path d="M597.9,632.2L601.3,635.6M597.9,635.6L601.3,632.2" stroke="#f8801c" stroke-width="1.3"/>
<path d="M586.4,620.9L589.8,624.3M586.4,624.3L589.8,620.9" stroke="#f8801c" stroke-width="1.3"/>
<path d="M557.9,610.6L561.3,614.0M557.9,614.0L561.3,610.6" stroke="#f8801c" stroke-width="1.3"/>
<path d="M582.3,635.4H585.9" stroke="#f8801c" stroke-width="1.6"/>
<path d="M548.2,631.7H551.8" stroke="#f8801c" stroke-width="1.6"/>
<path d="M547.0,604.9H550.6" stroke="#f8801c" stroke-width="1.6"/>
<path d="M568.0,645.6L571.4,649.0M568.0,649.0L571.4,645.6" stroke="#f8801c" stroke-width="1.3"/>
<path d="M529.6,634.5L533.0,637.9M529.6,637.9L533.0,634.5" stroke="#f8801c" stroke-width="1.3"/>
<path d="M577.3,625.3L580.7,628.7M577.3,628.7L580.7,625.3" stroke="#f8801c" stroke-width="1.3"/>
<path d="M520.1,617.4H523.7" stroke="#f8801c" stroke-width="1.6"/>
<path d="M527.9,604.5H531.5" stroke="#f8801c" stroke-width="1.6"/>
<path d="M518.6,596.7L522.0,600.1M518.6,600.1L522.0,596.7" stroke="#f8801c" stroke-width="1.3"/>
<path d="M523.4,596.6L526.8,600.0M523.4,600.0L526.8,596.6" stroke="#f8801c" stroke-width="1.3"/>
<path d="M529.1,603.0H532.7" stroke="#f8801c" stroke-width="1.6"/>
<path d="M534.0,621.1L537.4,624.5M534.0,624.5L537.4,621.1" stroke="#f8801c" stroke-width="1.3"/>
<path d="M523.0,612.7L526.4,616.1M523.0,616.1L526.4,612.7" stroke="#f8801c" stroke-width="1.3"/>
<path d="M530.6,636.5H534.2" stroke="#f8801c" stroke-width="1.6"/>
<path d="M542.3,626.8H545.9" stroke="#f8801c" stroke-width="1.6"/>
<path d="M584.9,614.4H588.5" stroke="#f8801c" stroke-width="1.6"/>
<path d="M588.0,628.4L591.4,631.8M588.0,631.8L591.4,628.4" stroke="#f8801c" stroke-width="1.3"/>
<path d="M598.3,633.6L601.7,637.0M598.3,637.0L601.7,633.6" stroke="#f8801c" stroke-width="1.3"/>
<path d="M591.4,640.5L594.8,643.9M591.4,643.9L594.8,640.5" stroke="#f8801c" stroke-width="1.3"/>
<path d="M520.4,599.9L523.8,603.3M520.4,603.3L523.8,599.9" stroke="#f8801c" stroke-width="1.3"/>
<path d="M546.4,637.4H550.0" stroke="#f8801c" stroke-width="1.6"/>
<path d="M532.1,599.0H535.7" stroke="#f8801c" stroke-width="1.6"/>
<path d="M538.1,638.4H541.7" stroke="#f8801c" stroke-width="1.6"/>
<path d="M556.8,619.2L560.2,622.6M556.8,622.6L560.2,619.2" stroke="#f8801c" stroke-width="1.3"/>
<path d="M534.5,615.8H538.1" stroke="#f8801c" stroke-width="1.6"/>
<path d="M570.6,643.7L574.0,647.1M570.6,647.1L574.0,643.7" stroke="#f8801c" stroke-width="1.3"/>
<path d="M563.1,618.2L566.5,621.6M563.1,621.6L566.5,618.2" stroke="#f8801c" stroke-width="1.3"/>
<path d="M548.8,596.4H552.4" stroke="#f8801c" stroke-width="1.6"/>
<path d="M545.8,596.3L549.2,599.7M545.8,599.7L549.2,596.3" stroke="#f8801c" stroke-width="1.3"/>
<path d="M569.3,616.7L572.7,620.1M569.3,620.1L572.7,616.7" stroke="#f8801c" stroke-width="1.3"/>
<path d="M528.4,604.2L531.8,607.6M528.4,607.6L531.8,604.2" stroke="#f8801c" stroke-width="1.3"/>
<path d="M526.6,592.7H530.2" stroke="#f8801c" stroke-width="1.6"/>
<path d="M580.4,616.0L583.8,619.4M580.4,619.4L583.8,616.0" stroke="#f8801c" stroke-width="1.3"/>
<path d="M549.8,596.5H553.4" stroke="#f8801c" stroke-width="1.6"/>
<path d="M569.4,633.4L572.8,636.8M569.4,636.8L572.8,633.4" stroke="#f8801c" stroke-width="1.3"/>
<path d="M516.2,613.9L519.6,617.3M516.2,617.3L519.6,613.9" stroke="#f8801c" stroke-width="1.3"/>
<path d="M581.7,633.3L585.1,636.7M581.7,636.7L585.1,633.3" stroke="#f8801c" stroke-width="1.3"/>
<path d="M577.6,643.3L581.0,646.7M577.6,646.7L581.0,643.3" stroke="#f8801c" stroke-width="1.3"/>
<path d="M580.5,634.1H584.1" stroke="#f8801c" stroke-width="1.6"/>
<path d="M579.3,644.0L582.7,647.4M579.3,647.4L582.7,644.0" stroke="#f8801c" stroke-width="1.3"/>
<path d="M583.6,641.8H587.2" stroke="#f8801c" stroke-width="1.6"/>
<path d="M558.3,604.4H561.9" stroke="#f8801c" stroke-width="1.6"/>
<path d="M596.4,648.6L599.8,652.0M596.4,652.0L599.8,648.6" stroke="#f8801c" stroke-width="1.3"/>
<path d="M525.7,589.0L529.1,592.4M525.7,592.4L529.1,589.0" stroke="#f8801c" stroke-width="1.3"/>
<path d="M566.9,627.1L570.3,630.5M566.9,630.5L570.3,627.1" stroke="#f8801c" stroke-width="1.3"/>
<path d="M591.3,641.3L594.7,644.7M591.3,644.7L594.7,641.3" stroke="#f8801c" stroke-width="1.3"/>
<path d="M520.8,599.1L524.2,602.5M520.8,602.5L524.2,599.1" stroke="#f8801c" stroke-width="1.3"/>
<path d="M580.7,623.7L584.1,627.1M580.7,627.1L584.1,623.7" stroke="#f8801c" stroke-width="1.3"/>
<path d="M553.3,639.4L556.7,642.8M553.3,642.8L556.7,639.4" stroke="#f8801c" stroke-width="1.3"/>
<path d="M580.4,628.5H584.0" stroke="#f8801c" stroke-width="1.6"/>
<path d="M535.2,633.6L538.6,637.0M535.2,637.0L538.6,633.6" stroke="#f8801c" stroke-width="1.3"/>
<path d="M569.3,629.0L572.7,632.4M569.3,632.4L572.7,629.0" stroke="#f8801c" stroke-width="1.3"/>
<path d="M579.6,638.1H583.2" stroke="#f8801c" stroke-width="1.6"/>
<path d="M529.4,610.8L532.8,614.2M529.4,614.2L532.8,610.8" stroke="#f8801c" stroke-width="1.3"/>
<path d="M540.8,636.9H544.4" stroke="#f8801c" stroke-width="1.6"/>
<path d="M591.6,631.1H595.2" stroke="#f8801c" stroke-width="1.6"/>
<path d="M530.6,606.0H534.2" stroke="#f8801c" stroke-width="1.6"/>
<path d="M580.2,620.4H583.8" stroke="#f8801c" stroke-width="1.6"/>
<path d="M535.6,633.1H539.2" stroke="#f8801c" stroke-width="1.6"/>
<path d="M537.1,606.8L540.5,610.2M537.1,610.2L540.5,606.8" stroke="#f8801c" stroke-width="1.3"/>
<path d="M595.5,617.1L598.9,620.5M595.5,620.5L598.9,617.1" stroke="#f8801c" stroke-width="1.3"/>
<path d="M527.8,633.2L531.2,636.6M527.8,636.6L531.2,633.2" stroke="#f8801c" stroke-width="1.3"/>
<path d="M539.6,632.0H543.2" stroke="#f8801c" stroke-width="1.6"/>
<path d="M517.2,613.7H520.8" stroke="#f8801c" stroke-width="1.6"/>
<path d="M592.3,633.1H595.9" stroke="#f8801c" stroke-width="1.6"/>
<path d="M546.8,609.1L550.2,612.5M546.8,612.5L550.2,609.1" stroke="#f8801c" stroke-width="1.3"/>
<path d="M530.6,602.1L534.0,605.5M530.6,605.5L534.0,602.1" stroke="#f8801c" stroke-width="1.3"/>
<path d="M572.6,633.1H576.2" stroke="#f8801c" stroke-width="1.6"/>
<path d="M586.2,613.9H589.8" stroke="#f8801c" stroke-width="1.6"/>
<path d="M535.7,632.8L539.1,636.2M535.7,636.2L539.1,632.8" stroke="#f8801c" stroke-width="1.3"/>
<path d="M518.9,605.8L522.3,609.2M518.9,609.2L522.3,605.8" stroke="#f8801c" stroke-width="1.3"/>
<path d="M588.3,617.9L591.7,621.3M588.3,621.3L591.7,617.9" stroke="#f8801c" stroke-width="1.3"/>
<path d="M549.2,616.9H552.8" stroke="#f8801c" stroke-width="1.6"/>
<path d="M535.6,603.6L539.0,607.0M535.6,607.0L539.0,603.6" stroke="#f8801c" stroke-width="1.3"/>
<path d="M530.9,618.7L534.3,622.1M530.9,622.1L534.3,618.7" stroke="#f8801c" stroke-width="1.3"/>
<path d="M548.7,597.9H552.3" stroke="#f8801c" stroke-width="1.6"/>
<path d="M515.5,615.7L518.9,619.1M515.5,619.1L518.9,615.7" stroke="#f8801c" stroke-width="1.3"/>
<path d="M541.7,633.2L545.1,636.6M541.7,636.6L545.1,633.2" stroke="#f8801c" stroke-width="1.3"/>
<path d="M520.6,635.4H524.2" stroke="#f8801c" stroke-width="1.6"/>
<path d="M547.4,623.6L550.8,627.0M547.4,627.0L550.8,623.6" stroke="#f8801c" stroke-width="1.3"/>
<path d="M534.2,631.7H537.8" stroke="#f8801c" stroke-width="1.6"/>
<path d="M592.0,625.2H595.6" stroke="#f8801c" stroke-width="1.6"/>
<path d="M532.4,614.0L535.8,617.4M532.4,617.4L535.8,614.0" stroke="#f8801c" stroke-width="1.3"/>
<path d="M530.6,603.7L534.0,607.1M530.6,607.1L534.0,603.7" stroke="#f8801c" stroke-width="1.3"/>
<path d="M570.1,635.7L573.5,639.1M570.1,639.1L573.5,635.7" stroke="#f8801c" stroke-width="1.3"/>
<path d="M591.5,622.1H595.1" stroke="#f8801c" stroke-width="1.6"/>
<path d="M594.6,640.5H598.2" stroke="#f8801c" stroke-width="1.6"/>
<path d="M571.0,645.9H574.6" stroke="#f8801c" stroke-width="1.6"/>
<path d="M527.1,633.4L530.5,636.8M527.1,636.8L530.5,633.4" stroke="#f8801c" stroke-width="1.3"/>
<path d="M557.4,633.5H561.0" stroke="#f8801c" stroke-width="1.6"/>
<path d="M582.2,633.2L585.6,636.6M582.2,636.6L585.6,633.2" stroke="#f8801c" stroke-width="1.3"/>
<path d="M549.0,614.3H552.6" stroke="#f8801c" stroke-width="1.6"/>
<path d="M581.1,630.6H584.7" stroke="#f8801c" stroke-width="1.6"/>
<path d="M567.5,621.7L570.9,625.1M567.5,625.1L570.9,621.7" stroke="#f8801c" stroke-width="1.3"/>
<path d="M518.3,603.9H521.9" stroke="#f8801c" stroke-width="1.6"/>
<path d="M564.9,631.7L568.3,635.1M564.9,635.1L568.3,631.7" stroke="#f8801c" stroke-width="1.3"/>
<path d="M568.9,636.4L572.3,639.8M568.9,639.8L572.3,636.4" stroke="#f8801c" stroke-width="1.3"/>
<path d="M538.4,597.5H542.0" stroke="#f8801c" stroke-width="1.6"/>
<path d="M565.9,609.2L569.3,612.6M565.9,612.6L569.3,609.2" stroke="#f8801c" stroke-width="1.3"/>
<path d="M573.1,632.1H576.7" stroke="#f8801c" stroke-width="1.6"/>
<path d="M524.3,604.2H527.9" stroke="#f8801c" stroke-width="1.6"/>
<path d="M543.8,630.0H547.4" stroke="#f8801c" stroke-width="1.6"/>
<path d="M523.9,619.3L527.3,622.7M523.9,622.7L527.3,619.3" stroke="#f8801c" stroke-width="1.3"/>
<path d="M597.9,645.8H601.5" stroke="#f8801c" stroke-width="1.6"/>
<path d="M549.1,630.7L552.5,634.1M549.1,634.1L552.5,630.7" stroke="#f8801c" stroke-width="1.3"/>
<path d="M567.4,643.6H571.0" stroke="#f8801c" stroke-width="1.6"/>
<path d="M593.9,638.1H597.5" stroke="#f8801c" stroke-width="1.6"/>
<path d="M585.2,611.5L588.6,614.9M585.2,614.9L588.6,611.5" stroke="#f8801c" stroke-width="1.3"/>
<path d="M556.2,626.0H559.8" stroke="#f8801c" stroke-width="1.6"/>
<path d="M528.5,597.0L531.9,600.4M528.5,600.4L531.9,597.0" stroke="#f8801c" stroke-width="1.3"/>
<path d="M537.0,611.1L540.4,614.5M537.0,614.5L540.4,611.1" stroke="#f8801c" stroke-width="1.3"/>
<path d="M546.4,617.0L549.8,620.4M546.4,620.4L549.8,617.0" stroke="#f8801c" stroke-width="1.3"/>
<path d="M556.7,620.9L560.1,624.3M556.7,624.3L560.1,620.9" stroke="#f8801c" stroke-width="1.3"/>
<path d="M599.7,650.8L603.1,654.2M599.7,654.2L603.1,650.8" stroke="#f8801c" stroke-width="1.3"/>
<path d="M567.1,636.1L570.5,639.5M567.1,639.5L570.5,636.1" stroke="#f8801c" stroke-width="1.3"/>
<path d="M529.9,629.5L533.3,632.9M529.9,632.9L533.3,629.5" stroke="#f8801c" stroke-width="1.3"/>
<path d="M522.2,606.3L525.6,609.7M522.2,609.7L525.6,606.3" stroke="#f8801c" stroke-width="1.3"/>
<path d="M568.8,619.9H572.4" stroke="#f8801c" stroke-width="1.6"/>
<path d="M570.3,645.9H573.9" stroke="#f8801c" stroke-width="1.6"/>
<path d="M573.8,624.7L577.2,628.1M573.8,628.1L577.2,624.7" stroke="#f8801c" stroke-width="1.3"/>
<path d="M597.7,647.0L601.1,650.4M597.7,650.4L601.1,647.0" stroke="#f8801c" stroke-width="1.3"/>
<path d="M576.4,622.8L579.8,626.2M576.4,626.2L579.8,622.8" stroke="#f8801c" stroke-width="1.3"/>
<path d="M572.1,610.3H575.7" stroke="#f8801c" stroke-width="1.6"/>
<path d="M515.6,603.4L519.0,606.8M515.6,606.8L519.0,603.4" stroke="#f8801c" stroke-width="1.3"/>
<path d="M583.9,621.3H587.5" stroke="#f8801c" stroke-width="1.6"/>
<path d="M578.8,643.5H582.4" stroke="#f8801c" stroke-width="1.6"/>
<path d="M551.6,608.1L555.0,611.5M551.6,611.5L555.0,608.1" stroke="#f8801c" stroke-width="1.3"/>
<path d="M580.9,643.2H584.5" stroke="#f8801c" stroke-width="1.6"/>
<path d="M584.6,626.8H588.2" stroke="#f8801c" stroke-width="1.6"/>
<path d="M523.2,625.1L526.6,628.5M523.2,628.5L526.6,625.1" stroke="#f8801c" stroke-width="1.3"/>
<path d="M535.7,630.3L539.1,633.7M535.7,633.7L539.1,630.3" stroke="#f8801c" stroke-width="1.3"/>
<path d="M586.5,634.7H590.1" stroke="#f8801c" stroke-width="1.6"/>
<path d="M571.8,614.6L575.2,618.0M571.8,618.0L575.2,614.6" stroke="#f8801c" stroke-width="1.3"/>
<path d="M557.1,587.3H560.7" stroke="#f8801c" stroke-width="1.6"/>
<path d="M526.8,603.9H530.4" stroke="#f8801c" stroke-width="1.6"/>
<path d="M593.6,619.5H597.2" stroke="#f8801c" stroke-width="1.6"/>
<path d="M570.5,612.0H574.1" stroke="#f8801c" stroke-width="1.6"/>
<path d="M587.4,629.2H591.0" stroke="#f8801c" stroke-width="1.6"/>
<path d="M580.7,639.9L584.1,643.3M580.7,643.3L584.1,639.9" stroke="#f8801c" stroke-width="1.3"/>
<path d="M551.3,636.1L554.7,639.5M551.3,639.5L554.7,636.1" stroke="#f8801c" stroke-width="1.3"/>
<path d="M574.0,621.3H577.6" stroke="#f8801c" stroke-width="1.6"/>
<path d="M554.9,635.1L558.3,638.5M554.9,638.5L558.3,635.1" stroke="#f8801c" stroke-width="1.3"/>
<path d="M595.0,630.7L598.4,634.1M595.0,634.1L598.4,630.7" stroke="#f8801c" stroke-width="1.3"/>
<path d="M530.5,595.3L533.9,598.7M530.5,598.7L533.9,595.3" stroke="#f8801c" stroke-width="1.3"/>
<path d="M585.6,626.9L589.0,630.3M585.6,630.3L589.0,626.9" stroke="#f8801c" stroke-width="1.3"/>
<path d="M572.3,606.2L575.7,609.6M572.3,609.6L575.7,606.2" stroke="#f8801c" stroke-width="1.3"/>
<path d="M550.4,623.5H554.0" stroke="#f8801c" stroke-width="1.6"/>
<path d="M527.6,600.0L531.0,603.4M527.6,603.4L531.0,600.0" stroke="#f8801c" stroke-width="1.3"/>
<path d="M570.6,620.1L574.0,623.5M570.6,623.5L574.0,620.1" stroke="#f8801c" stroke-width="1.3"/>
<path d="M590.0,630.3L593.4,633.7M590.0,633.7L593.4,630.3" stroke="#f8801c" stroke-width="1.3"/>
<path d="M556.3,591.7H559.9" stroke="#f8801c" stroke-width="1.6"/>
<path d="M538.4,636.2L541.8,639.6M538.4,639.6L541.8,636.2" stroke="#f8801c" stroke-width="1.3"/>
<path d="M578.4,616.9L581.8,620.3M578.4,620.3L581.8,616.9" stroke="#f8801c" stroke-width="1.3"/>
<path d="M517.6,614.6H521.2" stroke="#f8801c" stroke-width="1.6"/>
<path d="M535.8,633.5L539.2,636.9M535.8,636.9L539.2,633.5" stroke="#f8801c" stroke-width="1.3"/>
<path d="M565.0,628.4H568.6" stroke="#f8801c" stroke-width="1.6"/>
<path d="M542.1,604.9H545.7" stroke="#f8801c" stroke-width="1.6"/>
<path d="M572.8,628.0L576.2,631.4M572.8,631.4L576.2,628.0" stroke="#f8801c" stroke-width="1.3"/>
<path d="M539.5,606.8H543.1" stroke="#f8801c" stroke-width="1.6"/>
<path d="M554.1,593.4H557.7" stroke="#f8801c" stroke-width="1.6"/>
<path d="M558.3,614.0L561.7,617.4M558.3,617.4L561.7,614.0" stroke="#f8801c" stroke-width="1.3"/>
<path d="M591.8,620.2L595.2,623.6M591.8,623.6L595.2,620.2" stroke="#f8801c" stroke-width="1.3"/>
<path d="M543.9,610.0L547.3,613.4M543.9,613.4L547.3,610.0" stroke="#f8801c" stroke-width="1.3"/>
<path d="M573.6,620.3H577.2" stroke="#f8801c" stroke-width="1.6"/>
<path d="M533.1,620.5L536.5,623.9M533.1,623.9L536.5,620.5" stroke="#f8801c" stroke-width="1.3"/>
<path d="M564.4,629.9L567.8,633.3M564.4,633.3L567.8,629.9" stroke="#f8801c" stroke-width="1.3"/>
<path d="M581.7,640.3L585.1,643.7M581.7,643.7L585.1,640.3" stroke="#f8801c" stroke-width="1.3"/>
<path d="M530.6,591.0H534.2" stroke="#f8801c" stroke-width="1.6"/>
<path d="M596.0,609.9L599.4,613.3M596.0,613.3L599.4,609.9" stroke="#f8801c" stroke-width="1.3"/>
<path d="M583.1,612.2L586.5,615.6M583.1,615.6L586.5,612.2" stroke="#f8801c" stroke-width="1.3"/>
<path d="M566.5,627.6H570.1" stroke="#f8801c" stroke-width="1.6"/>
<path d="M571.2,615.7H574.8" stroke="#f8801c" stroke-width="1.6"/>
<path d="M573.7,646.4L577.1,649.8M573.7,649.8L577.1,646.4" stroke="#f8801c" stroke-width="1.3"/>
<path d="M536.0,595.4H539.6" stroke="#f8801c" stroke-width="1.6"/>
<path d="M557.3,601.3H560.9" stroke="#f8801c" stroke-width="1.6"/>
<path d="M570.7,639.3H574.3" stroke="#f8801c" stroke-width="1.6"/>
<path d="M545.9,597.2H549.5" stroke="#f8801c" stroke-width="1.6"/>
<path d="M525.7,633.3L529.1,636.7M525.7,636.7L529.1,633.3" stroke="#f8801c" stroke-width="1.3"/>
<path d="M551.0,596.1L554.4,599.5M551.0,599.5L554.4,596.1" stroke="#f8801c" stroke-width="1.3"/>
<path d="M548.7,612.6H552.3" stroke="#f8801c" stroke-width="1.6"/>
<path d="M521.2,587.2L524.6,590.6M521.2,590.6L524.6,587.2" stroke="#f8801c" stroke-width="1.3"/>
<path d="M571.4,610.1L574.8,613.5M571.4,613.5L574.8,610.1" stroke="#f8801c" stroke-width="1.3"/>
<path d="M521.4,615.2L524.8,618.6M521.4,618.6L524.8,615.2" stroke="#f8801c" stroke-width="1.3"/>
<path d="M548.2,595.9L551.6,599.3M548.2,599.3L551.6,595.9" stroke="#f8801c" stroke-width="1.3"/>
<path d="M558.8,616.2L562.2,619.6M558.8,619.6L562.2,616.2" stroke="#f8801c" stroke-width="1.3"/>
<path d="M581.5,635.5H585.1" stroke="#f8801c" stroke-width="1.6"/>
<path d="M538.9,615.8L542.3,619.2M538.9,619.2L542.3,615.8" stroke="#f8801c" stroke-width="1.3"/>
<path d="M524.9,591.3H528.5" stroke="#f8801c" stroke-width="1.6"/>
<path d="M565.6,640.7H569.2" stroke="#f8801c" stroke-width="1.6"/>
<path d="M585.5,614.5H589.1" stroke="#f8801c" stroke-width="1.6"/>
<path d="M516.1,604.7H519.7" stroke="#f8801c" stroke-width="1.6"/>
<path d="M519.8,592.0H523.4" stroke="#f8801c" stroke-width="1.6"/>
<path d="M524.7,621.6H528.3" stroke="#f8801c" stroke-width="1.6"/>
<path d="M534.6,631.2L538.0,634.6M534.6,634.6L538.0,631.2" stroke="#f8801c" stroke-width="1.3"/>
<path d="M551.6,609.2L555.0,612.6M551.6,612.6L555.0,609.2" stroke="#f8801c" stroke-width="1.3"/>
<path d="M549.7,638.2L553.1,641.6M549.7,641.6L553.1,638.2" stroke="#f8801c" stroke-width="1.3"/>
<path d="M558.6,610.7L562.0,614.1M558.6,614.1L562.0,610.7" stroke="#f8801c" stroke-width="1.3"/>
<path d="M553.5,639.6H557.1" stroke="#f8801c" stroke-width="1.6"/>
<path d="M529.6,610.2L533.0,613.6M529.6,613.6L533.0,610.2" stroke="#f8801c" stroke-width="1.3"/>
<path d="M591.9,626.0L595.3,629.4M591.9,629.4L595.3,626.0" stroke="#f8801c" stroke-width="1.3"/>
<path d="M540.0,616.6H543.6" stroke="#f8801c" stroke-width="1.6"/>
<path d="M581.0,638.6L584.4,642.0M581.0,642.0L584.4,638.6" stroke="#f8801c" stroke-width="1.3"/>
<path d="M588.8,639.3L592.2,642.7M588.8,642.7L592.2,639.3" stroke="#f8801c" stroke-width="1.3"/>
<path d="M546.0,630.3L549.4,633.7M546.0,633.7L549.4,630.3" stroke="#f8801c" stroke-width="1.3"/>
<path d="M578.7,645.3H582.3" stroke="#f8801c" stroke-width="1.6"/>
<path d="M557.3,600.2L560.7,603.6M557.3,603.6L560.7,600.2" stroke="#f8801c" stroke-width="1.3"/>
<path d="M520.3,632.3L523.7,635.7M520.3,635.7L523.7,632.3" stroke="#f8801c" stroke-width="1.3"/>
<path d="M442.3,638.4H447.3" stroke="#000" stroke-width="1.8"/>
<path d="M451.0,635.6H456.0" stroke="#000" stroke-width="1.8"/>
<path d="M469.2,637.0H474.2" stroke="#000" stroke-width="1.8"/>
<path d="M512.5,630.6H517.5" stroke="#000" stroke-width="1.8"/>
<path d="M472.7,637.8H477.7" stroke="#000" stroke-width="1.8"/>
<path d="M439.6,631.4H444.6" stroke="#000" stroke-width="1.8"/>
<path d="M503.1,633.7H508.1" stroke="#000" stroke-width="1.8"/>
<path d="M454.7,633.6H459.7" stroke="#000" stroke-width="1.8"/>
<path d="M509.7,636.3H514.7" stroke="#000" stroke-width="1.8"/>
<path d="M471.5,631.5H476.5" stroke="#000" stroke-width="1.8"/>
<path d="M446.6,641.1H451.6" stroke="#000" stroke-width="1.8"/>
<path d="M485.9,629.3H490.9" stroke="#000" stroke-width="1.8"/>
<path d="M474.8,628.4H479.8" stroke="#000" stroke-width="1.8"/>
<path d="M507.6,623.0H512.6" stroke="#000" stroke-width="1.8"/>
<path d="M501.7,638.2H506.7" stroke="#000" stroke-width="1.8"/>
<path d="M495.0,624.3H500.0" stroke="#000" stroke-width="1.8"/>
<path d="M491.8,630.8H496.8" stroke="#000" stroke-width="1.8"/>
<path d="M517.3,636.0H522.3" stroke="#000" stroke-width="1.8"/>
<path d="M475.2,634.0H480.2" stroke="#000" stroke-width="1.8"/>
<path d="M515.7,638.7H520.7" stroke="#000" stroke-width="1.8"/>
<path d="M496.3,635.8H501.3" stroke="#000" stroke-width="1.8"/>
<path d="M491.2,640.1H496.2" stroke="#000" stroke-width="1.8"/>
<path d="M493.1,632.7H498.1" stroke="#000" stroke-width="1.8"/>
<path d="M503.7,630.9H508.7" stroke="#000" stroke-width="1.8"/>
<path d="M475.5,641.8H480.5" stroke="#000" stroke-width="1.8"/>
<path d="M459.3,634.4H464.3" stroke="#000" stroke-width="1.8"/>
<path d="M466.3,630.6H471.3" stroke="#000" stroke-width="1.8"/>
<path d="M488.5,623.1H493.5" stroke="#000" stroke-width="1.8"/>
<path d="M500.4,624.9H505.4" stroke="#000" stroke-width="1.8"/>
<path d="M491.7,629.6H496.7" stroke="#000" stroke-width="1.8"/>
<path d="M513.2,627.6H518.2" stroke="#000" stroke-width="1.8"/>
<path d="M456.1,628.5H461.1" stroke="#000" stroke-width="1.8"/>
<path d="M497.2,636.7H502.2" stroke="#000" stroke-width="1.8"/>
<path d="M454.9,639.6H459.9" stroke="#000" stroke-width="1.8"/>
<path d="M497.2,632.7H502.2" stroke="#000" stroke-width="1.8"/>
<path d="M472.4,639.2H477.4" stroke="#000" stroke-width="1.8"/>
<path d="M492.0,623.1H497.0" stroke="#000" stroke-width="1.8"/>
<path d="M474.3,640.6H479.3" stroke="#000" stroke-width="1.8"/>
<path d="M484.9,639.0H489.9" stroke="#000" stroke-width="1.8"/>
<path d="M514.4,640.3H519.4" stroke="#000" stroke-width="1.8"/>
<path d="M471.5,622.8H476.5" stroke="#000" stroke-width="1.8"/>
<path d="M439.9,640.4H444.9" stroke="#000" stroke-width="1.8"/>
<path d="M474.5,629.1H479.5" stroke="#000" stroke-width="1.8"/>
<path d="M449.4,636.6H454.4" stroke="#000" stroke-width="1.8"/>
<path d="M506.2,635.4H511.2" stroke="#000" stroke-width="1.8"/>
<path d="M473.6,633.3H478.6" stroke="#000" stroke-width="1.8"/>
<path d="M496.0,638.1H501.0" stroke="#000" stroke-width="1.8"/>
<path d="M439.5,635.2H444.5" stroke="#000" stroke-width="1.8"/>
<path d="M444.2,629.2H449.2" stroke="#000" stroke-width="1.8"/>
<path d="M495.0,629.0H500.0" stroke="#000" stroke-width="1.8"/>
<path d="M486.4,624.7H491.4" stroke="#000" stroke-width="1.8"/>
<path d="M501.1,635.1H506.1" stroke="#000" stroke-width="1.8"/>
<path d="M446.0,638.1H451.0" stroke="#000" stroke-width="1.8"/>
<path d="M494.8,638.2H499.8" stroke="#000" stroke-width="1.8"/>
<path d="M507.5,641.4H512.5" stroke="#000" stroke-width="1.8"/>
<path d="M464.8,636.5H469.8" stroke="#000" stroke-width="1.8"/>
<path d="M518.3,632.7H523.3" stroke="#000" stroke-width="1.8"/>
<path d="M462.2,633.3H467.2" stroke="#000" stroke-width="1.8"/>
<path d="M453.0,622.6H458.0" stroke="#000" stroke-width="1.8"/>
<path d="M489.2,626.3H494.2" stroke="#000" stroke-width="1.8"/>
<path d="M443.0,630.6H448.0" stroke="#000" stroke-width="1.8"/>
<path d="M507.1,638.7H512.1" stroke="#000" stroke-width="1.8"/>
<path d="M505.7,628.5H510.7" stroke="#000" stroke-width="1.8"/>
<path d="M512.1,635.7H517.1" stroke="#000" stroke-width="1.8"/>
<path d="M495.4,630.4H500.4" stroke="#000" stroke-width="1.8"/>
<path d="M492.2,636.9H497.2" stroke="#000" stroke-width="1.8"/>
<path d="M490.3,641.3H495.3" stroke="#000" stroke-width="1.8"/>
<path d="M474.3,637.4H479.3" stroke="#000" stroke-width="1.8"/>
<path d="M487.0,635.7H492.0" stroke="#000" stroke-width="1.8"/>
<path d="M511.9,623.0H516.9" stroke="#000" stroke-width="1.8"/>
<path d="M495.4,629.5H500.4" stroke="#000" stroke-width="1.8"/>
<path d="M599.4,656.8H604.4M601.9,654.3V659.3" stroke="#9a4ea5" stroke-width="1.5"/>
<path d="M602.4,641.9H607.4M604.9,639.4V644.4" stroke="#9a4ea5" stroke-width="1.5"/>
<path d="M609.0,639.1H614.0M611.5,636.6V641.6" stroke="#9a4ea5" stroke-width="1.5"/>
<path d="M610.1,644.6H615.1M612.6,642.1V647.1" stroke="#9a4ea5" stroke-width="1.5"/>
<path d="M597.0,654.7H602.0M599.5,652.2V657.2" stroke="#9a4ea5" stroke-width="1.5"/>
<path d="M600.3,653.4H605.3M602.8,650.9V655.9" stroke="#9a4ea5" stroke-width="1.5"/>
<path d="M609.5,649.7H614.5M612.0,647.2V652.2" stroke="#9a4ea5" stroke-width="1.5"/>
<path d="M610.0,644.2H615.0M612.5,641.7V646.7" stroke="#9a4ea5" stroke-width="1.5"/>
<path d="M609.7,648.9H614.7M612.2,646.4V651.4" stroke="#9a4ea5" stroke-width="1.5"/>
<path d="M596.9,642.9H601.9M599.4,640.4V645.4" stroke="#9a4ea5" stroke-width="1.5"/>
<path d="M597.9,651.4H602.9M600.4,648.9V653.9" stroke="#9a4ea5" stroke-width="1.5"/>
<path d="M598.5,647.0H603.5M601.0,644.5V649.5" stroke="#9a4ea5" stroke-width="1.5"/>
<path d="M613.3,650.7H618.3M615.8,648.2V653.2" stroke="#9a4ea5" stroke-width="1.5"/>
<path d="M597.7,650.3H602.7M600.2,647.8V652.8" stroke="#9a4ea5" stroke-width="1.5"/>
<path d="M603.1,647.3H608.1M605.6,644.8V649.8" stroke="#9a4ea5" stroke-width="1.5"/>
<path d="M614.0,640.8H619.0M616.5,638.3V643.3" stroke="#9a4ea5" stroke-width="1.5"/>
<path d="M600.0,637.7H605.0M602.5,635.2V640.2" stroke="#9a4ea5" stroke-width="1.5"/>
<path d="M601.5,643.8H606.5M604.0,641.3V646.3" stroke="#9a4ea5" stroke-width="1.5"/>
<path d="M610.2,655.7H615.2M612.7,653.2V658.2" stroke="#9a4ea5" stroke-width="1.5"/>
<path d="M601.4,643.3H606.4M603.9,640.8V645.8" stroke="#9a4ea5" stroke-width="1.5"/>
<path d="M601.0,645.4H606.0M603.5,642.9V647.9" stroke="#9a4ea5" stroke-width="1.5"/>
<path d="M608.8,643.4H613.8M611.3,640.9V645.9" stroke="#9a4ea5" stroke-width="1.5"/>
<path d="M610.8,650.7H615.8M613.3,648.2V653.2" stroke="#9a4ea5" stroke-width="1.5"/>
<path d="M612.0,645.0H617.0M614.5,642.5V647.5" stroke="#9a4ea5" stroke-width="1.5"/>
<path d="M601.2,655.8H606.2M603.7,653.3V658.3" stroke="#9a4ea5" stroke-width="1.5"/>
<path d="M604.3,652.4H609.3M606.8,649.9V654.9" stroke="#9a4ea5" stroke-width="1.5"/>
<path d="M602.7,655.4H607.7M605.2,652.9V657.9" stroke="#9a4ea5" stroke-width="1.5"/>
<path d="M596.6,650.2H601.6M599.1,647.7V652.7" stroke="#9a4ea5" stroke-width="1.5"/>
<path d="M611.5,648.4H616.5M614.0,645.9V650.9" stroke="#9a4ea5" stroke-width="1.5"/>
<path d="M597.4,651.7H602.4M599.9,649.2V654.2" stroke="#9a4ea5" stroke-width="1.5"/>
<path d="M615.9,655.1H620.9M618.4,652.6V657.6" stroke="#9a4ea5" stroke-width="1.5"/>
<path d="M596.8,642.8H601.8M599.3,640.3V645.3" stroke="#9a4ea5" stroke-width="1.5"/>
<path d="M616.2,641.9H621.2M618.7,639.4V644.4" stroke="#9a4ea5" stroke-width="1.5"/>
<path d="M605.8,646.1H610.8M608.3,643.6V648.6" stroke="#9a4ea5" stroke-width="1.5"/>
<path d="M603.2,638.1H608.2M605.7,635.6V640.6" stroke="#9a4ea5" stroke-width="1.5"/>
<path d="M601.1,653.5H606.1M603.6,651.0V656.0" stroke="#9a4ea5" stroke-width="1.5"/>
<path d="M599.3,653.8H604.3M601.8,651.3V656.3" stroke="#9a4ea5" stroke-width="1.5"/>
<path d="M608.6,643.7H613.6M611.1,641.2V646.2" stroke="#9a4ea5" stroke-width="1.5"/>
<path d="M603.6,655.3H608.6M606.1,652.8V657.8" stroke="#9a4ea5" stroke-width="1.5"/>
<path d="M597.2,652.6H602.2M599.7,650.1V655.1" stroke="#9a4ea5" stroke-width="1.5"/>
<path d="M599.4,651.9H604.4M601.9,649.4V654.4" stroke="#9a4ea5" stroke-width="1.5"/>
<path d="M597.3,647.6H602.3M599.8,645.1V650.1" stroke="#9a4ea5" stroke-width="1.5"/>
<path d="M599.0,649.2H604.0M601.5,646.7V651.7" stroke="#9a4ea5" stroke-width="1.5"/>
<path d="M598.5,638.5H603.5M601.0,636.0V641.0" stroke="#9a4ea5" stroke-width="1.5"/>
<path d="M613.3,654.4H618.3M615.8,651.9V656.9" stroke="#9a4ea5" stroke-width="1.5"/>
<path d="M615.2,650.6H620.2M617.7,648.1V653.1" stroke="#9a4ea5" stroke-width="1.5"/>
<path d="M596.6,654.3H601.6M599.1,651.8V656.8" stroke="#9a4ea5" stroke-width="1.5"/>
<path d="M599.0,648.8H604.0M601.5,646.3V651.3" stroke="#9a4ea5" stroke-width="1.5"/>
<path d="M355.9,645.3H360.9M358.4,642.8V647.8" stroke="#9a4ea5" stroke-width="1.5"/>
<path d="M393.5,612.0H398.5M396.0,609.5V614.5" stroke="#9a4ea5" stroke-width="1.5"/>
<path d="M393.5,606.0H398.5M396.0,603.5V608.5" stroke="#9a4ea5" stroke-width="1.5"/>
<path d="M419.5,613.0H424.5M422.0,610.5V615.5" stroke="#9a4ea5" stroke-width="1.5"/>
<path d="M434.5,597.0H439.5M437.0,594.5V599.5" stroke="#9a4ea5" stroke-width="1.5"/>
<path d="M452.5,591.0H457.5M455.0,588.5V593.5" stroke="#9a4ea5" stroke-width="1.5"/>
<path d="M490.5,579.0H495.5M493.0,576.5V581.5" stroke="#9a4ea5" stroke-width="1.5"/>
<path d="M502.5,583.0H507.5M505.0,580.5V585.5" stroke="#9a4ea5" stroke-width="1.5"/>
<path d="M512.5,581.0H517.5M515.0,578.5V583.5" stroke="#9a4ea5" stroke-width="1.5"/>
<path d="M520.5,588.0H525.5M523.0,585.5V590.5" stroke="#9a4ea5" stroke-width="1.5"/>
<path d="M560.5,588.0H565.5M563.0,585.5V590.5" stroke="#9a4ea5" stroke-width="1.5"/>
<path d="M577.5,598.0H582.5M580.0,595.5V600.5" stroke="#9a4ea5" stroke-width="1.5"/>
<path d="M594.5,583.0H599.5M597.0,580.5V585.5" stroke="#9a4ea5" stroke-width="1.5"/>
<path d="M608.5,622.0H613.5M611.0,619.5V624.5" stroke="#9a4ea5" stroke-width="1.5"/>
<path d="M598.5,676.0H603.5M601.0,673.5V678.5" stroke="#9a4ea5" stroke-width="1.5"/>
<path d="M610.5,639.0H615.5M613.0,636.5V641.5" stroke="#9a4ea5" stroke-width="1.5"/>
<path d="M614.5,647.0H619.5M617.0,644.5V649.5" stroke="#9a4ea5" stroke-width="1.5"/>
<path d="M420.5,660.0H425.5M423.0,657.5V662.5" stroke="#9a4ea5" stroke-width="1.5"/>
<path d="M383.5,660.0H388.5M386.0,657.5V662.5" stroke="#9a4ea5" stroke-width="1.5"/>
<path d="M598.5,690.0H603.5M601.0,687.5V692.5" stroke="#9a4ea5" stroke-width="1.5"/>
<path d="M449.3,578.8L452.7,582.2M449.3,582.2L452.7,578.8" stroke="#f8801c" stroke-width="1.3"/>
<path d="M563.3,581.3L566.7,584.7M563.3,584.7L566.7,581.3" stroke="#f8801c" stroke-width="1.3"/>
<path d="M598.3,580.3L601.7,583.7M598.3,583.7L601.7,580.3" stroke="#f8801c" stroke-width="1.3"/>
<path d="M540.3,584.3L543.7,587.7M540.3,587.7L543.7,584.3" stroke="#f8801c" stroke-width="1.3"/>
<polyline points="358.0,664.0 358.6,669.2 359.5,662.0 360.1,672.0 360.7,662.5 361.3,670.5 361.8,663.0 362.4,670.3 363.2,665.5 363.8,669.7 364.4,666.9 365.2,673.8 365.8,666.2 366.7,674.2 367.6,668.0 368.6,672.3 369.1,663.1 370.2,668.4 371.1,662.7 371.7,669.0 372.4,663.1 373.5,664.9 374.2,657.9 374.9,664.1 375.7,659.4 376.7,662.8 377.3,654.9 377.8,660.7 378.3,655.7 378.9,659.3 379.9,653.3 380.7,660.1 381.7,651.7 382.5,657.8 383.3,648.8 384.4,658.6 385.4,648.4 386.0,656.3 386.9,643.2 387.6,651.8 388.4,645.1 389.2,649.3 389.8,639.8 390.6,649.6 391.3,639.4 392.2,645.7 392.8,638.6 393.5,645.1 394.3,633.8 394.9,640.3 395.6,627.9 396.4,632.0 397.3,621.1 398.3,633.6 399.0,626.8 399.9,634.7 400.5,624.7 401.6,636.5 402.1,629.1 403.0,634.6 404.0,627.5 405.0,634.5 405.8,621.0 406.8,628.3 407.9,617.5 408.7,629.8 409.6,620.3 410.2,637.2 411.2,627.1 411.9,638.3 412.7,633.0 413.7,640.2 414.6,626.5 415.3,636.1 416.3,629.1 417.3,640.3 418.0,624.1 418.8,633.0 419.8,628.2 420.4,638.1 421.2,620.6 422.2,634.4 422.9,622.0 423.8,630.3 424.8,622.0 425.7,629.8 426.6,620.6 427.6,627.0 428.2,616.7 429.1,625.5 429.7,614.6 430.6,627.1 431.7,616.9 432.7,627.9 433.4,609.9 434.4,631.0 435.4,612.5 436.3,624.8 437.2,610.1 438.0,629.0 438.6,609.9 439.5,624.4 440.4,605.8 440.9,621.6 441.6,603.1 442.5,626.2 443.3,603.5 443.9,617.7 444.5,603.3 445.5,619.0 446.3,604.1 447.2,618.0 448.2,606.2 448.9,626.4 449.6,596.1 450.6,617.3 451.4,594.0 452.2,623.3 452.8,593.8 453.6,615.1 454.4,605.0 455.3,615.9 456.3,596.3 457.0,625.3 457.6,599.6 458.5,617.6 459.3,604.1 460.2,626.4 460.9,605.1 461.5,616.0 462.0,601.5 462.9,618.7 463.6,591.3 464.3,622.7 465.0,594.8 465.8,625.7 466.3,597.7 467.4,614.9 468.3,603.5 469.3,617.8 470.3,591.7 471.0,627.3 472.0,593.9 472.7,620.8 473.7,602.7 474.6,617.3 475.6,603.3 476.2,626.9 477.0,594.2 477.9,627.7 479.0,598.1 479.7,623.2 480.5,595.5 481.4,626.9 482.0,596.1 483.0,616.4 483.9,593.3 484.7,621.4 485.4,601.6 486.2,612.6 487.0,601.4 488.0,612.6 488.9,601.9 489.4,623.3 490.3,602.5 491.1,619.3 492.0,598.3 493.1,619.9 493.7,591.7 494.8,622.1 495.3,594.7 496.0,614.3 496.8,596.0 497.4,621.2 498.2,595.8 499.1,625.5 499.8,596.5 500.7,618.2 501.2,594.3 502.2,618.6 502.8,603.3 503.4,621.5 504.4,605.1 505.4,626.8 506.2,602.4 507.1,626.4 507.9,596.8 508.9,628.4 509.9,604.5 510.8,622.8 511.9,599.3 512.9,614.3 513.9,593.0 514.8,617.4 515.6,598.4 516.7,626.9 517.3,592.0 518.3,624.2 518.8,601.4 519.4,616.9 519.9,594.4 520.7,625.5 521.3,598.0 522.0,624.8 522.8,593.7 523.7,626.8 524.6,606.7 525.4,626.2 526.1,595.9 527.2,620.1 528.0,605.5 528.9,619.1 529.7,600.0 530.4,625.7 530.9,603.6 531.4,617.9 532.0,608.3 532.5,619.4 533.5,594.7 534.3,626.2 535.0,596.9 535.9,625.5 536.8,598.6 537.4,627.5 538.5,600.5 539.3,629.7 540.0,608.2 540.8,621.5 541.6,602.9 542.6,624.0 543.5,609.0 544.3,630.6 545.0,598.6 545.7,623.2 546.4,609.8 547.4,621.2 548.5,609.0 549.5,624.9 550.2,601.2 551.1,631.6 552.2,598.5 552.8,624.4 553.5,609.0 554.3,622.4 555.1,599.4 556.0,629.2 556.7,610.2 557.5,628.1 558.3,604.9 559.3,626.0 560.1,607.5 561.2,629.6 562.2,617.4 562.8,627.8 563.6,612.0 564.6,631.1 565.2,613.4 565.9,640.6 566.8,619.2 567.8,642.9 568.8,613.2 569.6,639.8 570.7,614.3 571.3,636.0 572.1,622.2 573.2,635.9 574.1,623.8 574.7,644.4 575.7,623.8 576.7,634.3 577.6,621.2 578.3,644.4 579.2,626.2 579.7,633.9 580.6,616.7 581.4,643.2 582.4,626.4 583.4,644.1 584.5,624.7 585.0,636.0 586.0,624.4 586.6,639.2 587.6,616.0 588.2,634.9 589.0,616.6 589.6,640.1 590.6,615.9 591.6,638.0 592.4,622.9 593.3,635.0 594.4,614.2 595.3,627.2 596.0,612.2 596.6,628.3 597.6,617.1 598.1,631.2 598.9,613.2 600.0,639.0 600.6,620.4 601.2,636.5 602.1,632.6 602.8,644.7 603.6,634.7 604.2,647.1 605.0,638.3 605.8,646.6 606.7,641.5 607.4,646.2 608.1,640.8 608.8,647.5 609.4,641.6 610.2,649.3 611.2,643.8 611.9,649.0 612.5,644.9 613.2,649.1 614.0,644.5 614.9,647.0 615.7,643.3 616.6,648.5 617.3,643.2 618.2,648.0" fill="none" stroke="#9a9848" stroke-width="0.8" stroke-linejoin="bevel" opacity="0.8"/>
<line x1="598.60" y1="574.00" x2="598.60" y2="612.00" stroke="#a9b86a" stroke-width="1.2" />
<line x1="440.93" y1="598.38" x2="440.93" y2="625.34" stroke="#b9d98e" stroke-width="0.8" />
<line x1="489.54" y1="596.67" x2="489.54" y2="623.05" stroke="#b9d98e" stroke-width="0.8" />
<line x1="502.88" y1="590.46" x2="502.88" y2="623.23" stroke="#b9d98e" stroke-width="0.8" />
<line x1="591.03" y1="616.74" x2="591.03" y2="640.43" stroke="#b9d98e" stroke-width="0.8" />
<line x1="447.60" y1="601.39" x2="447.60" y2="619.08" stroke="#b9d98e" stroke-width="0.8" />
<line x1="484.27" y1="591.76" x2="484.27" y2="621.27" stroke="#b9d98e" stroke-width="0.8" />
<line x1="572.55" y1="615.44" x2="572.55" y2="643.40" stroke="#b9d98e" stroke-width="0.8" />
<line x1="504.90" y1="595.57" x2="504.90" y2="624.30" stroke="#b9d98e" stroke-width="0.8" />
<line x1="532.03" y1="592.22" x2="532.03" y2="629.02" stroke="#b9d98e" stroke-width="0.8" />
<line x1="496.85" y1="593.96" x2="496.85" y2="623.64" stroke="#b9d98e" stroke-width="0.8" />
<line x1="461.17" y1="592.10" x2="461.17" y2="625.22" stroke="#b9d98e" stroke-width="0.8" />
<line x1="498.80" y1="594.85" x2="498.80" y2="620.19" stroke="#b9d98e" stroke-width="0.8" />
<line x1="487.93" y1="590.68" x2="487.93" y2="622.36" stroke="#b9d98e" stroke-width="0.8" />
<line x1="583.58" y1="617.05" x2="583.58" y2="638.95" stroke="#b9d98e" stroke-width="0.8" />
</g>
<rect x="86.55" y="541.10" width="532.45" height="256.90" fill="none" stroke="#1a1a1a" stroke-width="1.1"/>
<line x1="76.05" y1="546.20" x2="86.55" y2="546.20" stroke="#1a1a1a" stroke-width="1.1" />
<line x1="608.50" y1="546.20" x2="619.00" y2="546.20" stroke="#1a1a1a" stroke-width="1.1" />
<line x1="81.35" y1="571.55" x2="86.55" y2="571.55" stroke="#1a1a1a" stroke-width="1.1" />
<line x1="613.80" y1="571.55" x2="619.00" y2="571.55" stroke="#1a1a1a" stroke-width="1.1" />
<line x1="76.05" y1="596.90" x2="86.55" y2="596.90" stroke="#1a1a1a" stroke-width="1.1" />
<line x1="608.50" y1="596.90" x2="619.00" y2="596.90" stroke="#1a1a1a" stroke-width="1.1" />
<line x1="81.35" y1="622.25" x2="86.55" y2="622.25" stroke="#1a1a1a" stroke-width="1.1" />
<line x1="613.80" y1="622.25" x2="619.00" y2="622.25" stroke="#1a1a1a" stroke-width="1.1" />
<line x1="76.05" y1="647.60" x2="86.55" y2="647.60" stroke="#1a1a1a" stroke-width="1.1" />
<line x1="608.50" y1="647.60" x2="619.00" y2="647.60" stroke="#1a1a1a" stroke-width="1.1" />
<line x1="81.35" y1="672.95" x2="86.55" y2="672.95" stroke="#1a1a1a" stroke-width="1.1" />
<line x1="613.80" y1="672.95" x2="619.00" y2="672.95" stroke="#1a1a1a" stroke-width="1.1" />
<line x1="76.05" y1="698.30" x2="86.55" y2="698.30" stroke="#1a1a1a" stroke-width="1.1" />
<line x1="608.50" y1="698.30" x2="619.00" y2="698.30" stroke="#1a1a1a" stroke-width="1.1" />
<line x1="81.35" y1="723.65" x2="86.55" y2="723.65" stroke="#1a1a1a" stroke-width="1.1" />
<line x1="613.80" y1="723.65" x2="619.00" y2="723.65" stroke="#1a1a1a" stroke-width="1.1" />
<line x1="76.05" y1="749.00" x2="86.55" y2="749.00" stroke="#1a1a1a" stroke-width="1.1" />
<line x1="608.50" y1="749.00" x2="619.00" y2="749.00" stroke="#1a1a1a" stroke-width="1.1" />
<line x1="81.35" y1="774.35" x2="86.55" y2="774.35" stroke="#1a1a1a" stroke-width="1.1" />
<line x1="613.80" y1="774.35" x2="619.00" y2="774.35" stroke="#1a1a1a" stroke-width="1.1" />
<text x="68.80" y="552.50" font-size="17.5" text-anchor="end" font-weight="normal" fill="#111" >−2</text>
<text x="68.80" y="603.20" font-size="17.5" text-anchor="end" font-weight="normal" fill="#111" >−1</text>
<text x="68.80" y="653.90" font-size="17.5" text-anchor="end" font-weight="normal" fill="#111" >0</text>
<text x="68.80" y="704.60" font-size="17.5" text-anchor="end" font-weight="normal" fill="#111" >1</text>
<text x="68.80" y="755.30" font-size="17.5" text-anchor="end" font-weight="normal" fill="#111" >2</text>
<line x1="93.93" y1="798.00" x2="93.93" y2="803.20" stroke="#1a1a1a" stroke-width="1.1" />
<line x1="115.97" y1="798.00" x2="115.97" y2="803.20" stroke="#1a1a1a" stroke-width="1.1" />
<line x1="138.00" y1="798.00" x2="138.00" y2="808.50" stroke="#1a1a1a" stroke-width="1.1" />
<line x1="160.03" y1="798.00" x2="160.03" y2="803.20" stroke="#1a1a1a" stroke-width="1.1" />
<line x1="182.07" y1="798.00" x2="182.07" y2="803.20" stroke="#1a1a1a" stroke-width="1.1" />
<line x1="204.11" y1="798.00" x2="204.11" y2="803.20" stroke="#1a1a1a" stroke-width="1.1" />
<line x1="226.14" y1="798.00" x2="226.14" y2="803.20" stroke="#1a1a1a" stroke-width="1.1" />
<line x1="248.18" y1="798.00" x2="248.18" y2="808.50" stroke="#1a1a1a" stroke-width="1.1" />
<line x1="270.21" y1="798.00" x2="270.21" y2="803.20" stroke="#1a1a1a" stroke-width="1.1" />
<line x1="292.25" y1="798.00" x2="292.25" y2="803.20" stroke="#1a1a1a" stroke-width="1.1" />
<line x1="314.28" y1="798.00" x2="314.28" y2="803.20" stroke="#1a1a1a" stroke-width="1.1" />
<line x1="336.31" y1="798.00" x2="336.31" y2="803.20" stroke="#1a1a1a" stroke-width="1.1" />
<line x1="358.35" y1="798.00" x2="358.35" y2="808.50" stroke="#1a1a1a" stroke-width="1.1" />
<line x1="380.38" y1="798.00" x2="380.38" y2="803.20" stroke="#1a1a1a" stroke-width="1.1" />
<line x1="402.42" y1="798.00" x2="402.42" y2="803.20" stroke="#1a1a1a" stroke-width="1.1" />
<line x1="424.45" y1="798.00" x2="424.45" y2="803.20" stroke="#1a1a1a" stroke-width="1.1" />
<line x1="446.49" y1="798.00" x2="446.49" y2="803.20" stroke="#1a1a1a" stroke-width="1.1" />
<line x1="468.52" y1="798.00" x2="468.52" y2="808.50" stroke="#1a1a1a" stroke-width="1.1" />
<line x1="490.56" y1="798.00" x2="490.56" y2="803.20" stroke="#1a1a1a" stroke-width="1.1" />
<line x1="512.60" y1="798.00" x2="512.60" y2="803.20" stroke="#1a1a1a" stroke-width="1.1" />
<line x1="534.63" y1="798.00" x2="534.63" y2="803.20" stroke="#1a1a1a" stroke-width="1.1" />
<line x1="556.66" y1="798.00" x2="556.66" y2="803.20" stroke="#1a1a1a" stroke-width="1.1" />
<line x1="578.70" y1="798.00" x2="578.70" y2="808.50" stroke="#1a1a1a" stroke-width="1.1" />
<line x1="600.74" y1="798.00" x2="600.74" y2="803.20" stroke="#1a1a1a" stroke-width="1.1" />
<text x="138.00" y="829.00" font-size="17.5" text-anchor="middle" font-weight="normal" fill="#111" >35</text>
<text x="248.18" y="829.00" font-size="17.5" text-anchor="middle" font-weight="normal" fill="#111" >40</text>
<text x="358.35" y="829.00" font-size="17.5" text-anchor="middle" font-weight="normal" fill="#111" >45</text>
<text x="468.52" y="829.00" font-size="17.5" text-anchor="middle" font-weight="normal" fill="#111" >50</text>
<text x="578.70" y="829.00" font-size="17.5" text-anchor="middle" font-weight="normal" fill="#111" >55</text>
<text x="352.75" y="853.50" font-size="17.5" text-anchor="middle" font-weight="normal" fill="#111" >Age (Ma)</text>
<text x="95.00" y="791.00" font-size="22" text-anchor="start" font-weight="bold" fill="#000" >c</text>
<text x="112.30" y="538.00" font-size="15" text-anchor="middle" font-weight="normal" fill="#111" >EOT</text>
<text x="251.50" y="538.00" font-size="15" text-anchor="middle" font-weight="normal" fill="#111" >MECO</text>
<text x="483.90" y="538.00" font-size="15" text-anchor="middle" font-weight="normal" fill="#111" >EECO</text>
<text x="546.50" y="538.00" font-size="15" text-anchor="middle" font-weight="normal" fill="#111" >ETM2</text>
<text x="598.00" y="538.00" font-size="15" text-anchor="middle" font-weight="normal" fill="#111" >PETM</text>
<text x="0.00" y="0.00" font-size="17.5" text-anchor="middle" font-weight="normal" fill="#111" transform="translate(31.0,670.5) rotate(-90)">δ<tspan font-size="12.5" dy="-8">18</tspan><tspan dy="8">O (‰)</tspan><tspan font-size="12.5" dy="4">benthic foram</tspan></text>
</svg></body></html>
